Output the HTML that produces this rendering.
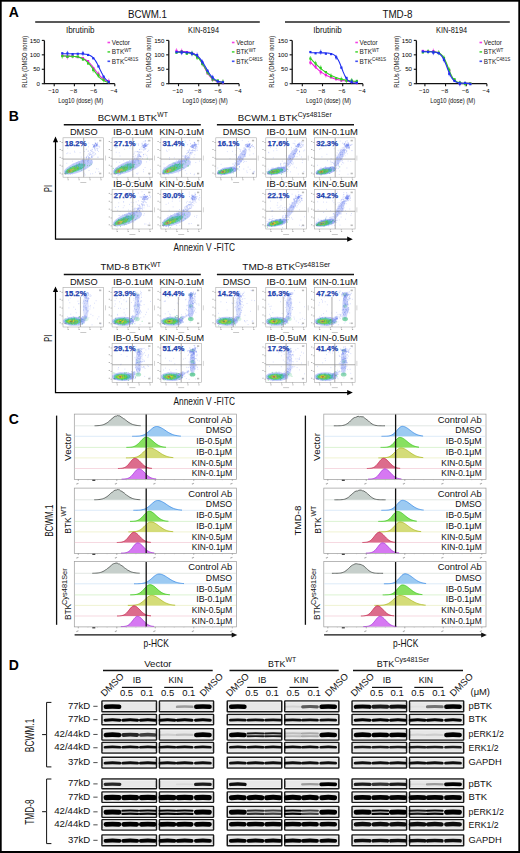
<!DOCTYPE html>
<html><head><meta charset="utf-8"><style>
html,body{margin:0;padding:0;background:#fff;}
svg{display:block;font-family:"Liberation Sans", sans-serif;}
</style></head><body>
<svg width="520" height="853" viewBox="0 0 520 853">
<defs>
<filter id="bb" filterUnits="userSpaceOnUse" x="90" y="690" width="390" height="165"><feGaussianBlur stdDeviation="0.5"/></filter>
<filter id="b1" x="-30%" y="-80%" width="160%" height="260%"><feGaussianBlur stdDeviation="0.7"/></filter>
<filter id="b2" x="-30%" y="-80%" width="160%" height="260%"><feGaussianBlur stdDeviation="1.4"/></filter>
<filter id="b3" x="-50%" y="-50%" width="200%" height="200%"><feGaussianBlur stdDeviation="2.2"/></filter>
</defs>
<rect x="0.85" y="0.85" width="518.3" height="851.3" fill="none" stroke="#000" stroke-width="1.7"/>
<rect x="0" y="851" width="520" height="2" fill="#000"/>
<text x="8.8" y="17" font-size="14" text-anchor="start" font-weight="bold" fill="#000" >A</text>
<text x="8.8" y="120.9" font-size="14" text-anchor="start" font-weight="bold" fill="#000" >B</text>
<text x="8.8" y="423.7" font-size="14" text-anchor="start" font-weight="bold" fill="#000" >C</text>
<text x="8.8" y="670.2" font-size="14" text-anchor="start" font-weight="bold" fill="#000" >D</text>
<text x="147.5" y="18.3" font-size="10" text-anchor="middle" font-weight="normal" fill="#111" textLength="39" lengthAdjust="spacingAndGlyphs" >BCWM.1</text>
<line x1="35.2" y1="22" x2="259.8" y2="22" stroke="#222" stroke-width="1.6" />
<text x="397.4" y="18.3" font-size="10" text-anchor="middle" font-weight="normal" fill="#111" textLength="30" lengthAdjust="spacingAndGlyphs" >TMD-8</text>
<line x1="285" y1="22" x2="509.8" y2="22" stroke="#222" stroke-width="1.6" />
<text x="80.2" y="33" font-size="8.6" text-anchor="middle" font-weight="normal" fill="#111" textLength="28.5" lengthAdjust="spacingAndGlyphs" >Ibrutinib</text>
<path d="M44.4 40.4 V83.7 H114.8" fill="none" stroke="#111" stroke-width="1.3"/>
<line x1="41.8" y1="83.7" x2="44.4" y2="83.7" stroke="#111" stroke-width="1.1" />
<text x="40" y="85.9" font-size="6.1" text-anchor="end" font-weight="normal" fill="#000" >0</text>
<line x1="41.8" y1="69.27" x2="44.4" y2="69.27" stroke="#111" stroke-width="1.1" />
<text x="40" y="71.47" font-size="6.1" text-anchor="end" font-weight="normal" fill="#000" >50</text>
<line x1="41.8" y1="54.83" x2="44.4" y2="54.83" stroke="#111" stroke-width="1.1" />
<text x="40" y="57.03" font-size="6.1" text-anchor="end" font-weight="normal" fill="#000" >100</text>
<line x1="41.8" y1="40.4" x2="44.4" y2="40.4" stroke="#111" stroke-width="1.1" />
<text x="40" y="42.6" font-size="6.1" text-anchor="end" font-weight="normal" fill="#000" >150</text>
<line x1="54.2" y1="83.7" x2="54.2" y2="86.2" stroke="#111" stroke-width="1.1" />
<text x="53.4" y="92.8" font-size="6.1" text-anchor="middle" font-weight="normal" fill="#000" >−10</text>
<line x1="74.4" y1="83.7" x2="74.4" y2="86.2" stroke="#111" stroke-width="1.1" />
<text x="73.6" y="92.8" font-size="6.1" text-anchor="middle" font-weight="normal" fill="#000" >−8</text>
<line x1="94.6" y1="83.7" x2="94.6" y2="86.2" stroke="#111" stroke-width="1.1" />
<text x="93.8" y="92.8" font-size="6.1" text-anchor="middle" font-weight="normal" fill="#000" >−6</text>
<line x1="114.8" y1="83.7" x2="114.8" y2="86.2" stroke="#111" stroke-width="1.1" />
<text x="114" y="92.8" font-size="6.1" text-anchor="middle" font-weight="normal" fill="#000" >−4</text>
<text x="58.2" y="102.6" font-size="7.4" text-anchor="start" font-weight="normal" fill="#111" textLength="45" lengthAdjust="spacingAndGlyphs" >Log10 (dose) (M)</text>
<text transform="translate(26.6,87.7) rotate(-90)" font-size="7.2" font-weight="normal" fill="#111" textLength="51.9" lengthAdjust="spacingAndGlyphs">RLUs (DMSO norm)</text>
<rect x="107.5" y="41.7" width="2.6" height="1.6" fill="#f020e0" opacity="0.85"/>
<text x="111.8" y="44.8" font-size="6.4" fill="#222">Vector</text>
<rect x="107.5" y="51.1" width="2.6" height="1.6" fill="#30d020" opacity="0.85"/>
<text x="111.8" y="54.2" font-size="6.4" fill="#222">BTK<tspan font-size="4.6" dy="-2.6">WT</tspan></text>
<rect x="107.5" y="60.5" width="2.6" height="1.6" fill="#2030f0" opacity="0.85"/>
<text x="111.8" y="63.6" font-size="6.4" fill="#222">BTK<tspan font-size="4.6" dy="-2.6">C481S</tspan></text>
<polyline points="62.28,56.04 63.05,56.04 63.83,56.05 64.6,56.06 65.38,56.07 66.15,56.09 66.93,56.11 67.7,56.12 68.47,56.15 69.25,56.17 70.02,56.2 70.8,56.24 71.57,56.27 72.35,56.32 73.12,56.37 73.9,56.44 74.67,56.51 75.44,56.59 76.22,56.68 76.99,56.79 77.77,56.92 78.54,57.06 79.32,57.23 80.09,57.42 80.86,57.64 81.64,57.89 82.41,58.17 83.19,58.49 83.96,58.85 84.74,59.26 85.51,59.72 86.28,60.24 87.06,60.8 87.83,61.43 88.61,62.12 89.38,62.86 90.16,63.67 90.93,64.53 91.7,65.44 92.48,66.39 93.25,67.38 94.03,68.4 94.8,69.44 95.58,70.48 96.35,71.51 97.12,72.52 97.9,73.51 98.67,74.45 99.45,75.35 100.22,76.2 101,76.99 101.77,77.73 102.55,78.4 103.32,79.01 104.09,79.57 104.87,80.07 105.64,80.52 106.42,80.92 107.19,81.27 107.97,81.58 108.74,81.86" fill="none" stroke="#f020e0" stroke-width="1.1"/>
<rect x="61.18" y="54.32" width="2.2" height="2.2" fill="#f020e0"/>
<rect x="66.34" y="55.83" width="2.2" height="2.2" fill="#f020e0"/>
<line x1="67.44" y1="54.43" x2="67.44" y2="59.43" stroke="#f020e0" stroke-width="0.6" />
<rect x="71.5" y="54.77" width="2.2" height="2.2" fill="#f020e0"/>
<line x1="72.6" y1="53.37" x2="72.6" y2="58.37" stroke="#f020e0" stroke-width="0.6" />
<rect x="76.67" y="56.05" width="2.2" height="2.2" fill="#f020e0"/>
<rect x="81.83" y="56.93" width="2.2" height="2.2" fill="#f020e0"/>
<rect x="86.99" y="60.01" width="2.2" height="2.2" fill="#f020e0"/>
<rect x="92.15" y="66.98" width="2.2" height="2.2" fill="#f020e0"/>
<rect x="97.32" y="72.78" width="2.2" height="2.2" fill="#f020e0"/>
<line x1="98.42" y1="71.38" x2="98.42" y2="76.38" stroke="#f020e0" stroke-width="0.6" />
<rect x="102.48" y="77.9" width="2.2" height="2.2" fill="#f020e0"/>
<rect x="107.64" y="80.09" width="2.2" height="2.2" fill="#f020e0"/>
<line x1="108.74" y1="78.69" x2="108.74" y2="83.69" stroke="#f020e0" stroke-width="0.6" />
<polyline points="62.28,56.03 63.05,56.04 63.83,56.05 64.6,56.06 65.38,56.07 66.15,56.09 66.93,56.1 67.7,56.12 68.47,56.15 69.25,56.17 70.02,56.21 70.8,56.24 71.57,56.29 72.35,56.34 73.12,56.4 73.9,56.47 74.67,56.55 75.44,56.64 76.22,56.75 76.99,56.88 77.77,57.03 78.54,57.2 79.32,57.39 80.09,57.62 80.86,57.88 81.64,58.18 82.41,58.53 83.19,58.92 83.96,59.36 84.74,59.86 85.51,60.42 86.28,61.05 87.06,61.74 87.83,62.5 88.61,63.32 89.38,64.21 90.16,65.15 90.93,66.15 91.7,67.2 92.48,68.27 93.25,69.37 94.03,70.47 94.8,71.56 95.58,72.63 96.35,73.67 97.12,74.66 97.9,75.6 98.67,76.48 99.45,77.29 100.22,78.04 101,78.73 101.77,79.34 102.55,79.89 103.32,80.39 104.09,80.82 104.87,81.21 105.64,81.54 106.42,81.84 107.19,82.1 107.97,82.32 108.74,82.52" fill="none" stroke="#30d020" stroke-width="1.1"/>
<rect x="61.18" y="55" width="2.2" height="2.2" fill="#30d020"/>
<line x1="62.28" y1="53.6" x2="62.28" y2="58.6" stroke="#30d020" stroke-width="0.6" />
<rect x="66.34" y="55.77" width="2.2" height="2.2" fill="#30d020"/>
<rect x="71.5" y="55.49" width="2.2" height="2.2" fill="#30d020"/>
<rect x="76.67" y="55.34" width="2.2" height="2.2" fill="#30d020"/>
<rect x="81.83" y="58.49" width="2.2" height="2.2" fill="#30d020"/>
<rect x="86.99" y="62.45" width="2.2" height="2.2" fill="#30d020"/>
<rect x="92.15" y="68.92" width="2.2" height="2.2" fill="#30d020"/>
<line x1="93.25" y1="67.52" x2="93.25" y2="72.52" stroke="#30d020" stroke-width="0.6" />
<rect x="97.32" y="74.24" width="2.2" height="2.2" fill="#30d020"/>
<line x1="98.42" y1="72.84" x2="98.42" y2="77.84" stroke="#30d020" stroke-width="0.6" />
<rect x="102.48" y="78.75" width="2.2" height="2.2" fill="#30d020"/>
<line x1="103.58" y1="77.35" x2="103.58" y2="82.35" stroke="#30d020" stroke-width="0.6" />
<rect x="107.64" y="80.96" width="2.2" height="2.2" fill="#30d020"/>
<polyline points="62.28,53.68 63.05,53.68 63.83,53.68 64.6,53.68 65.38,53.68 66.15,53.68 66.93,53.68 67.7,53.68 68.47,53.68 69.25,53.68 70.02,53.69 70.8,53.69 71.57,53.69 72.35,53.69 73.12,53.69 73.9,53.7 74.67,53.7 75.44,53.71 76.22,53.72 76.99,53.73 77.77,53.74 78.54,53.75 79.32,53.77 80.09,53.79 80.86,53.82 81.64,53.85 82.41,53.9 83.19,53.95 83.96,54.02 84.74,54.1 85.51,54.2 86.28,54.33 87.06,54.49 87.83,54.68 88.61,54.92 89.38,55.21 90.16,55.56 90.93,55.99 91.7,56.5 92.48,57.12 93.25,57.85 94.03,58.71 94.8,59.71 95.58,60.84 96.35,62.11 97.12,63.51 97.9,65.02 98.67,66.61 99.45,68.26 100.22,69.91 101,71.53 101.77,73.09 102.55,74.55 103.32,75.89 104.09,77.1 104.87,78.17 105.64,79.09 106.42,79.89 107.19,80.57 107.97,81.13 108.74,81.61" fill="none" stroke="#2030f0" stroke-width="1.1"/>
<rect x="61.18" y="52.16" width="2.2" height="2.2" fill="#2030f0"/>
<rect x="66.34" y="52.27" width="2.2" height="2.2" fill="#2030f0"/>
<line x1="67.44" y1="50.87" x2="67.44" y2="55.87" stroke="#2030f0" stroke-width="0.6" />
<rect x="71.5" y="53.03" width="2.2" height="2.2" fill="#2030f0"/>
<rect x="76.67" y="52.69" width="2.2" height="2.2" fill="#2030f0"/>
<rect x="81.83" y="52.28" width="2.2" height="2.2" fill="#2030f0"/>
<line x1="82.93" y1="50.88" x2="82.93" y2="55.88" stroke="#2030f0" stroke-width="0.6" />
<rect x="86.99" y="53.84" width="2.2" height="2.2" fill="#2030f0"/>
<rect x="92.15" y="57.21" width="2.2" height="2.2" fill="#2030f0"/>
<rect x="97.32" y="65.32" width="2.2" height="2.2" fill="#2030f0"/>
<rect x="102.48" y="75.59" width="2.2" height="2.2" fill="#2030f0"/>
<rect x="107.64" y="80.94" width="2.2" height="2.2" fill="#2030f0"/>
<text x="203.5" y="33" font-size="8.6" text-anchor="middle" font-weight="normal" fill="#111" textLength="31" lengthAdjust="spacingAndGlyphs" >KIN-8194</text>
<path d="M168.8 40.4 V83.7 H239.1" fill="none" stroke="#111" stroke-width="1.3"/>
<line x1="166.2" y1="83.7" x2="168.8" y2="83.7" stroke="#111" stroke-width="1.1" />
<text x="164.4" y="85.9" font-size="6.1" text-anchor="end" font-weight="normal" fill="#000" >0</text>
<line x1="166.2" y1="69.27" x2="168.8" y2="69.27" stroke="#111" stroke-width="1.1" />
<text x="164.4" y="71.47" font-size="6.1" text-anchor="end" font-weight="normal" fill="#000" >50</text>
<line x1="166.2" y1="54.83" x2="168.8" y2="54.83" stroke="#111" stroke-width="1.1" />
<text x="164.4" y="57.03" font-size="6.1" text-anchor="end" font-weight="normal" fill="#000" >100</text>
<line x1="166.2" y1="40.4" x2="168.8" y2="40.4" stroke="#111" stroke-width="1.1" />
<text x="164.4" y="42.6" font-size="6.1" text-anchor="end" font-weight="normal" fill="#000" >150</text>
<line x1="178.5" y1="83.7" x2="178.5" y2="86.2" stroke="#111" stroke-width="1.1" />
<text x="177.7" y="92.8" font-size="6.1" text-anchor="middle" font-weight="normal" fill="#000" >−10</text>
<line x1="198.7" y1="83.7" x2="198.7" y2="86.2" stroke="#111" stroke-width="1.1" />
<text x="197.9" y="92.8" font-size="6.1" text-anchor="middle" font-weight="normal" fill="#000" >−8</text>
<line x1="218.9" y1="83.7" x2="218.9" y2="86.2" stroke="#111" stroke-width="1.1" />
<text x="218.1" y="92.8" font-size="6.1" text-anchor="middle" font-weight="normal" fill="#000" >−6</text>
<line x1="239.1" y1="83.7" x2="239.1" y2="86.2" stroke="#111" stroke-width="1.1" />
<text x="238.3" y="92.8" font-size="6.1" text-anchor="middle" font-weight="normal" fill="#000" >−4</text>
<text x="182.6" y="102.6" font-size="7.4" text-anchor="start" font-weight="normal" fill="#111" textLength="45" lengthAdjust="spacingAndGlyphs" >Log10 (dose) (M)</text>
<text transform="translate(151,87.7) rotate(-90)" font-size="7.2" font-weight="normal" fill="#111" textLength="51.9" lengthAdjust="spacingAndGlyphs">RLUs (DMSO norm)</text>
<rect x="231.9" y="41.7" width="2.6" height="1.6" fill="#f020e0" opacity="0.85"/>
<text x="236.2" y="44.8" font-size="6.4" fill="#222">Vector</text>
<rect x="231.9" y="51.1" width="2.6" height="1.6" fill="#30d020" opacity="0.85"/>
<text x="236.2" y="54.2" font-size="6.4" fill="#222">BTK<tspan font-size="4.6" dy="-2.6">WT</tspan></text>
<rect x="231.9" y="60.5" width="2.6" height="1.6" fill="#2030f0" opacity="0.85"/>
<text x="236.2" y="63.6" font-size="6.4" fill="#222">BTK<tspan font-size="4.6" dy="-2.6">C481S</tspan></text>
<polyline points="176.48,51.41 177.25,51.42 178.03,51.43 178.8,51.44 179.58,51.45 180.35,51.47 181.13,51.49 181.9,51.52 182.67,51.55 183.45,51.58 184.22,51.63 185,51.68 185.77,51.74 186.55,51.82 187.32,51.91 188.09,52.01 188.87,52.14 189.64,52.29 190.42,52.48 191.19,52.69 191.97,52.95 192.74,53.25 193.52,53.6 194.29,54.02 195.06,54.51 195.84,55.07 196.61,55.72 197.39,56.46 198.16,57.31 198.94,58.25 199.71,59.3 200.48,60.45 201.26,61.69 202.03,63.01 202.81,64.4 203.58,65.84 204.36,67.29 205.13,68.74 205.9,70.17 206.68,71.54 207.45,72.85 208.23,74.07 209,75.19 209.78,76.21 210.55,77.13 211.32,77.94 212.1,78.66 212.87,79.29 213.65,79.83 214.42,80.3 215.2,80.7 215.97,81.04 216.75,81.33 217.52,81.57 218.29,81.78 219.07,81.95 219.84,82.1 220.62,82.22 221.39,82.32 222.17,82.41 222.94,82.48" fill="none" stroke="#f020e0" stroke-width="1.1"/>
<rect x="175.38" y="49.71" width="2.2" height="2.2" fill="#f020e0"/>
<line x1="176.48" y1="48.31" x2="176.48" y2="53.31" stroke="#f020e0" stroke-width="0.6" />
<rect x="180.54" y="50.02" width="2.2" height="2.2" fill="#f020e0"/>
<line x1="181.64" y1="48.62" x2="181.64" y2="53.62" stroke="#f020e0" stroke-width="0.6" />
<rect x="185.7" y="50.98" width="2.2" height="2.2" fill="#f020e0"/>
<rect x="190.87" y="52.17" width="2.2" height="2.2" fill="#f020e0"/>
<rect x="196.03" y="55.19" width="2.2" height="2.2" fill="#f020e0"/>
<line x1="197.13" y1="53.79" x2="197.13" y2="58.79" stroke="#f020e0" stroke-width="0.6" />
<rect x="201.19" y="61.91" width="2.2" height="2.2" fill="#f020e0"/>
<line x1="202.29" y1="60.51" x2="202.29" y2="65.51" stroke="#f020e0" stroke-width="0.6" />
<rect x="206.35" y="72.22" width="2.2" height="2.2" fill="#f020e0"/>
<rect x="211.52" y="78.81" width="2.2" height="2.2" fill="#f020e0"/>
<rect x="216.68" y="80.15" width="2.2" height="2.2" fill="#f020e0"/>
<rect x="221.84" y="81.29" width="2.2" height="2.2" fill="#f020e0"/>
<line x1="222.94" y1="79.89" x2="222.94" y2="84.89" stroke="#f020e0" stroke-width="0.6" />
<polyline points="176.48,52.28 177.25,52.29 178.03,52.3 178.8,52.32 179.58,52.33 180.35,52.35 181.13,52.37 181.9,52.4 182.67,52.43 183.45,52.47 184.22,52.52 185,52.57 185.77,52.63 186.55,52.71 187.32,52.8 188.09,52.91 188.87,53.03 189.64,53.18 190.42,53.36 191.19,53.56 191.97,53.81 192.74,54.09 193.52,54.42 194.29,54.81 195.06,55.26 195.84,55.78 196.61,56.37 197.39,57.04 198.16,57.8 198.94,58.65 199.71,59.59 200.48,60.62 201.26,61.73 202.03,62.93 202.81,64.18 203.58,65.49 204.36,66.83 205.13,68.18 205.9,69.52 206.68,70.83 207.45,72.09 208.23,73.29 209,74.41 209.78,75.44 210.55,76.38 211.32,77.24 212.1,78 212.87,78.68 213.65,79.27 214.42,79.79 215.2,80.24 215.97,80.63 216.75,80.96 217.52,81.25 218.29,81.5 219.07,81.7 219.84,81.88 220.62,82.03 221.39,82.16 222.17,82.27 222.94,82.36" fill="none" stroke="#30d020" stroke-width="1.1"/>
<rect x="175.38" y="51.71" width="2.2" height="2.2" fill="#30d020"/>
<rect x="180.54" y="50.57" width="2.2" height="2.2" fill="#30d020"/>
<rect x="185.7" y="52.68" width="2.2" height="2.2" fill="#30d020"/>
<rect x="190.87" y="52.1" width="2.2" height="2.2" fill="#30d020"/>
<line x1="191.97" y1="50.7" x2="191.97" y2="55.7" stroke="#30d020" stroke-width="0.6" />
<rect x="196.03" y="56.43" width="2.2" height="2.2" fill="#30d020"/>
<line x1="197.13" y1="55.03" x2="197.13" y2="60.03" stroke="#30d020" stroke-width="0.6" />
<rect x="201.19" y="62.8" width="2.2" height="2.2" fill="#30d020"/>
<line x1="202.29" y1="61.4" x2="202.29" y2="66.4" stroke="#30d020" stroke-width="0.6" />
<rect x="206.35" y="71.11" width="2.2" height="2.2" fill="#30d020"/>
<line x1="207.45" y1="69.71" x2="207.45" y2="74.71" stroke="#30d020" stroke-width="0.6" />
<rect x="211.52" y="78.25" width="2.2" height="2.2" fill="#30d020"/>
<line x1="212.62" y1="76.85" x2="212.62" y2="81.85" stroke="#30d020" stroke-width="0.6" />
<rect x="216.68" y="79.3" width="2.2" height="2.2" fill="#30d020"/>
<rect x="221.84" y="80.75" width="2.2" height="2.2" fill="#30d020"/>
<line x1="222.94" y1="79.35" x2="222.94" y2="84.35" stroke="#30d020" stroke-width="0.6" />
<polyline points="176.48,51.99 177.25,51.99 178.03,52 178.8,52.01 179.58,52.03 180.35,52.04 181.13,52.06 181.9,52.08 182.67,52.11 183.45,52.14 184.22,52.17 185,52.22 185.77,52.27 186.55,52.33 187.32,52.4 188.09,52.49 188.87,52.59 189.64,52.71 190.42,52.85 191.19,53.02 191.97,53.22 192.74,53.45 193.52,53.73 194.29,54.05 195.06,54.42 195.84,54.85 196.61,55.35 197.39,55.93 198.16,56.58 198.94,57.32 199.71,58.15 200.48,59.07 201.26,60.08 202.03,61.18 202.81,62.36 203.58,63.62 204.36,64.92 205.13,66.27 205.9,67.63 206.68,68.98 207.45,70.32 208.23,71.61 209,72.84 209.78,73.99 210.55,75.06 211.32,76.04 212.1,76.93 212.87,77.73 213.65,78.44 214.42,79.06 215.2,79.61 215.97,80.08 216.75,80.5 217.52,80.85 218.29,81.15 219.07,81.41 219.84,81.63 220.62,81.82 221.39,81.98 222.17,82.12 222.94,82.23" fill="none" stroke="#2030f0" stroke-width="1.1"/>
<rect x="175.38" y="50.96" width="2.2" height="2.2" fill="#2030f0"/>
<rect x="180.54" y="51.55" width="2.2" height="2.2" fill="#2030f0"/>
<line x1="181.64" y1="50.15" x2="181.64" y2="55.15" stroke="#2030f0" stroke-width="0.6" />
<rect x="185.7" y="51.48" width="2.2" height="2.2" fill="#2030f0"/>
<rect x="190.87" y="52.64" width="2.2" height="2.2" fill="#2030f0"/>
<line x1="191.97" y1="51.24" x2="191.97" y2="56.24" stroke="#2030f0" stroke-width="0.6" />
<rect x="196.03" y="54.04" width="2.2" height="2.2" fill="#2030f0"/>
<line x1="197.13" y1="52.64" x2="197.13" y2="57.64" stroke="#2030f0" stroke-width="0.6" />
<rect x="201.19" y="61" width="2.2" height="2.2" fill="#2030f0"/>
<line x1="202.29" y1="59.6" x2="202.29" y2="64.6" stroke="#2030f0" stroke-width="0.6" />
<rect x="206.35" y="69.6" width="2.2" height="2.2" fill="#2030f0"/>
<rect x="211.52" y="76.27" width="2.2" height="2.2" fill="#2030f0"/>
<line x1="212.62" y1="74.87" x2="212.62" y2="79.87" stroke="#2030f0" stroke-width="0.6" />
<rect x="216.68" y="80.5" width="2.2" height="2.2" fill="#2030f0"/>
<rect x="221.84" y="81.21" width="2.2" height="2.2" fill="#2030f0"/>
<text x="327.5" y="33" font-size="8.6" text-anchor="middle" font-weight="normal" fill="#111" textLength="28.5" lengthAdjust="spacingAndGlyphs" >Ibrutinib</text>
<path d="M292.2 40.4 V83.7 H362.9" fill="none" stroke="#111" stroke-width="1.3"/>
<line x1="289.6" y1="83.7" x2="292.2" y2="83.7" stroke="#111" stroke-width="1.1" />
<text x="287.8" y="85.9" font-size="6.1" text-anchor="end" font-weight="normal" fill="#000" >0</text>
<line x1="289.6" y1="69.27" x2="292.2" y2="69.27" stroke="#111" stroke-width="1.1" />
<text x="287.8" y="71.47" font-size="6.1" text-anchor="end" font-weight="normal" fill="#000" >50</text>
<line x1="289.6" y1="54.83" x2="292.2" y2="54.83" stroke="#111" stroke-width="1.1" />
<text x="287.8" y="57.03" font-size="6.1" text-anchor="end" font-weight="normal" fill="#000" >100</text>
<line x1="289.6" y1="40.4" x2="292.2" y2="40.4" stroke="#111" stroke-width="1.1" />
<text x="287.8" y="42.6" font-size="6.1" text-anchor="end" font-weight="normal" fill="#000" >150</text>
<line x1="302.3" y1="83.7" x2="302.3" y2="86.2" stroke="#111" stroke-width="1.1" />
<text x="301.5" y="92.8" font-size="6.1" text-anchor="middle" font-weight="normal" fill="#000" >−10</text>
<line x1="322.5" y1="83.7" x2="322.5" y2="86.2" stroke="#111" stroke-width="1.1" />
<text x="321.7" y="92.8" font-size="6.1" text-anchor="middle" font-weight="normal" fill="#000" >−8</text>
<line x1="342.7" y1="83.7" x2="342.7" y2="86.2" stroke="#111" stroke-width="1.1" />
<text x="341.9" y="92.8" font-size="6.1" text-anchor="middle" font-weight="normal" fill="#000" >−6</text>
<line x1="362.9" y1="83.7" x2="362.9" y2="86.2" stroke="#111" stroke-width="1.1" />
<text x="362.1" y="92.8" font-size="6.1" text-anchor="middle" font-weight="normal" fill="#000" >−4</text>
<text x="306" y="102.6" font-size="7.4" text-anchor="start" font-weight="normal" fill="#111" textLength="45" lengthAdjust="spacingAndGlyphs" >Log10 (dose) (M)</text>
<text transform="translate(274.4,87.7) rotate(-90)" font-size="7.2" font-weight="normal" fill="#111" textLength="51.9" lengthAdjust="spacingAndGlyphs">RLUs (DMSO norm)</text>
<rect x="355.3" y="41.7" width="2.6" height="1.6" fill="#f020e0" opacity="0.85"/>
<text x="359.6" y="44.8" font-size="6.4" fill="#222">Vector</text>
<rect x="355.3" y="51.1" width="2.6" height="1.6" fill="#30d020" opacity="0.85"/>
<text x="359.6" y="54.2" font-size="6.4" fill="#222">BTK<tspan font-size="4.6" dy="-2.6">WT</tspan></text>
<rect x="355.3" y="60.5" width="2.6" height="1.6" fill="#2030f0" opacity="0.85"/>
<text x="359.6" y="63.6" font-size="6.4" fill="#222">BTK<tspan font-size="4.6" dy="-2.6">C481S</tspan></text>
<polyline points="310.38,61.96 311.15,62.81 311.93,63.64 312.7,64.45 313.48,65.25 314.25,66.03 315.03,66.78 315.8,67.52 316.57,68.23 317.35,68.92 318.12,69.59 318.9,70.23 319.67,70.85 320.45,71.45 321.22,72.03 322,72.58 322.77,73.11 323.54,73.61 324.32,74.1 325.09,74.56 325.87,75 326.64,75.42 327.42,75.82 328.19,76.2 328.96,76.57 329.74,76.91 330.51,77.24 331.29,77.55 332.06,77.84 332.84,78.12 333.61,78.38 334.38,78.63 335.16,78.86 335.93,79.08 336.71,79.29 337.48,79.49 338.26,79.67 339.03,79.85 339.8,80.01 340.58,80.17 341.35,80.31 342.13,80.45 342.9,80.58 343.68,80.7 344.45,80.82 345.23,80.92 346,81.03 346.77,81.12 347.55,81.21 348.32,81.29 349.1,81.37 349.87,81.45 350.65,81.51 351.42,81.58 352.19,81.64 352.97,81.7 353.74,81.75 354.52,81.8 355.29,81.85 356.07,81.89 356.84,81.93" fill="none" stroke="#f020e0" stroke-width="1.1"/>
<rect x="309.28" y="61.5" width="2.2" height="2.2" fill="#f020e0"/>
<line x1="310.38" y1="60.1" x2="310.38" y2="65.1" stroke="#f020e0" stroke-width="0.6" />
<rect x="314.44" y="65.38" width="2.2" height="2.2" fill="#f020e0"/>
<line x1="315.54" y1="63.98" x2="315.54" y2="68.98" stroke="#f020e0" stroke-width="0.6" />
<rect x="319.6" y="71.16" width="2.2" height="2.2" fill="#f020e0"/>
<line x1="320.7" y1="69.76" x2="320.7" y2="74.76" stroke="#f020e0" stroke-width="0.6" />
<rect x="324.77" y="73.91" width="2.2" height="2.2" fill="#f020e0"/>
<line x1="325.87" y1="72.51" x2="325.87" y2="77.51" stroke="#f020e0" stroke-width="0.6" />
<rect x="329.93" y="76.17" width="2.2" height="2.2" fill="#f020e0"/>
<rect x="335.09" y="78.2" width="2.2" height="2.2" fill="#f020e0"/>
<rect x="340.25" y="79.61" width="2.2" height="2.2" fill="#f020e0"/>
<rect x="345.42" y="79.62" width="2.2" height="2.2" fill="#f020e0"/>
<rect x="350.58" y="80.95" width="2.2" height="2.2" fill="#f020e0"/>
<rect x="355.74" y="81.41" width="2.2" height="2.2" fill="#f020e0"/>
<line x1="356.84" y1="80.01" x2="356.84" y2="85.01" stroke="#f020e0" stroke-width="0.6" />
<polyline points="310.38,58.29 311.15,59.13 311.93,59.96 312.7,60.78 313.48,61.59 314.25,62.38 315.03,63.17 315.8,63.93 316.57,64.69 317.35,65.43 318.12,66.15 318.9,66.85 319.67,67.53 320.45,68.2 321.22,68.85 322,69.47 322.77,70.08 323.54,70.66 324.32,71.23 325.09,71.78 325.87,72.3 326.64,72.81 327.42,73.29 328.19,73.76 328.96,74.2 329.74,74.63 330.51,75.04 331.29,75.43 332.06,75.81 332.84,76.16 333.61,76.51 334.38,76.83 335.16,77.14 335.93,77.43 336.71,77.71 337.48,77.98 338.26,78.23 339.03,78.47 339.8,78.7 340.58,78.91 341.35,79.12 342.13,79.31 342.9,79.49 343.68,79.67 344.45,79.83 345.23,79.99 346,80.13 346.77,80.27 347.55,80.4 348.32,80.53 349.1,80.64 349.87,80.75 350.65,80.86 351.42,80.95 352.19,81.05 352.97,81.13 353.74,81.22 354.52,81.3 355.29,81.37 356.07,81.44 356.84,81.5" fill="none" stroke="#30d020" stroke-width="1.1"/>
<rect x="309.28" y="57.46" width="2.2" height="2.2" fill="#30d020"/>
<line x1="310.38" y1="56.06" x2="310.38" y2="61.06" stroke="#30d020" stroke-width="0.6" />
<rect x="314.44" y="62.25" width="2.2" height="2.2" fill="#30d020"/>
<line x1="315.54" y1="60.85" x2="315.54" y2="65.85" stroke="#30d020" stroke-width="0.6" />
<rect x="319.6" y="66.77" width="2.2" height="2.2" fill="#30d020"/>
<line x1="320.7" y1="65.37" x2="320.7" y2="70.37" stroke="#30d020" stroke-width="0.6" />
<rect x="324.77" y="70.99" width="2.2" height="2.2" fill="#30d020"/>
<rect x="329.93" y="74.86" width="2.2" height="2.2" fill="#30d020"/>
<line x1="331.03" y1="73.46" x2="331.03" y2="78.46" stroke="#30d020" stroke-width="0.6" />
<rect x="335.09" y="77.14" width="2.2" height="2.2" fill="#30d020"/>
<rect x="340.25" y="78.08" width="2.2" height="2.2" fill="#30d020"/>
<line x1="341.35" y1="76.68" x2="341.35" y2="81.68" stroke="#30d020" stroke-width="0.6" />
<rect x="345.42" y="79.62" width="2.2" height="2.2" fill="#30d020"/>
<line x1="346.52" y1="78.22" x2="346.52" y2="83.22" stroke="#30d020" stroke-width="0.6" />
<rect x="350.58" y="79.37" width="2.2" height="2.2" fill="#30d020"/>
<line x1="351.68" y1="77.97" x2="351.68" y2="82.97" stroke="#30d020" stroke-width="0.6" />
<rect x="355.74" y="79.81" width="2.2" height="2.2" fill="#30d020"/>
<polyline points="310.38,52.81 311.15,52.81 311.93,52.81 312.7,52.81 313.48,52.81 314.25,52.82 315.03,52.82 315.8,52.82 316.57,52.82 317.35,52.82 318.12,52.82 318.9,52.83 319.67,52.83 320.45,52.83 321.22,52.84 322,52.85 322.77,52.86 323.54,52.87 324.32,52.89 325.09,52.92 325.87,52.95 326.64,52.99 327.42,53.04 328.19,53.11 328.96,53.2 329.74,53.32 330.51,53.47 331.29,53.66 332.06,53.91 332.84,54.23 333.61,54.63 334.38,55.14 335.16,55.77 335.93,56.56 336.71,57.52 337.48,58.68 338.26,60.04 339.03,61.6 339.8,63.34 340.58,65.24 341.35,67.23 342.13,69.25 342.9,71.24 343.68,73.12 344.45,74.84 345.23,76.38 346,77.71 346.77,78.84 347.55,79.77 348.32,80.54 349.1,81.16 349.87,81.65 350.65,82.04 351.42,82.35 352.19,82.59 352.97,82.78 353.74,82.92 354.52,83.04 355.29,83.12 356.07,83.19 356.84,83.24" fill="none" stroke="#2030f0" stroke-width="1.1"/>
<rect x="309.28" y="50.95" width="2.2" height="2.2" fill="#2030f0"/>
<rect x="314.44" y="52.21" width="2.2" height="2.2" fill="#2030f0"/>
<rect x="319.6" y="51.04" width="2.2" height="2.2" fill="#2030f0"/>
<line x1="320.7" y1="49.64" x2="320.7" y2="54.64" stroke="#2030f0" stroke-width="0.6" />
<rect x="324.77" y="52.6" width="2.2" height="2.2" fill="#2030f0"/>
<rect x="329.93" y="53" width="2.2" height="2.2" fill="#2030f0"/>
<rect x="335.09" y="56.26" width="2.2" height="2.2" fill="#2030f0"/>
<line x1="336.19" y1="54.86" x2="336.19" y2="59.86" stroke="#2030f0" stroke-width="0.6" />
<rect x="340.25" y="66.53" width="2.2" height="2.2" fill="#2030f0"/>
<rect x="345.42" y="76.82" width="2.2" height="2.2" fill="#2030f0"/>
<rect x="350.58" y="80.58" width="2.2" height="2.2" fill="#2030f0"/>
<line x1="351.68" y1="79.18" x2="351.68" y2="84.18" stroke="#2030f0" stroke-width="0.6" />
<rect x="355.74" y="81.47" width="2.2" height="2.2" fill="#2030f0"/>
<text x="451.6" y="33" font-size="8.6" text-anchor="middle" font-weight="normal" fill="#111" textLength="31" lengthAdjust="spacingAndGlyphs" >KIN-8194</text>
<path d="M416.4 40.4 V83.7 H486.88" fill="none" stroke="#111" stroke-width="1.3"/>
<line x1="413.8" y1="83.7" x2="416.4" y2="83.7" stroke="#111" stroke-width="1.1" />
<text x="412" y="85.9" font-size="6.1" text-anchor="end" font-weight="normal" fill="#000" >0</text>
<line x1="413.8" y1="69.27" x2="416.4" y2="69.27" stroke="#111" stroke-width="1.1" />
<text x="412" y="71.47" font-size="6.1" text-anchor="end" font-weight="normal" fill="#000" >50</text>
<line x1="413.8" y1="54.83" x2="416.4" y2="54.83" stroke="#111" stroke-width="1.1" />
<text x="412" y="57.03" font-size="6.1" text-anchor="end" font-weight="normal" fill="#000" >100</text>
<line x1="413.8" y1="40.4" x2="416.4" y2="40.4" stroke="#111" stroke-width="1.1" />
<text x="412" y="42.6" font-size="6.1" text-anchor="end" font-weight="normal" fill="#000" >150</text>
<line x1="424.9" y1="83.7" x2="424.9" y2="86.2" stroke="#111" stroke-width="1.1" />
<text x="424.1" y="92.8" font-size="6.1" text-anchor="middle" font-weight="normal" fill="#000" >−10</text>
<line x1="445.56" y1="83.7" x2="445.56" y2="86.2" stroke="#111" stroke-width="1.1" />
<text x="444.76" y="92.8" font-size="6.1" text-anchor="middle" font-weight="normal" fill="#000" >−8</text>
<line x1="466.22" y1="83.7" x2="466.22" y2="86.2" stroke="#111" stroke-width="1.1" />
<text x="465.42" y="92.8" font-size="6.1" text-anchor="middle" font-weight="normal" fill="#000" >−6</text>
<line x1="486.88" y1="83.7" x2="486.88" y2="86.2" stroke="#111" stroke-width="1.1" />
<text x="486.08" y="92.8" font-size="6.1" text-anchor="middle" font-weight="normal" fill="#000" >−4</text>
<text x="430.2" y="102.6" font-size="7.4" text-anchor="start" font-weight="normal" fill="#111" textLength="45" lengthAdjust="spacingAndGlyphs" >Log10 (dose) (M)</text>
<text transform="translate(398.6,87.7) rotate(-90)" font-size="7.2" font-weight="normal" fill="#111" textLength="51.9" lengthAdjust="spacingAndGlyphs">RLUs (DMSO norm)</text>
<rect x="479.5" y="41.7" width="2.6" height="1.6" fill="#f020e0" opacity="0.85"/>
<text x="483.8" y="44.8" font-size="6.4" fill="#222">Vector</text>
<rect x="479.5" y="51.1" width="2.6" height="1.6" fill="#30d020" opacity="0.85"/>
<text x="483.8" y="54.2" font-size="6.4" fill="#222">BTK<tspan font-size="4.6" dy="-2.6">WT</tspan></text>
<rect x="479.5" y="60.5" width="2.6" height="1.6" fill="#2030f0" opacity="0.85"/>
<text x="483.8" y="63.6" font-size="6.4" fill="#222">BTK<tspan font-size="4.6" dy="-2.6">C481S</tspan></text>
<polyline points="422.83,51.38 423.63,51.38 424.42,51.38 425.21,51.39 426,51.39 426.79,51.4 427.59,51.41 428.38,51.42 429.17,51.44 429.96,51.46 430.75,51.48 431.55,51.52 432.34,51.56 433.13,51.62 433.92,51.69 434.71,51.79 435.51,51.92 436.3,52.08 437.09,52.29 437.88,52.56 438.67,52.9 439.47,53.33 440.26,53.88 441.05,54.57 441.84,55.42 442.63,56.45 443.43,57.68 444.22,59.14 445.01,60.8 445.8,62.65 446.59,64.65 447.38,66.75 448.18,68.86 448.97,70.93 449.76,72.88 450.55,74.66 451.34,76.24 452.14,77.61 452.93,78.76 453.72,79.72 454.51,80.5 455.3,81.13 456.1,81.63 456.89,82.03 457.68,82.34 458.47,82.58 459.26,82.77 460.06,82.92 460.85,83.03 461.64,83.12 462.43,83.19 463.22,83.24 464.02,83.28 464.81,83.31 465.6,83.33 466.39,83.35 467.18,83.37 467.98,83.38 468.77,83.38 469.56,83.39 470.35,83.4" fill="none" stroke="#f020e0" stroke-width="1.1"/>
<rect x="421.73" y="49.82" width="2.2" height="2.2" fill="#f020e0"/>
<rect x="427.01" y="50.19" width="2.2" height="2.2" fill="#f020e0"/>
<rect x="432.29" y="50.02" width="2.2" height="2.2" fill="#f020e0"/>
<line x1="433.39" y1="48.62" x2="433.39" y2="53.62" stroke="#f020e0" stroke-width="0.6" />
<rect x="437.57" y="51.79" width="2.2" height="2.2" fill="#f020e0"/>
<rect x="442.85" y="57.05" width="2.2" height="2.2" fill="#f020e0"/>
<rect x="448.13" y="69.91" width="2.2" height="2.2" fill="#f020e0"/>
<line x1="449.23" y1="68.51" x2="449.23" y2="73.51" stroke="#f020e0" stroke-width="0.6" />
<rect x="453.41" y="79.03" width="2.2" height="2.2" fill="#f020e0"/>
<rect x="458.69" y="82.01" width="2.2" height="2.2" fill="#f020e0"/>
<line x1="459.79" y1="80.61" x2="459.79" y2="85.61" stroke="#f020e0" stroke-width="0.6" />
<rect x="463.97" y="82.19" width="2.2" height="2.2" fill="#f020e0"/>
<rect x="469.25" y="82.38" width="2.2" height="2.2" fill="#f020e0"/>
<polyline points="422.83,51.66 423.63,51.67 424.42,51.67 425.21,51.67 426,51.68 426.79,51.68 427.59,51.69 428.38,51.7 429.17,51.71 429.96,51.73 430.75,51.75 431.55,51.78 432.34,51.82 433.13,51.87 433.92,51.93 434.71,52.01 435.51,52.12 436.3,52.25 437.09,52.43 437.88,52.65 438.67,52.94 439.47,53.31 440.26,53.78 441.05,54.37 441.84,55.1 442.63,56 443.43,57.09 444.22,58.39 445.01,59.9 445.8,61.62 446.59,63.51 447.38,65.53 448.18,67.63 448.97,69.71 449.76,71.73 450.55,73.61 451.34,75.31 452.14,76.8 452.93,78.08 453.72,79.15 454.51,80.04 455.3,80.76 456.1,81.33 456.89,81.79 457.68,82.15 458.47,82.44 459.26,82.66 460.06,82.83 460.85,82.96 461.64,83.07 462.43,83.15 463.22,83.21 464.02,83.25 464.81,83.29 465.6,83.32 466.39,83.34 467.18,83.36 467.98,83.37 468.77,83.38 469.56,83.39 470.35,83.39" fill="none" stroke="#30d020" stroke-width="1.1"/>
<rect x="421.73" y="51.39" width="2.2" height="2.2" fill="#30d020"/>
<rect x="427.01" y="50.53" width="2.2" height="2.2" fill="#30d020"/>
<line x1="428.11" y1="49.13" x2="428.11" y2="54.13" stroke="#30d020" stroke-width="0.6" />
<rect x="432.29" y="50.87" width="2.2" height="2.2" fill="#30d020"/>
<rect x="437.57" y="51.61" width="2.2" height="2.2" fill="#30d020"/>
<line x1="438.67" y1="50.21" x2="438.67" y2="55.21" stroke="#30d020" stroke-width="0.6" />
<rect x="442.85" y="56.83" width="2.2" height="2.2" fill="#30d020"/>
<line x1="443.95" y1="55.43" x2="443.95" y2="60.43" stroke="#30d020" stroke-width="0.6" />
<rect x="448.13" y="68.82" width="2.2" height="2.2" fill="#30d020"/>
<line x1="449.23" y1="67.42" x2="449.23" y2="72.42" stroke="#30d020" stroke-width="0.6" />
<rect x="453.41" y="78.09" width="2.2" height="2.2" fill="#30d020"/>
<rect x="458.69" y="81.32" width="2.2" height="2.2" fill="#30d020"/>
<rect x="463.97" y="82.74" width="2.2" height="2.2" fill="#30d020"/>
<line x1="465.07" y1="81.34" x2="465.07" y2="86.34" stroke="#30d020" stroke-width="0.6" />
<rect x="469.25" y="82.31" width="2.2" height="2.2" fill="#30d020"/>
<polyline points="422.83,51.67 423.63,51.67 424.42,51.67 425.21,51.68 426,51.69 426.79,51.69 427.59,51.7 428.38,51.72 429.17,51.74 429.96,51.76 430.75,51.79 431.55,51.83 432.34,51.88 433.13,51.95 433.92,52.04 434.71,52.15 435.51,52.3 436.3,52.49 437.09,52.73 437.88,53.05 438.67,53.44 439.47,53.95 440.26,54.58 441.05,55.36 441.84,56.31 442.63,57.47 443.43,58.83 444.22,60.4 445.01,62.18 445.8,64.12 446.59,66.17 447.38,68.27 448.18,70.34 448.97,72.32 449.76,74.14 450.55,75.78 451.34,77.21 452.14,78.43 452.93,79.44 453.72,80.27 454.51,80.95 455.3,81.49 456.1,81.91 456.89,82.25 457.68,82.51 458.47,82.72 459.26,82.88 460.06,83 460.85,83.09 461.64,83.17 462.43,83.22 463.22,83.27 464.02,83.3 464.81,83.33 465.6,83.35 466.39,83.36 467.18,83.37 467.98,83.38 468.77,83.39 469.56,83.39 470.35,83.4" fill="none" stroke="#2030f0" stroke-width="1.1"/>
<rect x="421.73" y="50.41" width="2.2" height="2.2" fill="#2030f0"/>
<rect x="427.01" y="50.86" width="2.2" height="2.2" fill="#2030f0"/>
<rect x="432.29" y="51.56" width="2.2" height="2.2" fill="#2030f0"/>
<line x1="433.39" y1="50.16" x2="433.39" y2="55.16" stroke="#2030f0" stroke-width="0.6" />
<rect x="437.57" y="52.01" width="2.2" height="2.2" fill="#2030f0"/>
<rect x="442.85" y="58.63" width="2.2" height="2.2" fill="#2030f0"/>
<line x1="443.95" y1="57.23" x2="443.95" y2="62.23" stroke="#2030f0" stroke-width="0.6" />
<rect x="448.13" y="72.68" width="2.2" height="2.2" fill="#2030f0"/>
<line x1="449.23" y1="71.28" x2="449.23" y2="76.28" stroke="#2030f0" stroke-width="0.6" />
<rect x="453.41" y="79.85" width="2.2" height="2.2" fill="#2030f0"/>
<rect x="458.69" y="82.65" width="2.2" height="2.2" fill="#2030f0"/>
<line x1="459.79" y1="81.25" x2="459.79" y2="86.25" stroke="#2030f0" stroke-width="0.6" />
<rect x="463.97" y="81.84" width="2.2" height="2.2" fill="#2030f0"/>
<rect x="469.25" y="83.08" width="2.2" height="2.2" fill="#2030f0"/>
<text x="132.75" y="120.6" font-size="9.6" text-anchor="middle" fill="#111" textLength="70.1" lengthAdjust="spacingAndGlyphs">BCWM.1 BTK<tspan font-size="6.8" dy="-3.4">WT</tspan></text>
<line x1="63.8" y1="124.7" x2="200.8" y2="124.7" stroke="#111" stroke-width="1.4" />
<text x="284.75" y="120.6" font-size="9.6" text-anchor="middle" fill="#111" textLength="93.9" lengthAdjust="spacingAndGlyphs">BCWM.1 BTK<tspan font-size="6.8" dy="-3.4">Cys481Ser</tspan></text>
<line x1="216.9" y1="124.7" x2="354" y2="124.7" stroke="#111" stroke-width="1.4" />
<text x="83.8" y="134.9" font-size="9.3" text-anchor="middle" font-weight="normal" fill="#111" textLength="27.7" lengthAdjust="spacingAndGlyphs" >DMSO</text>
<text x="132.9" y="134.9" font-size="9.3" text-anchor="middle" font-weight="normal" fill="#111" textLength="40" lengthAdjust="spacingAndGlyphs" >IB-0.1uM</text>
<text x="181.7" y="134.9" font-size="9.3" text-anchor="middle" font-weight="normal" fill="#111" textLength="45" lengthAdjust="spacingAndGlyphs" >KIN-0.1uM</text>
<text x="132.9" y="186.9" font-size="9.3" text-anchor="middle" font-weight="normal" fill="#111" textLength="40" lengthAdjust="spacingAndGlyphs" >IB-0.5uM</text>
<text x="181.7" y="186.9" font-size="9.3" text-anchor="middle" font-weight="normal" fill="#111" textLength="45" lengthAdjust="spacingAndGlyphs" >KIN-0.5uM</text>
<clipPath id="cp100"><rect x="63" y="137.8" width="40.6" height="39.4"/></clipPath>
<rect x="63" y="137.8" width="40.6" height="39.4" fill="#fff" stroke="#a8a8a8" stroke-width="0.6"/>
<line x1="61.4" y1="142.53" x2="63" y2="142.53" stroke="#888" stroke-width="0.5" />
<rect x="59.6" y="141.13" width="1.2" height="0.8" fill="#999"/>
<line x1="61.4" y1="150.41" x2="63" y2="150.41" stroke="#888" stroke-width="0.5" />
<rect x="59.6" y="149.01" width="1.2" height="0.8" fill="#999"/>
<line x1="61.4" y1="158.29" x2="63" y2="158.29" stroke="#888" stroke-width="0.5" />
<rect x="59.6" y="156.89" width="1.2" height="0.8" fill="#999"/>
<line x1="61.4" y1="166.17" x2="63" y2="166.17" stroke="#888" stroke-width="0.5" />
<rect x="59.6" y="164.77" width="1.2" height="0.8" fill="#999"/>
<line x1="61.4" y1="174.05" x2="63" y2="174.05" stroke="#888" stroke-width="0.5" />
<rect x="59.6" y="172.65" width="1.2" height="0.8" fill="#999"/>
<line x1="67.87" y1="177.2" x2="67.87" y2="178.8" stroke="#888" stroke-width="0.5" />
<rect x="67.57" y="179.4" width="1.2" height="0.8" fill="#999"/>
<line x1="78.83" y1="177.2" x2="78.83" y2="178.8" stroke="#888" stroke-width="0.5" />
<rect x="78.53" y="179.4" width="1.2" height="0.8" fill="#999"/>
<line x1="89.8" y1="177.2" x2="89.8" y2="178.8" stroke="#888" stroke-width="0.5" />
<rect x="89.5" y="179.4" width="1.2" height="0.8" fill="#999"/>
<line x1="100.76" y1="177.2" x2="100.76" y2="178.8" stroke="#888" stroke-width="0.5" />
<rect x="100.46" y="179.4" width="1.2" height="0.8" fill="#999"/>
<rect x="80.3" y="182.2" width="6" height="0.8" fill="#bbb"/>
<rect x="105" y="155.53" width="0.8" height="5" fill="#ccc"/>
<rect x="99.1" y="139.8" width="2.2" height="1.6" fill="#bbb"/>
<rect x="99.1" y="172.7" width="2.2" height="1.6" fill="#bbb"/>
<rect x="64.5" y="172.7" width="2.2" height="1.6" fill="#999"/>
<g clip-path="url(#cp100)"><g filter="url(#b1)">
<ellipse cx="78.43" cy="166.96" rx="15.43" ry="5.28" fill="#7890f2" fill-opacity="0.45" transform="rotate(-21 78.43 166.96)"/>
<ellipse cx="75.18" cy="168.53" rx="10.96" ry="3.25" fill="#3cc4a0" fill-opacity="0.7" transform="rotate(-21 75.18 168.53)"/>
<ellipse cx="72.74" cy="169.71" rx="6.9" ry="2.23" fill="#78d83a" fill-opacity="0.95" transform="rotate(-21 72.74 169.71)"/>
<ellipse cx="70.71" cy="170.7" rx="3.25" ry="1.3" fill="#e6d020" fill-opacity="0.95" transform="rotate(-21 70.71 170.7)"/>
<ellipse cx="69.5" cy="171.09" rx="1.22" ry="0.81" fill="#e05a10" fill-opacity="0.9" transform="rotate(-21 69.5 171.09)"/>
<ellipse cx="95.48" cy="145.68" rx="2.84" ry="1.62" fill="#7890f2" fill-opacity="0.35" transform="rotate(-30 95.48 145.68)"/>
</g></g>
<path d="M66.4 172.1h0.8M81.8 160.4h0.8M83.8 160.5h0.8M80.4 168.2h0.8M87.8 159.2h0.8M84.1 162.5h0.8M68.8 172.9h0.8M90.4 162.2h0.8M81.3 163.0h0.8M69.3 170.2h0.8M65.1 174.5h0.8M79.9 168.5h0.8M87.9 160.6h0.8M81.2 163.1h0.8M81.0 164.6h0.8M82.7 159.9h0.8M70.2 168.0h0.8M74.6 167.1h0.8M76.8 162.7h0.8M86.2 157.7h0.8M88.6 158.1h0.8M81.3 161.1h0.8M80.8 167.0h0.8M88.0 162.3h0.8M82.6 162.9h0.8M79.6 166.1h0.8M77.9 161.3h0.8M78.4 165.2h0.8M70.1 173.8h0.8M83.0 164.1h0.8M85.8 159.8h0.8M78.6 162.1h0.8M77.7 164.2h0.8M85.0 160.3h0.8M70.6 171.4h0.8M68.9 170.5h0.8M70.5 171.3h0.8M76.1 165.7h0.8M76.8 169.3h0.8M72.4 170.9h0.8M77.4 166.4h0.8M88.4 158.0h0.8M84.8 168.8h0.8M74.2 169.4h0.8M78.5 166.7h0.8M78.4 165.4h0.8M67.8 174.6h0.8M82.3 161.0h0.8M72.6 166.5h0.8M84.9 167.0h0.8M66.6 171.1h0.8M87.2 163.9h0.8M67.6 169.4h0.8M78.0 167.7h0.8M76.0 168.1h0.8M84.2 159.4h0.8M79.3 163.1h0.8M78.1 164.1h0.8M74.3 167.2h0.8M69.3 171.6h0.8M82.7 161.8h0.8M67.9 172.3h0.8M70.5 171.6h0.8M82.2 165.3h0.8M91.4 160.0h0.8M81.4 168.9h0.8M79.8 164.7h0.8M71.0 168.4h0.8M72.3 169.8h0.8M87.1 161.6h0.8M83.7 161.5h0.8M65.4 172.3h0.8M68.9 170.9h0.8M75.1 166.3h0.8M71.6 170.0h0.8M81.5 165.0h0.8M89.5 154.5h0.8M66.9 171.6h0.8M91.2 157.1h0.8M88.0 160.3h0.8M75.0 167.0h0.8M88.6 158.8h0.8M73.7 165.8h0.8M88.1 157.2h0.8M73.3 170.5h0.8M77.8 164.3h0.8M69.0 171.8h0.8M83.4 161.3h0.8M78.2 165.3h0.8M75.1 167.0h0.8M71.2 172.0h0.8M69.8 174.4h0.8M88.7 158.2h0.8M72.7 168.7h0.8M82.5 164.3h0.8M68.6 169.6h0.8M81.8 161.0h0.8M68.3 171.9h0.8M80.5 165.8h0.8M75.1 167.7h0.8M76.0 163.2h0.8M70.9 170.4h0.8M87.7 156.6h0.8M82.7 160.2h0.8M78.1 166.9h0.8M71.1 173.2h0.8M86.1 158.9h0.8M87.1 160.4h0.8M76.2 164.9h0.8M86.3 156.7h0.8M86.2 157.6h0.8M89.1 157.5h0.8M91.5 156.6h0.8M82.9 160.8h0.8M80.8 157.1h0.8M75.8 169.7h0.8M78.6 164.8h0.8M82.6 162.2h0.8M65.9 171.9h0.8M78.3 163.5h0.8M84.6 162.2h0.8M75.8 167.5h0.8M80.4 162.1h0.8M82.3 159.7h0.8M91.3 157.4h0.8M75.5 165.3h0.8M67.9 171.5h0.8M79.2 164.0h0.8M69.5 168.9h0.8M67.3 172.9h0.8M83.1 161.8h0.8M91.4 160.5h0.8M83.7 163.6h0.8M69.3 173.1h0.8M72.0 169.9h0.8M83.3 164.7h0.8M87.3 161.8h0.8M66.2 173.2h0.8M70.7 173.7h0.8M70.7 169.5h0.8M82.9 162.8h0.8M75.8 167.7h0.8M66.9 172.2h0.8M73.7 170.3h0.8M80.5 160.6h0.8M79.4 164.2h0.8M86.2 157.2h0.8M75.8 168.4h0.8M76.3 166.5h0.8M73.0 171.9h0.8M79.2 162.0h0.8M84.5 157.5h0.8M89.6 154.7h0.8M95.3 154.1h0.8M96.7 146.0h0.8M88.2 151.0h0.8M87.6 151.3h0.8M91.3 156.6h0.8M90.3 153.0h0.8M91.5 157.2h0.8M88.6 157.6h0.8M92.2 149.8h0.8M95.3 150.7h0.8M88.1 153.8h0.8M91.0 154.4h0.8M91.1 150.1h0.8M87.7 156.7h0.8M97.2 149.8h0.8M95.5 148.0h0.8M93.9 147.7h0.8M95.9 148.7h0.8M92.2 153.4h0.8M91.8 149.2h0.8M92.7 152.6h0.8M89.5 152.6h0.8M90.4 150.7h0.8M89.4 153.5h0.8M88.6 154.9h0.8M94.7 149.6h0.8M91.7 151.5h0.8M98.0 151.5h0.8M94.0 145.0h0.8M90.2 154.6h0.8M94.5 150.0h0.8M97.1 150.4h0.8M93.5 146.3h0.8M94.2 147.0h0.8M91.9 157.4h0.8M91.3 151.3h0.8M92.0 156.0h0.8M93.8 152.4h0.8M95.0 153.7h0.8M91.7 155.0h0.8M93.3 155.8h0.8M85.1 163.6h0.8M94.2 146.0h0.8M93.1 146.9h0.8M93.4 153.8h0.8M92.6 152.0h0.8M93.9 154.9h0.8M92.5 147.3h0.8M89.7 163.8h0.8M67.4 152.9h0.8M72.0 174.1h0.8M84.8 174.9h0.8M72.7 164.1h0.8M84.0 151.5h0.8M72.0 161.2h0.8M97.5 157.3h0.8M83.9 173.3h0.8M74.5 152.3h0.8M97.3 142.6h0.8M66.4 163.3h0.8M82.6 171.9h0.8M85.8 149.6h0.8M89.2 155.5h0.8M88.0 146.8h0.8M67.4 172.0h0.8M95.8 145.1h0.8M68.9 169.1h0.8M90.9 155.7h0.8M96.0 168.7h0.8M95.1 172.2h0.8M94.6 139.8h0.8M88.4 143.1h0.8M97.7 169.0h0.8M87.2 155.3h0.8M90.1 150.3h0.8M90.2 173.9h0.8M66.4 153.6h0.8M94.5 146.1h0.8M77.9 168.7h0.8M85.9 149.1h0.8M79.7 152.7h0.8M83.6 175.0h0.8M74.1 151.2h0.8M97.6 157.1h0.8M88.6 170.5h0.8M68.7 146.1h0.8M70.2 146.0h0.8M67.3 148.2h0.8M98.5 171.7h0.8M90.1 158.1h0.8M92.3 173.7h0.8M75.4 165.7h0.8M69.7 153.3h0.8" stroke="#6a80f0" stroke-width="0.8" stroke-opacity="0.38"/>
<path d="M66.5 171.4h0.9M77.6 169.7h0.9M78.7 168.9h0.9M76.2 166.7h0.9M72.0 172.2h0.9M81.2 170.2h0.9M73.4 170.8h0.9M73.0 171.4h0.9M69.5 171.4h0.9M71.9 170.5h0.9M87.0 165.7h0.9M79.3 164.0h0.9M76.7 168.4h0.9M81.7 164.9h0.9M67.8 170.7h0.9M72.3 166.6h0.9M74.0 166.5h0.9M76.3 165.1h0.9M79.3 163.8h0.9M80.3 168.2h0.9M69.6 167.8h0.9M67.8 172.3h0.9M78.1 166.4h0.9M75.2 170.3h0.9M80.9 168.6h0.9M70.6 170.0h0.9M82.3 167.5h0.9M77.5 168.5h0.9M64.5 173.5h0.9M74.4 170.4h0.9M90.8 164.2h0.9M76.7 165.5h0.9M89.2 165.5h0.9M66.9 169.7h0.9M70.5 168.0h0.9M67.0 173.6h0.9M79.6 167.7h0.9M68.6 170.2h0.9M67.2 171.5h0.9M78.4 168.1h0.9M84.3 165.1h0.9M74.3 168.5h0.9M77.7 169.3h0.9" stroke="#30c060" stroke-width="0.9" stroke-opacity="0.55"/>
<path d="M94.1 148.4h0.9M95.3 143.4h0.9M99.2 147.0h0.9M93.3 145.1h0.9M96.1 145.0h0.9M98.4 146.2h0.9M94.9 143.6h0.9M92.2 144.6h0.9M96.8 143.4h0.9M95.2 143.6h0.9M97.3 148.4h0.9M96.7 146.0h0.9M93.7 144.9h0.9M96.8 144.7h0.9M94.2 145.7h0.9M96.5 144.3h0.9M94.8 142.8h0.9M94.5 146.0h0.9M96.0 145.6h0.9M96.0 144.8h0.9M93.5 146.5h0.9M93.1 146.8h0.9" stroke="#5068ea" stroke-width="0.9" stroke-opacity="0.4"/>
<line x1="83.71" y1="137.8" x2="83.71" y2="177.2" stroke="#8a8a8a" stroke-width="0.7" />
<line x1="63" y1="159.08" x2="103.6" y2="159.08" stroke="#8a8a8a" stroke-width="0.7" />
<text x="64.7" y="145.7" font-size="7.5" text-anchor="start" font-weight="bold" fill="#1c3fae" textLength="21.8" lengthAdjust="spacingAndGlyphs" stroke="#1c3fae" stroke-width="0.25">18.2%</text>
<clipPath id="cp101"><rect x="112.1" y="137.8" width="40.6" height="39.4"/></clipPath>
<rect x="112.1" y="137.8" width="40.6" height="39.4" fill="#fff" stroke="#a8a8a8" stroke-width="0.6"/>
<line x1="110.5" y1="142.53" x2="112.1" y2="142.53" stroke="#888" stroke-width="0.5" />
<rect x="108.7" y="141.13" width="1.2" height="0.8" fill="#999"/>
<line x1="110.5" y1="150.41" x2="112.1" y2="150.41" stroke="#888" stroke-width="0.5" />
<rect x="108.7" y="149.01" width="1.2" height="0.8" fill="#999"/>
<line x1="110.5" y1="158.29" x2="112.1" y2="158.29" stroke="#888" stroke-width="0.5" />
<rect x="108.7" y="156.89" width="1.2" height="0.8" fill="#999"/>
<line x1="110.5" y1="166.17" x2="112.1" y2="166.17" stroke="#888" stroke-width="0.5" />
<rect x="108.7" y="164.77" width="1.2" height="0.8" fill="#999"/>
<line x1="110.5" y1="174.05" x2="112.1" y2="174.05" stroke="#888" stroke-width="0.5" />
<rect x="108.7" y="172.65" width="1.2" height="0.8" fill="#999"/>
<line x1="116.97" y1="177.2" x2="116.97" y2="178.8" stroke="#888" stroke-width="0.5" />
<rect x="116.67" y="179.4" width="1.2" height="0.8" fill="#999"/>
<line x1="127.93" y1="177.2" x2="127.93" y2="178.8" stroke="#888" stroke-width="0.5" />
<rect x="127.63" y="179.4" width="1.2" height="0.8" fill="#999"/>
<line x1="138.9" y1="177.2" x2="138.9" y2="178.8" stroke="#888" stroke-width="0.5" />
<rect x="138.6" y="179.4" width="1.2" height="0.8" fill="#999"/>
<line x1="149.86" y1="177.2" x2="149.86" y2="178.8" stroke="#888" stroke-width="0.5" />
<rect x="149.56" y="179.4" width="1.2" height="0.8" fill="#999"/>
<rect x="129.4" y="182.2" width="6" height="0.8" fill="#bbb"/>
<rect x="154.1" y="155.53" width="0.8" height="5" fill="#ccc"/>
<rect x="148.2" y="139.8" width="2.2" height="1.6" fill="#bbb"/>
<rect x="148.2" y="172.7" width="2.2" height="1.6" fill="#bbb"/>
<rect x="113.6" y="172.7" width="2.2" height="1.6" fill="#999"/>
<g clip-path="url(#cp101)"><g filter="url(#b1)">
<ellipse cx="127.53" cy="166.96" rx="15.43" ry="5.28" fill="#7890f2" fill-opacity="0.45" transform="rotate(-21 127.53 166.96)"/>
<ellipse cx="124.28" cy="168.53" rx="10.96" ry="3.25" fill="#3cc4a0" fill-opacity="0.7" transform="rotate(-21 124.28 168.53)"/>
<ellipse cx="121.84" cy="169.71" rx="6.9" ry="2.23" fill="#78d83a" fill-opacity="0.95" transform="rotate(-21 121.84 169.71)"/>
<ellipse cx="119.81" cy="170.7" rx="3.25" ry="1.3" fill="#e6d020" fill-opacity="0.95" transform="rotate(-21 119.81 170.7)"/>
<ellipse cx="118.6" cy="171.09" rx="1.22" ry="0.81" fill="#e05a10" fill-opacity="0.9" transform="rotate(-21 118.6 171.09)"/>
<ellipse cx="144.58" cy="145.68" rx="2.84" ry="1.62" fill="#7890f2" fill-opacity="0.35" transform="rotate(-30 144.58 145.68)"/>
</g></g>
<path d="M129.8 169.5h0.8M134.2 158.8h0.8M120.3 171.9h0.8M132.1 167.8h0.8M118.0 172.8h0.8M131.3 162.9h0.8M120.8 167.3h0.8M118.3 171.1h0.8M119.6 168.9h0.8M131.6 161.9h0.8M121.5 168.9h0.8M132.5 163.2h0.8M126.6 165.8h0.8M133.7 162.6h0.8M120.2 171.4h0.8M119.4 174.4h0.8M129.8 164.2h0.8M121.3 166.5h0.8M124.0 166.8h0.8M131.4 162.9h0.8M136.3 158.4h0.8M131.7 158.9h0.8M134.3 161.8h0.8M133.2 156.7h0.8M125.7 166.3h0.8M139.4 156.4h0.8M114.7 171.1h0.8M124.2 169.0h0.8M138.4 162.7h0.8M120.9 170.8h0.8M140.2 156.1h0.8M115.6 168.3h0.8M114.4 169.5h0.8M121.8 165.2h0.8M120.0 172.9h0.8M125.5 164.8h0.8M136.8 160.9h0.8M135.7 159.2h0.8M121.1 170.7h0.8M117.3 173.0h0.8M123.3 164.4h0.8M128.7 165.0h0.8M129.0 167.0h0.8M120.5 166.0h0.8M118.4 170.9h0.8M122.2 169.4h0.8M139.0 154.7h0.8M129.8 166.2h0.8M138.2 155.5h0.8M139.4 156.7h0.8M122.5 168.0h0.8M131.0 166.6h0.8M138.1 160.7h0.8M119.0 167.3h0.8M139.2 155.5h0.8M133.7 164.5h0.8M124.0 168.9h0.8M120.3 169.5h0.8M120.7 171.2h0.8M129.2 160.5h0.8M135.9 158.9h0.8M116.3 170.3h0.8M135.5 158.3h0.8M130.0 163.8h0.8M139.5 156.6h0.8M126.3 167.1h0.8M114.9 170.2h0.8M133.9 153.1h0.8M124.3 168.2h0.8M115.6 168.2h0.8M121.9 172.4h0.8M122.4 167.5h0.8M138.1 158.0h0.8M137.2 158.5h0.8M123.6 167.8h0.8M120.4 171.5h0.8M128.4 165.2h0.8M132.6 160.2h0.8M133.5 163.5h0.8M118.1 171.6h0.8M126.8 162.1h0.8M128.1 165.4h0.8M133.3 154.3h0.8M137.9 160.7h0.8M116.9 170.2h0.8M139.9 160.9h0.8M117.5 172.3h0.8M122.3 171.1h0.8M138.1 161.2h0.8M133.3 159.2h0.8M138.0 154.3h0.8M118.6 171.4h0.8M121.9 166.1h0.8M124.6 166.9h0.8M126.7 165.3h0.8M130.3 165.3h0.8M132.2 167.5h0.8M122.0 171.6h0.8M120.4 174.0h0.8M114.0 170.7h0.8M126.5 163.4h0.8M122.3 172.6h0.8M137.4 156.9h0.8M129.5 165.1h0.8M133.3 161.0h0.8M131.8 161.6h0.8M120.2 167.4h0.8M126.9 167.5h0.8M138.4 158.8h0.8M132.8 162.5h0.8M127.9 164.2h0.8M117.1 171.2h0.8M119.9 173.0h0.8M135.2 164.0h0.8M117.7 174.9h0.8M116.5 173.5h0.8M121.2 169.4h0.8M132.8 161.4h0.8M133.9 162.5h0.8M125.5 168.0h0.8M129.8 165.0h0.8M120.5 173.8h0.8M141.1 160.9h0.8M132.3 162.4h0.8M127.7 164.5h0.8M116.3 171.4h0.8M121.6 171.7h0.8M133.4 160.0h0.8M117.5 173.3h0.8M124.6 166.9h0.8M126.5 162.1h0.8M123.0 168.1h0.8M134.5 159.1h0.8M115.3 174.5h0.8M122.5 167.7h0.8M129.8 162.7h0.8M135.0 162.5h0.8M131.6 160.4h0.8M134.9 161.0h0.8M124.4 166.5h0.8M125.8 164.0h0.8M118.2 166.0h0.8M118.1 169.9h0.8M121.4 170.5h0.8M136.4 164.7h0.8M125.7 169.2h0.8M128.8 164.0h0.8M132.1 162.9h0.8M123.4 168.9h0.8M127.7 162.9h0.8M126.5 164.5h0.8M141.2 157.0h0.8M134.5 162.0h0.8M123.3 170.2h0.8M116.7 171.6h0.8M117.7 175.4h0.8M126.1 168.1h0.8M117.3 172.6h0.8M132.0 162.3h0.8M120.1 170.0h0.8M117.5 168.8h0.8M117.9 172.3h0.8M127.7 167.8h0.8M117.4 170.7h0.8M134.4 157.1h0.8M128.3 164.2h0.8M127.5 168.0h0.8M119.0 168.0h0.8M128.5 162.5h0.8M134.4 158.8h0.8M138.2 156.7h0.8M118.7 174.8h0.8M135.4 160.4h0.8M120.1 171.3h0.8M138.7 154.6h0.8M141.2 146.3h0.8M144.5 145.7h0.8M138.4 153.0h0.8M144.5 148.0h0.8M137.3 154.4h0.8M140.0 158.2h0.8M144.7 146.5h0.8M144.3 144.8h0.8M136.6 159.9h0.8M143.2 154.5h0.8M140.7 149.3h0.8M144.7 154.1h0.8M146.4 145.3h0.8M139.1 156.0h0.8M146.7 145.4h0.8M143.3 147.6h0.8M142.0 158.5h0.8M144.6 144.1h0.8M141.5 152.4h0.8M138.0 157.0h0.8M142.5 149.1h0.8M140.3 156.7h0.8M143.0 150.1h0.8M137.5 155.2h0.8M144.5 148.1h0.8M139.4 152.3h0.8M139.1 149.4h0.8M139.1 154.7h0.8M138.8 151.8h0.8M136.6 157.4h0.8M137.7 156.0h0.8M137.1 151.7h0.8M145.6 148.4h0.8M138.0 151.8h0.8M134.7 151.6h0.8M145.6 145.5h0.8M148.3 150.3h0.8M144.9 149.1h0.8M143.0 154.4h0.8M140.4 156.3h0.8M139.1 149.6h0.8M143.7 145.6h0.8M139.1 158.5h0.8M135.3 155.7h0.8M137.2 156.2h0.8M137.3 159.6h0.8M143.6 150.0h0.8M138.5 153.1h0.8M140.0 156.1h0.8M139.8 152.8h0.8M143.1 146.7h0.8M147.3 151.5h0.8M142.9 156.1h0.8M140.6 147.9h0.8M137.7 159.4h0.8M140.6 151.6h0.8M142.9 141.8h0.8M137.2 174.0h0.8M123.3 160.7h0.8M146.4 155.3h0.8M147.7 141.0h0.8M135.0 167.3h0.8M132.2 169.2h0.8M150.0 169.5h0.8M131.6 164.3h0.8M146.0 161.9h0.8M115.8 147.1h0.8M136.4 143.9h0.8M119.9 174.2h0.8M132.5 174.8h0.8M144.7 167.5h0.8M129.5 148.1h0.8M116.6 147.6h0.8M132.3 161.4h0.8M119.6 156.0h0.8M127.6 170.9h0.8M125.0 169.5h0.8M137.7 173.0h0.8M124.3 149.4h0.8M131.9 149.0h0.8M136.1 173.6h0.8M133.6 146.6h0.8M116.1 162.1h0.8M130.5 140.1h0.8M127.6 168.1h0.8M137.0 151.6h0.8M149.2 174.6h0.8M115.1 147.8h0.8M136.4 151.8h0.8M121.9 168.3h0.8M147.1 157.2h0.8M149.4 160.2h0.8M137.1 158.0h0.8M143.2 171.7h0.8M132.4 156.7h0.8M143.1 169.6h0.8M138.2 145.5h0.8M118.8 152.7h0.8M115.8 152.3h0.8M127.4 144.2h0.8M119.4 162.4h0.8" stroke="#6a80f0" stroke-width="0.8" stroke-opacity="0.38"/>
<path d="M127.3 166.4h0.9M122.5 167.1h0.9M138.6 163.3h0.9M130.2 167.8h0.9M129.3 166.8h0.9M121.2 171.3h0.9M118.7 169.2h0.9M127.0 165.5h0.9M121.5 167.5h0.9M123.9 167.7h0.9M129.7 169.3h0.9M123.3 166.9h0.9M132.7 166.0h0.9M129.5 167.8h0.9M127.0 164.0h0.9M125.2 167.3h0.9M123.9 168.2h0.9M134.2 164.3h0.9M124.7 164.3h0.9M127.7 164.0h0.9M126.2 167.5h0.9M133.2 166.7h0.9M133.3 167.6h0.9M116.0 173.5h0.9M130.9 167.6h0.9M121.2 166.4h0.9M126.7 169.0h0.9M129.6 163.5h0.9M123.1 169.0h0.9M121.1 166.3h0.9M112.9 168.4h0.9M115.8 169.0h0.9M124.9 170.0h0.9M146.8 158.9h0.9M131.6 167.6h0.9M120.1 167.5h0.9M120.3 171.3h0.9M127.1 166.9h0.9M133.5 166.8h0.9M130.4 166.4h0.9M115.3 170.8h0.9M124.9 171.3h0.9M116.9 168.1h0.9" stroke="#30c060" stroke-width="0.9" stroke-opacity="0.55"/>
<path d="M141.7 144.3h0.9M144.8 144.8h0.9M147.0 144.5h0.9M145.4 146.4h0.9M145.4 143.5h0.9M148.2 144.1h0.9M142.6 145.1h0.9M145.0 140.8h0.9M143.7 147.7h0.9M145.0 146.0h0.9M146.4 146.3h0.9M141.6 143.3h0.9M144.6 141.1h0.9M144.5 149.2h0.9M143.7 147.2h0.9M138.0 144.1h0.9M143.9 145.8h0.9M142.8 147.4h0.9M144.1 144.7h0.9M144.3 146.7h0.9M142.6 145.5h0.9M143.6 147.6h0.9M144.6 143.2h0.9M144.4 143.9h0.9M145.5 145.3h0.9M145.4 146.0h0.9M142.8 145.9h0.9M144.7 145.9h0.9" stroke="#5068ea" stroke-width="0.9" stroke-opacity="0.4"/>
<line x1="132.81" y1="137.8" x2="132.81" y2="177.2" stroke="#8a8a8a" stroke-width="0.7" />
<line x1="112.1" y1="159.08" x2="152.7" y2="159.08" stroke="#8a8a8a" stroke-width="0.7" />
<text x="113.8" y="145.7" font-size="7.5" text-anchor="start" font-weight="bold" fill="#1c3fae" textLength="21.8" lengthAdjust="spacingAndGlyphs" stroke="#1c3fae" stroke-width="0.25">27.1%</text>
<clipPath id="cp102"><rect x="160.9" y="137.8" width="40.6" height="39.4"/></clipPath>
<rect x="160.9" y="137.8" width="40.6" height="39.4" fill="#fff" stroke="#a8a8a8" stroke-width="0.6"/>
<line x1="159.3" y1="142.53" x2="160.9" y2="142.53" stroke="#888" stroke-width="0.5" />
<rect x="157.5" y="141.13" width="1.2" height="0.8" fill="#999"/>
<line x1="159.3" y1="150.41" x2="160.9" y2="150.41" stroke="#888" stroke-width="0.5" />
<rect x="157.5" y="149.01" width="1.2" height="0.8" fill="#999"/>
<line x1="159.3" y1="158.29" x2="160.9" y2="158.29" stroke="#888" stroke-width="0.5" />
<rect x="157.5" y="156.89" width="1.2" height="0.8" fill="#999"/>
<line x1="159.3" y1="166.17" x2="160.9" y2="166.17" stroke="#888" stroke-width="0.5" />
<rect x="157.5" y="164.77" width="1.2" height="0.8" fill="#999"/>
<line x1="159.3" y1="174.05" x2="160.9" y2="174.05" stroke="#888" stroke-width="0.5" />
<rect x="157.5" y="172.65" width="1.2" height="0.8" fill="#999"/>
<line x1="165.77" y1="177.2" x2="165.77" y2="178.8" stroke="#888" stroke-width="0.5" />
<rect x="165.47" y="179.4" width="1.2" height="0.8" fill="#999"/>
<line x1="176.73" y1="177.2" x2="176.73" y2="178.8" stroke="#888" stroke-width="0.5" />
<rect x="176.43" y="179.4" width="1.2" height="0.8" fill="#999"/>
<line x1="187.7" y1="177.2" x2="187.7" y2="178.8" stroke="#888" stroke-width="0.5" />
<rect x="187.4" y="179.4" width="1.2" height="0.8" fill="#999"/>
<line x1="198.66" y1="177.2" x2="198.66" y2="178.8" stroke="#888" stroke-width="0.5" />
<rect x="198.36" y="179.4" width="1.2" height="0.8" fill="#999"/>
<rect x="178.2" y="182.2" width="6" height="0.8" fill="#bbb"/>
<rect x="202.9" y="155.53" width="0.8" height="5" fill="#ccc"/>
<rect x="197" y="139.8" width="2.2" height="1.6" fill="#bbb"/>
<rect x="197" y="172.7" width="2.2" height="1.6" fill="#bbb"/>
<rect x="162.4" y="172.7" width="2.2" height="1.6" fill="#999"/>
<g clip-path="url(#cp102)"><g filter="url(#b1)">
<ellipse cx="176.33" cy="166.96" rx="15.43" ry="5.28" fill="#7890f2" fill-opacity="0.45" transform="rotate(-21 176.33 166.96)"/>
<ellipse cx="173.08" cy="168.53" rx="10.96" ry="3.25" fill="#3cc4a0" fill-opacity="0.7" transform="rotate(-21 173.08 168.53)"/>
<ellipse cx="170.64" cy="169.71" rx="6.9" ry="2.23" fill="#78d83a" fill-opacity="0.95" transform="rotate(-21 170.64 169.71)"/>
<ellipse cx="168.61" cy="170.7" rx="3.25" ry="1.3" fill="#e6d020" fill-opacity="0.95" transform="rotate(-21 168.61 170.7)"/>
<ellipse cx="167.4" cy="171.09" rx="1.22" ry="0.81" fill="#e05a10" fill-opacity="0.9" transform="rotate(-21 167.4 171.09)"/>
<ellipse cx="193.38" cy="145.68" rx="2.84" ry="1.62" fill="#7890f2" fill-opacity="0.35" transform="rotate(-30 193.38 145.68)"/>
</g></g>
<path d="M166.7 170.4h0.8M178.6 161.1h0.8M177.2 163.8h0.8M173.8 163.9h0.8M184.5 157.2h0.8M171.6 172.8h0.8M177.9 161.4h0.8M175.3 168.4h0.8M165.5 169.3h0.8M179.1 164.0h0.8M170.2 166.5h0.8M179.2 162.5h0.8M186.1 159.7h0.8M175.5 163.0h0.8M173.4 166.2h0.8M186.2 156.4h0.8M176.2 165.9h0.8M180.0 161.7h0.8M172.2 165.2h0.8M183.9 156.7h0.8M185.3 156.9h0.8M187.5 157.6h0.8M169.1 168.8h0.8M172.1 170.9h0.8M186.9 160.0h0.8M179.2 165.2h0.8M166.1 171.4h0.8M165.7 172.6h0.8M168.4 173.1h0.8M170.5 166.9h0.8M170.0 171.5h0.8M181.6 163.9h0.8M183.7 158.6h0.8M182.7 158.8h0.8M168.5 174.8h0.8M175.1 163.4h0.8M185.5 158.4h0.8M170.5 172.3h0.8M182.7 161.1h0.8M185.4 155.8h0.8M183.0 163.4h0.8M181.0 161.5h0.8M169.4 170.3h0.8M171.8 165.5h0.8M186.4 158.6h0.8M169.3 170.2h0.8M169.6 170.1h0.8M176.3 167.1h0.8M180.9 158.7h0.8M166.6 168.7h0.8M189.3 158.0h0.8M174.3 163.8h0.8M173.3 167.2h0.8M182.3 161.9h0.8M166.3 171.0h0.8M180.3 160.5h0.8M168.9 171.6h0.8M188.0 161.2h0.8M166.2 173.2h0.8M173.1 168.0h0.8M174.7 167.3h0.8M178.3 164.7h0.8M180.2 163.0h0.8M179.9 162.8h0.8M177.6 166.7h0.8M182.5 156.0h0.8M162.4 172.8h0.8M170.3 168.6h0.8M174.2 163.1h0.8M167.5 173.3h0.8M182.2 159.0h0.8M187.3 156.1h0.8M173.6 171.4h0.8M185.3 158.6h0.8M182.1 161.3h0.8M166.6 173.6h0.8M180.9 159.6h0.8M184.9 162.0h0.8M176.3 165.6h0.8M168.3 169.3h0.8M172.7 167.4h0.8M174.2 166.1h0.8M164.6 171.8h0.8M164.4 173.4h0.8M166.8 171.1h0.8M171.5 169.4h0.8M184.9 157.2h0.8M172.0 166.7h0.8M177.9 162.5h0.8M174.0 167.4h0.8M184.0 160.0h0.8M174.3 168.6h0.8M184.0 161.8h0.8M175.2 166.0h0.8M184.7 157.2h0.8M175.9 163.5h0.8M167.7 165.9h0.8M168.6 170.9h0.8M171.1 168.8h0.8M176.4 166.5h0.8M168.7 164.5h0.8M164.3 174.7h0.8M172.1 168.6h0.8M181.4 163.7h0.8M179.0 170.7h0.8M185.2 156.0h0.8M182.5 161.1h0.8M169.5 167.9h0.8M188.9 155.0h0.8M165.7 169.3h0.8M177.2 162.5h0.8M184.0 158.2h0.8M185.2 164.0h0.8M186.5 159.4h0.8M178.0 163.0h0.8M180.6 162.5h0.8M179.8 161.7h0.8M166.9 169.9h0.8M186.5 157.9h0.8M169.8 168.6h0.8M180.1 164.1h0.8M166.1 170.3h0.8M167.7 174.1h0.8M170.8 170.0h0.8M181.3 160.8h0.8M187.6 156.8h0.8M184.7 155.5h0.8M175.9 170.6h0.8M171.5 169.6h0.8M181.8 160.7h0.8M187.3 159.0h0.8M182.6 156.1h0.8M180.6 159.7h0.8M174.4 170.4h0.8M188.2 156.7h0.8M176.5 169.6h0.8M170.6 170.2h0.8M183.0 159.9h0.8M163.1 172.4h0.8M182.6 163.3h0.8M183.6 160.0h0.8M179.1 162.8h0.8M181.4 163.2h0.8M166.6 170.0h0.8M169.5 170.3h0.8M165.9 171.5h0.8M179.0 163.6h0.8M178.5 160.0h0.8M179.8 161.2h0.8M169.7 165.1h0.8M174.7 163.8h0.8M183.7 161.1h0.8M166.8 171.5h0.8M173.8 164.3h0.8M185.6 157.0h0.8M174.0 169.0h0.8M179.2 159.5h0.8M185.8 159.4h0.8M179.6 162.2h0.8M185.4 158.6h0.8M168.2 170.6h0.8M187.9 157.6h0.8M178.9 161.3h0.8M185.7 155.9h0.8M183.9 160.8h0.8M172.0 166.9h0.8M175.6 167.8h0.8M170.5 167.1h0.8M177.8 162.1h0.8M175.7 164.9h0.8M165.8 172.5h0.8M178.3 160.4h0.8M165.5 169.2h0.8M171.7 168.2h0.8M178.0 168.0h0.8M166.8 169.6h0.8M169.5 171.4h0.8M169.5 170.9h0.8M163.6 167.3h0.8M170.5 171.9h0.8M168.4 169.4h0.8M186.7 158.1h0.8M176.3 160.7h0.8M171.7 165.4h0.8M176.2 164.4h0.8M180.4 161.7h0.8M188.0 152.3h0.8M191.1 150.7h0.8M186.7 153.3h0.8M192.7 150.5h0.8M194.5 150.7h0.8M193.4 147.1h0.8M190.1 152.3h0.8M188.0 152.4h0.8M188.9 149.8h0.8M189.9 146.4h0.8M195.2 149.3h0.8M189.0 153.4h0.8M193.8 150.6h0.8M185.5 158.9h0.8M185.1 161.3h0.8M188.8 156.0h0.8M192.3 152.5h0.8M191.4 150.5h0.8M188.7 154.7h0.8M188.8 158.7h0.8M192.3 151.9h0.8M196.4 148.3h0.8M189.5 157.0h0.8M186.9 155.4h0.8M185.3 157.4h0.8M192.3 147.4h0.8M189.7 152.5h0.8M188.7 150.9h0.8M194.5 145.0h0.8M186.0 153.8h0.8M191.0 147.6h0.8M189.3 149.1h0.8M187.1 157.6h0.8M189.8 150.4h0.8M189.9 153.0h0.8M188.1 151.8h0.8M190.9 154.2h0.8M190.7 152.6h0.8M189.6 155.7h0.8M193.7 150.6h0.8M187.0 152.6h0.8M195.3 148.7h0.8M192.3 150.2h0.8M189.8 153.6h0.8M192.8 145.3h0.8M192.9 145.9h0.8M196.7 147.2h0.8M194.5 142.9h0.8M192.3 145.6h0.8M192.6 150.0h0.8M190.2 153.9h0.8M191.1 152.4h0.8M188.5 150.7h0.8M188.0 159.8h0.8M188.0 158.7h0.8M194.2 143.0h0.8M195.0 150.9h0.8M192.1 150.0h0.8M188.9 157.7h0.8M188.3 157.6h0.8M163.6 163.9h0.8M166.2 150.3h0.8M184.9 170.5h0.8M186.4 173.7h0.8M163.7 168.3h0.8M189.9 164.8h0.8M198.0 142.2h0.8M166.0 173.6h0.8M195.4 143.8h0.8M179.8 170.8h0.8M184.6 140.9h0.8M170.9 169.4h0.8M168.6 149.8h0.8M193.0 146.3h0.8M184.3 145.8h0.8M169.1 159.3h0.8M191.5 153.6h0.8M171.9 164.9h0.8M189.3 140.3h0.8M187.5 158.3h0.8M199.0 161.1h0.8M185.4 142.4h0.8M180.5 141.6h0.8M169.2 157.6h0.8M194.2 174.1h0.8M193.6 157.4h0.8M179.3 164.4h0.8M176.0 140.6h0.8M190.2 173.4h0.8M195.4 162.5h0.8M192.2 146.8h0.8M171.5 170.6h0.8M181.8 147.8h0.8M186.7 165.4h0.8M195.2 144.2h0.8M173.9 157.9h0.8M193.7 174.8h0.8M166.7 151.5h0.8M178.1 172.8h0.8M186.9 150.7h0.8M184.1 146.6h0.8M194.4 154.7h0.8M183.5 168.1h0.8M181.7 142.2h0.8M175.7 140.1h0.8" stroke="#6a80f0" stroke-width="0.8" stroke-opacity="0.38"/>
<path d="M172.7 163.0h0.9M179.6 168.5h0.9M173.7 166.1h0.9M174.0 167.3h0.9M184.8 161.0h0.9M174.0 168.9h0.9M177.9 164.6h0.9M180.7 165.3h0.9M174.2 169.7h0.9M169.7 168.2h0.9M183.5 164.1h0.9M174.3 166.1h0.9M167.5 169.3h0.9M176.1 167.7h0.9M173.1 169.0h0.9M177.4 165.0h0.9M173.4 169.3h0.9M169.6 167.9h0.9M177.9 164.5h0.9M187.4 166.2h0.9M176.9 165.7h0.9M174.6 165.1h0.9M177.0 167.9h0.9M170.5 171.9h0.9M165.1 171.5h0.9M178.9 166.7h0.9M177.7 168.3h0.9M175.9 167.4h0.9M179.4 166.3h0.9M171.4 169.8h0.9M179.1 163.3h0.9M176.2 164.6h0.9M165.1 171.4h0.9M173.8 168.7h0.9M185.4 162.7h0.9M172.6 171.2h0.9M182.4 167.5h0.9M186.0 160.2h0.9M188.0 165.9h0.9M182.0 167.2h0.9M176.8 166.8h0.9M163.2 170.2h0.9M175.0 164.1h0.9" stroke="#30c060" stroke-width="0.9" stroke-opacity="0.55"/>
<path d="M197.8 144.1h0.9M194.5 146.2h0.9M190.1 146.7h0.9M193.7 142.3h0.9M195.2 147.3h0.9M196.3 146.6h0.9M194.2 144.3h0.9M192.8 146.2h0.9M194.7 144.6h0.9M193.0 147.4h0.9M196.7 150.2h0.9M195.7 144.8h0.9M191.5 146.9h0.9M193.9 145.5h0.9M194.0 148.3h0.9M192.5 147.6h0.9M195.1 146.7h0.9M196.2 144.5h0.9M190.1 143.7h0.9M194.8 148.2h0.9M195.3 145.3h0.9M196.1 145.9h0.9M194.2 145.2h0.9M192.9 148.4h0.9M187.2 144.7h0.9M191.5 145.2h0.9M191.9 147.3h0.9M194.1 142.7h0.9M191.5 146.3h0.9M192.4 144.9h0.9M191.5 145.8h0.9" stroke="#5068ea" stroke-width="0.9" stroke-opacity="0.4"/>
<line x1="181.61" y1="137.8" x2="181.61" y2="177.2" stroke="#8a8a8a" stroke-width="0.7" />
<line x1="160.9" y1="159.08" x2="201.5" y2="159.08" stroke="#8a8a8a" stroke-width="0.7" />
<text x="162.6" y="145.7" font-size="7.5" text-anchor="start" font-weight="bold" fill="#1c3fae" textLength="21.8" lengthAdjust="spacingAndGlyphs" stroke="#1c3fae" stroke-width="0.25">31.4%</text>
<clipPath id="cp105"><rect x="112.1" y="189.6" width="40.6" height="39.4"/></clipPath>
<rect x="112.1" y="189.6" width="40.6" height="39.4" fill="#fff" stroke="#a8a8a8" stroke-width="0.6"/>
<line x1="110.5" y1="194.33" x2="112.1" y2="194.33" stroke="#888" stroke-width="0.5" />
<rect x="108.7" y="192.93" width="1.2" height="0.8" fill="#999"/>
<line x1="110.5" y1="202.21" x2="112.1" y2="202.21" stroke="#888" stroke-width="0.5" />
<rect x="108.7" y="200.81" width="1.2" height="0.8" fill="#999"/>
<line x1="110.5" y1="210.09" x2="112.1" y2="210.09" stroke="#888" stroke-width="0.5" />
<rect x="108.7" y="208.69" width="1.2" height="0.8" fill="#999"/>
<line x1="110.5" y1="217.97" x2="112.1" y2="217.97" stroke="#888" stroke-width="0.5" />
<rect x="108.7" y="216.57" width="1.2" height="0.8" fill="#999"/>
<line x1="110.5" y1="225.85" x2="112.1" y2="225.85" stroke="#888" stroke-width="0.5" />
<rect x="108.7" y="224.45" width="1.2" height="0.8" fill="#999"/>
<line x1="116.97" y1="229" x2="116.97" y2="230.6" stroke="#888" stroke-width="0.5" />
<rect x="116.67" y="231.2" width="1.2" height="0.8" fill="#999"/>
<line x1="127.93" y1="229" x2="127.93" y2="230.6" stroke="#888" stroke-width="0.5" />
<rect x="127.63" y="231.2" width="1.2" height="0.8" fill="#999"/>
<line x1="138.9" y1="229" x2="138.9" y2="230.6" stroke="#888" stroke-width="0.5" />
<rect x="138.6" y="231.2" width="1.2" height="0.8" fill="#999"/>
<line x1="149.86" y1="229" x2="149.86" y2="230.6" stroke="#888" stroke-width="0.5" />
<rect x="149.56" y="231.2" width="1.2" height="0.8" fill="#999"/>
<rect x="129.4" y="234" width="6" height="0.8" fill="#bbb"/>
<rect x="154.1" y="207.33" width="0.8" height="5" fill="#ccc"/>
<rect x="148.2" y="191.6" width="2.2" height="1.6" fill="#bbb"/>
<rect x="148.2" y="224.5" width="2.2" height="1.6" fill="#bbb"/>
<rect x="113.6" y="224.5" width="2.2" height="1.6" fill="#999"/>
<g clip-path="url(#cp105)"><g filter="url(#b1)">
<ellipse cx="127.53" cy="218.76" rx="15.43" ry="5.28" fill="#7890f2" fill-opacity="0.45" transform="rotate(-21 127.53 218.76)"/>
<ellipse cx="124.28" cy="220.33" rx="10.96" ry="3.25" fill="#3cc4a0" fill-opacity="0.7" transform="rotate(-21 124.28 220.33)"/>
<ellipse cx="121.84" cy="221.51" rx="6.9" ry="2.23" fill="#78d83a" fill-opacity="0.95" transform="rotate(-21 121.84 221.51)"/>
<ellipse cx="119.81" cy="222.5" rx="3.25" ry="1.3" fill="#e6d020" fill-opacity="0.95" transform="rotate(-21 119.81 222.5)"/>
<ellipse cx="118.6" cy="222.89" rx="1.22" ry="0.81" fill="#e05a10" fill-opacity="0.9" transform="rotate(-21 118.6 222.89)"/>
<ellipse cx="144.58" cy="197.48" rx="2.84" ry="1.62" fill="#7890f2" fill-opacity="0.35" transform="rotate(-30 144.58 197.48)"/>
</g></g>
<path d="M133.7 213.8h0.8M136.6 212.6h0.8M123.3 222.0h0.8M134.2 215.7h0.8M123.8 222.1h0.8M119.4 220.7h0.8M137.9 215.9h0.8M132.4 215.0h0.8M126.6 222.0h0.8M138.6 207.8h0.8M134.7 208.0h0.8M141.9 208.5h0.8M121.2 219.1h0.8M129.9 210.6h0.8M122.0 214.9h0.8M136.3 211.4h0.8M117.0 224.0h0.8M121.6 222.2h0.8M126.4 214.3h0.8M138.1 209.0h0.8M123.4 223.8h0.8M121.7 218.6h0.8M129.8 214.1h0.8M116.5 222.3h0.8M138.5 210.4h0.8M136.4 210.5h0.8M135.6 211.4h0.8M120.4 221.4h0.8M124.6 222.8h0.8M121.8 223.2h0.8M132.4 214.3h0.8M128.4 219.7h0.8M124.2 214.6h0.8M126.6 217.3h0.8M117.9 219.6h0.8M131.1 217.5h0.8M137.1 209.0h0.8M128.9 216.6h0.8M118.4 221.0h0.8M134.1 213.8h0.8M117.2 227.0h0.8M134.8 211.7h0.8M128.9 213.9h0.8M136.9 208.2h0.8M132.4 212.7h0.8M125.0 218.3h0.8M133.5 214.1h0.8M118.6 222.3h0.8M130.4 213.8h0.8M124.6 215.4h0.8M126.6 219.6h0.8M140.0 207.8h0.8M120.6 218.7h0.8M126.7 216.5h0.8M117.7 220.5h0.8M128.6 213.3h0.8M126.0 219.0h0.8M127.2 219.8h0.8M128.0 210.0h0.8M121.4 223.3h0.8M123.5 219.8h0.8M127.5 218.3h0.8M123.5 219.4h0.8M122.2 220.4h0.8M118.8 220.8h0.8M122.0 219.4h0.8M119.0 222.3h0.8M126.9 218.6h0.8M117.7 224.0h0.8M124.6 219.1h0.8M137.3 209.5h0.8M123.2 222.9h0.8M140.7 208.2h0.8M128.1 212.9h0.8M120.0 223.1h0.8M137.2 210.6h0.8M126.3 218.9h0.8M139.4 212.5h0.8M132.8 212.2h0.8M118.8 224.3h0.8M125.9 216.3h0.8M134.1 211.3h0.8M127.0 216.0h0.8M133.0 211.9h0.8M133.5 215.2h0.8M124.2 219.3h0.8M132.6 214.1h0.8M121.1 220.3h0.8M118.1 223.6h0.8M120.9 220.1h0.8M136.0 208.7h0.8M135.3 214.4h0.8M127.9 218.4h0.8M127.1 218.1h0.8M131.5 215.5h0.8M138.3 208.7h0.8M115.1 223.9h0.8M136.7 211.8h0.8M131.3 213.0h0.8M126.4 220.7h0.8M134.4 213.2h0.8M122.8 221.3h0.8M140.0 208.4h0.8M138.8 217.9h0.8M126.5 215.6h0.8M114.2 223.5h0.8M131.9 209.9h0.8M116.8 223.4h0.8M134.7 211.5h0.8M126.0 216.1h0.8M134.0 209.8h0.8M127.1 214.8h0.8M119.4 225.5h0.8M132.9 213.4h0.8M138.6 210.3h0.8M132.4 214.3h0.8M126.8 217.4h0.8M123.7 222.8h0.8M119.5 222.6h0.8M117.8 222.8h0.8M131.8 212.1h0.8M123.7 220.6h0.8M122.6 221.9h0.8M134.7 210.0h0.8M128.7 212.7h0.8M127.3 215.7h0.8M134.7 208.8h0.8M119.7 219.8h0.8M120.5 219.0h0.8M135.9 212.3h0.8M131.1 217.6h0.8M133.9 212.3h0.8M130.3 214.9h0.8M130.3 214.7h0.8M125.5 217.0h0.8M121.7 223.3h0.8M133.3 213.5h0.8M120.2 222.4h0.8M119.5 215.4h0.8M117.8 224.7h0.8M124.0 218.9h0.8M122.9 219.4h0.8M131.4 216.9h0.8M137.1 209.2h0.8M119.5 223.2h0.8M115.6 222.1h0.8M117.3 223.6h0.8M124.4 219.3h0.8M127.8 218.6h0.8M142.2 209.6h0.8M131.3 216.1h0.8M122.7 219.7h0.8M129.4 219.3h0.8M121.3 221.7h0.8M123.3 217.5h0.8M136.2 218.2h0.8M127.4 216.8h0.8M119.1 219.3h0.8M137.5 209.8h0.8M123.6 220.8h0.8M135.6 215.5h0.8M124.9 220.7h0.8M117.4 222.1h0.8M126.0 216.8h0.8M117.8 222.3h0.8M129.9 217.3h0.8M124.7 217.7h0.8M131.4 214.9h0.8M115.3 223.6h0.8M125.0 217.9h0.8M124.6 218.6h0.8M129.5 213.6h0.8M117.2 222.9h0.8M128.4 216.3h0.8M139.5 196.9h0.8M139.3 206.7h0.8M144.5 201.6h0.8M144.0 205.7h0.8M141.2 201.4h0.8M144.5 201.3h0.8M138.9 210.4h0.8M138.9 208.4h0.8M143.6 197.8h0.8M143.6 207.9h0.8M134.3 208.4h0.8M146.2 202.6h0.8M141.1 204.1h0.8M142.3 203.9h0.8M142.3 199.5h0.8M137.7 208.1h0.8M139.3 209.1h0.8M139.3 205.9h0.8M138.9 210.9h0.8M143.9 204.8h0.8M142.1 206.0h0.8M141.8 205.9h0.8M142.3 199.3h0.8M142.9 201.6h0.8M138.9 208.1h0.8M138.6 207.3h0.8M137.8 209.0h0.8M141.8 204.9h0.8M138.5 205.2h0.8M145.4 197.3h0.8M139.4 210.8h0.8M137.7 208.3h0.8M146.7 204.7h0.8M146.0 199.3h0.8M137.1 204.7h0.8M142.6 204.9h0.8M147.9 198.6h0.8M142.5 201.5h0.8M143.3 205.0h0.8M143.4 200.2h0.8M145.3 197.4h0.8M142.3 205.0h0.8M144.9 202.4h0.8M139.9 209.2h0.8M139.4 211.0h0.8M139.1 205.1h0.8M141.5 204.5h0.8M141.0 208.6h0.8M142.4 199.0h0.8M143.0 202.5h0.8M138.1 209.1h0.8M140.3 206.3h0.8M142.9 202.9h0.8M140.9 203.6h0.8M141.8 198.9h0.8M141.9 207.4h0.8M142.1 202.2h0.8M119.7 211.5h0.8M126.1 224.6h0.8M146.9 199.7h0.8M123.3 201.9h0.8M143.4 215.4h0.8M149.9 197.6h0.8M119.4 198.7h0.8M133.1 209.2h0.8M133.3 222.4h0.8M133.1 202.6h0.8M124.0 198.7h0.8M124.1 195.4h0.8M122.8 207.7h0.8M118.0 206.6h0.8M143.9 213.7h0.8M114.8 195.8h0.8M150.3 196.3h0.8M147.1 206.0h0.8M128.6 192.4h0.8M135.7 201.9h0.8M116.2 194.8h0.8M123.1 201.9h0.8M145.5 224.0h0.8M115.1 207.4h0.8M141.6 191.7h0.8M144.0 224.0h0.8M123.8 205.7h0.8M118.4 202.8h0.8M117.3 210.3h0.8M131.8 206.6h0.8M150.4 211.3h0.8M148.9 223.1h0.8M130.8 202.4h0.8M129.5 197.7h0.8M147.2 225.1h0.8M142.5 211.1h0.8M129.0 204.4h0.8M138.6 205.5h0.8M132.5 196.6h0.8M137.9 193.1h0.8M119.0 197.8h0.8M136.0 211.3h0.8M138.0 200.8h0.8M148.7 206.3h0.8M118.5 215.6h0.8" stroke="#6a80f0" stroke-width="0.8" stroke-opacity="0.38"/>
<path d="M129.8 218.0h0.9M123.1 218.4h0.9M118.2 219.4h0.9M118.5 222.9h0.9M127.0 219.5h0.9M125.8 215.9h0.9M117.2 223.0h0.9M121.0 220.5h0.9M122.2 222.4h0.9M124.0 224.8h0.9M115.6 226.3h0.9M117.1 223.0h0.9M128.3 222.9h0.9M134.9 219.5h0.9M125.3 224.1h0.9M128.3 218.3h0.9M125.9 221.0h0.9M137.1 216.0h0.9M124.8 220.4h0.9M112.7 224.5h0.9M123.5 221.6h0.9M116.4 221.1h0.9M131.7 219.2h0.9M115.4 223.7h0.9M121.9 219.6h0.9M127.7 216.1h0.9M128.3 216.1h0.9M120.1 226.6h0.9M128.9 221.7h0.9M125.3 217.2h0.9M123.3 219.3h0.9M131.5 218.1h0.9M121.9 222.7h0.9M114.9 222.7h0.9M118.0 220.1h0.9M131.0 215.3h0.9M127.7 218.7h0.9M122.8 221.3h0.9M134.1 215.1h0.9M125.4 222.1h0.9M131.9 214.8h0.9M124.4 218.0h0.9M122.8 219.6h0.9M123.9 219.3h0.9M122.7 223.8h0.9" stroke="#30c060" stroke-width="0.9" stroke-opacity="0.55"/>
<path d="M144.0 197.1h0.9M146.6 198.2h0.9M142.5 196.2h0.9M146.6 198.5h0.9M145.4 197.0h0.9M147.0 196.5h0.9M145.8 197.2h0.9M143.3 198.2h0.9M140.9 197.2h0.9M143.7 199.7h0.9M147.1 196.2h0.9M143.3 197.8h0.9M149.0 195.3h0.9M144.7 198.9h0.9M146.2 196.7h0.9M143.6 199.7h0.9M145.1 196.8h0.9M143.8 197.1h0.9M144.6 196.4h0.9M142.9 196.4h0.9M140.5 197.0h0.9M148.3 197.5h0.9M143.8 199.9h0.9M144.4 198.9h0.9M145.0 199.6h0.9M147.2 198.9h0.9M144.1 194.6h0.9M146.4 199.6h0.9M143.7 194.6h0.9" stroke="#5068ea" stroke-width="0.9" stroke-opacity="0.4"/>
<line x1="132.81" y1="189.6" x2="132.81" y2="229" stroke="#8a8a8a" stroke-width="0.7" />
<line x1="112.1" y1="211.27" x2="152.7" y2="211.27" stroke="#8a8a8a" stroke-width="0.7" />
<text x="113.8" y="197.5" font-size="7.5" text-anchor="start" font-weight="bold" fill="#1c3fae" textLength="21.8" lengthAdjust="spacingAndGlyphs" stroke="#1c3fae" stroke-width="0.25">27.6%</text>
<clipPath id="cp106"><rect x="160.9" y="189.6" width="40.6" height="39.4"/></clipPath>
<rect x="160.9" y="189.6" width="40.6" height="39.4" fill="#fff" stroke="#a8a8a8" stroke-width="0.6"/>
<line x1="159.3" y1="194.33" x2="160.9" y2="194.33" stroke="#888" stroke-width="0.5" />
<rect x="157.5" y="192.93" width="1.2" height="0.8" fill="#999"/>
<line x1="159.3" y1="202.21" x2="160.9" y2="202.21" stroke="#888" stroke-width="0.5" />
<rect x="157.5" y="200.81" width="1.2" height="0.8" fill="#999"/>
<line x1="159.3" y1="210.09" x2="160.9" y2="210.09" stroke="#888" stroke-width="0.5" />
<rect x="157.5" y="208.69" width="1.2" height="0.8" fill="#999"/>
<line x1="159.3" y1="217.97" x2="160.9" y2="217.97" stroke="#888" stroke-width="0.5" />
<rect x="157.5" y="216.57" width="1.2" height="0.8" fill="#999"/>
<line x1="159.3" y1="225.85" x2="160.9" y2="225.85" stroke="#888" stroke-width="0.5" />
<rect x="157.5" y="224.45" width="1.2" height="0.8" fill="#999"/>
<line x1="165.77" y1="229" x2="165.77" y2="230.6" stroke="#888" stroke-width="0.5" />
<rect x="165.47" y="231.2" width="1.2" height="0.8" fill="#999"/>
<line x1="176.73" y1="229" x2="176.73" y2="230.6" stroke="#888" stroke-width="0.5" />
<rect x="176.43" y="231.2" width="1.2" height="0.8" fill="#999"/>
<line x1="187.7" y1="229" x2="187.7" y2="230.6" stroke="#888" stroke-width="0.5" />
<rect x="187.4" y="231.2" width="1.2" height="0.8" fill="#999"/>
<line x1="198.66" y1="229" x2="198.66" y2="230.6" stroke="#888" stroke-width="0.5" />
<rect x="198.36" y="231.2" width="1.2" height="0.8" fill="#999"/>
<rect x="178.2" y="234" width="6" height="0.8" fill="#bbb"/>
<rect x="202.9" y="207.33" width="0.8" height="5" fill="#ccc"/>
<rect x="197" y="191.6" width="2.2" height="1.6" fill="#bbb"/>
<rect x="197" y="224.5" width="2.2" height="1.6" fill="#bbb"/>
<rect x="162.4" y="224.5" width="2.2" height="1.6" fill="#999"/>
<g clip-path="url(#cp106)"><g filter="url(#b1)">
<ellipse cx="176.33" cy="218.76" rx="15.43" ry="5.28" fill="#7890f2" fill-opacity="0.45" transform="rotate(-21 176.33 218.76)"/>
<ellipse cx="173.08" cy="220.33" rx="10.96" ry="3.25" fill="#3cc4a0" fill-opacity="0.7" transform="rotate(-21 173.08 220.33)"/>
<ellipse cx="170.64" cy="221.51" rx="6.9" ry="2.23" fill="#78d83a" fill-opacity="0.95" transform="rotate(-21 170.64 221.51)"/>
<ellipse cx="168.61" cy="222.5" rx="3.25" ry="1.3" fill="#e6d020" fill-opacity="0.95" transform="rotate(-21 168.61 222.5)"/>
<ellipse cx="167.4" cy="222.89" rx="1.22" ry="0.81" fill="#e05a10" fill-opacity="0.9" transform="rotate(-21 167.4 222.89)"/>
<ellipse cx="193.38" cy="197.48" rx="2.84" ry="1.62" fill="#7890f2" fill-opacity="0.35" transform="rotate(-30 193.38 197.48)"/>
</g></g>
<path d="M180.4 214.0h0.8M186.7 209.1h0.8M183.1 211.2h0.8M185.8 210.7h0.8M177.4 212.2h0.8M168.9 221.4h0.8M169.1 221.4h0.8M172.0 219.1h0.8M176.5 219.7h0.8M168.3 226.4h0.8M170.9 217.9h0.8M173.7 218.4h0.8M168.0 224.4h0.8M172.0 219.8h0.8M167.2 224.2h0.8M186.6 210.9h0.8M184.6 208.8h0.8M171.4 218.5h0.8M173.1 219.3h0.8M183.8 210.2h0.8M176.8 213.8h0.8M168.5 225.2h0.8M177.0 214.1h0.8M176.7 215.8h0.8M183.3 210.9h0.8M168.0 225.3h0.8M181.2 216.8h0.8M171.7 219.7h0.8M165.8 225.4h0.8M172.3 218.8h0.8M175.7 222.9h0.8M174.3 219.2h0.8M178.6 216.1h0.8M175.9 214.4h0.8M182.2 214.5h0.8M183.8 210.2h0.8M182.8 213.4h0.8M174.1 215.7h0.8M174.6 219.8h0.8M167.8 221.1h0.8M179.4 212.8h0.8M179.0 214.8h0.8M167.4 222.6h0.8M183.0 211.0h0.8M186.7 214.3h0.8M170.8 216.4h0.8M180.7 216.2h0.8M174.9 219.2h0.8M165.2 222.1h0.8M178.0 215.4h0.8M165.3 223.6h0.8M175.1 215.6h0.8M180.4 216.1h0.8M168.9 223.2h0.8M172.3 217.8h0.8M177.7 215.5h0.8M170.4 216.2h0.8M171.7 223.6h0.8M163.1 226.1h0.8M172.7 222.6h0.8M178.1 214.3h0.8M176.6 222.2h0.8M186.5 210.1h0.8M169.1 220.6h0.8M183.5 211.1h0.8M166.9 221.8h0.8M172.1 219.0h0.8M166.5 223.5h0.8M170.7 220.9h0.8M166.9 220.7h0.8M170.3 219.3h0.8M175.2 220.5h0.8M172.8 217.4h0.8M177.8 218.6h0.8M184.5 207.0h0.8M185.4 209.0h0.8M181.3 215.2h0.8M182.7 217.4h0.8M183.3 209.7h0.8M170.5 220.5h0.8M172.2 222.1h0.8M179.3 214.5h0.8M164.0 219.9h0.8M172.3 216.4h0.8M171.0 222.3h0.8M179.2 218.5h0.8M178.5 214.4h0.8M166.7 225.2h0.8M170.1 219.3h0.8M189.7 212.3h0.8M170.6 221.1h0.8M176.2 220.1h0.8M177.3 214.0h0.8M166.1 226.3h0.8M175.3 218.6h0.8M176.9 214.9h0.8M184.0 213.6h0.8M171.0 225.7h0.8M180.4 216.2h0.8M169.8 220.3h0.8M176.9 218.7h0.8M178.1 212.1h0.8M182.5 210.3h0.8M176.0 216.8h0.8M168.5 222.5h0.8M176.6 219.7h0.8M184.2 207.9h0.8M176.7 216.7h0.8M163.9 221.1h0.8M186.3 206.4h0.8M171.5 223.8h0.8M167.1 218.2h0.8M166.8 222.1h0.8M172.9 218.7h0.8M182.2 212.9h0.8M183.3 210.1h0.8M174.6 217.1h0.8M165.3 226.0h0.8M165.9 222.3h0.8M177.9 216.0h0.8M173.0 218.9h0.8M165.4 223.9h0.8M180.6 215.5h0.8M183.2 216.0h0.8M163.7 224.4h0.8M167.6 225.0h0.8M169.4 224.1h0.8M170.4 220.5h0.8M176.7 219.0h0.8M176.8 215.5h0.8M165.6 226.2h0.8M172.1 220.6h0.8M174.0 217.3h0.8M167.5 223.5h0.8M183.2 215.2h0.8M174.8 220.3h0.8M185.3 206.9h0.8M167.8 223.3h0.8M175.6 217.1h0.8M170.0 215.1h0.8M183.9 213.2h0.8M169.4 220.9h0.8M168.4 225.1h0.8M182.8 210.1h0.8M179.7 217.6h0.8M188.2 212.3h0.8M176.2 216.4h0.8M176.2 212.0h0.8M168.2 227.0h0.8M185.2 209.6h0.8M169.7 217.2h0.8M165.7 226.2h0.8M169.2 219.9h0.8M176.8 214.6h0.8M182.0 211.0h0.8M188.4 209.9h0.8M164.4 225.6h0.8M187.0 210.2h0.8M171.1 215.7h0.8M177.5 213.6h0.8M182.0 214.1h0.8M167.0 222.8h0.8M182.5 214.3h0.8M180.4 218.9h0.8M174.2 213.5h0.8M183.5 210.9h0.8M178.7 216.3h0.8M174.9 217.8h0.8M188.5 209.6h0.8M164.9 223.3h0.8M171.0 219.1h0.8M179.4 216.9h0.8M166.6 222.2h0.8M182.8 214.7h0.8M166.2 222.2h0.8M168.4 219.3h0.8M167.9 226.8h0.8M170.1 221.6h0.8M186.8 207.8h0.8M171.6 220.2h0.8M185.6 209.4h0.8M188.8 204.7h0.8M189.1 202.0h0.8M190.9 203.8h0.8M190.6 199.8h0.8M187.4 210.6h0.8M188.9 208.4h0.8M189.7 204.4h0.8M186.4 206.1h0.8M190.9 204.0h0.8M187.5 206.7h0.8M185.7 210.1h0.8M192.9 195.9h0.8M190.3 201.9h0.8M194.1 198.9h0.8M187.8 204.4h0.8M190.6 198.1h0.8M187.5 209.4h0.8M192.9 205.6h0.8M188.6 202.1h0.8M193.6 201.2h0.8M192.1 204.7h0.8M192.7 202.2h0.8M192.4 201.9h0.8M187.2 208.1h0.8M190.3 205.9h0.8M186.8 207.7h0.8M189.4 205.1h0.8M186.0 207.8h0.8M186.8 210.2h0.8M191.3 207.1h0.8M193.6 203.3h0.8M188.2 204.6h0.8M190.3 202.1h0.8M190.1 204.0h0.8M191.5 205.6h0.8M188.7 208.6h0.8M187.3 205.6h0.8M193.3 199.4h0.8M191.6 198.0h0.8M195.7 202.3h0.8M189.8 208.3h0.8M190.6 208.2h0.8M192.2 202.5h0.8M188.0 208.7h0.8M192.3 200.8h0.8M192.9 200.3h0.8M193.6 198.2h0.8M188.5 204.8h0.8M190.7 204.7h0.8M190.4 208.4h0.8M189.4 207.9h0.8M189.0 204.6h0.8M191.3 206.8h0.8M186.7 205.9h0.8M189.4 205.0h0.8M194.4 199.2h0.8M194.8 201.6h0.8M191.3 202.5h0.8M187.7 205.7h0.8M189.3 207.0h0.8M196.5 215.6h0.8M188.6 223.7h0.8M194.2 216.3h0.8M171.9 201.2h0.8M178.6 211.6h0.8M175.6 196.7h0.8M171.5 195.0h0.8M195.6 198.9h0.8M179.1 209.5h0.8M165.7 204.4h0.8M164.5 196.4h0.8M186.8 201.4h0.8M188.8 192.1h0.8M172.7 206.9h0.8M187.0 216.8h0.8M177.3 193.0h0.8M178.9 192.9h0.8M193.3 196.5h0.8M168.1 203.1h0.8M186.0 202.8h0.8M181.4 209.2h0.8M163.0 226.3h0.8M188.9 194.1h0.8M182.8 220.7h0.8M168.9 223.4h0.8M175.8 213.6h0.8M190.9 223.5h0.8M185.8 206.2h0.8M166.9 217.9h0.8M169.2 224.5h0.8M167.7 215.8h0.8M199.0 195.3h0.8M196.1 217.3h0.8M179.4 201.1h0.8M198.2 199.1h0.8M166.4 224.1h0.8M172.5 199.0h0.8M176.3 225.5h0.8M198.8 200.0h0.8M185.2 219.0h0.8M179.4 225.4h0.8M168.3 222.8h0.8M176.7 219.5h0.8M188.6 223.8h0.8M168.8 210.3h0.8" stroke="#6a80f0" stroke-width="0.8" stroke-opacity="0.38"/>
<path d="M170.7 220.6h0.9M169.1 221.9h0.9M179.2 221.2h0.9M162.0 225.3h0.9M172.0 219.6h0.9M162.4 222.6h0.9M169.2 221.7h0.9M170.8 218.0h0.9M176.9 217.0h0.9M169.0 218.1h0.9M172.6 217.1h0.9M179.7 217.1h0.9M179.7 218.7h0.9M169.3 220.5h0.9M168.4 224.8h0.9M177.2 219.0h0.9M177.9 214.0h0.9M177.8 218.1h0.9M171.6 222.5h0.9M179.1 216.6h0.9M169.8 227.7h0.9M166.6 222.6h0.9M177.7 220.2h0.9M168.4 220.0h0.9M169.3 225.4h0.9M175.0 222.0h0.9M176.7 218.8h0.9M176.7 219.5h0.9M180.7 218.0h0.9M184.1 214.3h0.9M178.7 217.4h0.9M176.2 219.2h0.9M176.0 218.5h0.9M177.1 218.3h0.9M164.1 224.6h0.9M172.0 217.5h0.9M184.5 215.5h0.9M173.2 219.8h0.9M184.6 218.4h0.9M166.8 220.8h0.9M171.4 219.8h0.9M178.0 218.1h0.9M172.8 223.3h0.9" stroke="#30c060" stroke-width="0.9" stroke-opacity="0.55"/>
<path d="M193.6 199.1h0.9M196.6 196.7h0.9M199.3 197.7h0.9M192.4 199.8h0.9M194.5 194.9h0.9M189.0 196.6h0.9M193.1 197.7h0.9M192.0 196.4h0.9M193.8 199.8h0.9M192.1 199.5h0.9M192.3 197.0h0.9M191.7 196.4h0.9M193.0 196.3h0.9M195.1 194.5h0.9M194.1 197.7h0.9M191.6 194.9h0.9M194.7 197.6h0.9M195.5 198.7h0.9M192.0 198.6h0.9M195.8 198.7h0.9M195.5 197.3h0.9M193.7 196.8h0.9M195.4 196.8h0.9M192.2 199.7h0.9M194.7 199.8h0.9M191.4 195.6h0.9M191.6 197.9h0.9M194.6 193.1h0.9M194.7 200.2h0.9M192.2 195.9h0.9M191.6 198.4h0.9" stroke="#5068ea" stroke-width="0.9" stroke-opacity="0.4"/>
<line x1="181.61" y1="189.6" x2="181.61" y2="229" stroke="#8a8a8a" stroke-width="0.7" />
<line x1="160.9" y1="211.27" x2="201.5" y2="211.27" stroke="#8a8a8a" stroke-width="0.7" />
<text x="162.6" y="197.5" font-size="7.5" text-anchor="start" font-weight="bold" fill="#1c3fae" textLength="21.8" lengthAdjust="spacingAndGlyphs" stroke="#1c3fae" stroke-width="0.25">30.0%</text>
<text x="236.6" y="134.9" font-size="9.3" text-anchor="middle" font-weight="normal" fill="#111" textLength="27.7" lengthAdjust="spacingAndGlyphs" >DMSO</text>
<text x="286.6" y="134.9" font-size="9.3" text-anchor="middle" font-weight="normal" fill="#111" textLength="40" lengthAdjust="spacingAndGlyphs" >IB-0.1uM</text>
<text x="335.3" y="134.9" font-size="9.3" text-anchor="middle" font-weight="normal" fill="#111" textLength="45" lengthAdjust="spacingAndGlyphs" >KIN-0.1uM</text>
<text x="286.6" y="186.9" font-size="9.3" text-anchor="middle" font-weight="normal" fill="#111" textLength="40" lengthAdjust="spacingAndGlyphs" >IB-0.5uM</text>
<text x="335.3" y="186.9" font-size="9.3" text-anchor="middle" font-weight="normal" fill="#111" textLength="45" lengthAdjust="spacingAndGlyphs" >KIN-0.5uM</text>
<clipPath id="cp110"><rect x="215.8" y="137.8" width="40.6" height="39.4"/></clipPath>
<rect x="215.8" y="137.8" width="40.6" height="39.4" fill="#fff" stroke="#a8a8a8" stroke-width="0.6"/>
<line x1="214.2" y1="142.53" x2="215.8" y2="142.53" stroke="#888" stroke-width="0.5" />
<rect x="212.4" y="141.13" width="1.2" height="0.8" fill="#999"/>
<line x1="214.2" y1="150.41" x2="215.8" y2="150.41" stroke="#888" stroke-width="0.5" />
<rect x="212.4" y="149.01" width="1.2" height="0.8" fill="#999"/>
<line x1="214.2" y1="158.29" x2="215.8" y2="158.29" stroke="#888" stroke-width="0.5" />
<rect x="212.4" y="156.89" width="1.2" height="0.8" fill="#999"/>
<line x1="214.2" y1="166.17" x2="215.8" y2="166.17" stroke="#888" stroke-width="0.5" />
<rect x="212.4" y="164.77" width="1.2" height="0.8" fill="#999"/>
<line x1="214.2" y1="174.05" x2="215.8" y2="174.05" stroke="#888" stroke-width="0.5" />
<rect x="212.4" y="172.65" width="1.2" height="0.8" fill="#999"/>
<line x1="220.67" y1="177.2" x2="220.67" y2="178.8" stroke="#888" stroke-width="0.5" />
<rect x="220.37" y="179.4" width="1.2" height="0.8" fill="#999"/>
<line x1="231.63" y1="177.2" x2="231.63" y2="178.8" stroke="#888" stroke-width="0.5" />
<rect x="231.33" y="179.4" width="1.2" height="0.8" fill="#999"/>
<line x1="242.6" y1="177.2" x2="242.6" y2="178.8" stroke="#888" stroke-width="0.5" />
<rect x="242.3" y="179.4" width="1.2" height="0.8" fill="#999"/>
<line x1="253.56" y1="177.2" x2="253.56" y2="178.8" stroke="#888" stroke-width="0.5" />
<rect x="253.26" y="179.4" width="1.2" height="0.8" fill="#999"/>
<rect x="233.1" y="182.2" width="6" height="0.8" fill="#bbb"/>
<rect x="257.8" y="155.53" width="0.8" height="5" fill="#ccc"/>
<rect x="251.9" y="139.8" width="2.2" height="1.6" fill="#bbb"/>
<rect x="251.9" y="172.7" width="2.2" height="1.6" fill="#bbb"/>
<rect x="217.3" y="172.7" width="2.2" height="1.6" fill="#999"/>
<g clip-path="url(#cp110)"><g filter="url(#b1)">
<ellipse cx="227.17" cy="170.9" rx="10.56" ry="3.45" fill="#6c84f2" fill-opacity="0.55" transform="rotate(-12 227.17 170.9)"/>
<ellipse cx="225.95" cy="171.29" rx="7.71" ry="2.44" fill="#3cc4a0" fill-opacity="0.85" transform="rotate(-12 225.95 171.29)"/>
<ellipse cx="224.73" cy="171.49" rx="5.28" ry="1.83" fill="#78d83a" fill-opacity="1" transform="rotate(-12 224.73 171.49)"/>
<ellipse cx="223.51" cy="171.68" rx="2.84" ry="1.22" fill="#e6d020" fill-opacity="1" transform="rotate(-12 223.51 171.68)"/>
<ellipse cx="222.7" cy="171.88" rx="1.22" ry="0.81" fill="#e05a10" fill-opacity="1" transform="rotate(-12 222.7 171.88)"/>
<ellipse cx="240.97" cy="157.5" rx="10.15" ry="2.84" fill="#6c84f2" fill-opacity="0.35" transform="rotate(-60 240.97 157.5)"/>
<ellipse cx="248.28" cy="145.68" rx="2.44" ry="1.42" fill="#6c84f2" fill-opacity="0.5" transform="rotate(-40 248.28 145.68)"/>
</g></g>
<path d="M231.9 170.9h0.8M221.8 171.1h0.8M229.4 170.8h0.8M227.1 171.5h0.8M235.2 170.8h0.8M225.7 171.1h0.8M229.5 171.3h0.8M231.0 169.9h0.8M228.2 170.2h0.8M235.7 167.8h0.8M226.0 172.3h0.8M231.5 169.0h0.8M223.6 173.7h0.8M234.6 168.6h0.8M224.5 172.4h0.8M220.5 171.2h0.8M227.4 169.5h0.8M221.4 170.9h0.8M232.9 169.6h0.8M234.2 168.6h0.8M235.4 168.3h0.8M235.1 169.4h0.8M223.0 169.5h0.8M227.6 168.5h0.8M221.1 172.1h0.8M229.0 170.1h0.8M222.9 171.1h0.8M222.3 172.3h0.8M232.8 168.8h0.8M219.3 173.1h0.8M223.9 169.6h0.8M229.4 171.1h0.8M231.6 168.0h0.8M235.0 166.4h0.8M230.8 170.5h0.8M225.8 171.5h0.8M221.0 171.6h0.8M221.2 170.7h0.8M230.3 168.4h0.8M223.7 167.6h0.8M229.3 170.2h0.8M223.8 173.6h0.8M235.0 170.9h0.8M234.1 170.9h0.8M220.4 172.3h0.8M220.0 171.0h0.8M236.6 168.0h0.8M223.5 173.6h0.8M233.8 166.7h0.8M235.3 169.5h0.8M231.1 171.8h0.8M227.5 168.9h0.8M234.6 168.6h0.8M221.0 170.2h0.8M230.3 169.3h0.8M229.6 167.3h0.8M233.3 168.9h0.8M229.6 170.9h0.8M221.7 172.5h0.8M233.2 168.6h0.8M233.6 171.0h0.8M224.6 170.8h0.8M229.7 169.4h0.8M235.1 171.0h0.8M224.6 172.1h0.8M224.1 174.5h0.8M226.6 170.4h0.8M220.6 171.7h0.8M225.1 170.2h0.8M224.6 169.9h0.8M229.5 168.3h0.8M225.0 171.8h0.8M226.5 170.4h0.8M227.7 169.6h0.8M222.0 170.9h0.8M235.9 168.7h0.8M220.3 175.1h0.8M221.9 168.6h0.8M220.4 171.4h0.8M234.1 168.6h0.8M223.4 172.4h0.8M229.7 170.5h0.8M222.2 171.6h0.8M228.7 172.1h0.8M224.7 170.5h0.8M226.6 170.6h0.8M221.0 175.4h0.8M226.2 170.8h0.8M230.8 169.4h0.8M234.4 168.4h0.8M224.8 167.9h0.8M231.7 168.3h0.8M226.3 168.1h0.8M230.3 170.9h0.8M223.1 171.8h0.8M226.2 172.3h0.8M217.4 168.1h0.8M233.8 167.3h0.8M246.8 146.4h0.8M238.0 164.4h0.8M237.5 168.6h0.8M238.9 160.5h0.8M244.8 154.5h0.8M239.2 166.5h0.8M242.8 154.5h0.8M243.9 154.7h0.8M238.9 164.0h0.8M244.1 154.5h0.8M244.2 161.4h0.8M245.7 146.8h0.8M243.5 156.4h0.8M243.6 151.3h0.8M235.6 162.7h0.8M239.7 160.2h0.8M248.6 144.7h0.8M243.4 151.6h0.8M235.0 166.6h0.8M249.5 150.9h0.8M239.1 158.1h0.8M237.3 161.2h0.8M240.2 157.4h0.8M252.1 144.5h0.8M238.2 157.2h0.8M243.9 150.6h0.8M232.5 166.7h0.8M238.9 164.4h0.8M242.4 154.5h0.8M244.5 156.8h0.8M238.4 156.6h0.8M243.6 148.3h0.8M243.7 148.1h0.8M237.1 164.3h0.8M240.8 158.4h0.8M239.3 159.5h0.8M245.9 150.1h0.8M245.5 153.0h0.8M239.2 167.4h0.8M240.9 160.5h0.8M245.4 151.8h0.8M245.1 148.4h0.8M239.7 158.4h0.8M250.2 143.9h0.8M250.0 147.3h0.8M249.3 148.9h0.8M242.0 159.6h0.8M245.0 149.5h0.8M234.7 162.7h0.8M234.1 165.2h0.8M245.0 155.3h0.8M234.6 164.8h0.8M244.2 155.7h0.8M232.0 164.0h0.8M236.2 164.3h0.8M244.9 153.5h0.8M242.4 154.7h0.8M230.7 169.6h0.8M242.1 158.7h0.8M233.1 164.0h0.8M248.0 141.6h0.8M240.4 157.6h0.8M239.9 156.4h0.8M230.5 167.3h0.8M238.8 160.0h0.8M237.3 158.6h0.8M240.8 161.7h0.8M244.9 156.5h0.8M248.6 148.1h0.8M235.2 160.2h0.8M236.7 166.0h0.8M237.8 163.9h0.8M239.8 151.4h0.8M240.4 149.6h0.8M243.6 152.2h0.8M240.0 161.1h0.8M243.8 147.8h0.8M233.9 165.5h0.8M245.4 146.6h0.8M233.0 168.8h0.8M240.7 161.3h0.8M235.6 169.6h0.8M237.9 161.6h0.8M236.6 161.8h0.8M240.0 150.9h0.8M246.7 144.2h0.8M245.8 144.7h0.8M248.2 146.5h0.8M244.3 154.6h0.8M233.2 170.0h0.8M237.3 163.4h0.8M234.9 163.5h0.8M235.9 161.3h0.8M243.2 160.0h0.8M244.4 153.0h0.8M226.2 172.1h0.8M243.0 162.3h0.8M225.3 144.2h0.8M253.2 173.4h0.8M235.9 157.3h0.8M235.9 150.5h0.8M246.8 172.6h0.8M235.2 154.8h0.8M220.6 143.2h0.8M232.0 151.3h0.8M235.9 163.6h0.8M254.0 148.0h0.8M243.4 169.0h0.8M233.5 166.5h0.8M222.5 144.1h0.8M249.7 169.4h0.8M229.6 158.6h0.8M230.1 172.2h0.8M240.8 153.9h0.8M241.7 153.2h0.8M238.8 170.1h0.8M219.7 140.9h0.8M253.9 171.3h0.8M246.4 171.0h0.8M251.8 146.8h0.8M252.9 171.8h0.8M224.5 174.3h0.8M236.2 155.9h0.8M239.0 166.6h0.8M220.7 145.6h0.8M238.3 157.4h0.8M242.4 150.8h0.8M253.8 172.0h0.8M226.9 151.6h0.8M252.7 173.0h0.8M252.9 153.8h0.8M241.9 140.3h0.8M247.7 167.1h0.8M236.5 165.1h0.8M221.6 140.9h0.8M245.8 161.5h0.8M237.6 148.3h0.8M249.4 155.1h0.8M239.0 149.2h0.8M220.7 164.3h0.8" stroke="#6a80f0" stroke-width="0.8" stroke-opacity="0.38"/>
<path d="M227.2 170.7h0.9M218.8 172.8h0.9M229.2 169.8h0.9M232.8 173.0h0.9M230.6 167.9h0.9M218.7 172.7h0.9M220.7 170.2h0.9M228.3 171.5h0.9M228.1 170.1h0.9M225.2 169.9h0.9M224.7 171.9h0.9M219.6 172.4h0.9M237.4 169.1h0.9M223.0 171.7h0.9M225.3 169.4h0.9M223.6 171.2h0.9M222.7 172.0h0.9M230.3 172.7h0.9M228.1 170.1h0.9M227.7 170.9h0.9M226.0 169.8h0.9M225.3 172.3h0.9M232.3 169.9h0.9M230.3 169.5h0.9M218.0 170.6h0.9M223.2 170.9h0.9M231.3 168.4h0.9M219.4 171.7h0.9M220.3 172.8h0.9M230.9 168.1h0.9M233.3 171.7h0.9M220.9 171.1h0.9M228.8 169.0h0.9M225.7 170.3h0.9M223.4 173.1h0.9M219.5 170.8h0.9M223.1 169.7h0.9M229.9 171.8h0.9M224.8 170.6h0.9M230.0 170.6h0.9M225.6 171.5h0.9M218.1 172.0h0.9M224.2 173.5h0.9M229.4 170.0h0.9" stroke="#30c060" stroke-width="0.9" stroke-opacity="0.55"/>
<path d="M248.5 149.7h0.9M248.8 147.4h0.9M247.0 146.2h0.9M249.9 147.0h0.9M244.8 145.4h0.9M246.8 146.3h0.9M245.4 144.7h0.9M248.8 144.9h0.9M248.9 144.6h0.9M247.0 145.5h0.9M246.5 144.8h0.9M248.5 145.7h0.9M249.9 147.2h0.9M251.7 145.8h0.9M245.5 144.7h0.9M252.9 146.5h0.9M251.1 145.6h0.9M249.3 143.9h0.9M248.5 146.6h0.9M246.8 144.0h0.9M248.7 143.5h0.9" stroke="#5068ea" stroke-width="0.9" stroke-opacity="0.4"/>
<line x1="236.51" y1="137.8" x2="236.51" y2="177.2" stroke="#8a8a8a" stroke-width="0.7" />
<line x1="215.8" y1="159.08" x2="256.4" y2="159.08" stroke="#8a8a8a" stroke-width="0.7" />
<text x="217.5" y="145.7" font-size="7.5" text-anchor="start" font-weight="bold" fill="#1c3fae" textLength="21.8" lengthAdjust="spacingAndGlyphs" stroke="#1c3fae" stroke-width="0.25">16.1%</text>
<clipPath id="cp111"><rect x="265.8" y="137.8" width="40.6" height="39.4"/></clipPath>
<rect x="265.8" y="137.8" width="40.6" height="39.4" fill="#fff" stroke="#a8a8a8" stroke-width="0.6"/>
<line x1="264.2" y1="142.53" x2="265.8" y2="142.53" stroke="#888" stroke-width="0.5" />
<rect x="262.4" y="141.13" width="1.2" height="0.8" fill="#999"/>
<line x1="264.2" y1="150.41" x2="265.8" y2="150.41" stroke="#888" stroke-width="0.5" />
<rect x="262.4" y="149.01" width="1.2" height="0.8" fill="#999"/>
<line x1="264.2" y1="158.29" x2="265.8" y2="158.29" stroke="#888" stroke-width="0.5" />
<rect x="262.4" y="156.89" width="1.2" height="0.8" fill="#999"/>
<line x1="264.2" y1="166.17" x2="265.8" y2="166.17" stroke="#888" stroke-width="0.5" />
<rect x="262.4" y="164.77" width="1.2" height="0.8" fill="#999"/>
<line x1="264.2" y1="174.05" x2="265.8" y2="174.05" stroke="#888" stroke-width="0.5" />
<rect x="262.4" y="172.65" width="1.2" height="0.8" fill="#999"/>
<line x1="270.67" y1="177.2" x2="270.67" y2="178.8" stroke="#888" stroke-width="0.5" />
<rect x="270.37" y="179.4" width="1.2" height="0.8" fill="#999"/>
<line x1="281.63" y1="177.2" x2="281.63" y2="178.8" stroke="#888" stroke-width="0.5" />
<rect x="281.33" y="179.4" width="1.2" height="0.8" fill="#999"/>
<line x1="292.6" y1="177.2" x2="292.6" y2="178.8" stroke="#888" stroke-width="0.5" />
<rect x="292.3" y="179.4" width="1.2" height="0.8" fill="#999"/>
<line x1="303.56" y1="177.2" x2="303.56" y2="178.8" stroke="#888" stroke-width="0.5" />
<rect x="303.26" y="179.4" width="1.2" height="0.8" fill="#999"/>
<rect x="283.1" y="182.2" width="6" height="0.8" fill="#bbb"/>
<rect x="307.8" y="155.53" width="0.8" height="5" fill="#ccc"/>
<rect x="301.9" y="139.8" width="2.2" height="1.6" fill="#bbb"/>
<rect x="301.9" y="172.7" width="2.2" height="1.6" fill="#bbb"/>
<rect x="267.3" y="172.7" width="2.2" height="1.6" fill="#999"/>
<g clip-path="url(#cp111)"><g filter="url(#b1)">
<ellipse cx="277.17" cy="170.9" rx="10.56" ry="3.45" fill="#6c84f2" fill-opacity="0.55" transform="rotate(-12 277.17 170.9)"/>
<ellipse cx="275.95" cy="171.29" rx="7.71" ry="2.44" fill="#3cc4a0" fill-opacity="0.85" transform="rotate(-12 275.95 171.29)"/>
<ellipse cx="274.73" cy="171.49" rx="5.28" ry="1.83" fill="#78d83a" fill-opacity="1" transform="rotate(-12 274.73 171.49)"/>
<ellipse cx="273.51" cy="171.68" rx="2.84" ry="1.22" fill="#e6d020" fill-opacity="1" transform="rotate(-12 273.51 171.68)"/>
<ellipse cx="272.7" cy="171.88" rx="1.22" ry="0.81" fill="#e05a10" fill-opacity="1" transform="rotate(-12 272.7 171.88)"/>
<ellipse cx="290.97" cy="157.5" rx="10.15" ry="2.84" fill="#6c84f2" fill-opacity="0.35" transform="rotate(-60 290.97 157.5)"/>
<ellipse cx="298.28" cy="145.68" rx="2.44" ry="1.42" fill="#6c84f2" fill-opacity="0.5" transform="rotate(-40 298.28 145.68)"/>
</g></g>
<path d="M283.4 173.2h0.8M275.3 171.6h0.8M272.4 172.9h0.8M272.0 169.3h0.8M275.1 171.7h0.8M281.9 168.5h0.8M281.0 171.9h0.8M271.4 170.2h0.8M283.2 168.1h0.8M269.6 171.7h0.8M276.6 169.7h0.8M271.6 172.0h0.8M286.3 166.9h0.8M279.2 169.6h0.8M284.9 170.7h0.8M282.3 171.9h0.8M274.5 170.6h0.8M272.7 167.8h0.8M275.7 173.1h0.8M285.3 171.3h0.8M274.7 168.6h0.8M280.7 166.6h0.8M287.3 171.7h0.8M282.7 171.1h0.8M274.0 171.0h0.8M275.4 170.1h0.8M279.6 168.6h0.8M278.4 167.8h0.8M278.5 170.0h0.8M273.4 172.0h0.8M271.8 171.0h0.8M282.9 167.1h0.8M271.0 175.5h0.8M275.9 169.5h0.8M268.9 172.8h0.8M271.0 169.2h0.8M277.5 171.6h0.8M271.9 170.3h0.8M281.0 169.3h0.8M281.2 171.7h0.8M276.0 168.7h0.8M271.1 171.1h0.8M268.5 171.5h0.8M281.6 168.5h0.8M277.0 169.2h0.8M270.2 172.0h0.8M270.6 174.8h0.8M279.0 167.4h0.8M278.0 169.1h0.8M273.1 171.5h0.8M269.0 174.1h0.8M270.9 171.3h0.8M281.4 171.3h0.8M280.5 165.6h0.8M268.3 171.9h0.8M283.5 172.1h0.8M277.8 166.9h0.8M284.3 167.8h0.8M282.5 168.0h0.8M277.6 167.6h0.8M274.6 171.0h0.8M284.8 173.1h0.8M271.2 174.2h0.8M280.1 170.9h0.8M278.3 168.2h0.8M273.9 171.6h0.8M282.9 167.9h0.8M274.0 171.6h0.8M272.6 169.3h0.8M279.5 169.6h0.8M273.4 170.9h0.8M282.1 167.9h0.8M274.2 171.4h0.8M272.2 172.6h0.8M268.4 171.6h0.8M275.5 171.6h0.8M285.0 171.3h0.8M272.5 170.6h0.8M270.5 174.2h0.8M272.7 169.4h0.8M285.0 167.2h0.8M274.0 171.8h0.8M276.0 171.2h0.8M284.6 165.9h0.8M273.4 169.5h0.8M275.4 169.0h0.8M280.2 164.6h0.8M281.4 167.6h0.8M271.9 171.8h0.8M279.0 170.1h0.8M278.3 169.2h0.8M274.9 169.2h0.8M281.8 169.8h0.8M277.8 168.6h0.8M267.8 169.1h0.8M276.0 170.0h0.8M275.3 171.2h0.8M284.6 169.5h0.8M279.5 172.9h0.8M271.7 172.3h0.8M270.5 169.3h0.8M293.8 153.7h0.8M294.1 153.5h0.8M294.6 147.8h0.8M291.4 160.4h0.8M290.7 153.6h0.8M283.3 163.9h0.8M293.3 156.9h0.8M294.5 151.4h0.8M285.8 155.9h0.8M296.6 150.5h0.8M295.1 153.4h0.8M296.7 150.1h0.8M291.0 163.2h0.8M291.9 150.7h0.8M296.3 152.7h0.8M292.0 157.1h0.8M296.4 148.7h0.8M298.1 146.5h0.8M290.5 156.9h0.8M288.3 160.3h0.8M290.1 165.6h0.8M289.9 158.3h0.8M287.1 166.2h0.8M283.8 168.1h0.8M291.3 149.0h0.8M288.0 167.0h0.8M292.4 154.9h0.8M294.4 156.6h0.8M283.9 163.2h0.8M290.9 163.8h0.8M283.9 167.7h0.8M295.6 150.4h0.8M290.8 151.3h0.8M289.0 166.6h0.8M286.4 169.3h0.8M296.4 151.4h0.8M284.6 167.0h0.8M290.0 158.7h0.8M297.6 146.8h0.8M294.8 153.9h0.8M286.5 163.7h0.8M294.9 145.7h0.8M294.7 152.6h0.8M289.3 157.3h0.8M288.5 157.3h0.8M285.5 166.5h0.8M293.3 154.9h0.8M293.9 155.8h0.8M294.5 144.0h0.8M287.6 164.0h0.8M286.5 163.6h0.8M290.0 158.7h0.8M299.3 154.9h0.8M289.4 159.2h0.8M296.8 149.2h0.8M292.8 154.5h0.8M288.0 169.9h0.8M290.5 156.0h0.8M289.0 158.8h0.8M285.5 166.5h0.8M294.9 149.2h0.8M281.9 171.8h0.8M297.1 144.4h0.8M294.2 156.8h0.8M296.1 149.0h0.8M294.3 153.4h0.8M293.2 154.0h0.8M298.9 142.5h0.8M296.0 148.7h0.8M290.2 162.2h0.8M296.0 151.4h0.8M297.1 153.7h0.8M284.3 166.3h0.8M292.6 157.5h0.8M288.7 156.8h0.8M288.6 155.2h0.8M292.8 153.9h0.8M285.2 165.8h0.8M293.5 154.2h0.8M285.3 163.2h0.8M289.7 162.4h0.8M288.6 155.6h0.8M295.4 151.4h0.8M289.7 164.2h0.8M294.3 150.6h0.8M298.1 144.0h0.8M288.6 164.8h0.8M290.2 158.6h0.8M292.8 152.6h0.8M297.6 145.5h0.8M293.2 148.8h0.8M287.8 165.1h0.8M280.8 167.6h0.8M295.9 151.8h0.8M283.1 166.3h0.8M291.6 163.3h0.8M292.0 158.8h0.8M283.8 162.9h0.8M279.8 142.8h0.8M294.6 141.0h0.8M290.2 171.8h0.8M304.3 150.0h0.8M277.4 141.2h0.8M283.6 169.0h0.8M276.2 145.5h0.8M302.1 145.2h0.8M280.9 174.0h0.8M273.3 150.8h0.8M292.7 143.3h0.8M296.2 167.9h0.8M276.5 150.3h0.8M297.9 174.0h0.8M303.3 150.9h0.8M272.9 157.9h0.8M280.5 163.8h0.8M293.0 163.0h0.8M280.3 163.7h0.8M268.0 152.3h0.8M301.9 162.6h0.8M283.1 142.0h0.8M281.9 161.1h0.8M270.2 147.6h0.8M291.2 147.4h0.8M302.6 142.7h0.8M293.8 143.5h0.8M303.5 171.5h0.8M275.4 171.8h0.8M293.8 167.1h0.8M279.3 144.0h0.8M290.4 160.9h0.8M272.2 171.5h0.8M286.3 144.4h0.8M292.4 164.6h0.8M299.2 151.4h0.8M268.5 152.8h0.8M301.1 157.0h0.8M297.7 144.2h0.8M271.5 168.0h0.8M296.6 156.6h0.8M275.8 148.3h0.8M299.2 152.1h0.8M292.1 161.7h0.8M302.4 160.2h0.8" stroke="#6a80f0" stroke-width="0.8" stroke-opacity="0.38"/>
<path d="M277.9 172.2h0.9M273.2 173.5h0.9M281.9 170.0h0.9M269.3 172.3h0.9M271.3 171.0h0.9M280.7 168.4h0.9M271.7 172.0h0.9M274.0 172.7h0.9M271.0 174.1h0.9M274.0 171.8h0.9M276.9 168.2h0.9M274.1 171.2h0.9M282.0 169.6h0.9M271.1 172.6h0.9M278.5 172.8h0.9M276.8 171.0h0.9M271.2 170.3h0.9M277.7 169.5h0.9M273.4 170.0h0.9M275.3 170.9h0.9M277.6 171.1h0.9M276.5 172.2h0.9M270.8 172.5h0.9M276.8 171.8h0.9M279.0 170.9h0.9M276.7 173.7h0.9M266.4 171.9h0.9M272.8 172.4h0.9M273.0 171.9h0.9M272.6 171.4h0.9M281.2 174.2h0.9M284.2 171.6h0.9M275.6 171.0h0.9M281.8 172.7h0.9M276.9 171.1h0.9M274.5 171.4h0.9M275.4 171.5h0.9M281.1 169.8h0.9M275.9 170.0h0.9M267.9 171.8h0.9M273.8 171.4h0.9M276.4 173.2h0.9M272.4 171.8h0.9M271.7 170.1h0.9M286.9 169.4h0.9" stroke="#30c060" stroke-width="0.9" stroke-opacity="0.55"/>
<path d="M295.8 146.3h0.9M296.7 149.9h0.9M299.7 147.1h0.9M300.4 147.5h0.9M298.3 145.0h0.9M301.2 141.8h0.9M298.4 147.0h0.9M300.2 145.7h0.9M297.3 144.9h0.9M301.2 146.9h0.9M299.1 151.2h0.9M298.0 144.0h0.9M299.0 143.9h0.9M297.4 144.4h0.9M295.4 146.4h0.9M298.6 143.7h0.9M299.2 144.3h0.9M301.2 144.3h0.9M302.7 144.7h0.9M300.4 143.1h0.9M295.6 148.9h0.9M302.5 146.0h0.9" stroke="#5068ea" stroke-width="0.9" stroke-opacity="0.4"/>
<line x1="286.51" y1="137.8" x2="286.51" y2="177.2" stroke="#8a8a8a" stroke-width="0.7" />
<line x1="265.8" y1="159.08" x2="306.4" y2="159.08" stroke="#8a8a8a" stroke-width="0.7" />
<text x="267.5" y="145.7" font-size="7.5" text-anchor="start" font-weight="bold" fill="#1c3fae" textLength="21.8" lengthAdjust="spacingAndGlyphs" stroke="#1c3fae" stroke-width="0.25">17.6%</text>
<clipPath id="cp112"><rect x="314.5" y="137.8" width="40.6" height="39.4"/></clipPath>
<rect x="314.5" y="137.8" width="40.6" height="39.4" fill="#fff" stroke="#a8a8a8" stroke-width="0.6"/>
<line x1="312.9" y1="142.53" x2="314.5" y2="142.53" stroke="#888" stroke-width="0.5" />
<rect x="311.1" y="141.13" width="1.2" height="0.8" fill="#999"/>
<line x1="312.9" y1="150.41" x2="314.5" y2="150.41" stroke="#888" stroke-width="0.5" />
<rect x="311.1" y="149.01" width="1.2" height="0.8" fill="#999"/>
<line x1="312.9" y1="158.29" x2="314.5" y2="158.29" stroke="#888" stroke-width="0.5" />
<rect x="311.1" y="156.89" width="1.2" height="0.8" fill="#999"/>
<line x1="312.9" y1="166.17" x2="314.5" y2="166.17" stroke="#888" stroke-width="0.5" />
<rect x="311.1" y="164.77" width="1.2" height="0.8" fill="#999"/>
<line x1="312.9" y1="174.05" x2="314.5" y2="174.05" stroke="#888" stroke-width="0.5" />
<rect x="311.1" y="172.65" width="1.2" height="0.8" fill="#999"/>
<line x1="319.37" y1="177.2" x2="319.37" y2="178.8" stroke="#888" stroke-width="0.5" />
<rect x="319.07" y="179.4" width="1.2" height="0.8" fill="#999"/>
<line x1="330.33" y1="177.2" x2="330.33" y2="178.8" stroke="#888" stroke-width="0.5" />
<rect x="330.03" y="179.4" width="1.2" height="0.8" fill="#999"/>
<line x1="341.3" y1="177.2" x2="341.3" y2="178.8" stroke="#888" stroke-width="0.5" />
<rect x="341" y="179.4" width="1.2" height="0.8" fill="#999"/>
<line x1="352.26" y1="177.2" x2="352.26" y2="178.8" stroke="#888" stroke-width="0.5" />
<rect x="351.96" y="179.4" width="1.2" height="0.8" fill="#999"/>
<rect x="331.8" y="182.2" width="6" height="0.8" fill="#bbb"/>
<rect x="356.5" y="155.53" width="0.8" height="5" fill="#ccc"/>
<rect x="350.6" y="139.8" width="2.2" height="1.6" fill="#bbb"/>
<rect x="350.6" y="172.7" width="2.2" height="1.6" fill="#bbb"/>
<rect x="316" y="172.7" width="2.2" height="1.6" fill="#999"/>
<g clip-path="url(#cp112)"><g filter="url(#b1)">
<ellipse cx="325.87" cy="170.9" rx="10.56" ry="3.45" fill="#6c84f2" fill-opacity="0.55" transform="rotate(-12 325.87 170.9)"/>
<ellipse cx="324.65" cy="171.29" rx="7.71" ry="2.44" fill="#3cc4a0" fill-opacity="0.85" transform="rotate(-12 324.65 171.29)"/>
<ellipse cx="323.43" cy="171.49" rx="5.28" ry="1.83" fill="#78d83a" fill-opacity="1" transform="rotate(-12 323.43 171.49)"/>
<ellipse cx="322.21" cy="171.68" rx="2.84" ry="1.22" fill="#e6d020" fill-opacity="1" transform="rotate(-12 322.21 171.68)"/>
<ellipse cx="321.4" cy="171.88" rx="1.22" ry="0.81" fill="#e05a10" fill-opacity="1" transform="rotate(-12 321.4 171.88)"/>
<ellipse cx="339.67" cy="157.5" rx="10.15" ry="2.84" fill="#6c84f2" fill-opacity="0.35" transform="rotate(-60 339.67 157.5)"/>
<ellipse cx="346.98" cy="145.68" rx="2.44" ry="1.42" fill="#6c84f2" fill-opacity="0.5" transform="rotate(-40 346.98 145.68)"/>
</g></g>
<path d="M324.4 168.0h0.8M331.3 167.8h0.8M320.7 173.1h0.8M326.6 169.8h0.8M324.7 171.2h0.8M328.4 169.3h0.8M323.8 172.3h0.8M324.1 171.9h0.8M320.6 167.6h0.8M329.7 168.2h0.8M318.8 174.1h0.8M328.5 170.3h0.8M326.5 170.5h0.8M319.7 170.8h0.8M329.6 169.1h0.8M319.1 169.2h0.8M318.8 172.7h0.8M322.9 172.4h0.8M326.1 168.6h0.8M317.6 171.6h0.8M326.4 170.6h0.8M325.3 167.6h0.8M331.8 170.0h0.8M320.7 170.6h0.8M333.6 170.2h0.8M330.2 167.4h0.8M317.9 173.6h0.8M330.7 170.8h0.8M327.8 172.1h0.8M319.5 172.3h0.8M329.8 173.4h0.8M329.5 168.3h0.8M333.7 167.8h0.8M324.6 168.8h0.8M333.9 166.3h0.8M330.2 169.7h0.8M329.1 169.7h0.8M329.5 168.6h0.8M325.6 173.3h0.8M322.5 173.3h0.8M325.4 170.8h0.8M323.2 171.4h0.8M328.1 170.3h0.8M330.6 168.9h0.8M320.7 169.3h0.8M324.9 169.7h0.8M333.9 170.9h0.8M326.0 168.6h0.8M323.0 173.3h0.8M333.8 169.0h0.8M334.6 168.9h0.8M324.8 172.6h0.8M325.5 169.4h0.8M322.4 174.0h0.8M333.1 169.4h0.8M334.1 168.2h0.8M321.6 171.3h0.8M334.7 166.7h0.8M319.4 170.0h0.8M334.2 170.3h0.8M320.0 168.9h0.8M329.1 167.9h0.8M324.3 170.8h0.8M321.5 172.0h0.8M332.4 169.2h0.8M321.7 172.6h0.8M325.2 172.9h0.8M327.7 170.5h0.8M325.5 168.8h0.8M329.3 169.6h0.8M320.5 173.2h0.8M327.5 169.2h0.8M333.3 167.4h0.8M320.8 169.3h0.8M323.2 172.2h0.8M333.5 167.7h0.8M316.8 170.4h0.8M330.5 169.5h0.8M320.9 172.4h0.8M329.1 168.6h0.8M324.0 170.4h0.8M328.1 168.9h0.8M326.3 171.9h0.8M324.5 170.6h0.8M327.8 172.3h0.8M330.8 171.5h0.8M328.0 169.3h0.8M333.3 169.2h0.8M333.0 168.4h0.8M326.4 173.8h0.8M324.9 167.1h0.8M325.9 170.3h0.8M329.1 170.8h0.8M327.2 172.3h0.8M319.4 174.6h0.8M334.4 167.8h0.8M321.7 173.4h0.8M330.0 168.1h0.8M326.8 173.4h0.8M328.6 168.8h0.8M327.3 169.5h0.8M326.8 168.2h0.8M334.2 167.9h0.8M323.4 170.5h0.8M334.1 169.6h0.8M318.6 172.2h0.8M322.8 171.3h0.8M325.4 166.5h0.8M331.3 172.2h0.8M318.3 172.7h0.8M327.3 171.7h0.8M325.0 169.3h0.8M330.7 164.2h0.8M319.8 171.6h0.8M322.1 170.1h0.8M326.4 168.0h0.8M346.3 146.4h0.8M339.4 157.4h0.8M335.4 166.7h0.8M348.2 146.4h0.8M343.9 154.1h0.8M335.4 155.1h0.8M344.7 150.3h0.8M336.2 157.6h0.8M343.3 150.0h0.8M337.4 158.6h0.8M344.6 145.9h0.8M345.3 145.1h0.8M337.6 162.1h0.8M334.1 165.0h0.8M340.1 150.3h0.8M341.9 150.2h0.8M329.5 168.9h0.8M333.4 163.4h0.8M341.4 161.0h0.8M350.8 145.1h0.8M336.7 152.9h0.8M335.7 168.1h0.8M343.4 149.6h0.8M337.7 154.1h0.8M331.6 166.5h0.8M340.3 154.6h0.8M338.3 165.9h0.8M342.1 153.7h0.8M343.6 148.5h0.8M338.5 158.2h0.8M342.1 156.0h0.8M340.1 155.9h0.8M339.8 149.3h0.8M343.5 144.3h0.8M339.9 152.8h0.8M342.0 152.1h0.8M349.0 146.2h0.8M344.5 152.6h0.8M330.1 167.1h0.8M335.3 162.0h0.8M339.0 152.8h0.8M340.6 154.6h0.8M332.7 168.5h0.8M333.7 164.4h0.8M346.5 151.0h0.8M349.2 148.9h0.8M341.6 158.6h0.8M347.1 145.5h0.8M340.5 154.0h0.8M337.9 164.9h0.8M346.8 145.8h0.8M345.7 150.2h0.8M335.5 165.3h0.8M335.8 165.1h0.8M333.6 162.2h0.8M339.9 158.0h0.8M332.2 167.8h0.8M336.9 159.9h0.8M334.3 165.7h0.8M332.5 166.8h0.8M335.4 165.3h0.8M337.4 157.1h0.8M346.6 145.4h0.8M333.6 167.6h0.8M340.4 152.4h0.8M336.3 156.1h0.8M336.5 157.9h0.8M345.6 143.9h0.8M345.0 153.1h0.8M346.3 150.9h0.8M338.2 160.1h0.8M341.6 152.5h0.8M343.6 144.2h0.8M346.1 148.0h0.8M331.7 162.3h0.8M338.9 160.3h0.8M336.8 160.4h0.8M342.1 154.7h0.8M341.9 154.4h0.8M347.6 145.1h0.8M340.3 159.2h0.8M344.7 155.8h0.8M344.0 150.5h0.8M337.9 163.4h0.8M346.4 148.6h0.8M336.5 168.4h0.8M333.8 166.3h0.8M335.8 158.9h0.8M342.7 156.5h0.8M334.8 162.1h0.8M339.2 156.9h0.8M345.9 148.1h0.8M342.2 152.3h0.8M342.3 150.5h0.8M345.7 147.0h0.8M346.1 151.2h0.8M343.6 152.0h0.8M341.5 149.5h0.8M333.4 166.8h0.8M346.8 145.9h0.8M341.0 149.7h0.8M343.6 151.4h0.8M342.2 162.5h0.8M341.3 156.6h0.8M344.6 145.0h0.8M340.0 151.8h0.8M333.0 171.3h0.8M336.2 167.1h0.8M330.1 169.8h0.8M337.3 157.5h0.8M346.9 153.8h0.8M333.7 163.3h0.8M334.9 163.1h0.8M340.2 154.3h0.8M331.5 166.8h0.8M341.0 151.7h0.8M333.6 163.8h0.8M338.8 166.8h0.8M337.8 163.7h0.8M337.0 163.2h0.8M347.1 147.9h0.8M340.9 159.1h0.8M345.4 146.5h0.8M343.3 150.3h0.8M344.4 147.0h0.8M334.7 161.2h0.8M339.7 155.2h0.8M346.2 147.3h0.8M337.6 161.2h0.8M345.9 152.2h0.8M341.4 154.8h0.8M347.6 174.2h0.8M338.8 174.5h0.8M350.4 161.4h0.8M349.5 144.6h0.8M338.1 164.9h0.8M341.3 164.3h0.8M340.1 159.0h0.8M337.3 165.8h0.8M322.6 140.7h0.8M339.4 171.0h0.8M343.3 163.0h0.8M323.5 167.6h0.8M319.5 173.9h0.8M319.1 149.2h0.8M330.7 158.7h0.8M345.0 141.8h0.8M330.5 162.2h0.8M327.1 160.7h0.8M339.8 141.0h0.8M331.6 168.8h0.8M331.9 162.6h0.8M317.1 165.3h0.8M344.0 143.9h0.8M326.5 154.3h0.8M321.5 156.9h0.8M347.7 161.0h0.8M344.0 144.7h0.8M338.7 151.1h0.8M330.3 161.0h0.8M342.1 160.7h0.8M338.0 168.4h0.8M346.5 168.0h0.8M333.6 160.7h0.8M336.3 171.0h0.8M345.0 142.1h0.8M331.9 166.9h0.8M333.7 148.7h0.8M334.9 143.9h0.8M320.6 148.7h0.8M327.3 145.8h0.8M340.2 150.7h0.8M337.7 150.3h0.8M333.7 143.1h0.8M334.5 142.5h0.8M316.7 144.8h0.8" stroke="#6a80f0" stroke-width="0.8" stroke-opacity="0.38"/>
<path d="M323.7 170.5h0.9M323.5 171.8h0.9M322.2 169.3h0.9M331.3 168.6h0.9M333.8 168.0h0.9M317.6 170.8h0.9M324.4 171.9h0.9M329.1 173.4h0.9M320.6 175.1h0.9M319.9 171.8h0.9M322.6 173.0h0.9M321.5 173.2h0.9M322.5 173.1h0.9M324.8 173.5h0.9M321.2 170.4h0.9M324.9 169.9h0.9M334.0 170.7h0.9M321.2 172.4h0.9M321.2 171.4h0.9M323.3 172.1h0.9M330.3 171.3h0.9M317.9 171.1h0.9M330.0 167.6h0.9M326.4 171.5h0.9M323.6 171.2h0.9M324.4 173.8h0.9M325.4 171.1h0.9M324.1 171.3h0.9M322.7 168.5h0.9M324.6 171.3h0.9M328.7 170.0h0.9M324.2 171.9h0.9M323.3 171.7h0.9M321.1 173.9h0.9M324.1 169.8h0.9M328.2 169.9h0.9M332.9 170.3h0.9M324.3 171.9h0.9M339.3 166.9h0.9M322.1 170.4h0.9M323.1 169.4h0.9M323.0 170.5h0.9M317.6 172.0h0.9" stroke="#30c060" stroke-width="0.9" stroke-opacity="0.55"/>
<path d="M348.0 145.8h0.9M344.2 143.7h0.9M346.7 144.4h0.9M351.5 144.4h0.9M341.8 148.0h0.9M344.8 149.4h0.9M347.6 146.0h0.9M347.5 142.7h0.9M346.0 145.4h0.9M346.6 145.0h0.9M346.8 146.0h0.9M348.8 147.5h0.9M346.4 143.9h0.9M348.1 145.9h0.9M351.5 150.6h0.9M347.8 145.4h0.9M344.6 145.7h0.9M347.9 147.6h0.9M348.3 144.1h0.9M347.9 143.3h0.9M342.3 143.2h0.9M347.1 147.8h0.9M348.6 147.9h0.9M346.4 144.5h0.9M344.3 143.9h0.9M348.0 144.4h0.9M348.7 147.7h0.9M349.0 146.0h0.9M343.4 147.4h0.9M346.6 140.9h0.9M350.1 145.4h0.9M348.3 148.2h0.9" stroke="#5068ea" stroke-width="0.9" stroke-opacity="0.4"/>
<line x1="335.21" y1="137.8" x2="335.21" y2="177.2" stroke="#8a8a8a" stroke-width="0.7" />
<line x1="314.5" y1="159.08" x2="355.1" y2="159.08" stroke="#8a8a8a" stroke-width="0.7" />
<text x="316.2" y="145.7" font-size="7.5" text-anchor="start" font-weight="bold" fill="#1c3fae" textLength="21.8" lengthAdjust="spacingAndGlyphs" stroke="#1c3fae" stroke-width="0.25">32.3%</text>
<clipPath id="cp115"><rect x="265.8" y="189.6" width="40.6" height="39.4"/></clipPath>
<rect x="265.8" y="189.6" width="40.6" height="39.4" fill="#fff" stroke="#a8a8a8" stroke-width="0.6"/>
<line x1="264.2" y1="194.33" x2="265.8" y2="194.33" stroke="#888" stroke-width="0.5" />
<rect x="262.4" y="192.93" width="1.2" height="0.8" fill="#999"/>
<line x1="264.2" y1="202.21" x2="265.8" y2="202.21" stroke="#888" stroke-width="0.5" />
<rect x="262.4" y="200.81" width="1.2" height="0.8" fill="#999"/>
<line x1="264.2" y1="210.09" x2="265.8" y2="210.09" stroke="#888" stroke-width="0.5" />
<rect x="262.4" y="208.69" width="1.2" height="0.8" fill="#999"/>
<line x1="264.2" y1="217.97" x2="265.8" y2="217.97" stroke="#888" stroke-width="0.5" />
<rect x="262.4" y="216.57" width="1.2" height="0.8" fill="#999"/>
<line x1="264.2" y1="225.85" x2="265.8" y2="225.85" stroke="#888" stroke-width="0.5" />
<rect x="262.4" y="224.45" width="1.2" height="0.8" fill="#999"/>
<line x1="270.67" y1="229" x2="270.67" y2="230.6" stroke="#888" stroke-width="0.5" />
<rect x="270.37" y="231.2" width="1.2" height="0.8" fill="#999"/>
<line x1="281.63" y1="229" x2="281.63" y2="230.6" stroke="#888" stroke-width="0.5" />
<rect x="281.33" y="231.2" width="1.2" height="0.8" fill="#999"/>
<line x1="292.6" y1="229" x2="292.6" y2="230.6" stroke="#888" stroke-width="0.5" />
<rect x="292.3" y="231.2" width="1.2" height="0.8" fill="#999"/>
<line x1="303.56" y1="229" x2="303.56" y2="230.6" stroke="#888" stroke-width="0.5" />
<rect x="303.26" y="231.2" width="1.2" height="0.8" fill="#999"/>
<rect x="283.1" y="234" width="6" height="0.8" fill="#bbb"/>
<rect x="307.8" y="207.33" width="0.8" height="5" fill="#ccc"/>
<rect x="301.9" y="191.6" width="2.2" height="1.6" fill="#bbb"/>
<rect x="301.9" y="224.5" width="2.2" height="1.6" fill="#bbb"/>
<rect x="267.3" y="224.5" width="2.2" height="1.6" fill="#999"/>
<g clip-path="url(#cp115)"><g filter="url(#b1)">
<ellipse cx="277.17" cy="222.7" rx="10.56" ry="3.45" fill="#6c84f2" fill-opacity="0.55" transform="rotate(-12 277.17 222.7)"/>
<ellipse cx="275.95" cy="223.09" rx="7.71" ry="2.44" fill="#3cc4a0" fill-opacity="0.85" transform="rotate(-12 275.95 223.09)"/>
<ellipse cx="274.73" cy="223.29" rx="5.28" ry="1.83" fill="#78d83a" fill-opacity="1" transform="rotate(-12 274.73 223.29)"/>
<ellipse cx="273.51" cy="223.48" rx="2.84" ry="1.22" fill="#e6d020" fill-opacity="1" transform="rotate(-12 273.51 223.48)"/>
<ellipse cx="272.7" cy="223.68" rx="1.22" ry="0.81" fill="#e05a10" fill-opacity="1" transform="rotate(-12 272.7 223.68)"/>
<ellipse cx="290.97" cy="209.3" rx="10.15" ry="2.84" fill="#6c84f2" fill-opacity="0.35" transform="rotate(-60 290.97 209.3)"/>
<ellipse cx="298.28" cy="197.48" rx="2.44" ry="1.42" fill="#6c84f2" fill-opacity="0.5" transform="rotate(-40 298.28 197.48)"/>
</g></g>
<path d="M283.9 221.5h0.8M271.0 219.6h0.8M284.1 218.1h0.8M278.2 221.6h0.8M274.5 224.0h0.8M284.7 220.3h0.8M280.2 224.7h0.8M279.5 219.5h0.8M279.8 218.7h0.8M275.6 220.0h0.8M282.3 221.0h0.8M279.7 220.5h0.8M281.4 221.7h0.8M280.6 221.2h0.8M272.1 218.5h0.8M280.2 219.6h0.8M279.4 221.7h0.8M282.0 217.3h0.8M274.4 224.6h0.8M279.3 221.9h0.8M279.7 221.7h0.8M287.8 219.5h0.8M275.3 222.3h0.8M281.1 225.1h0.8M272.8 223.4h0.8M281.1 222.7h0.8M283.4 217.7h0.8M278.1 221.2h0.8M271.3 222.0h0.8M279.4 220.0h0.8M275.2 221.5h0.8M279.3 223.5h0.8M271.9 226.3h0.8M281.1 220.1h0.8M277.9 222.1h0.8M279.5 219.6h0.8M284.6 220.3h0.8M268.6 219.5h0.8M278.7 219.2h0.8M282.3 223.1h0.8M285.0 217.2h0.8M282.5 222.8h0.8M269.0 219.1h0.8M275.0 225.0h0.8M283.9 223.9h0.8M282.9 222.4h0.8M284.7 220.6h0.8M271.1 221.1h0.8M275.7 220.5h0.8M271.9 223.3h0.8M278.6 223.2h0.8M271.3 221.6h0.8M273.4 222.1h0.8M281.4 221.6h0.8M270.2 219.4h0.8M272.0 222.7h0.8M279.8 219.3h0.8M268.5 221.7h0.8M285.2 217.8h0.8M285.9 219.4h0.8M282.9 219.2h0.8M275.5 220.3h0.8M274.8 220.5h0.8M278.1 221.6h0.8M267.4 225.8h0.8M280.3 220.9h0.8M280.3 221.0h0.8M281.9 222.2h0.8M274.7 222.7h0.8M283.0 219.9h0.8M275.8 220.4h0.8M281.4 219.9h0.8M273.5 218.5h0.8M282.2 227.6h0.8M278.7 221.1h0.8M279.6 223.4h0.8M271.5 221.1h0.8M282.0 222.9h0.8M272.3 224.2h0.8M281.6 223.0h0.8M277.2 220.6h0.8M283.8 219.4h0.8M276.9 223.8h0.8M269.2 225.9h0.8M274.7 224.9h0.8M276.0 223.9h0.8M281.1 222.0h0.8M283.4 220.6h0.8M271.8 222.5h0.8M272.0 221.1h0.8M271.7 223.0h0.8M269.0 223.1h0.8M266.7 221.5h0.8M272.1 219.9h0.8M270.8 221.4h0.8M282.9 221.4h0.8M283.9 221.9h0.8M269.2 225.5h0.8M270.8 222.7h0.8M278.1 223.2h0.8M282.0 220.9h0.8M285.8 220.2h0.8M281.9 217.1h0.8M283.7 222.2h0.8M279.0 221.0h0.8M289.6 207.6h0.8M286.0 208.1h0.8M299.7 199.9h0.8M291.3 207.1h0.8M286.3 217.5h0.8M283.8 221.7h0.8M290.0 206.6h0.8M292.3 206.7h0.8M291.8 202.7h0.8M292.1 207.8h0.8M288.9 212.2h0.8M293.1 206.9h0.8M294.6 203.3h0.8M290.0 207.9h0.8M297.5 198.0h0.8M293.4 198.5h0.8M291.8 209.3h0.8M286.8 219.3h0.8M287.2 209.2h0.8M284.9 215.6h0.8M284.4 219.3h0.8M296.0 199.6h0.8M293.6 199.3h0.8M293.2 207.8h0.8M290.9 206.6h0.8M294.3 198.3h0.8M293.1 206.6h0.8M295.4 197.8h0.8M296.8 201.1h0.8M295.3 198.4h0.8M293.1 206.2h0.8M293.0 199.6h0.8M302.0 198.3h0.8M294.3 204.0h0.8M282.7 215.7h0.8M287.5 210.0h0.8M296.6 200.8h0.8M285.0 215.6h0.8M296.3 200.6h0.8M288.8 217.8h0.8M284.3 209.6h0.8M292.1 205.8h0.8M292.5 212.1h0.8M296.8 205.6h0.8M285.1 217.6h0.8M296.5 207.1h0.8M293.9 206.0h0.8M287.0 209.0h0.8M286.2 212.6h0.8M285.6 216.5h0.8M297.1 200.9h0.8M299.4 202.7h0.8M289.0 210.0h0.8M286.4 220.1h0.8M296.5 202.7h0.8M296.8 197.8h0.8M294.2 200.9h0.8M289.0 204.2h0.8M291.0 205.5h0.8M293.7 202.3h0.8M295.7 201.4h0.8M285.0 219.2h0.8M291.2 207.3h0.8M298.1 204.2h0.8M286.2 217.1h0.8M295.1 198.2h0.8M291.6 202.3h0.8M295.2 198.5h0.8M288.0 219.8h0.8M295.6 196.5h0.8M294.3 199.5h0.8M294.6 201.2h0.8M297.9 201.2h0.8M286.2 215.5h0.8M291.0 205.5h0.8M295.1 206.2h0.8M297.6 202.9h0.8M291.2 210.9h0.8M296.6 199.0h0.8M297.7 198.1h0.8M291.0 217.8h0.8M299.6 201.9h0.8M287.1 219.4h0.8M286.3 211.3h0.8M288.6 217.4h0.8M286.9 215.5h0.8M286.4 210.7h0.8M283.5 219.3h0.8M290.6 207.1h0.8M296.6 203.5h0.8M285.5 215.1h0.8M293.7 199.8h0.8M294.3 199.7h0.8M282.6 216.1h0.8M296.2 202.7h0.8M296.1 200.3h0.8M291.4 212.1h0.8M288.5 211.0h0.8M286.4 215.7h0.8M288.9 209.0h0.8M294.3 200.4h0.8M296.1 201.4h0.8M292.4 203.7h0.8M288.7 210.9h0.8M295.2 205.3h0.8M296.8 200.9h0.8M284.5 213.6h0.8M293.5 200.2h0.8M301.1 199.0h0.8M271.8 216.3h0.8M271.9 210.9h0.8M280.7 199.8h0.8M275.1 192.4h0.8M301.2 226.2h0.8M299.1 209.8h0.8M280.5 200.0h0.8M268.9 219.9h0.8M279.4 222.2h0.8M282.8 211.6h0.8M292.3 219.2h0.8M284.5 207.5h0.8M304.1 216.8h0.8M272.4 210.9h0.8M299.2 225.2h0.8M268.0 223.0h0.8M277.6 207.8h0.8M270.1 208.1h0.8M297.8 191.9h0.8M276.8 205.3h0.8M291.7 194.2h0.8M269.8 223.0h0.8M279.5 207.1h0.8M268.5 198.6h0.8M270.2 201.1h0.8M279.6 209.6h0.8M269.1 192.0h0.8M285.0 195.2h0.8M300.1 201.6h0.8M280.6 205.7h0.8M268.2 197.4h0.8M282.2 208.1h0.8M296.6 202.1h0.8M286.3 220.5h0.8M303.5 225.8h0.8M282.0 220.4h0.8M277.3 202.8h0.8M300.5 220.0h0.8M271.0 211.1h0.8M268.8 224.7h0.8M301.6 200.6h0.8M293.0 207.1h0.8M286.0 219.8h0.8M286.3 213.3h0.8" stroke="#6a80f0" stroke-width="0.8" stroke-opacity="0.38"/>
<path d="M269.4 222.5h0.9M267.0 227.2h0.9M280.8 223.4h0.9M274.6 222.9h0.9M287.1 222.1h0.9M280.0 222.9h0.9M279.8 223.3h0.9M277.8 223.5h0.9M275.0 224.6h0.9M275.0 221.0h0.9M271.7 223.9h0.9M274.0 225.1h0.9M276.6 224.5h0.9M282.0 223.9h0.9M274.4 225.9h0.9M272.1 223.5h0.9M278.6 224.6h0.9M270.4 225.5h0.9M279.2 223.4h0.9M271.7 223.5h0.9M279.8 220.9h0.9M276.5 220.0h0.9M270.9 226.5h0.9M270.8 222.2h0.9M279.8 223.0h0.9M274.6 225.5h0.9M282.2 221.9h0.9M278.2 224.0h0.9M286.0 220.7h0.9M280.0 219.5h0.9M270.6 224.2h0.9M275.2 224.2h0.9M273.3 221.5h0.9M275.6 221.6h0.9M276.8 223.3h0.9M274.3 224.5h0.9M277.5 224.0h0.9M279.6 219.8h0.9M281.2 222.2h0.9M272.6 222.9h0.9M266.6 225.8h0.9M279.0 222.3h0.9M275.4 222.5h0.9M271.1 221.9h0.9M276.8 224.2h0.9" stroke="#30c060" stroke-width="0.9" stroke-opacity="0.55"/>
<path d="M297.7 196.4h0.9M300.5 197.4h0.9M298.0 198.4h0.9M298.3 197.4h0.9M301.4 195.7h0.9M298.5 196.6h0.9M297.1 197.5h0.9M297.9 196.3h0.9M298.5 197.3h0.9M296.9 199.4h0.9M298.8 200.0h0.9M301.1 198.4h0.9M298.8 196.7h0.9M300.7 198.5h0.9M299.5 196.6h0.9M298.1 197.0h0.9M295.6 196.4h0.9M295.3 195.3h0.9M298.6 200.7h0.9M298.4 198.8h0.9M298.5 194.5h0.9M298.3 195.0h0.9M300.5 195.3h0.9M300.1 195.4h0.9M301.4 200.1h0.9" stroke="#5068ea" stroke-width="0.9" stroke-opacity="0.4"/>
<line x1="286.51" y1="189.6" x2="286.51" y2="229" stroke="#8a8a8a" stroke-width="0.7" />
<line x1="265.8" y1="211.27" x2="306.4" y2="211.27" stroke="#8a8a8a" stroke-width="0.7" />
<text x="267.5" y="197.5" font-size="7.5" text-anchor="start" font-weight="bold" fill="#1c3fae" textLength="21.8" lengthAdjust="spacingAndGlyphs" stroke="#1c3fae" stroke-width="0.25">22.1%</text>
<clipPath id="cp116"><rect x="314.5" y="189.6" width="40.6" height="39.4"/></clipPath>
<rect x="314.5" y="189.6" width="40.6" height="39.4" fill="#fff" stroke="#a8a8a8" stroke-width="0.6"/>
<line x1="312.9" y1="194.33" x2="314.5" y2="194.33" stroke="#888" stroke-width="0.5" />
<rect x="311.1" y="192.93" width="1.2" height="0.8" fill="#999"/>
<line x1="312.9" y1="202.21" x2="314.5" y2="202.21" stroke="#888" stroke-width="0.5" />
<rect x="311.1" y="200.81" width="1.2" height="0.8" fill="#999"/>
<line x1="312.9" y1="210.09" x2="314.5" y2="210.09" stroke="#888" stroke-width="0.5" />
<rect x="311.1" y="208.69" width="1.2" height="0.8" fill="#999"/>
<line x1="312.9" y1="217.97" x2="314.5" y2="217.97" stroke="#888" stroke-width="0.5" />
<rect x="311.1" y="216.57" width="1.2" height="0.8" fill="#999"/>
<line x1="312.9" y1="225.85" x2="314.5" y2="225.85" stroke="#888" stroke-width="0.5" />
<rect x="311.1" y="224.45" width="1.2" height="0.8" fill="#999"/>
<line x1="319.37" y1="229" x2="319.37" y2="230.6" stroke="#888" stroke-width="0.5" />
<rect x="319.07" y="231.2" width="1.2" height="0.8" fill="#999"/>
<line x1="330.33" y1="229" x2="330.33" y2="230.6" stroke="#888" stroke-width="0.5" />
<rect x="330.03" y="231.2" width="1.2" height="0.8" fill="#999"/>
<line x1="341.3" y1="229" x2="341.3" y2="230.6" stroke="#888" stroke-width="0.5" />
<rect x="341" y="231.2" width="1.2" height="0.8" fill="#999"/>
<line x1="352.26" y1="229" x2="352.26" y2="230.6" stroke="#888" stroke-width="0.5" />
<rect x="351.96" y="231.2" width="1.2" height="0.8" fill="#999"/>
<rect x="331.8" y="234" width="6" height="0.8" fill="#bbb"/>
<rect x="356.5" y="207.33" width="0.8" height="5" fill="#ccc"/>
<rect x="350.6" y="191.6" width="2.2" height="1.6" fill="#bbb"/>
<rect x="350.6" y="224.5" width="2.2" height="1.6" fill="#bbb"/>
<rect x="316" y="224.5" width="2.2" height="1.6" fill="#999"/>
<g clip-path="url(#cp116)"><g filter="url(#b1)">
<ellipse cx="325.87" cy="222.7" rx="10.56" ry="3.45" fill="#6c84f2" fill-opacity="0.55" transform="rotate(-12 325.87 222.7)"/>
<ellipse cx="324.65" cy="223.09" rx="7.71" ry="2.44" fill="#3cc4a0" fill-opacity="0.85" transform="rotate(-12 324.65 223.09)"/>
<ellipse cx="323.43" cy="223.29" rx="5.28" ry="1.83" fill="#78d83a" fill-opacity="1" transform="rotate(-12 323.43 223.29)"/>
<ellipse cx="322.21" cy="223.48" rx="2.84" ry="1.22" fill="#e6d020" fill-opacity="1" transform="rotate(-12 322.21 223.48)"/>
<ellipse cx="321.4" cy="223.68" rx="1.22" ry="0.81" fill="#e05a10" fill-opacity="1" transform="rotate(-12 321.4 223.68)"/>
<ellipse cx="339.67" cy="209.3" rx="10.15" ry="2.84" fill="#6c84f2" fill-opacity="0.35" transform="rotate(-60 339.67 209.3)"/>
<ellipse cx="346.98" cy="197.48" rx="2.44" ry="1.42" fill="#6c84f2" fill-opacity="0.5" transform="rotate(-40 346.98 197.48)"/>
</g></g>
<path d="M329.0 219.2h0.8M316.3 221.2h0.8M324.3 222.1h0.8M321.6 220.4h0.8M325.7 222.1h0.8M329.8 221.6h0.8M323.7 221.4h0.8M324.3 220.6h0.8M327.3 222.9h0.8M320.1 223.6h0.8M328.1 222.5h0.8M323.5 220.8h0.8M329.6 219.6h0.8M326.8 221.4h0.8M324.1 223.8h0.8M327.0 221.5h0.8M325.2 223.2h0.8M325.3 222.6h0.8M321.6 222.9h0.8M328.9 222.8h0.8M328.1 222.2h0.8M329.6 221.1h0.8M331.1 221.7h0.8M331.1 218.9h0.8M321.2 220.4h0.8M330.0 222.6h0.8M328.5 223.8h0.8M321.8 224.0h0.8M322.1 221.3h0.8M320.0 220.2h0.8M319.0 223.7h0.8M325.2 220.8h0.8M331.5 222.3h0.8M322.8 223.2h0.8M327.0 222.2h0.8M322.7 223.7h0.8M319.1 222.7h0.8M317.7 223.9h0.8M320.3 221.4h0.8M327.5 222.0h0.8M323.0 223.5h0.8M327.7 219.2h0.8M320.7 225.0h0.8M319.7 224.9h0.8M333.8 221.4h0.8M327.2 224.4h0.8M333.8 217.2h0.8M322.4 223.3h0.8M324.6 222.5h0.8M327.4 223.2h0.8M333.7 221.9h0.8M330.0 219.4h0.8M325.7 223.2h0.8M324.0 223.4h0.8M315.7 222.4h0.8M331.8 218.8h0.8M325.0 220.1h0.8M323.0 223.1h0.8M321.6 221.7h0.8M320.7 222.8h0.8M324.0 222.1h0.8M325.3 223.3h0.8M319.0 223.3h0.8M322.5 223.0h0.8M321.9 222.1h0.8M327.0 221.0h0.8M328.4 220.1h0.8M332.0 223.4h0.8M318.7 220.2h0.8M318.0 222.5h0.8M329.0 217.5h0.8M320.8 224.3h0.8M316.5 223.9h0.8M323.9 223.7h0.8M330.0 222.1h0.8M323.1 220.3h0.8M319.6 223.6h0.8M319.5 223.0h0.8M324.1 221.7h0.8M322.3 223.7h0.8M321.0 220.3h0.8M321.5 223.7h0.8M319.3 224.4h0.8M318.8 223.9h0.8M330.7 219.6h0.8M332.2 221.8h0.8M320.3 223.3h0.8M330.0 220.9h0.8M330.4 221.6h0.8M324.0 221.0h0.8M328.8 222.9h0.8M319.5 222.8h0.8M320.6 223.1h0.8M319.1 224.0h0.8M332.5 219.3h0.8M320.9 221.5h0.8M323.5 222.4h0.8M325.1 222.8h0.8M322.0 221.5h0.8M332.1 221.7h0.8M328.4 223.4h0.8M328.7 220.4h0.8M332.5 220.6h0.8M335.5 220.1h0.8M332.5 220.4h0.8M324.8 224.7h0.8M320.8 222.9h0.8M322.8 222.0h0.8M318.2 225.1h0.8M330.2 217.6h0.8M321.2 222.4h0.8M329.7 219.8h0.8M328.5 221.0h0.8M332.6 220.6h0.8M332.3 221.6h0.8M321.7 221.9h0.8M325.6 217.8h0.8M324.9 219.3h0.8M318.4 222.9h0.8M331.6 225.0h0.8M335.1 216.4h0.8M336.2 212.8h0.8M344.5 201.4h0.8M342.7 205.1h0.8M341.9 201.9h0.8M336.7 216.0h0.8M336.9 211.3h0.8M339.3 210.5h0.8M346.5 200.0h0.8M337.1 211.8h0.8M335.4 218.2h0.8M332.6 216.7h0.8M342.3 210.7h0.8M343.6 203.1h0.8M333.0 219.1h0.8M341.1 213.0h0.8M347.6 194.2h0.8M345.2 201.7h0.8M345.2 197.8h0.8M342.6 206.1h0.8M335.5 215.5h0.8M338.7 213.6h0.8M333.7 217.4h0.8M335.7 217.1h0.8M337.6 206.4h0.8M332.9 220.2h0.8M347.6 200.8h0.8M340.4 203.4h0.8M341.8 209.1h0.8M343.6 200.7h0.8M332.9 216.8h0.8M347.0 198.6h0.8M343.0 202.1h0.8M341.3 210.4h0.8M346.4 196.1h0.8M340.0 209.0h0.8M349.8 200.4h0.8M341.0 199.5h0.8M338.5 211.1h0.8M338.9 208.4h0.8M342.6 202.8h0.8M335.1 211.7h0.8M334.9 218.4h0.8M337.7 208.7h0.8M332.7 222.6h0.8M336.7 214.4h0.8M346.5 200.4h0.8M338.3 208.3h0.8M342.5 210.8h0.8M343.8 200.8h0.8M342.7 197.5h0.8M335.8 214.6h0.8M347.6 196.2h0.8M342.8 196.1h0.8M344.5 201.5h0.8M338.7 212.0h0.8M340.5 205.4h0.8M342.8 210.0h0.8M339.5 206.5h0.8M341.4 204.4h0.8M341.0 207.2h0.8M341.6 202.6h0.8M346.0 198.4h0.8M345.1 200.6h0.8M340.9 211.3h0.8M341.5 199.4h0.8M343.0 201.4h0.8M330.6 216.9h0.8M336.3 210.2h0.8M335.5 212.0h0.8M345.9 203.7h0.8M345.0 200.3h0.8M340.6 214.2h0.8M345.7 197.4h0.8M337.1 210.7h0.8M342.5 208.8h0.8M343.5 201.1h0.8M329.8 218.9h0.8M334.3 218.6h0.8M340.7 206.0h0.8M343.8 207.8h0.8M347.0 198.2h0.8M347.2 199.5h0.8M343.5 199.5h0.8M338.6 212.6h0.8M340.7 200.5h0.8M335.5 220.3h0.8M342.8 199.5h0.8M340.8 208.0h0.8M332.7 214.0h0.8M342.7 208.8h0.8M344.1 203.2h0.8M341.5 205.6h0.8M335.3 219.1h0.8M331.9 219.8h0.8M342.6 203.7h0.8M344.5 203.7h0.8M342.7 208.8h0.8M341.8 208.7h0.8M336.0 212.2h0.8M346.8 199.5h0.8M341.2 207.9h0.8M336.9 213.9h0.8M341.4 204.8h0.8M333.8 215.0h0.8M333.2 213.6h0.8M331.8 217.1h0.8M338.3 204.9h0.8M340.7 217.0h0.8M339.9 206.0h0.8M339.4 202.7h0.8M335.7 217.1h0.8M336.6 219.0h0.8M338.3 212.9h0.8M337.1 215.0h0.8M337.0 211.6h0.8M343.9 196.8h0.8M342.0 202.9h0.8M334.6 215.1h0.8M341.3 204.4h0.8M338.3 211.5h0.8M331.4 217.9h0.8M341.0 206.7h0.8M331.0 221.1h0.8M335.2 222.7h0.8M335.0 218.4h0.8M338.9 219.9h0.8M337.1 214.7h0.8M346.4 198.9h0.8M335.3 218.4h0.8M337.9 210.6h0.8M344.5 198.5h0.8M338.1 211.6h0.8M333.4 221.4h0.8M334.5 217.0h0.8M346.2 213.7h0.8M335.8 222.5h0.8M345.2 210.6h0.8M336.8 220.5h0.8M332.4 200.9h0.8M323.3 212.5h0.8M337.0 192.1h0.8M335.1 197.4h0.8M339.6 225.1h0.8M325.0 223.3h0.8M317.3 201.8h0.8M326.2 209.3h0.8M333.7 218.5h0.8M320.0 225.3h0.8M331.5 193.3h0.8M348.9 197.0h0.8M337.6 202.8h0.8M326.3 216.8h0.8M340.7 201.3h0.8M350.5 215.3h0.8M320.4 223.8h0.8M342.3 201.5h0.8M333.6 213.7h0.8M349.4 209.0h0.8M330.0 210.6h0.8M339.0 206.9h0.8M328.2 225.8h0.8M351.2 213.5h0.8M334.1 225.4h0.8M340.2 213.7h0.8M325.3 218.4h0.8M332.7 223.6h0.8M343.4 192.6h0.8M317.7 209.7h0.8M342.2 211.3h0.8M317.8 219.1h0.8M323.8 194.6h0.8M327.6 197.2h0.8M341.8 202.9h0.8M333.5 202.6h0.8M323.0 202.1h0.8M345.1 219.2h0.8M335.7 220.9h0.8M335.3 204.3h0.8M326.3 202.2h0.8" stroke="#6a80f0" stroke-width="0.8" stroke-opacity="0.38"/>
<path d="M325.6 220.5h0.9M331.5 221.6h0.9M325.3 219.2h0.9M315.8 225.4h0.9M332.6 220.5h0.9M327.7 224.3h0.9M325.4 224.3h0.9M328.1 223.4h0.9M322.7 223.9h0.9M322.7 223.2h0.9M318.2 225.2h0.9M326.5 223.9h0.9M316.4 225.2h0.9M323.9 224.9h0.9M323.7 225.9h0.9M321.4 223.7h0.9M323.8 223.3h0.9M319.7 225.4h0.9M325.7 221.7h0.9M328.4 222.2h0.9M325.8 223.1h0.9M325.6 224.8h0.9M326.4 222.6h0.9M317.1 224.4h0.9M331.9 220.4h0.9M322.7 223.3h0.9M334.0 221.6h0.9M327.1 220.7h0.9M323.1 223.5h0.9M326.7 221.2h0.9M315.6 224.1h0.9M327.1 222.4h0.9M321.0 224.0h0.9M316.9 225.0h0.9M322.7 223.8h0.9M317.4 225.0h0.9M317.2 224.8h0.9M326.4 221.9h0.9M322.0 224.8h0.9M323.5 226.0h0.9M331.1 223.6h0.9M320.0 223.6h0.9M325.0 223.3h0.9M318.2 222.9h0.9" stroke="#30c060" stroke-width="0.9" stroke-opacity="0.55"/>
<path d="M347.7 200.4h0.9M345.7 197.3h0.9M349.5 196.8h0.9M347.0 197.6h0.9M348.4 198.8h0.9M346.9 195.7h0.9M347.5 197.9h0.9M349.5 195.0h0.9M348.3 195.8h0.9M350.1 198.1h0.9M346.6 196.6h0.9M348.2 198.4h0.9M346.8 198.9h0.9M347.8 196.8h0.9M343.3 194.5h0.9M348.6 199.1h0.9M345.8 198.5h0.9M346.5 194.7h0.9M347.4 197.8h0.9M346.7 198.7h0.9M346.7 198.6h0.9M342.5 199.0h0.9M347.8 198.5h0.9M346.4 197.1h0.9M348.6 196.1h0.9M348.8 195.6h0.9M346.2 201.2h0.9M346.2 192.8h0.9M346.7 195.7h0.9M346.1 195.8h0.9M345.1 197.0h0.9M347.2 199.1h0.9M345.8 198.0h0.9" stroke="#5068ea" stroke-width="0.9" stroke-opacity="0.4"/>
<line x1="335.21" y1="189.6" x2="335.21" y2="229" stroke="#8a8a8a" stroke-width="0.7" />
<line x1="314.5" y1="211.27" x2="355.1" y2="211.27" stroke="#8a8a8a" stroke-width="0.7" />
<text x="316.2" y="197.5" font-size="7.5" text-anchor="start" font-weight="bold" fill="#1c3fae" textLength="21.8" lengthAdjust="spacingAndGlyphs" stroke="#1c3fae" stroke-width="0.25">34.2%</text>
<path d="M55.5 140.5 V239.2 H349" fill="none" stroke="#000" stroke-width="1.25"/>
<path d="M55.5 136.6 l-2.6 5.6 h5.2 z" fill="#000"/>
<path d="M352.8 239.2 l-5.6 -2.6 v5.2 z" fill="#000"/>
<text transform="translate(51.8,191.9) rotate(-90)" font-size="11.5" font-weight="normal" fill="#111" textLength="7" lengthAdjust="spacingAndGlyphs">PI</text>
<text x="173.5" y="251.1" font-size="10.6" text-anchor="start" font-weight="normal" fill="#111" textLength="61.5" lengthAdjust="spacingAndGlyphs" >Annexin V -FITC</text>
<text x="130.75" y="270.4" font-size="9.6" text-anchor="middle" fill="#111" textLength="60.5" lengthAdjust="spacingAndGlyphs">TMD-8 BTK<tspan font-size="6.8" dy="-3.4">WT</tspan></text>
<line x1="63.8" y1="274.5" x2="200.8" y2="274.5" stroke="#111" stroke-width="1.4" />
<text x="286.25" y="270.4" font-size="9.6" text-anchor="middle" fill="#111" textLength="87.9" lengthAdjust="spacingAndGlyphs">TMD-8 BTK<tspan font-size="6.8" dy="-3.4">Cys481Ser</tspan></text>
<line x1="216.9" y1="274.5" x2="354" y2="274.5" stroke="#111" stroke-width="1.4" />
<text x="83.8" y="284.7" font-size="9.3" text-anchor="middle" font-weight="normal" fill="#111" textLength="27.7" lengthAdjust="spacingAndGlyphs" >DMSO</text>
<text x="132.9" y="284.7" font-size="9.3" text-anchor="middle" font-weight="normal" fill="#111" textLength="40" lengthAdjust="spacingAndGlyphs" >IB-0.1uM</text>
<text x="181.7" y="284.7" font-size="9.3" text-anchor="middle" font-weight="normal" fill="#111" textLength="45" lengthAdjust="spacingAndGlyphs" >KIN-0.1uM</text>
<text x="132.9" y="340.6" font-size="9.3" text-anchor="middle" font-weight="normal" fill="#111" textLength="40" lengthAdjust="spacingAndGlyphs" >IB-0.5uM</text>
<text x="181.7" y="340.6" font-size="9.3" text-anchor="middle" font-weight="normal" fill="#111" textLength="45" lengthAdjust="spacingAndGlyphs" >KIN-0.5uM</text>
<clipPath id="cp200"><rect x="63" y="287.6" width="40.6" height="39.4"/></clipPath>
<rect x="63" y="287.6" width="40.6" height="39.4" fill="#fff" stroke="#a8a8a8" stroke-width="0.6"/>
<line x1="61.4" y1="292.33" x2="63" y2="292.33" stroke="#888" stroke-width="0.5" />
<rect x="59.6" y="290.93" width="1.2" height="0.8" fill="#999"/>
<line x1="61.4" y1="300.21" x2="63" y2="300.21" stroke="#888" stroke-width="0.5" />
<rect x="59.6" y="298.81" width="1.2" height="0.8" fill="#999"/>
<line x1="61.4" y1="308.09" x2="63" y2="308.09" stroke="#888" stroke-width="0.5" />
<rect x="59.6" y="306.69" width="1.2" height="0.8" fill="#999"/>
<line x1="61.4" y1="315.97" x2="63" y2="315.97" stroke="#888" stroke-width="0.5" />
<rect x="59.6" y="314.57" width="1.2" height="0.8" fill="#999"/>
<line x1="61.4" y1="323.85" x2="63" y2="323.85" stroke="#888" stroke-width="0.5" />
<rect x="59.6" y="322.45" width="1.2" height="0.8" fill="#999"/>
<line x1="67.87" y1="327" x2="67.87" y2="328.6" stroke="#888" stroke-width="0.5" />
<rect x="67.57" y="329.2" width="1.2" height="0.8" fill="#999"/>
<line x1="78.83" y1="327" x2="78.83" y2="328.6" stroke="#888" stroke-width="0.5" />
<rect x="78.53" y="329.2" width="1.2" height="0.8" fill="#999"/>
<line x1="89.8" y1="327" x2="89.8" y2="328.6" stroke="#888" stroke-width="0.5" />
<rect x="89.5" y="329.2" width="1.2" height="0.8" fill="#999"/>
<line x1="100.76" y1="327" x2="100.76" y2="328.6" stroke="#888" stroke-width="0.5" />
<rect x="100.46" y="329.2" width="1.2" height="0.8" fill="#999"/>
<rect x="80.3" y="332" width="6" height="0.8" fill="#bbb"/>
<rect x="105" y="305.33" width="0.8" height="5" fill="#ccc"/>
<rect x="99.1" y="289.6" width="2.2" height="1.6" fill="#bbb"/>
<rect x="99.1" y="322.5" width="2.2" height="1.6" fill="#bbb"/>
<rect x="64.5" y="322.5" width="2.2" height="1.6" fill="#999"/>
<g clip-path="url(#cp200)"><g filter="url(#b1)">
<ellipse cx="73.96" cy="321.29" rx="11.37" ry="4.47" fill="#7088f2" fill-opacity="0.45" transform="rotate(0 73.96 321.29)"/>
<ellipse cx="73.15" cy="321.29" rx="8.53" ry="3.25" fill="#3cc4a0" fill-opacity="0.75" transform="rotate(0 73.15 321.29)"/>
<ellipse cx="72.34" cy="321.48" rx="6.09" ry="2.35" fill="#78d83a" fill-opacity="1" transform="rotate(0 72.34 321.48)"/>
<ellipse cx="71.53" cy="321.48" rx="3.25" ry="1.42" fill="#e6d020" fill-opacity="1" transform="rotate(0 71.53 321.48)"/>
<ellipse cx="71.12" cy="321.48" rx="1.22" ry="0.81" fill="#e05a10" fill-opacity="1" transform="rotate(0 71.12 321.48)"/>
<ellipse cx="83.3" cy="319.12" rx="4.06" ry="2.03" fill="#7088f2" fill-opacity="0.35" transform="rotate(-45 83.3 319.12)"/>
<ellipse cx="85.78" cy="307.3" rx="2.84" ry="12.18" fill="#7088f2" fill-opacity="0.25" transform="rotate(0 85.78 307.3)"/>
<ellipse cx="85.78" cy="319.12" rx="2.84" ry="2.03" fill="#40c080" fill-opacity="0.21" transform="rotate(0 85.78 319.12)"/>
<ellipse cx="85.78" cy="294.69" rx="2.44" ry="1.62" fill="#50b090" fill-opacity="0.08" transform="rotate(0 85.78 294.69)"/>
</g></g>
<path d="M82.0 319.4h0.8M86.4 316.6h0.8M86.5 296.3h0.8M86.3 308.2h0.8M85.5 316.0h0.8M86.2 307.7h0.8M85.5 315.2h0.8M85.0 300.8h0.8M87.7 310.7h0.8M87.6 301.2h0.8M85.4 306.9h0.8M82.5 316.7h0.8M79.0 317.0h0.8M86.2 309.8h0.8M87.6 297.4h0.8M87.2 301.6h0.8M86.7 298.4h0.8M85.0 305.3h0.8M85.5 314.0h0.8M83.6 301.2h0.8M88.7 298.5h0.8M86.5 292.5h0.8M86.5 312.5h0.8M85.7 300.4h0.8M84.8 295.3h0.8M85.8 297.3h0.8M86.1 297.6h0.8M84.3 306.1h0.8M78.4 320.6h0.8M86.0 301.5h0.8M79.5 320.1h0.8M86.2 310.9h0.8M86.8 292.9h0.8M83.0 310.4h0.8M84.8 317.9h0.8M87.2 292.8h0.8M87.7 299.8h0.8M90.5 314.3h0.8M78.9 319.4h0.8M81.5 318.7h0.8M86.1 294.6h0.8M82.9 319.6h0.8M85.4 320.3h0.8M84.6 303.0h0.8M81.9 319.3h0.8M81.2 320.4h0.8M86.0 298.1h0.8M85.9 313.2h0.8M83.6 307.7h0.8M82.8 316.9h0.8M88.2 298.0h0.8M87.6 300.0h0.8M88.5 317.7h0.8M87.1 301.0h0.8M83.9 315.3h0.8M85.7 297.2h0.8M82.1 319.6h0.8M87.2 302.9h0.8M86.7 296.0h0.8M89.5 309.0h0.8M85.4 307.7h0.8M85.0 300.6h0.8M87.5 310.9h0.8M88.5 306.2h0.8M84.2 319.6h0.8M84.8 308.0h0.8M86.5 298.2h0.8M80.9 319.0h0.8M83.4 306.8h0.8M85.2 316.1h0.8M78.9 316.8h0.8M84.6 320.2h0.8M85.1 293.6h0.8M81.2 317.9h0.8M85.4 308.2h0.8M86.2 309.3h0.8M89.7 294.5h0.8M85.1 309.7h0.8M89.7 296.2h0.8M87.2 300.7h0.8M82.0 316.5h0.8M88.0 298.2h0.8M86.4 303.9h0.8M89.8 306.9h0.8M85.3 298.5h0.8M87.3 311.2h0.8M84.1 316.1h0.8M83.0 309.6h0.8M84.2 303.6h0.8M78.4 316.9h0.8M85.9 318.0h0.8M83.2 300.2h0.8M90.2 305.4h0.8M81.1 318.1h0.8M86.9 301.0h0.8M84.9 297.7h0.8M78.6 325.4h0.8M74.6 321.6h0.8M70.5 319.4h0.8M79.0 318.8h0.8M71.1 322.7h0.8M78.2 324.0h0.8M68.9 322.1h0.8M69.3 323.0h0.8M66.8 322.6h0.8M76.7 319.2h0.8M71.5 322.8h0.8M69.9 323.7h0.8M76.3 319.0h0.8M67.5 322.6h0.8M69.8 321.2h0.8M80.0 323.6h0.8M71.8 320.1h0.8M82.4 321.4h0.8M72.3 320.8h0.8M80.9 321.1h0.8M82.4 323.8h0.8M67.8 320.2h0.8M67.1 316.7h0.8M77.8 322.4h0.8M72.1 321.1h0.8M77.5 319.9h0.8M73.6 321.3h0.8M76.6 321.7h0.8M82.3 322.9h0.8M78.3 318.4h0.8M78.3 317.6h0.8M79.5 322.0h0.8M75.8 321.4h0.8M68.3 324.3h0.8M72.2 322.9h0.8M74.8 317.6h0.8M71.4 322.1h0.8M75.9 321.5h0.8M70.4 323.0h0.8M81.0 318.0h0.8M81.7 324.5h0.8M84.4 318.4h0.8M69.5 323.7h0.8M68.4 318.0h0.8M76.2 321.9h0.8M83.8 323.2h0.8M75.5 324.2h0.8M74.9 320.9h0.8M68.7 324.0h0.8M66.7 320.6h0.8M68.4 322.5h0.8M82.6 321.5h0.8M71.7 320.1h0.8M74.9 322.4h0.8M71.6 320.1h0.8M82.8 322.4h0.8M79.3 319.7h0.8M75.8 319.7h0.8M83.3 317.9h0.8M73.7 318.9h0.8M69.4 323.8h0.8M73.9 322.4h0.8M73.2 322.8h0.8M73.4 322.5h0.8M71.6 322.5h0.8M74.4 322.8h0.8M70.2 322.1h0.8M74.1 322.9h0.8M70.5 320.5h0.8M81.7 322.1h0.8M75.7 317.6h0.8M75.1 309.3h0.8M94.0 303.2h0.8M74.8 291.6h0.8M87.3 298.7h0.8M75.8 312.8h0.8M95.7 300.7h0.8M83.2 306.1h0.8M99.4 289.9h0.8M80.0 306.9h0.8M72.9 316.5h0.8M93.3 307.9h0.8M78.4 303.8h0.8M71.3 317.5h0.8M74.5 323.4h0.8M70.4 314.2h0.8M73.4 307.1h0.8M91.6 324.8h0.8M68.3 300.1h0.8M69.4 302.7h0.8M86.2 316.9h0.8M97.2 318.9h0.8M81.5 319.4h0.8M100.4 324.0h0.8M81.5 293.7h0.8M90.8 295.8h0.8M69.8 298.2h0.8M82.7 318.9h0.8M68.5 307.9h0.8M92.5 315.7h0.8M78.5 303.6h0.8M69.8 295.0h0.8M82.4 303.1h0.8M98.5 316.8h0.8M80.1 302.7h0.8M78.2 318.0h0.8M89.6 296.1h0.8M77.6 301.2h0.8M81.9 317.2h0.8M83.1 301.7h0.8" stroke="#6a80f0" stroke-width="0.8" stroke-opacity="0.38"/>
<path d="M71.2 322.9h0.9M67.6 319.7h0.9M71.5 320.3h0.9M73.6 317.4h0.9M71.8 321.7h0.9M79.3 319.6h0.9M72.2 324.4h0.9M71.9 321.8h0.9M71.2 318.9h0.9M74.0 321.4h0.9M70.2 322.4h0.9M76.8 321.8h0.9M74.8 321.7h0.9M64.7 318.9h0.9M66.2 320.9h0.9M71.5 320.7h0.9M70.7 323.0h0.9M72.1 320.6h0.9M70.8 324.7h0.9M74.0 319.6h0.9M68.5 323.6h0.9M73.9 318.7h0.9M74.3 324.5h0.9M72.3 319.4h0.9M73.8 318.1h0.9M82.0 323.8h0.9M69.5 321.6h0.9M71.2 320.9h0.9M69.7 321.5h0.9M73.9 321.1h0.9M78.9 317.2h0.9M64.7 320.4h0.9M68.0 319.0h0.9M74.7 323.8h0.9M65.9 320.7h0.9M70.5 322.7h0.9M78.9 320.4h0.9M78.9 316.7h0.9M81.3 319.7h0.9M69.8 321.7h0.9M73.9 322.8h0.9M71.1 323.4h0.9M75.9 324.1h0.9M72.8 322.5h0.9" stroke="#30c060" stroke-width="0.9" stroke-opacity="0.55"/>
<path d="M87.8 294.3h0.9M83.4 296.7h0.9M86.8 292.8h0.9M88.1 295.3h0.9M85.3 296.5h0.9M85.3 293.0h0.9M80.6 291.5h0.9M87.9 292.9h0.9M84.6 294.4h0.9M84.0 295.4h0.9M79.8 296.3h0.9M82.4 294.1h0.9M84.1 294.2h0.9M87.8 293.5h0.9M84.5 297.1h0.9M83.8 291.9h0.9M86.5 295.8h0.9M84.7 294.2h0.9M88.2 298.9h0.9" stroke="#5068ea" stroke-width="0.9" stroke-opacity="0.4"/>
<line x1="80.46" y1="297.06" x2="80.46" y2="327" stroke="#8a8a8a" stroke-width="0.7" />
<text x="64.7" y="295.5" font-size="7.5" text-anchor="start" font-weight="bold" fill="#1c3fae" textLength="21.8" lengthAdjust="spacingAndGlyphs" stroke="#1c3fae" stroke-width="0.25">15.2%</text>
<clipPath id="cp201"><rect x="112.1" y="287.6" width="40.6" height="39.4"/></clipPath>
<rect x="112.1" y="287.6" width="40.6" height="39.4" fill="#fff" stroke="#a8a8a8" stroke-width="0.6"/>
<line x1="110.5" y1="292.33" x2="112.1" y2="292.33" stroke="#888" stroke-width="0.5" />
<rect x="108.7" y="290.93" width="1.2" height="0.8" fill="#999"/>
<line x1="110.5" y1="300.21" x2="112.1" y2="300.21" stroke="#888" stroke-width="0.5" />
<rect x="108.7" y="298.81" width="1.2" height="0.8" fill="#999"/>
<line x1="110.5" y1="308.09" x2="112.1" y2="308.09" stroke="#888" stroke-width="0.5" />
<rect x="108.7" y="306.69" width="1.2" height="0.8" fill="#999"/>
<line x1="110.5" y1="315.97" x2="112.1" y2="315.97" stroke="#888" stroke-width="0.5" />
<rect x="108.7" y="314.57" width="1.2" height="0.8" fill="#999"/>
<line x1="110.5" y1="323.85" x2="112.1" y2="323.85" stroke="#888" stroke-width="0.5" />
<rect x="108.7" y="322.45" width="1.2" height="0.8" fill="#999"/>
<line x1="116.97" y1="327" x2="116.97" y2="328.6" stroke="#888" stroke-width="0.5" />
<rect x="116.67" y="329.2" width="1.2" height="0.8" fill="#999"/>
<line x1="127.93" y1="327" x2="127.93" y2="328.6" stroke="#888" stroke-width="0.5" />
<rect x="127.63" y="329.2" width="1.2" height="0.8" fill="#999"/>
<line x1="138.9" y1="327" x2="138.9" y2="328.6" stroke="#888" stroke-width="0.5" />
<rect x="138.6" y="329.2" width="1.2" height="0.8" fill="#999"/>
<line x1="149.86" y1="327" x2="149.86" y2="328.6" stroke="#888" stroke-width="0.5" />
<rect x="149.56" y="329.2" width="1.2" height="0.8" fill="#999"/>
<rect x="129.4" y="332" width="6" height="0.8" fill="#bbb"/>
<rect x="154.1" y="305.33" width="0.8" height="5" fill="#ccc"/>
<rect x="148.2" y="289.6" width="2.2" height="1.6" fill="#bbb"/>
<rect x="148.2" y="322.5" width="2.2" height="1.6" fill="#bbb"/>
<rect x="113.6" y="322.5" width="2.2" height="1.6" fill="#999"/>
<g clip-path="url(#cp201)"><g filter="url(#b1)">
<ellipse cx="123.06" cy="321.29" rx="11.37" ry="4.47" fill="#7088f2" fill-opacity="0.45" transform="rotate(0 123.06 321.29)"/>
<ellipse cx="122.25" cy="321.29" rx="8.53" ry="3.25" fill="#3cc4a0" fill-opacity="0.75" transform="rotate(0 122.25 321.29)"/>
<ellipse cx="121.44" cy="321.48" rx="6.09" ry="2.35" fill="#78d83a" fill-opacity="1" transform="rotate(0 121.44 321.48)"/>
<ellipse cx="120.63" cy="321.48" rx="3.25" ry="1.42" fill="#e6d020" fill-opacity="1" transform="rotate(0 120.63 321.48)"/>
<ellipse cx="120.22" cy="321.48" rx="1.22" ry="0.81" fill="#e05a10" fill-opacity="1" transform="rotate(0 120.22 321.48)"/>
<ellipse cx="132.4" cy="319.12" rx="4.06" ry="2.03" fill="#7088f2" fill-opacity="0.35" transform="rotate(-45 132.4 319.12)"/>
<ellipse cx="137" cy="307.3" rx="2.84" ry="12.18" fill="#7088f2" fill-opacity="0.27" transform="rotate(0 137 307.3)"/>
<ellipse cx="137" cy="319.12" rx="2.84" ry="2.03" fill="#40c080" fill-opacity="0.33" transform="rotate(0 137 319.12)"/>
<ellipse cx="137" cy="306.12" rx="2.03" ry="1.83" fill="#40c080" fill-opacity="0.09" transform="rotate(0 137 306.12)"/>
<ellipse cx="137" cy="294.69" rx="2.44" ry="1.62" fill="#50b090" fill-opacity="0.19" transform="rotate(0 137 294.69)"/>
</g></g>
<path d="M131.2 318.8h0.8M137.2 312.7h0.8M136.8 299.3h0.8M135.5 299.3h0.8M139.1 307.9h0.8M131.4 316.7h0.8M134.9 304.6h0.8M136.3 314.6h0.8M138.2 301.0h0.8M138.3 313.9h0.8M138.5 313.1h0.8M140.6 301.8h0.8M129.4 319.8h0.8M137.1 302.4h0.8M133.9 309.1h0.8M136.8 298.6h0.8M137.3 301.3h0.8M138.3 304.1h0.8M140.6 305.5h0.8M132.4 315.4h0.8M136.7 309.0h0.8M135.8 293.3h0.8M126.2 320.3h0.8M139.9 293.8h0.8M137.3 306.3h0.8M139.8 311.7h0.8M136.8 300.9h0.8M138.5 304.0h0.8M134.9 298.8h0.8M137.6 304.5h0.8M139.3 305.8h0.8M137.8 295.9h0.8M138.4 306.2h0.8M125.4 319.6h0.8M137.4 300.0h0.8M136.0 314.5h0.8M133.3 306.7h0.8M138.1 310.6h0.8M133.5 298.4h0.8M140.5 293.0h0.8M134.6 316.1h0.8M136.2 311.2h0.8M137.4 295.6h0.8M129.5 320.6h0.8M141.2 292.7h0.8M133.1 311.0h0.8M136.8 312.0h0.8M136.8 303.7h0.8M135.3 316.3h0.8M139.8 313.9h0.8M136.6 292.6h0.8M135.1 302.5h0.8M137.2 313.9h0.8M137.7 294.9h0.8M135.3 305.6h0.8M135.6 309.7h0.8M132.6 316.0h0.8M139.4 311.9h0.8M137.5 298.1h0.8M131.6 318.1h0.8M136.7 296.7h0.8M137.1 305.7h0.8M136.8 305.1h0.8M135.6 294.3h0.8M132.0 320.3h0.8M135.1 310.0h0.8M134.3 317.8h0.8M140.0 301.8h0.8M138.2 305.7h0.8M137.8 306.9h0.8M132.4 317.6h0.8M136.7 314.3h0.8M137.5 305.0h0.8M136.7 312.2h0.8M137.5 311.3h0.8M131.2 320.7h0.8M134.7 315.3h0.8M141.0 312.2h0.8M137.8 301.1h0.8M134.1 308.4h0.8M135.2 311.8h0.8M136.8 312.0h0.8M139.7 310.1h0.8M138.2 309.4h0.8M130.7 319.0h0.8M137.9 306.5h0.8M138.5 305.1h0.8M137.2 304.5h0.8M137.8 298.2h0.8M139.6 304.2h0.8M128.5 317.5h0.8M139.2 294.9h0.8M140.8 294.9h0.8M137.8 299.8h0.8M137.3 311.8h0.8M140.2 310.8h0.8M136.1 294.8h0.8M141.3 300.9h0.8M136.2 309.8h0.8M133.3 300.2h0.8M139.1 312.7h0.8M139.4 299.1h0.8M137.7 303.3h0.8M140.5 300.6h0.8M136.1 309.6h0.8M135.0 293.4h0.8M132.8 320.2h0.8M132.4 316.8h0.8M132.4 316.0h0.8M139.4 304.2h0.8M138.8 308.9h0.8M135.5 303.8h0.8M138.2 300.8h0.8M130.7 318.4h0.8M139.4 307.3h0.8M133.6 305.4h0.8M131.3 316.5h0.8M132.5 321.7h0.8M119.9 321.8h0.8M126.1 321.0h0.8M114.4 321.1h0.8M123.0 323.2h0.8M118.5 320.9h0.8M128.2 322.8h0.8M124.8 320.5h0.8M126.9 317.9h0.8M132.4 321.7h0.8M126.1 321.0h0.8M126.5 321.4h0.8M127.8 322.2h0.8M134.6 323.8h0.8M121.7 318.6h0.8M119.5 322.0h0.8M117.9 322.4h0.8M128.2 323.2h0.8M132.7 321.3h0.8M123.6 321.7h0.8M117.3 323.1h0.8M125.4 324.4h0.8M130.0 323.2h0.8M115.5 318.9h0.8M128.9 322.4h0.8M123.4 324.4h0.8M125.0 324.6h0.8M122.6 322.7h0.8M134.9 321.6h0.8M117.0 322.8h0.8M117.9 323.4h0.8M124.4 320.3h0.8M134.3 323.6h0.8M116.4 323.4h0.8M123.9 318.0h0.8M132.2 320.0h0.8M124.5 319.7h0.8M120.4 324.7h0.8M126.9 324.9h0.8M121.9 320.2h0.8M130.2 322.2h0.8M118.2 321.5h0.8M129.0 321.3h0.8M116.9 321.5h0.8M119.4 321.1h0.8M123.9 322.8h0.8M117.1 319.6h0.8M123.5 320.6h0.8M131.6 321.5h0.8M128.8 322.4h0.8M132.2 320.2h0.8M115.7 320.8h0.8M130.4 320.6h0.8M136.1 319.7h0.8M119.1 319.9h0.8M129.7 322.6h0.8M126.3 321.9h0.8M127.8 323.3h0.8M116.7 323.2h0.8M121.3 321.4h0.8M128.4 318.6h0.8M127.3 320.9h0.8M129.5 323.2h0.8M125.7 324.5h0.8M132.0 323.3h0.8M129.9 319.0h0.8M132.9 321.7h0.8M115.6 317.8h0.8M121.0 322.4h0.8M115.9 298.3h0.8M117.0 314.4h0.8M139.5 305.1h0.8M145.3 314.6h0.8M114.9 304.0h0.8M120.4 298.2h0.8M123.5 299.9h0.8M139.6 324.7h0.8M123.6 309.3h0.8M134.2 306.4h0.8M131.2 302.5h0.8M134.2 319.2h0.8M118.8 290.2h0.8M123.7 312.8h0.8M118.1 308.4h0.8M129.5 295.0h0.8M140.4 317.8h0.8M147.8 309.1h0.8M137.5 308.1h0.8M150.2 301.4h0.8M126.4 308.6h0.8M135.0 291.5h0.8M124.9 315.0h0.8M143.7 304.6h0.8M121.1 303.9h0.8M146.0 312.3h0.8M126.3 301.1h0.8M134.5 305.3h0.8M115.3 321.3h0.8M117.3 315.2h0.8M125.8 301.8h0.8M127.4 290.6h0.8M119.0 301.8h0.8M119.3 292.6h0.8M114.6 300.6h0.8M140.2 291.3h0.8M143.5 316.9h0.8M120.0 308.3h0.8M122.4 323.8h0.8M114.3 306.3h0.8" stroke="#6a80f0" stroke-width="0.8" stroke-opacity="0.38"/>
<path d="M119.6 323.7h0.9M128.7 321.5h0.9M123.9 324.9h0.9M132.2 324.1h0.9M122.3 320.0h0.9M119.7 323.5h0.9M118.9 320.8h0.9M121.8 320.0h0.9M121.9 320.6h0.9M122.7 324.8h0.9M121.0 320.7h0.9M126.9 321.5h0.9M124.8 319.6h0.9M124.4 321.7h0.9M131.2 321.2h0.9M115.6 320.9h0.9M131.1 318.6h0.9M120.6 322.8h0.9M119.2 319.8h0.9M120.1 319.3h0.9M128.6 321.0h0.9M129.6 322.3h0.9M119.2 322.5h0.9M115.0 323.2h0.9M117.7 324.5h0.9M121.9 324.9h0.9M115.2 322.4h0.9M123.9 324.2h0.9M120.1 322.4h0.9M120.1 321.5h0.9M120.0 321.8h0.9M121.3 321.1h0.9M120.7 321.8h0.9M114.9 321.8h0.9M123.0 318.6h0.9M124.3 317.8h0.9M128.4 321.7h0.9M117.4 320.2h0.9M115.2 318.3h0.9M141.7 321.3h0.9M119.9 322.2h0.9M119.2 322.0h0.9M121.9 320.4h0.9M123.2 322.6h0.9" stroke="#30c060" stroke-width="0.9" stroke-opacity="0.55"/>
<path d="M134.0 295.5h0.9M135.7 297.6h0.9M137.7 295.6h0.9M138.8 295.4h0.9M133.5 291.5h0.9M135.1 295.2h0.9M135.9 294.1h0.9M138.0 297.5h0.9M136.8 295.0h0.9M140.9 297.3h0.9M136.5 295.0h0.9M138.7 298.2h0.9M137.8 301.8h0.9M138.0 296.3h0.9M135.2 292.3h0.9M135.0 297.7h0.9M139.1 296.9h0.9M135.1 296.5h0.9M135.9 296.9h0.9M137.0 297.3h0.9M137.0 295.1h0.9M137.7 294.3h0.9M138.0 295.0h0.9M137.0 295.8h0.9" stroke="#5068ea" stroke-width="0.9" stroke-opacity="0.4"/>
<line x1="129.56" y1="297.06" x2="129.56" y2="327" stroke="#8a8a8a" stroke-width="0.7" />
<text x="113.8" y="295.5" font-size="7.5" text-anchor="start" font-weight="bold" fill="#1c3fae" textLength="21.8" lengthAdjust="spacingAndGlyphs" stroke="#1c3fae" stroke-width="0.25">23.9%</text>
<clipPath id="cp202"><rect x="160.9" y="287.6" width="40.6" height="39.4"/></clipPath>
<rect x="160.9" y="287.6" width="40.6" height="39.4" fill="#fff" stroke="#a8a8a8" stroke-width="0.6"/>
<line x1="159.3" y1="292.33" x2="160.9" y2="292.33" stroke="#888" stroke-width="0.5" />
<rect x="157.5" y="290.93" width="1.2" height="0.8" fill="#999"/>
<line x1="159.3" y1="300.21" x2="160.9" y2="300.21" stroke="#888" stroke-width="0.5" />
<rect x="157.5" y="298.81" width="1.2" height="0.8" fill="#999"/>
<line x1="159.3" y1="308.09" x2="160.9" y2="308.09" stroke="#888" stroke-width="0.5" />
<rect x="157.5" y="306.69" width="1.2" height="0.8" fill="#999"/>
<line x1="159.3" y1="315.97" x2="160.9" y2="315.97" stroke="#888" stroke-width="0.5" />
<rect x="157.5" y="314.57" width="1.2" height="0.8" fill="#999"/>
<line x1="159.3" y1="323.85" x2="160.9" y2="323.85" stroke="#888" stroke-width="0.5" />
<rect x="157.5" y="322.45" width="1.2" height="0.8" fill="#999"/>
<line x1="165.77" y1="327" x2="165.77" y2="328.6" stroke="#888" stroke-width="0.5" />
<rect x="165.47" y="329.2" width="1.2" height="0.8" fill="#999"/>
<line x1="176.73" y1="327" x2="176.73" y2="328.6" stroke="#888" stroke-width="0.5" />
<rect x="176.43" y="329.2" width="1.2" height="0.8" fill="#999"/>
<line x1="187.7" y1="327" x2="187.7" y2="328.6" stroke="#888" stroke-width="0.5" />
<rect x="187.4" y="329.2" width="1.2" height="0.8" fill="#999"/>
<line x1="198.66" y1="327" x2="198.66" y2="328.6" stroke="#888" stroke-width="0.5" />
<rect x="198.36" y="329.2" width="1.2" height="0.8" fill="#999"/>
<rect x="178.2" y="332" width="6" height="0.8" fill="#bbb"/>
<rect x="202.9" y="305.33" width="0.8" height="5" fill="#ccc"/>
<rect x="197" y="289.6" width="2.2" height="1.6" fill="#bbb"/>
<rect x="197" y="322.5" width="2.2" height="1.6" fill="#bbb"/>
<rect x="162.4" y="322.5" width="2.2" height="1.6" fill="#999"/>
<g clip-path="url(#cp202)"><g filter="url(#b1)">
<ellipse cx="171.86" cy="321.29" rx="11.37" ry="4.47" fill="#7088f2" fill-opacity="0.45" transform="rotate(0 171.86 321.29)"/>
<ellipse cx="171.05" cy="321.29" rx="8.53" ry="3.25" fill="#3cc4a0" fill-opacity="0.75" transform="rotate(0 171.05 321.29)"/>
<ellipse cx="170.24" cy="321.48" rx="6.09" ry="2.35" fill="#78d83a" fill-opacity="1" transform="rotate(0 170.24 321.48)"/>
<ellipse cx="169.43" cy="321.48" rx="3.25" ry="1.42" fill="#e6d020" fill-opacity="1" transform="rotate(0 169.43 321.48)"/>
<ellipse cx="169.02" cy="321.48" rx="1.22" ry="0.81" fill="#e05a10" fill-opacity="1" transform="rotate(0 169.02 321.48)"/>
<ellipse cx="181.2" cy="319.12" rx="4.06" ry="2.03" fill="#7088f2" fill-opacity="0.35" transform="rotate(-45 181.2 319.12)"/>
<ellipse cx="190.8" cy="307.3" rx="2.84" ry="12.18" fill="#7088f2" fill-opacity="0.33" transform="rotate(0 190.8 307.3)"/>
<ellipse cx="190.8" cy="319.12" rx="2.84" ry="2.03" fill="#40c080" fill-opacity="0.62" transform="rotate(0 190.8 319.12)"/>
<ellipse cx="190.8" cy="306.12" rx="2.03" ry="1.83" fill="#40c080" fill-opacity="0.33" transform="rotate(0 190.8 306.12)"/>
<ellipse cx="190.8" cy="294.69" rx="2.44" ry="1.62" fill="#50b090" fill-opacity="0.43" transform="rotate(0 190.8 294.69)"/>
</g></g>
<path d="M190.1 299.0h0.8M186.5 315.1h0.8M193.4 301.5h0.8M191.1 296.6h0.8M178.5 319.7h0.8M190.9 306.7h0.8M192.8 303.4h0.8M189.6 296.0h0.8M192.5 311.4h0.8M193.0 300.4h0.8M192.8 300.6h0.8M191.2 313.5h0.8M192.1 307.3h0.8M179.1 319.4h0.8M194.0 295.2h0.8M177.4 319.6h0.8M192.8 313.3h0.8M188.4 317.2h0.8M185.2 317.1h0.8M191.7 315.1h0.8M190.6 292.8h0.8M190.6 315.3h0.8M195.5 312.4h0.8M185.1 313.8h0.8M192.2 310.8h0.8M191.4 309.8h0.8M189.4 305.9h0.8M185.2 316.2h0.8M190.1 304.9h0.8M193.2 293.1h0.8M196.3 304.0h0.8M192.2 293.2h0.8M191.9 309.6h0.8M191.5 294.6h0.8M188.6 315.9h0.8M189.4 293.5h0.8M188.1 312.1h0.8M180.6 317.0h0.8M186.4 315.4h0.8M180.4 319.1h0.8M177.1 320.3h0.8M193.5 307.5h0.8M192.2 303.6h0.8M191.3 304.7h0.8M186.7 316.2h0.8M191.3 302.2h0.8M191.4 293.5h0.8M188.0 315.2h0.8M191.7 301.4h0.8M189.7 307.4h0.8M176.5 319.7h0.8M190.2 306.5h0.8M191.7 298.4h0.8M194.1 307.3h0.8M193.2 303.6h0.8M192.2 303.1h0.8M189.6 314.1h0.8M190.9 308.8h0.8M190.2 294.0h0.8M189.6 296.0h0.8M189.4 301.0h0.8M191.4 295.9h0.8M189.2 304.7h0.8M186.0 316.4h0.8M185.7 315.3h0.8M189.9 298.7h0.8M189.1 308.0h0.8M192.5 313.6h0.8M190.5 293.4h0.8M189.8 306.7h0.8M194.5 296.8h0.8M190.6 295.8h0.8M190.1 297.8h0.8M192.6 307.5h0.8M178.5 319.2h0.8M190.1 298.4h0.8M194.2 311.1h0.8M190.7 304.3h0.8M192.5 314.2h0.8M190.0 302.7h0.8M188.3 315.2h0.8M192.9 294.6h0.8M190.1 308.1h0.8M188.5 297.7h0.8M192.4 312.5h0.8M190.2 316.7h0.8M191.4 292.3h0.8M191.1 312.2h0.8M190.5 299.0h0.8M182.6 318.5h0.8M178.7 319.3h0.8M190.5 301.5h0.8M183.9 317.1h0.8M193.4 311.5h0.8M191.1 301.0h0.8M194.7 301.9h0.8M190.5 309.0h0.8M189.8 294.6h0.8M190.5 299.7h0.8M195.1 302.9h0.8M190.4 296.2h0.8M186.8 305.3h0.8M190.5 310.9h0.8M186.5 305.8h0.8M189.9 300.4h0.8M187.1 315.0h0.8M192.4 303.0h0.8M193.4 298.7h0.8M186.1 309.9h0.8M193.4 303.9h0.8M192.3 305.4h0.8M194.1 310.2h0.8M195.0 300.4h0.8M188.2 314.4h0.8M191.0 294.4h0.8M179.1 319.5h0.8M188.7 313.7h0.8M177.0 320.6h0.8M195.2 293.8h0.8M192.7 306.6h0.8M192.6 298.0h0.8M188.0 310.0h0.8M191.6 306.0h0.8M180.6 320.1h0.8M193.6 310.3h0.8M179.3 318.9h0.8M188.6 311.0h0.8M192.1 306.2h0.8M192.5 296.9h0.8M194.0 302.3h0.8M179.4 320.2h0.8M192.1 303.2h0.8M194.4 296.3h0.8M188.5 305.1h0.8M190.4 303.1h0.8M189.6 307.0h0.8M183.9 316.9h0.8M193.3 293.6h0.8M188.0 314.8h0.8M181.1 319.0h0.8M189.0 306.0h0.8M190.4 292.7h0.8M188.2 307.2h0.8M181.6 317.1h0.8M194.3 298.9h0.8M194.5 299.1h0.8M191.8 298.5h0.8M181.8 318.3h0.8M195.1 308.8h0.8M188.8 315.7h0.8M189.7 314.1h0.8M190.6 296.3h0.8M187.2 310.7h0.8M180.8 318.6h0.8M188.5 313.5h0.8M193.0 312.4h0.8M191.7 308.7h0.8M193.6 308.8h0.8M193.9 302.3h0.8M191.7 293.9h0.8M190.6 313.9h0.8M189.0 316.5h0.8M190.1 306.2h0.8M191.6 311.3h0.8M190.4 298.0h0.8M190.1 303.9h0.8M176.0 320.5h0.8M178.6 321.1h0.8M168.1 320.9h0.8M176.7 315.5h0.8M177.8 321.2h0.8M171.4 321.2h0.8M166.8 319.1h0.8M177.2 320.8h0.8M171.5 321.2h0.8M180.3 322.5h0.8M178.7 324.6h0.8M174.1 320.5h0.8M168.2 319.8h0.8M177.0 322.8h0.8M165.8 325.2h0.8M169.6 316.3h0.8M164.7 324.4h0.8M171.1 318.1h0.8M183.0 322.5h0.8M179.8 322.6h0.8M178.8 324.3h0.8M179.1 318.4h0.8M167.9 320.3h0.8M169.5 317.4h0.8M179.2 321.2h0.8M180.6 320.8h0.8M172.0 323.0h0.8M180.3 320.5h0.8M181.7 322.1h0.8M173.5 320.7h0.8M172.2 322.0h0.8M177.8 316.6h0.8M176.9 318.7h0.8M167.7 322.6h0.8M174.1 319.1h0.8M166.3 322.9h0.8M174.5 320.6h0.8M167.6 320.1h0.8M172.0 320.6h0.8M178.6 325.3h0.8M178.2 317.1h0.8M181.8 320.3h0.8M179.6 322.3h0.8M178.1 323.8h0.8M168.6 321.9h0.8M182.3 317.8h0.8M173.5 319.6h0.8M166.9 324.0h0.8M175.0 322.3h0.8M171.2 321.6h0.8M172.7 321.2h0.8M167.3 318.4h0.8M175.1 322.7h0.8M177.7 318.3h0.8M181.9 320.0h0.8M164.8 323.6h0.8M168.4 321.7h0.8M176.1 323.7h0.8M163.5 318.9h0.8M177.6 324.7h0.8M176.9 322.9h0.8M168.1 324.2h0.8M171.0 324.4h0.8M170.9 322.7h0.8M169.6 320.8h0.8M180.5 320.8h0.8M172.6 321.2h0.8M170.1 324.1h0.8M180.3 321.1h0.8M164.8 313.8h0.8M167.0 296.6h0.8M185.9 309.3h0.8M167.9 297.8h0.8M165.9 322.4h0.8M198.6 305.2h0.8M189.7 322.4h0.8M197.2 290.1h0.8M169.7 316.9h0.8M193.8 300.3h0.8M165.2 301.1h0.8M183.1 321.8h0.8M164.5 301.0h0.8M169.4 294.8h0.8M175.2 317.3h0.8M175.2 293.6h0.8M197.5 290.3h0.8M173.1 323.8h0.8M178.7 297.8h0.8M187.9 302.0h0.8M185.1 299.8h0.8M176.1 315.7h0.8M189.4 312.1h0.8M189.0 300.3h0.8M171.4 293.7h0.8M174.0 309.6h0.8M167.4 291.2h0.8M176.9 303.1h0.8M177.9 316.9h0.8M170.1 314.8h0.8M178.8 299.4h0.8M198.4 303.9h0.8M181.0 314.8h0.8M167.8 311.7h0.8M163.8 301.5h0.8M178.1 304.0h0.8M165.8 321.2h0.8M169.2 314.1h0.8M166.2 318.7h0.8M185.7 299.2h0.8" stroke="#6a80f0" stroke-width="0.8" stroke-opacity="0.38"/>
<path d="M165.3 322.4h0.9M176.7 321.4h0.9M171.9 323.1h0.9M172.7 321.0h0.9M169.6 322.0h0.9M173.4 319.3h0.9M164.4 323.4h0.9M177.1 317.3h0.9M173.1 320.6h0.9M164.8 321.4h0.9M170.0 319.7h0.9M174.5 323.1h0.9M180.6 317.2h0.9M170.6 320.9h0.9M168.7 319.4h0.9M175.2 317.2h0.9M161.8 320.6h0.9M176.6 315.6h0.9M175.8 320.9h0.9M164.1 324.3h0.9M175.3 320.7h0.9M177.2 320.5h0.9M179.7 322.9h0.9M171.7 318.1h0.9M167.2 320.7h0.9M173.2 323.0h0.9M170.7 323.2h0.9M173.4 324.2h0.9M175.0 319.3h0.9M169.8 321.3h0.9M174.2 321.3h0.9M176.3 318.0h0.9M162.7 323.1h0.9M174.7 316.4h0.9M167.6 317.6h0.9M169.4 322.0h0.9M173.3 321.1h0.9M176.5 321.3h0.9M180.3 317.7h0.9M167.3 321.6h0.9M173.3 324.6h0.9M168.1 321.8h0.9M167.0 321.6h0.9M182.1 318.8h0.9M178.4 320.7h0.9" stroke="#30c060" stroke-width="0.9" stroke-opacity="0.55"/>
<path d="M192.0 295.4h0.9M190.7 294.4h0.9M190.7 296.5h0.9M188.2 294.1h0.9M190.2 292.9h0.9M189.7 294.7h0.9M190.7 296.5h0.9M191.7 295.4h0.9M192.0 293.9h0.9M192.2 293.8h0.9M193.9 294.3h0.9M190.9 294.9h0.9M190.6 295.1h0.9M189.2 294.2h0.9M192.2 297.3h0.9M190.0 297.6h0.9M190.1 294.8h0.9M188.7 295.9h0.9M194.9 293.0h0.9M190.5 297.3h0.9M189.1 295.9h0.9M194.6 294.2h0.9M192.5 298.8h0.9M193.0 292.1h0.9M190.5 295.7h0.9M190.4 294.3h0.9M190.6 294.5h0.9M190.0 295.1h0.9M189.5 294.7h0.9M194.5 296.9h0.9M190.8 292.6h0.9M189.6 297.1h0.9M189.5 294.9h0.9M190.4 294.6h0.9M191.7 296.9h0.9M188.1 295.4h0.9" stroke="#5068ea" stroke-width="0.9" stroke-opacity="0.4"/>
<line x1="178.36" y1="297.06" x2="178.36" y2="327" stroke="#8a8a8a" stroke-width="0.7" />
<text x="162.6" y="295.5" font-size="7.5" text-anchor="start" font-weight="bold" fill="#1c3fae" textLength="21.8" lengthAdjust="spacingAndGlyphs" stroke="#1c3fae" stroke-width="0.25">44.4%</text>
<clipPath id="cp205"><rect x="112.1" y="343.3" width="40.6" height="39"/></clipPath>
<rect x="112.1" y="343.3" width="40.6" height="39" fill="#fff" stroke="#a8a8a8" stroke-width="0.6"/>
<line x1="110.5" y1="347.98" x2="112.1" y2="347.98" stroke="#888" stroke-width="0.5" />
<rect x="108.7" y="346.58" width="1.2" height="0.8" fill="#999"/>
<line x1="110.5" y1="355.78" x2="112.1" y2="355.78" stroke="#888" stroke-width="0.5" />
<rect x="108.7" y="354.38" width="1.2" height="0.8" fill="#999"/>
<line x1="110.5" y1="363.58" x2="112.1" y2="363.58" stroke="#888" stroke-width="0.5" />
<rect x="108.7" y="362.18" width="1.2" height="0.8" fill="#999"/>
<line x1="110.5" y1="371.38" x2="112.1" y2="371.38" stroke="#888" stroke-width="0.5" />
<rect x="108.7" y="369.98" width="1.2" height="0.8" fill="#999"/>
<line x1="110.5" y1="379.18" x2="112.1" y2="379.18" stroke="#888" stroke-width="0.5" />
<rect x="108.7" y="377.78" width="1.2" height="0.8" fill="#999"/>
<line x1="116.97" y1="382.3" x2="116.97" y2="383.9" stroke="#888" stroke-width="0.5" />
<rect x="116.67" y="384.5" width="1.2" height="0.8" fill="#999"/>
<line x1="127.93" y1="382.3" x2="127.93" y2="383.9" stroke="#888" stroke-width="0.5" />
<rect x="127.63" y="384.5" width="1.2" height="0.8" fill="#999"/>
<line x1="138.9" y1="382.3" x2="138.9" y2="383.9" stroke="#888" stroke-width="0.5" />
<rect x="138.6" y="384.5" width="1.2" height="0.8" fill="#999"/>
<line x1="149.86" y1="382.3" x2="149.86" y2="383.9" stroke="#888" stroke-width="0.5" />
<rect x="149.56" y="384.5" width="1.2" height="0.8" fill="#999"/>
<rect x="129.4" y="387.3" width="6" height="0.8" fill="#bbb"/>
<rect x="154.1" y="360.85" width="0.8" height="5" fill="#ccc"/>
<rect x="148.2" y="345.3" width="2.2" height="1.6" fill="#bbb"/>
<rect x="148.2" y="377.8" width="2.2" height="1.6" fill="#bbb"/>
<rect x="113.6" y="377.8" width="2.2" height="1.6" fill="#999"/>
<g clip-path="url(#cp205)"><g filter="url(#b1)">
<ellipse cx="123.06" cy="376.64" rx="11.37" ry="4.47" fill="#7088f2" fill-opacity="0.45" transform="rotate(0 123.06 376.64)"/>
<ellipse cx="122.25" cy="376.64" rx="8.53" ry="3.25" fill="#3cc4a0" fill-opacity="0.75" transform="rotate(0 122.25 376.64)"/>
<ellipse cx="121.44" cy="376.84" rx="6.09" ry="2.35" fill="#78d83a" fill-opacity="1" transform="rotate(0 121.44 376.84)"/>
<ellipse cx="120.63" cy="376.84" rx="3.25" ry="1.42" fill="#e6d020" fill-opacity="1" transform="rotate(0 120.63 376.84)"/>
<ellipse cx="120.22" cy="376.84" rx="1.22" ry="0.81" fill="#e05a10" fill-opacity="1" transform="rotate(0 120.22 376.84)"/>
<ellipse cx="132.4" cy="374.5" rx="4.06" ry="2.03" fill="#7088f2" fill-opacity="0.35" transform="rotate(-45 132.4 374.5)"/>
<ellipse cx="138.27" cy="362.8" rx="2.84" ry="12.18" fill="#7088f2" fill-opacity="0.29" transform="rotate(0 138.27 362.8)"/>
<ellipse cx="138.27" cy="374.5" rx="2.84" ry="2.03" fill="#40c080" fill-opacity="0.41" transform="rotate(0 138.27 374.5)"/>
<ellipse cx="138.27" cy="361.63" rx="2.03" ry="1.83" fill="#40c080" fill-opacity="0.15" transform="rotate(0 138.27 361.63)"/>
<ellipse cx="138.27" cy="350.32" rx="2.44" ry="1.62" fill="#50b090" fill-opacity="0.25" transform="rotate(0 138.27 350.32)"/>
</g></g>
<path d="M138.1 363.9h0.8M136.1 362.1h0.8M139.8 352.8h0.8M144.1 361.5h0.8M132.6 373.3h0.8M137.7 348.7h0.8M140.3 356.9h0.8M143.3 367.0h0.8M140.8 349.3h0.8M138.8 358.5h0.8M137.8 368.3h0.8M139.5 359.1h0.8M138.0 352.3h0.8M141.5 361.1h0.8M141.3 356.4h0.8M138.3 365.8h0.8M136.9 362.6h0.8M132.1 348.4h0.8M142.4 367.5h0.8M139.4 370.3h0.8M140.2 356.9h0.8M140.8 355.7h0.8M137.8 349.3h0.8M140.6 353.4h0.8M140.0 361.5h0.8M139.0 369.3h0.8M138.4 354.8h0.8M137.9 362.0h0.8M140.6 354.4h0.8M135.9 359.7h0.8M140.7 362.4h0.8M137.6 368.9h0.8M136.9 367.6h0.8M139.8 368.4h0.8M139.2 365.5h0.8M133.0 372.4h0.8M140.2 369.7h0.8M144.1 352.7h0.8M142.0 352.9h0.8M138.9 355.6h0.8M136.2 370.5h0.8M140.9 364.8h0.8M134.9 364.7h0.8M138.3 354.5h0.8M139.5 351.5h0.8M137.5 358.6h0.8M136.2 369.2h0.8M138.5 350.2h0.8M136.9 363.0h0.8M138.8 361.7h0.8M142.5 359.4h0.8M142.0 361.7h0.8M138.0 369.5h0.8M138.3 356.2h0.8M139.2 365.4h0.8M138.8 350.8h0.8M138.2 358.4h0.8M136.3 366.8h0.8M137.7 359.3h0.8M142.8 361.3h0.8M138.8 354.6h0.8M137.2 362.6h0.8M132.5 373.9h0.8M139.6 348.5h0.8M136.0 363.0h0.8M139.1 369.9h0.8M134.2 373.0h0.8M138.8 367.9h0.8M136.1 369.4h0.8M139.6 351.1h0.8M140.4 361.4h0.8M136.7 360.4h0.8M143.7 348.3h0.8M140.9 351.4h0.8M133.1 374.4h0.8M138.8 368.2h0.8M137.1 357.7h0.8M141.4 361.8h0.8M138.5 366.0h0.8M138.9 370.8h0.8M139.4 362.2h0.8M141.6 357.1h0.8M139.1 362.9h0.8M127.9 374.5h0.8M136.0 359.7h0.8M138.5 362.8h0.8M138.8 352.0h0.8M128.9 373.7h0.8M139.4 364.9h0.8M143.8 360.4h0.8M131.9 373.9h0.8M138.1 364.4h0.8M137.1 371.4h0.8M141.7 349.3h0.8M138.5 368.8h0.8M145.5 349.9h0.8M139.2 352.8h0.8M129.8 374.5h0.8M134.3 371.7h0.8M138.6 356.5h0.8M133.8 375.0h0.8M138.5 355.7h0.8M138.9 364.2h0.8M134.5 357.7h0.8M135.7 363.4h0.8M129.3 374.2h0.8M140.5 358.1h0.8M132.2 375.1h0.8M136.5 352.6h0.8M139.8 358.2h0.8M135.9 363.3h0.8M141.2 367.0h0.8M137.1 362.5h0.8M139.3 348.9h0.8M140.4 352.8h0.8M138.1 355.8h0.8M135.7 351.2h0.8M134.9 367.9h0.8M137.4 353.3h0.8M138.9 370.7h0.8M128.3 374.1h0.8M137.4 368.9h0.8M142.2 355.1h0.8M143.0 366.6h0.8M139.1 359.3h0.8M134.4 374.2h0.8M138.6 351.7h0.8M141.5 358.9h0.8M141.2 351.3h0.8M119.4 378.8h0.8M127.4 376.6h0.8M133.0 377.1h0.8M115.7 378.8h0.8M127.8 375.2h0.8M125.2 376.0h0.8M129.4 377.8h0.8M135.4 376.7h0.8M126.7 377.3h0.8M114.8 379.3h0.8M115.9 378.8h0.8M131.6 378.3h0.8M120.0 376.5h0.8M130.6 377.7h0.8M128.2 372.6h0.8M133.1 377.2h0.8M125.8 378.2h0.8M132.3 376.9h0.8M131.0 376.0h0.8M117.4 375.7h0.8M124.4 373.2h0.8M132.9 373.0h0.8M132.3 377.9h0.8M133.7 374.4h0.8M130.8 378.1h0.8M129.1 376.5h0.8M130.4 375.9h0.8M119.7 372.9h0.8M117.1 378.9h0.8M132.9 379.8h0.8M119.5 377.3h0.8M113.2 378.6h0.8M131.4 378.6h0.8M122.5 376.5h0.8M119.9 375.1h0.8M122.5 376.3h0.8M132.2 379.1h0.8M117.9 374.9h0.8M116.5 374.4h0.8M127.5 375.7h0.8M130.0 378.5h0.8M130.5 377.3h0.8M117.4 375.3h0.8M127.8 377.3h0.8M119.3 376.5h0.8M132.6 377.0h0.8M124.5 380.1h0.8M121.2 373.3h0.8M133.3 378.6h0.8M126.0 375.8h0.8M128.9 377.6h0.8M124.1 376.5h0.8M116.8 379.3h0.8M118.9 377.2h0.8M133.2 376.8h0.8M128.4 374.7h0.8M130.4 378.5h0.8M123.4 375.2h0.8M117.3 374.2h0.8M127.0 378.6h0.8M123.7 378.5h0.8M128.2 380.4h0.8M118.9 377.3h0.8M113.7 378.9h0.8M125.9 378.5h0.8M123.5 376.3h0.8M115.8 378.4h0.8M128.2 377.4h0.8M135.0 365.7h0.8M148.2 366.4h0.8M145.1 355.4h0.8M147.8 355.9h0.8M147.3 365.7h0.8M117.7 369.1h0.8M144.6 368.5h0.8M148.3 348.2h0.8M123.5 351.8h0.8M131.5 371.8h0.8M135.2 367.4h0.8M127.3 345.7h0.8M119.2 349.2h0.8M126.4 374.0h0.8M148.0 354.8h0.8M144.1 367.1h0.8M140.1 348.8h0.8M134.5 378.5h0.8M118.3 349.8h0.8M120.8 354.6h0.8M136.5 360.3h0.8M135.2 378.0h0.8M127.1 351.2h0.8M131.2 371.6h0.8M135.4 349.5h0.8M124.4 379.8h0.8M118.2 367.5h0.8M142.9 353.9h0.8M116.7 378.9h0.8M120.0 364.6h0.8M142.5 348.5h0.8M147.5 357.3h0.8M149.6 377.2h0.8M141.5 354.5h0.8M144.3 376.4h0.8M120.1 347.2h0.8M124.5 369.1h0.8M126.6 356.4h0.8M148.5 349.1h0.8M120.8 364.3h0.8" stroke="#6a80f0" stroke-width="0.8" stroke-opacity="0.38"/>
<path d="M121.7 375.9h0.9M122.2 376.4h0.9M128.0 380.1h0.9M121.7 380.1h0.9M126.1 375.4h0.9M120.6 378.1h0.9M117.7 378.8h0.9M114.3 373.1h0.9M121.9 377.3h0.9M121.4 379.6h0.9M121.8 376.5h0.9M112.9 373.0h0.9M124.0 375.1h0.9M121.9 379.6h0.9M126.2 377.2h0.9M118.2 375.7h0.9M121.4 375.0h0.9M124.2 378.3h0.9M126.0 378.8h0.9M124.9 373.0h0.9M123.7 376.7h0.9M114.0 378.5h0.9M126.9 377.5h0.9M126.3 379.1h0.9M119.8 377.8h0.9M124.6 376.8h0.9M124.0 376.1h0.9M113.8 378.7h0.9M126.4 379.1h0.9M130.7 374.0h0.9M124.6 378.7h0.9M122.1 377.9h0.9M124.8 378.7h0.9M117.6 376.7h0.9M128.9 375.8h0.9M126.9 376.9h0.9M126.1 377.4h0.9M116.3 376.8h0.9M124.2 375.4h0.9M128.4 377.9h0.9M126.2 372.7h0.9M124.0 373.0h0.9M135.0 377.2h0.9M129.6 376.6h0.9M118.8 376.5h0.9" stroke="#30c060" stroke-width="0.9" stroke-opacity="0.55"/>
<path d="M134.7 351.1h0.9M137.2 352.3h0.9M139.5 351.1h0.9M139.0 352.3h0.9M138.7 349.7h0.9M139.3 354.3h0.9M135.4 350.3h0.9M136.6 353.2h0.9M138.0 352.7h0.9M137.8 349.4h0.9M141.1 348.9h0.9M139.6 355.0h0.9M138.0 350.0h0.9M140.9 351.2h0.9M136.9 349.9h0.9M135.4 346.8h0.9M140.2 354.2h0.9M140.4 353.4h0.9M138.8 351.2h0.9M140.1 350.8h0.9M139.2 353.5h0.9M137.7 350.9h0.9M137.9 351.6h0.9M137.1 354.4h0.9M140.5 352.4h0.9M139.0 352.1h0.9M135.2 351.9h0.9" stroke="#5068ea" stroke-width="0.9" stroke-opacity="0.4"/>
<line x1="132.4" y1="343.3" x2="132.4" y2="382.3" stroke="#8a8a8a" stroke-width="0.7" />
<line x1="112.1" y1="364.75" x2="152.7" y2="364.75" stroke="#8a8a8a" stroke-width="0.7" />
<text x="113.8" y="351.2" font-size="7.5" text-anchor="start" font-weight="bold" fill="#1c3fae" textLength="21.8" lengthAdjust="spacingAndGlyphs" stroke="#1c3fae" stroke-width="0.25">29.1%</text>
<clipPath id="cp206"><rect x="160.9" y="343.3" width="40.6" height="39"/></clipPath>
<rect x="160.9" y="343.3" width="40.6" height="39" fill="#fff" stroke="#a8a8a8" stroke-width="0.6"/>
<line x1="159.3" y1="347.98" x2="160.9" y2="347.98" stroke="#888" stroke-width="0.5" />
<rect x="157.5" y="346.58" width="1.2" height="0.8" fill="#999"/>
<line x1="159.3" y1="355.78" x2="160.9" y2="355.78" stroke="#888" stroke-width="0.5" />
<rect x="157.5" y="354.38" width="1.2" height="0.8" fill="#999"/>
<line x1="159.3" y1="363.58" x2="160.9" y2="363.58" stroke="#888" stroke-width="0.5" />
<rect x="157.5" y="362.18" width="1.2" height="0.8" fill="#999"/>
<line x1="159.3" y1="371.38" x2="160.9" y2="371.38" stroke="#888" stroke-width="0.5" />
<rect x="157.5" y="369.98" width="1.2" height="0.8" fill="#999"/>
<line x1="159.3" y1="379.18" x2="160.9" y2="379.18" stroke="#888" stroke-width="0.5" />
<rect x="157.5" y="377.78" width="1.2" height="0.8" fill="#999"/>
<line x1="165.77" y1="382.3" x2="165.77" y2="383.9" stroke="#888" stroke-width="0.5" />
<rect x="165.47" y="384.5" width="1.2" height="0.8" fill="#999"/>
<line x1="176.73" y1="382.3" x2="176.73" y2="383.9" stroke="#888" stroke-width="0.5" />
<rect x="176.43" y="384.5" width="1.2" height="0.8" fill="#999"/>
<line x1="187.7" y1="382.3" x2="187.7" y2="383.9" stroke="#888" stroke-width="0.5" />
<rect x="187.4" y="384.5" width="1.2" height="0.8" fill="#999"/>
<line x1="198.66" y1="382.3" x2="198.66" y2="383.9" stroke="#888" stroke-width="0.5" />
<rect x="198.36" y="384.5" width="1.2" height="0.8" fill="#999"/>
<rect x="178.2" y="387.3" width="6" height="0.8" fill="#bbb"/>
<rect x="202.9" y="360.85" width="0.8" height="5" fill="#ccc"/>
<rect x="197" y="345.3" width="2.2" height="1.6" fill="#bbb"/>
<rect x="197" y="377.8" width="2.2" height="1.6" fill="#bbb"/>
<rect x="162.4" y="377.8" width="2.2" height="1.6" fill="#999"/>
<g clip-path="url(#cp206)"><g filter="url(#b1)">
<ellipse cx="171.86" cy="376.64" rx="11.37" ry="4.47" fill="#7088f2" fill-opacity="0.45" transform="rotate(0 171.86 376.64)"/>
<ellipse cx="171.05" cy="376.64" rx="8.53" ry="3.25" fill="#3cc4a0" fill-opacity="0.75" transform="rotate(0 171.05 376.64)"/>
<ellipse cx="170.24" cy="376.84" rx="6.09" ry="2.35" fill="#78d83a" fill-opacity="1" transform="rotate(0 170.24 376.84)"/>
<ellipse cx="169.43" cy="376.84" rx="3.25" ry="1.42" fill="#e6d020" fill-opacity="1" transform="rotate(0 169.43 376.84)"/>
<ellipse cx="169.02" cy="376.84" rx="1.22" ry="0.81" fill="#e05a10" fill-opacity="1" transform="rotate(0 169.02 376.84)"/>
<ellipse cx="181.2" cy="374.5" rx="4.06" ry="2.03" fill="#7088f2" fill-opacity="0.35" transform="rotate(-45 181.2 374.5)"/>
<ellipse cx="192.5" cy="362.8" rx="2.84" ry="12.18" fill="#7088f2" fill-opacity="0.35" transform="rotate(0 192.5 362.8)"/>
<ellipse cx="192.5" cy="374.5" rx="2.84" ry="2.03" fill="#40c080" fill-opacity="0.72" transform="rotate(0 192.5 374.5)"/>
<ellipse cx="192.5" cy="361.63" rx="2.03" ry="1.83" fill="#40c080" fill-opacity="0.42" transform="rotate(0 192.5 361.63)"/>
<ellipse cx="192.5" cy="350.32" rx="2.44" ry="1.62" fill="#50b090" fill-opacity="0.52" transform="rotate(0 192.5 350.32)"/>
</g></g>
<path d="M177.3 375.8h0.8M196.3 352.4h0.8M194.6 350.9h0.8M192.3 368.8h0.8M192.1 361.3h0.8M192.0 355.2h0.8M191.3 368.4h0.8M189.9 367.5h0.8M191.7 364.1h0.8M190.2 367.6h0.8M192.3 349.7h0.8M185.3 373.2h0.8M192.4 349.4h0.8M190.0 361.8h0.8M191.6 370.7h0.8M193.4 353.1h0.8M194.0 348.3h0.8M182.4 374.1h0.8M187.0 371.7h0.8M190.1 353.2h0.8M194.6 365.2h0.8M197.0 348.1h0.8M185.7 372.7h0.8M192.9 367.1h0.8M192.5 357.6h0.8M186.6 371.2h0.8M198.8 361.0h0.8M180.4 374.5h0.8M187.0 372.9h0.8M193.3 363.4h0.8M191.2 355.3h0.8M196.6 354.4h0.8M195.1 368.0h0.8M177.1 376.0h0.8M191.3 355.0h0.8M190.2 359.8h0.8M192.3 364.9h0.8M177.4 374.9h0.8M191.1 364.1h0.8M193.4 357.4h0.8M194.9 369.1h0.8M188.2 370.5h0.8M193.6 366.2h0.8M194.9 364.7h0.8M191.7 369.3h0.8M195.2 348.5h0.8M188.0 371.9h0.8M192.3 365.7h0.8M179.0 373.5h0.8M191.8 357.9h0.8M177.3 375.9h0.8M184.0 373.1h0.8M187.2 371.2h0.8M192.0 353.0h0.8M193.0 362.7h0.8M193.7 353.0h0.8M193.6 361.8h0.8M191.8 357.3h0.8M183.9 351.8h0.8M191.9 357.7h0.8M194.7 366.2h0.8M191.2 356.6h0.8M195.4 350.4h0.8M191.8 360.3h0.8M194.1 349.4h0.8M192.1 349.0h0.8M191.9 354.4h0.8M193.3 353.0h0.8M191.1 357.3h0.8M191.7 351.7h0.8M192.5 360.6h0.8M178.7 374.8h0.8M191.6 371.1h0.8M188.5 371.2h0.8M184.2 374.1h0.8M178.2 375.0h0.8M179.7 375.0h0.8M188.0 354.4h0.8M191.9 355.6h0.8M192.8 348.5h0.8M192.9 348.9h0.8M192.8 350.9h0.8M193.6 359.9h0.8M177.7 375.4h0.8M194.9 350.2h0.8M197.0 360.2h0.8M192.5 357.2h0.8M174.2 376.0h0.8M180.9 374.1h0.8M192.3 358.9h0.8M192.4 351.9h0.8M192.1 353.9h0.8M191.8 350.8h0.8M193.5 360.0h0.8M190.5 367.9h0.8M184.3 373.2h0.8M190.9 355.7h0.8M194.6 363.0h0.8M193.2 364.2h0.8M191.5 362.3h0.8M182.4 373.5h0.8M191.7 358.0h0.8M189.8 365.0h0.8M181.2 374.9h0.8M196.7 355.3h0.8M192.7 355.9h0.8M190.1 351.4h0.8M185.6 372.5h0.8M192.1 363.3h0.8M188.6 362.0h0.8M193.6 369.3h0.8M190.3 355.6h0.8M182.6 375.8h0.8M180.8 374.4h0.8M195.9 352.3h0.8M193.0 368.1h0.8M187.2 351.2h0.8M195.2 358.5h0.8M193.1 357.6h0.8M179.9 375.4h0.8M195.0 351.4h0.8M180.1 374.3h0.8M190.9 366.5h0.8M194.5 362.9h0.8M194.5 355.5h0.8M190.9 358.7h0.8M193.7 349.2h0.8M188.3 371.5h0.8M196.2 365.0h0.8M193.6 350.0h0.8M187.4 372.5h0.8M194.6 358.5h0.8M181.4 374.4h0.8M186.8 372.0h0.8M192.6 366.3h0.8M194.2 358.1h0.8M193.4 358.3h0.8M190.0 369.3h0.8M193.4 363.4h0.8M184.3 374.0h0.8M193.5 363.4h0.8M182.1 372.3h0.8M194.4 368.6h0.8M192.5 349.6h0.8M191.0 363.6h0.8M193.4 367.2h0.8M192.0 352.0h0.8M191.9 360.1h0.8M191.7 364.6h0.8M192.9 360.5h0.8M196.3 356.0h0.8M181.3 374.1h0.8M196.7 367.1h0.8M190.9 358.6h0.8M193.5 350.0h0.8M194.4 368.9h0.8M193.3 363.9h0.8M192.8 349.5h0.8M193.8 359.7h0.8M191.0 351.3h0.8M192.8 367.6h0.8M192.6 352.3h0.8M182.0 375.3h0.8M191.4 354.5h0.8M195.2 349.0h0.8M191.2 361.6h0.8M193.8 367.4h0.8M190.2 357.7h0.8M193.0 357.8h0.8M194.7 362.0h0.8M190.5 370.4h0.8M193.0 361.0h0.8M193.9 350.3h0.8M193.9 356.5h0.8M193.1 365.3h0.8M192.2 367.8h0.8M194.0 363.6h0.8M194.6 363.7h0.8M193.3 363.4h0.8M192.9 354.7h0.8M191.7 354.4h0.8M195.6 366.0h0.8M193.8 354.0h0.8M172.7 377.0h0.8M184.4 376.3h0.8M175.9 378.4h0.8M170.9 373.5h0.8M165.4 376.2h0.8M170.2 377.9h0.8M174.2 375.2h0.8M168.0 374.5h0.8M167.4 376.2h0.8M166.1 375.4h0.8M178.7 377.7h0.8M174.9 379.8h0.8M182.0 375.4h0.8M181.2 377.9h0.8M173.5 376.2h0.8M180.0 379.7h0.8M173.4 377.3h0.8M166.1 375.5h0.8M165.8 375.9h0.8M178.3 378.9h0.8M177.1 378.1h0.8M170.0 376.7h0.8M182.2 375.9h0.8M175.2 376.1h0.8M167.6 376.1h0.8M164.8 378.2h0.8M175.1 374.5h0.8M180.8 373.4h0.8M172.0 380.0h0.8M179.3 374.0h0.8M174.6 378.9h0.8M175.6 377.9h0.8M176.1 374.0h0.8M175.7 377.6h0.8M178.6 377.2h0.8M182.8 374.7h0.8M164.7 378.2h0.8M170.8 378.2h0.8M166.9 379.3h0.8M169.4 376.9h0.8M177.6 376.9h0.8M174.4 375.0h0.8M181.3 375.5h0.8M164.6 378.3h0.8M173.8 379.7h0.8M176.5 375.4h0.8M173.6 376.3h0.8M167.9 376.1h0.8M177.3 376.9h0.8M170.2 377.7h0.8M169.7 378.6h0.8M169.3 378.1h0.8M163.4 377.6h0.8M162.7 377.3h0.8M174.4 379.6h0.8M175.8 376.8h0.8M178.9 374.2h0.8M182.0 374.8h0.8M172.6 378.7h0.8M177.4 375.2h0.8M168.6 374.4h0.8M165.2 375.4h0.8M173.1 376.9h0.8M182.5 375.2h0.8M169.5 375.6h0.8M169.1 379.0h0.8M174.1 377.8h0.8M166.0 376.9h0.8M181.2 377.5h0.8M182.0 377.5h0.8M188.5 374.1h0.8M170.0 345.8h0.8M165.1 368.1h0.8M175.8 369.5h0.8M170.5 371.7h0.8M190.6 376.1h0.8M180.7 365.9h0.8M169.1 369.8h0.8M180.8 372.9h0.8M169.0 360.8h0.8M165.2 358.2h0.8M185.9 378.5h0.8M170.7 361.2h0.8M173.3 358.3h0.8M188.7 379.4h0.8M195.1 349.3h0.8M190.1 349.3h0.8M183.2 359.1h0.8M168.5 376.0h0.8M192.7 366.8h0.8M180.4 353.3h0.8M190.5 364.7h0.8M194.8 349.0h0.8M195.5 365.6h0.8M163.0 370.0h0.8M197.2 367.4h0.8M187.6 355.5h0.8M186.3 367.3h0.8M172.5 350.9h0.8M187.9 367.4h0.8M174.4 363.8h0.8M190.9 365.6h0.8M184.9 358.3h0.8M169.2 374.4h0.8M167.8 372.5h0.8M166.9 377.9h0.8M197.4 369.3h0.8M163.1 379.5h0.8M196.2 358.7h0.8M195.1 379.0h0.8" stroke="#6a80f0" stroke-width="0.8" stroke-opacity="0.38"/>
<path d="M173.4 374.3h0.9M180.1 375.5h0.9M173.7 376.3h0.9M179.6 376.0h0.9M175.8 373.3h0.9M168.9 376.1h0.9M174.5 376.0h0.9M179.2 379.3h0.9M163.7 380.0h0.9M170.1 378.8h0.9M179.0 376.9h0.9M175.0 376.5h0.9M169.2 377.4h0.9M176.6 377.4h0.9M170.6 377.3h0.9M169.9 378.1h0.9M174.6 375.3h0.9M170.5 377.8h0.9M167.1 376.4h0.9M163.0 375.0h0.9M171.5 375.7h0.9M166.8 377.5h0.9M169.9 377.4h0.9M177.3 373.3h0.9M174.4 376.7h0.9M165.0 379.6h0.9M172.2 378.0h0.9M178.1 377.0h0.9M168.9 377.1h0.9M181.5 377.5h0.9M175.9 379.2h0.9M178.8 376.8h0.9M164.7 376.9h0.9M170.9 379.5h0.9M173.0 375.5h0.9M176.2 375.0h0.9M166.3 374.4h0.9M170.9 375.5h0.9M178.0 373.5h0.9M166.9 378.7h0.9M169.3 374.0h0.9M171.3 375.1h0.9M179.6 376.3h0.9" stroke="#30c060" stroke-width="0.9" stroke-opacity="0.55"/>
<path d="M193.6 351.1h0.9M191.9 349.8h0.9M191.2 352.4h0.9M196.1 351.4h0.9M189.0 350.8h0.9M194.0 353.8h0.9M193.6 352.9h0.9M193.3 353.4h0.9M194.3 346.1h0.9M193.6 348.8h0.9M189.6 352.4h0.9M192.0 351.0h0.9M193.2 353.2h0.9M190.5 351.3h0.9M187.7 350.6h0.9M188.8 351.0h0.9M190.0 351.2h0.9M193.4 354.3h0.9M192.0 349.2h0.9M194.8 352.0h0.9M191.1 351.6h0.9M195.3 347.7h0.9M192.3 352.0h0.9M193.1 352.9h0.9M189.5 351.6h0.9M193.6 354.4h0.9M193.2 352.0h0.9M193.8 350.9h0.9M189.7 350.2h0.9M195.2 348.0h0.9M189.2 352.8h0.9M193.7 345.5h0.9M195.7 351.4h0.9M189.6 351.1h0.9M190.3 352.2h0.9M194.2 347.8h0.9M189.3 348.0h0.9M189.7 351.9h0.9M193.4 351.7h0.9M194.0 352.4h0.9" stroke="#5068ea" stroke-width="0.9" stroke-opacity="0.4"/>
<line x1="181.2" y1="343.3" x2="181.2" y2="382.3" stroke="#8a8a8a" stroke-width="0.7" />
<line x1="160.9" y1="364.75" x2="201.5" y2="364.75" stroke="#8a8a8a" stroke-width="0.7" />
<text x="162.6" y="351.2" font-size="7.5" text-anchor="start" font-weight="bold" fill="#1c3fae" textLength="21.8" lengthAdjust="spacingAndGlyphs" stroke="#1c3fae" stroke-width="0.25">51.4%</text>
<text x="236.6" y="284.7" font-size="9.3" text-anchor="middle" font-weight="normal" fill="#111" textLength="27.7" lengthAdjust="spacingAndGlyphs" >DMSO</text>
<text x="286.6" y="284.7" font-size="9.3" text-anchor="middle" font-weight="normal" fill="#111" textLength="40" lengthAdjust="spacingAndGlyphs" >IB-0.1uM</text>
<text x="335.3" y="284.7" font-size="9.3" text-anchor="middle" font-weight="normal" fill="#111" textLength="45" lengthAdjust="spacingAndGlyphs" >KIN-0.1uM</text>
<text x="286.6" y="340.6" font-size="9.3" text-anchor="middle" font-weight="normal" fill="#111" textLength="40" lengthAdjust="spacingAndGlyphs" >IB-0.5uM</text>
<text x="335.3" y="340.6" font-size="9.3" text-anchor="middle" font-weight="normal" fill="#111" textLength="45" lengthAdjust="spacingAndGlyphs" >KIN-0.5uM</text>
<clipPath id="cp210"><rect x="215.8" y="287.6" width="40.6" height="39.4"/></clipPath>
<rect x="215.8" y="287.6" width="40.6" height="39.4" fill="#fff" stroke="#a8a8a8" stroke-width="0.6"/>
<line x1="214.2" y1="292.33" x2="215.8" y2="292.33" stroke="#888" stroke-width="0.5" />
<rect x="212.4" y="290.93" width="1.2" height="0.8" fill="#999"/>
<line x1="214.2" y1="300.21" x2="215.8" y2="300.21" stroke="#888" stroke-width="0.5" />
<rect x="212.4" y="298.81" width="1.2" height="0.8" fill="#999"/>
<line x1="214.2" y1="308.09" x2="215.8" y2="308.09" stroke="#888" stroke-width="0.5" />
<rect x="212.4" y="306.69" width="1.2" height="0.8" fill="#999"/>
<line x1="214.2" y1="315.97" x2="215.8" y2="315.97" stroke="#888" stroke-width="0.5" />
<rect x="212.4" y="314.57" width="1.2" height="0.8" fill="#999"/>
<line x1="214.2" y1="323.85" x2="215.8" y2="323.85" stroke="#888" stroke-width="0.5" />
<rect x="212.4" y="322.45" width="1.2" height="0.8" fill="#999"/>
<line x1="220.67" y1="327" x2="220.67" y2="328.6" stroke="#888" stroke-width="0.5" />
<rect x="220.37" y="329.2" width="1.2" height="0.8" fill="#999"/>
<line x1="231.63" y1="327" x2="231.63" y2="328.6" stroke="#888" stroke-width="0.5" />
<rect x="231.33" y="329.2" width="1.2" height="0.8" fill="#999"/>
<line x1="242.6" y1="327" x2="242.6" y2="328.6" stroke="#888" stroke-width="0.5" />
<rect x="242.3" y="329.2" width="1.2" height="0.8" fill="#999"/>
<line x1="253.56" y1="327" x2="253.56" y2="328.6" stroke="#888" stroke-width="0.5" />
<rect x="253.26" y="329.2" width="1.2" height="0.8" fill="#999"/>
<rect x="233.1" y="332" width="6" height="0.8" fill="#bbb"/>
<rect x="257.8" y="305.33" width="0.8" height="5" fill="#ccc"/>
<rect x="251.9" y="289.6" width="2.2" height="1.6" fill="#bbb"/>
<rect x="251.9" y="322.5" width="2.2" height="1.6" fill="#bbb"/>
<rect x="217.3" y="322.5" width="2.2" height="1.6" fill="#999"/>
<g clip-path="url(#cp210)"><g filter="url(#b1)">
<ellipse cx="226.76" cy="321.29" rx="11.37" ry="4.47" fill="#7088f2" fill-opacity="0.45" transform="rotate(0 226.76 321.29)"/>
<ellipse cx="225.95" cy="321.29" rx="8.53" ry="3.25" fill="#3cc4a0" fill-opacity="0.75" transform="rotate(0 225.95 321.29)"/>
<ellipse cx="225.14" cy="321.48" rx="6.09" ry="2.35" fill="#78d83a" fill-opacity="1" transform="rotate(0 225.14 321.48)"/>
<ellipse cx="224.33" cy="321.48" rx="3.25" ry="1.42" fill="#e6d020" fill-opacity="1" transform="rotate(0 224.33 321.48)"/>
<ellipse cx="223.92" cy="321.48" rx="1.22" ry="0.81" fill="#e05a10" fill-opacity="1" transform="rotate(0 223.92 321.48)"/>
<ellipse cx="236.1" cy="319.12" rx="4.06" ry="2.03" fill="#7088f2" fill-opacity="0.35" transform="rotate(-45 236.1 319.12)"/>
<ellipse cx="238.54" cy="307.3" rx="2.84" ry="12.18" fill="#7088f2" fill-opacity="0.24" transform="rotate(0 238.54 307.3)"/>
<ellipse cx="238.54" cy="319.12" rx="2.84" ry="2.03" fill="#40c080" fill-opacity="0.2" transform="rotate(0 238.54 319.12)"/>
<ellipse cx="238.54" cy="294.69" rx="2.44" ry="1.62" fill="#50b090" fill-opacity="0.07" transform="rotate(0 238.54 294.69)"/>
</g></g>
<path d="M237.3 309.8h0.8M235.8 309.2h0.8M238.3 315.9h0.8M234.0 319.6h0.8M233.7 316.8h0.8M238.7 296.6h0.8M236.6 317.2h0.8M239.2 309.0h0.8M236.4 316.8h0.8M236.8 292.4h0.8M240.3 312.7h0.8M238.7 298.6h0.8M238.8 296.8h0.8M234.7 320.5h0.8M236.1 302.4h0.8M233.1 320.3h0.8M233.2 320.1h0.8M237.8 292.7h0.8M240.7 301.6h0.8M242.4 298.7h0.8M243.1 305.3h0.8M238.0 298.5h0.8M238.5 297.2h0.8M236.2 310.7h0.8M237.5 305.7h0.8M240.2 300.6h0.8M239.8 297.0h0.8M239.7 303.6h0.8M241.6 304.5h0.8M238.8 316.3h0.8M237.9 292.7h0.8M232.1 303.5h0.8M234.5 303.1h0.8M239.7 298.7h0.8M230.6 320.2h0.8M240.5 296.0h0.8M238.0 305.5h0.8M239.6 316.4h0.8M234.0 319.9h0.8M235.4 316.2h0.8M236.6 314.5h0.8M237.2 303.2h0.8M239.4 296.9h0.8M239.1 300.3h0.8M239.4 300.0h0.8M239.0 299.6h0.8M241.0 296.0h0.8M232.8 320.1h0.8M239.2 304.1h0.8M238.2 296.1h0.8M239.0 317.2h0.8M238.6 295.3h0.8M241.9 307.7h0.8M240.9 312.3h0.8M239.4 303.2h0.8M238.6 293.3h0.8M234.5 307.6h0.8M241.2 310.4h0.8M237.1 304.2h0.8M239.9 308.9h0.8M235.8 318.6h0.8M239.2 301.9h0.8M241.7 299.4h0.8M237.3 307.7h0.8M240.0 300.9h0.8M239.8 314.4h0.8M241.5 301.4h0.8M237.3 306.6h0.8M242.1 294.0h0.8M240.2 295.4h0.8M238.9 302.6h0.8M241.3 310.3h0.8M240.4 293.2h0.8M238.7 310.6h0.8M232.5 317.0h0.8M239.0 314.9h0.8M241.2 297.4h0.8M239.0 302.3h0.8M237.2 298.9h0.8M239.6 304.4h0.8M237.7 293.0h0.8M238.5 308.5h0.8M239.4 313.8h0.8M238.1 308.8h0.8M237.4 301.8h0.8M237.4 294.7h0.8M237.4 311.9h0.8M231.3 317.8h0.8M238.3 309.7h0.8M237.0 314.2h0.8M241.7 306.9h0.8M230.3 320.3h0.8M234.0 318.1h0.8M235.4 317.2h0.8M233.1 321.7h0.8M220.6 319.5h0.8M220.6 322.2h0.8M224.1 321.6h0.8M229.4 320.8h0.8M231.7 324.1h0.8M228.2 324.3h0.8M218.7 323.9h0.8M230.1 320.2h0.8M221.6 321.6h0.8M226.4 322.3h0.8M231.4 321.9h0.8M234.7 325.0h0.8M224.2 320.3h0.8M232.3 323.4h0.8M235.1 320.4h0.8M226.9 322.6h0.8M227.5 320.6h0.8M225.8 319.8h0.8M219.4 324.5h0.8M225.0 322.4h0.8M230.4 319.5h0.8M226.5 323.6h0.8M227.9 319.5h0.8M233.4 321.3h0.8M220.4 320.5h0.8M225.2 320.8h0.8M231.6 325.8h0.8M225.6 319.1h0.8M231.0 324.4h0.8M226.3 321.7h0.8M231.7 325.3h0.8M220.1 319.9h0.8M227.3 320.9h0.8M223.6 321.2h0.8M223.5 318.6h0.8M229.5 320.0h0.8M235.4 317.5h0.8M229.3 320.8h0.8M225.4 322.7h0.8M230.5 320.0h0.8M228.3 319.8h0.8M236.1 318.8h0.8M232.5 321.7h0.8M227.3 320.7h0.8M232.9 320.1h0.8M227.8 320.8h0.8M232.6 319.4h0.8M231.3 322.0h0.8M216.9 319.7h0.8M234.1 320.3h0.8M232.5 325.3h0.8M227.9 321.1h0.8M230.9 322.8h0.8M228.3 319.2h0.8M222.6 322.1h0.8M236.6 319.1h0.8M227.9 320.3h0.8M220.6 320.2h0.8M229.7 320.2h0.8M225.4 324.2h0.8M222.6 319.7h0.8M222.9 320.2h0.8M223.9 318.3h0.8M235.8 320.2h0.8M232.8 322.3h0.8M233.3 321.6h0.8M229.4 318.0h0.8M227.0 324.2h0.8M235.1 323.0h0.8M252.5 321.0h0.8M218.8 291.4h0.8M231.6 303.0h0.8M234.4 300.9h0.8M244.2 320.7h0.8M234.9 306.6h0.8M254.2 300.6h0.8M251.4 300.3h0.8M238.7 308.7h0.8M246.6 303.5h0.8M226.7 310.0h0.8M239.8 303.2h0.8M221.9 291.7h0.8M247.7 324.5h0.8M220.5 301.8h0.8M219.6 290.2h0.8M234.9 298.0h0.8M251.5 290.7h0.8M239.3 293.2h0.8M220.9 290.0h0.8M246.7 320.5h0.8M234.5 295.6h0.8M241.9 302.1h0.8M243.8 292.2h0.8M244.3 321.0h0.8M218.0 313.3h0.8M251.8 321.2h0.8M250.7 290.3h0.8M231.1 295.5h0.8M226.2 302.4h0.8M234.1 320.0h0.8M227.6 322.7h0.8M243.4 295.8h0.8M245.4 321.9h0.8M226.4 322.1h0.8M244.5 298.6h0.8M238.9 293.9h0.8M250.0 311.3h0.8M240.2 304.3h0.8M244.6 315.3h0.8" stroke="#6a80f0" stroke-width="0.8" stroke-opacity="0.38"/>
<path d="M224.8 324.6h0.9M226.6 325.0h0.9M221.7 320.8h0.9M223.9 322.8h0.9M228.4 321.4h0.9M222.8 320.3h0.9M223.2 321.7h0.9M218.3 325.8h0.9M223.4 322.6h0.9M232.2 318.5h0.9M228.3 321.4h0.9M229.3 324.1h0.9M225.7 319.4h0.9M220.8 321.2h0.9M228.9 317.8h0.9M234.0 323.7h0.9M237.7 317.7h0.9M233.7 322.0h0.9M233.9 323.0h0.9M230.5 319.0h0.9M223.0 321.4h0.9M229.9 323.2h0.9M222.3 320.6h0.9M219.2 320.6h0.9M219.4 322.6h0.9M226.6 322.5h0.9M223.3 318.9h0.9M225.8 321.7h0.9M224.8 318.4h0.9M218.7 317.4h0.9M232.9 321.8h0.9M223.0 320.4h0.9M223.0 319.6h0.9M225.4 323.0h0.9M224.1 321.5h0.9M223.9 320.0h0.9M222.1 321.1h0.9M220.0 318.4h0.9M234.8 324.9h0.9M227.2 321.7h0.9M230.7 321.7h0.9" stroke="#30c060" stroke-width="0.9" stroke-opacity="0.55"/>
<path d="M237.3 293.5h0.9M238.7 294.9h0.9M242.9 293.4h0.9M236.1 295.4h0.9M240.2 296.7h0.9M238.3 293.9h0.9M240.3 296.2h0.9M238.9 296.8h0.9M238.1 295.9h0.9M237.6 291.8h0.9M238.8 291.5h0.9M242.1 295.0h0.9M236.3 296.4h0.9M240.4 295.7h0.9M238.2 295.8h0.9M240.8 296.3h0.9M237.7 292.1h0.9M239.5 294.6h0.9" stroke="#5068ea" stroke-width="0.9" stroke-opacity="0.4"/>
<line x1="233.26" y1="297.06" x2="233.26" y2="327" stroke="#8a8a8a" stroke-width="0.7" />
<text x="217.5" y="295.5" font-size="7.5" text-anchor="start" font-weight="bold" fill="#1c3fae" textLength="21.8" lengthAdjust="spacingAndGlyphs" stroke="#1c3fae" stroke-width="0.25">14.2%</text>
<clipPath id="cp211"><rect x="265.8" y="287.6" width="40.6" height="39.4"/></clipPath>
<rect x="265.8" y="287.6" width="40.6" height="39.4" fill="#fff" stroke="#a8a8a8" stroke-width="0.6"/>
<line x1="264.2" y1="292.33" x2="265.8" y2="292.33" stroke="#888" stroke-width="0.5" />
<rect x="262.4" y="290.93" width="1.2" height="0.8" fill="#999"/>
<line x1="264.2" y1="300.21" x2="265.8" y2="300.21" stroke="#888" stroke-width="0.5" />
<rect x="262.4" y="298.81" width="1.2" height="0.8" fill="#999"/>
<line x1="264.2" y1="308.09" x2="265.8" y2="308.09" stroke="#888" stroke-width="0.5" />
<rect x="262.4" y="306.69" width="1.2" height="0.8" fill="#999"/>
<line x1="264.2" y1="315.97" x2="265.8" y2="315.97" stroke="#888" stroke-width="0.5" />
<rect x="262.4" y="314.57" width="1.2" height="0.8" fill="#999"/>
<line x1="264.2" y1="323.85" x2="265.8" y2="323.85" stroke="#888" stroke-width="0.5" />
<rect x="262.4" y="322.45" width="1.2" height="0.8" fill="#999"/>
<line x1="270.67" y1="327" x2="270.67" y2="328.6" stroke="#888" stroke-width="0.5" />
<rect x="270.37" y="329.2" width="1.2" height="0.8" fill="#999"/>
<line x1="281.63" y1="327" x2="281.63" y2="328.6" stroke="#888" stroke-width="0.5" />
<rect x="281.33" y="329.2" width="1.2" height="0.8" fill="#999"/>
<line x1="292.6" y1="327" x2="292.6" y2="328.6" stroke="#888" stroke-width="0.5" />
<rect x="292.3" y="329.2" width="1.2" height="0.8" fill="#999"/>
<line x1="303.56" y1="327" x2="303.56" y2="328.6" stroke="#888" stroke-width="0.5" />
<rect x="303.26" y="329.2" width="1.2" height="0.8" fill="#999"/>
<rect x="283.1" y="332" width="6" height="0.8" fill="#bbb"/>
<rect x="307.8" y="305.33" width="0.8" height="5" fill="#ccc"/>
<rect x="301.9" y="289.6" width="2.2" height="1.6" fill="#bbb"/>
<rect x="301.9" y="322.5" width="2.2" height="1.6" fill="#bbb"/>
<rect x="267.3" y="322.5" width="2.2" height="1.6" fill="#999"/>
<g clip-path="url(#cp211)"><g filter="url(#b1)">
<ellipse cx="276.76" cy="321.29" rx="11.37" ry="4.47" fill="#7088f2" fill-opacity="0.45" transform="rotate(0 276.76 321.29)"/>
<ellipse cx="275.95" cy="321.29" rx="8.53" ry="3.25" fill="#3cc4a0" fill-opacity="0.75" transform="rotate(0 275.95 321.29)"/>
<ellipse cx="275.14" cy="321.48" rx="6.09" ry="2.35" fill="#78d83a" fill-opacity="1" transform="rotate(0 275.14 321.48)"/>
<ellipse cx="274.33" cy="321.48" rx="3.25" ry="1.42" fill="#e6d020" fill-opacity="1" transform="rotate(0 274.33 321.48)"/>
<ellipse cx="273.92" cy="321.48" rx="1.22" ry="0.81" fill="#e05a10" fill-opacity="1" transform="rotate(0 273.92 321.48)"/>
<ellipse cx="286.1" cy="319.12" rx="4.06" ry="2.03" fill="#7088f2" fill-opacity="0.35" transform="rotate(-45 286.1 319.12)"/>
<ellipse cx="288.85" cy="307.3" rx="2.84" ry="12.18" fill="#7088f2" fill-opacity="0.25" transform="rotate(0 288.85 307.3)"/>
<ellipse cx="288.85" cy="319.12" rx="2.84" ry="2.03" fill="#40c080" fill-opacity="0.23" transform="rotate(0 288.85 319.12)"/>
<ellipse cx="288.85" cy="294.69" rx="2.44" ry="1.62" fill="#50b090" fill-opacity="0.1" transform="rotate(0 288.85 294.69)"/>
</g></g>
<path d="M289.2 304.7h0.8M289.2 295.6h0.8M287.1 302.8h0.8M285.8 311.0h0.8M289.0 298.0h0.8M288.4 300.6h0.8M290.9 303.8h0.8M285.9 302.0h0.8M290.4 303.4h0.8M286.3 316.0h0.8M286.9 302.1h0.8M284.8 300.4h0.8M290.1 305.4h0.8M288.0 313.8h0.8M289.1 292.9h0.8M286.4 305.9h0.8M283.3 318.9h0.8M289.8 313.6h0.8M292.1 307.3h0.8M288.5 316.7h0.8M281.3 320.6h0.8M288.0 314.5h0.8M286.9 300.1h0.8M286.7 293.2h0.8M287.1 312.9h0.8M288.4 313.7h0.8M287.5 313.0h0.8M291.2 301.2h0.8M290.3 293.0h0.8M288.2 313.8h0.8M291.9 294.5h0.8M287.1 314.4h0.8M289.3 318.8h0.8M290.5 298.8h0.8M288.0 304.5h0.8M287.8 306.2h0.8M287.5 314.6h0.8M286.5 304.0h0.8M286.0 317.2h0.8M289.5 299.0h0.8M287.7 294.5h0.8M286.3 309.4h0.8M290.0 307.0h0.8M287.5 319.9h0.8M290.5 298.3h0.8M288.4 302.7h0.8M289.8 308.2h0.8M288.1 305.1h0.8M288.2 306.0h0.8M290.5 313.2h0.8M287.2 305.0h0.8M282.3 318.8h0.8M288.6 294.4h0.8M288.0 295.0h0.8M291.5 293.6h0.8M288.0 316.3h0.8M288.4 299.2h0.8M288.5 303.7h0.8M287.9 296.1h0.8M286.1 315.7h0.8M281.2 319.8h0.8M292.1 309.6h0.8M290.2 317.6h0.8M292.5 292.7h0.8M284.4 318.9h0.8M289.0 296.0h0.8M285.3 307.5h0.8M290.2 302.9h0.8M285.7 304.1h0.8M289.9 298.5h0.8M291.5 303.1h0.8M290.5 294.0h0.8M292.0 309.3h0.8M290.4 299.3h0.8M288.6 306.6h0.8M289.4 294.9h0.8M289.2 307.9h0.8M289.7 294.4h0.8M290.0 314.9h0.8M288.6 300.4h0.8M284.9 319.0h0.8M286.7 303.0h0.8M289.0 310.5h0.8M292.6 307.5h0.8M289.0 299.5h0.8M282.0 319.4h0.8M288.9 312.2h0.8M291.0 296.3h0.8M288.9 309.2h0.8M289.1 308.1h0.8M288.0 311.2h0.8M286.2 302.3h0.8M291.4 299.6h0.8M285.7 316.8h0.8M288.2 313.3h0.8M290.9 315.9h0.8M291.2 302.6h0.8M287.6 301.8h0.8M288.4 319.0h0.8M272.8 320.7h0.8M278.2 321.0h0.8M276.3 323.9h0.8M283.5 319.7h0.8M273.8 319.8h0.8M283.5 320.7h0.8M285.2 320.7h0.8M274.4 322.7h0.8M280.5 320.4h0.8M276.2 322.2h0.8M275.0 320.4h0.8M280.7 321.5h0.8M281.6 322.2h0.8M272.7 321.5h0.8M274.7 320.6h0.8M273.6 323.5h0.8M268.9 321.2h0.8M285.6 321.4h0.8M283.5 318.6h0.8M272.1 318.7h0.8M276.1 324.1h0.8M279.5 319.6h0.8M284.9 319.2h0.8M273.8 325.0h0.8M279.4 322.4h0.8M281.8 321.0h0.8M282.9 318.1h0.8M275.0 321.6h0.8M280.5 319.1h0.8M281.0 321.7h0.8M282.0 323.1h0.8M286.5 321.8h0.8M284.1 323.2h0.8M272.4 324.9h0.8M274.8 320.1h0.8M270.9 321.7h0.8M283.0 322.3h0.8M279.2 319.5h0.8M277.1 320.8h0.8M283.2 318.6h0.8M281.3 320.6h0.8M279.2 324.0h0.8M277.6 323.2h0.8M277.2 317.3h0.8M279.7 319.8h0.8M273.6 320.9h0.8M274.8 319.7h0.8M270.8 318.5h0.8M272.1 321.4h0.8M274.1 322.8h0.8M277.8 319.6h0.8M277.2 321.0h0.8M281.6 325.7h0.8M275.5 324.5h0.8M281.4 325.5h0.8M269.7 325.3h0.8M286.3 322.5h0.8M274.3 323.2h0.8M279.2 320.1h0.8M274.3 320.8h0.8M286.6 321.1h0.8M275.2 320.0h0.8M286.6 321.2h0.8M279.3 323.2h0.8M286.5 322.2h0.8M284.7 320.9h0.8M281.5 323.9h0.8M275.1 318.8h0.8M283.4 321.2h0.8M290.8 304.9h0.8M273.5 321.4h0.8M292.5 293.7h0.8M298.2 322.7h0.8M280.3 295.4h0.8M268.4 304.2h0.8M282.1 290.2h0.8M269.5 306.6h0.8M285.0 321.2h0.8M287.1 303.5h0.8M304.1 306.8h0.8M295.8 321.0h0.8M274.5 318.5h0.8M304.3 319.5h0.8M269.0 293.0h0.8M282.0 317.6h0.8M271.9 291.8h0.8M289.6 300.7h0.8M270.1 309.1h0.8M272.4 312.7h0.8M299.6 312.8h0.8M299.8 319.3h0.8M293.6 317.1h0.8M299.3 302.3h0.8M277.6 318.6h0.8M274.3 319.2h0.8M270.1 315.9h0.8M289.9 302.2h0.8M281.8 313.5h0.8M280.1 301.7h0.8M269.2 314.3h0.8M294.2 290.6h0.8M273.2 292.0h0.8M302.1 318.3h0.8M278.2 324.3h0.8M270.8 306.2h0.8M301.6 324.5h0.8M285.0 296.5h0.8M280.1 318.0h0.8M294.2 319.0h0.8" stroke="#6a80f0" stroke-width="0.8" stroke-opacity="0.38"/>
<path d="M271.0 319.6h0.9M275.6 323.8h0.9M281.9 320.3h0.9M269.1 322.2h0.9M281.4 324.4h0.9M273.9 321.1h0.9M278.9 320.0h0.9M270.8 317.6h0.9M273.9 321.7h0.9M269.4 323.0h0.9M281.4 321.0h0.9M276.2 323.6h0.9M267.3 319.6h0.9M274.3 324.0h0.9M276.3 323.1h0.9M273.5 320.5h0.9M282.0 320.3h0.9M275.3 321.8h0.9M284.9 324.2h0.9M277.9 321.5h0.9M273.6 319.6h0.9M281.6 324.8h0.9M284.2 321.5h0.9M275.4 320.3h0.9M278.4 319.8h0.9M287.5 323.1h0.9M271.0 325.1h0.9M273.5 320.1h0.9M277.0 322.9h0.9M271.5 319.7h0.9M272.0 323.1h0.9M272.9 319.4h0.9M276.9 322.5h0.9M273.9 322.7h0.9M281.4 321.5h0.9M270.9 319.2h0.9M272.9 318.5h0.9M281.1 320.2h0.9M281.6 319.0h0.9M275.5 321.4h0.9" stroke="#30c060" stroke-width="0.9" stroke-opacity="0.55"/>
<path d="M282.4 296.7h0.9M289.6 294.2h0.9M287.7 296.2h0.9M290.0 294.5h0.9M286.5 295.1h0.9M287.6 293.8h0.9M287.2 291.7h0.9M289.9 294.2h0.9M290.0 296.9h0.9M290.4 294.5h0.9M286.9 295.4h0.9M288.7 293.2h0.9M285.8 292.9h0.9M289.9 293.6h0.9M290.7 292.7h0.9M283.9 298.0h0.9M291.6 293.0h0.9M289.0 294.1h0.9M290.8 294.5h0.9" stroke="#5068ea" stroke-width="0.9" stroke-opacity="0.4"/>
<line x1="283.26" y1="297.06" x2="283.26" y2="327" stroke="#8a8a8a" stroke-width="0.7" />
<text x="267.5" y="295.5" font-size="7.5" text-anchor="start" font-weight="bold" fill="#1c3fae" textLength="21.8" lengthAdjust="spacingAndGlyphs" stroke="#1c3fae" stroke-width="0.25">16.3%</text>
<clipPath id="cp212"><rect x="314.5" y="287.6" width="40.6" height="39.4"/></clipPath>
<rect x="314.5" y="287.6" width="40.6" height="39.4" fill="#fff" stroke="#a8a8a8" stroke-width="0.6"/>
<line x1="312.9" y1="292.33" x2="314.5" y2="292.33" stroke="#888" stroke-width="0.5" />
<rect x="311.1" y="290.93" width="1.2" height="0.8" fill="#999"/>
<line x1="312.9" y1="300.21" x2="314.5" y2="300.21" stroke="#888" stroke-width="0.5" />
<rect x="311.1" y="298.81" width="1.2" height="0.8" fill="#999"/>
<line x1="312.9" y1="308.09" x2="314.5" y2="308.09" stroke="#888" stroke-width="0.5" />
<rect x="311.1" y="306.69" width="1.2" height="0.8" fill="#999"/>
<line x1="312.9" y1="315.97" x2="314.5" y2="315.97" stroke="#888" stroke-width="0.5" />
<rect x="311.1" y="314.57" width="1.2" height="0.8" fill="#999"/>
<line x1="312.9" y1="323.85" x2="314.5" y2="323.85" stroke="#888" stroke-width="0.5" />
<rect x="311.1" y="322.45" width="1.2" height="0.8" fill="#999"/>
<line x1="319.37" y1="327" x2="319.37" y2="328.6" stroke="#888" stroke-width="0.5" />
<rect x="319.07" y="329.2" width="1.2" height="0.8" fill="#999"/>
<line x1="330.33" y1="327" x2="330.33" y2="328.6" stroke="#888" stroke-width="0.5" />
<rect x="330.03" y="329.2" width="1.2" height="0.8" fill="#999"/>
<line x1="341.3" y1="327" x2="341.3" y2="328.6" stroke="#888" stroke-width="0.5" />
<rect x="341" y="329.2" width="1.2" height="0.8" fill="#999"/>
<line x1="352.26" y1="327" x2="352.26" y2="328.6" stroke="#888" stroke-width="0.5" />
<rect x="351.96" y="329.2" width="1.2" height="0.8" fill="#999"/>
<rect x="331.8" y="332" width="6" height="0.8" fill="#bbb"/>
<rect x="356.5" y="305.33" width="0.8" height="5" fill="#ccc"/>
<rect x="350.6" y="289.6" width="2.2" height="1.6" fill="#bbb"/>
<rect x="350.6" y="322.5" width="2.2" height="1.6" fill="#bbb"/>
<rect x="316" y="322.5" width="2.2" height="1.6" fill="#999"/>
<g clip-path="url(#cp212)"><g filter="url(#b1)">
<ellipse cx="325.46" cy="321.29" rx="11.37" ry="4.47" fill="#7088f2" fill-opacity="0.45" transform="rotate(0 325.46 321.29)"/>
<ellipse cx="324.65" cy="321.29" rx="8.53" ry="3.25" fill="#3cc4a0" fill-opacity="0.75" transform="rotate(0 324.65 321.29)"/>
<ellipse cx="323.84" cy="321.48" rx="6.09" ry="2.35" fill="#78d83a" fill-opacity="1" transform="rotate(0 323.84 321.48)"/>
<ellipse cx="323.03" cy="321.48" rx="3.25" ry="1.42" fill="#e6d020" fill-opacity="1" transform="rotate(0 323.03 321.48)"/>
<ellipse cx="322.62" cy="321.48" rx="1.22" ry="0.81" fill="#e05a10" fill-opacity="1" transform="rotate(0 322.62 321.48)"/>
<ellipse cx="334.8" cy="319.12" rx="4.06" ry="2.03" fill="#7088f2" fill-opacity="0.35" transform="rotate(-45 334.8 319.12)"/>
<ellipse cx="345.08" cy="307.3" rx="2.84" ry="12.18" fill="#7088f2" fill-opacity="0.34" transform="rotate(0 345.08 307.3)"/>
<ellipse cx="345.08" cy="319.12" rx="2.84" ry="2.03" fill="#40c080" fill-opacity="0.66" transform="rotate(0 345.08 319.12)"/>
<ellipse cx="345.08" cy="306.12" rx="2.03" ry="1.83" fill="#40c080" fill-opacity="0.37" transform="rotate(0 345.08 306.12)"/>
<ellipse cx="345.08" cy="294.69" rx="2.44" ry="1.62" fill="#50b090" fill-opacity="0.47" transform="rotate(0 345.08 294.69)"/>
</g></g>
<path d="M348.4 309.5h0.8M334.4 319.0h0.8M345.8 304.9h0.8M346.3 297.3h0.8M343.1 292.7h0.8M338.5 316.9h0.8M336.2 318.1h0.8M346.5 298.7h0.8M339.6 316.1h0.8M342.3 315.2h0.8M343.5 311.0h0.8M345.3 305.1h0.8M346.9 303.6h0.8M339.1 317.9h0.8M347.4 302.1h0.8M341.4 295.8h0.8M348.4 304.0h0.8M344.5 301.9h0.8M336.1 319.1h0.8M346.3 295.3h0.8M346.9 295.2h0.8M340.0 315.2h0.8M346.6 310.1h0.8M345.3 295.8h0.8M344.0 303.3h0.8M344.7 313.0h0.8M345.3 313.6h0.8M344.7 310.1h0.8M345.4 302.2h0.8M347.2 292.3h0.8M347.8 312.0h0.8M345.4 300.4h0.8M343.2 309.7h0.8M345.2 297.5h0.8M335.2 317.5h0.8M347.6 295.3h0.8M336.6 318.5h0.8M344.9 311.8h0.8M346.6 309.7h0.8M340.1 318.3h0.8M341.8 310.3h0.8M334.7 319.4h0.8M345.6 304.0h0.8M345.1 309.4h0.8M347.3 293.7h0.8M346.5 304.4h0.8M344.4 299.9h0.8M345.4 296.9h0.8M347.0 299.8h0.8M335.2 319.6h0.8M346.9 293.8h0.8M342.7 306.7h0.8M333.7 319.3h0.8M346.9 304.0h0.8M343.9 299.5h0.8M343.1 305.7h0.8M343.2 309.2h0.8M344.3 298.2h0.8M347.1 296.0h0.8M343.6 301.3h0.8M343.4 305.6h0.8M344.2 312.6h0.8M346.9 311.0h0.8M343.3 300.1h0.8M347.8 305.1h0.8M341.6 293.6h0.8M343.9 302.4h0.8M335.3 318.2h0.8M335.7 318.7h0.8M332.1 318.0h0.8M341.5 316.0h0.8M349.3 312.9h0.8M351.9 299.3h0.8M348.4 308.4h0.8M345.2 300.8h0.8M343.6 307.8h0.8M344.3 296.5h0.8M337.2 319.1h0.8M332.5 318.0h0.8M343.2 314.6h0.8M340.4 316.1h0.8M344.2 300.7h0.8M346.3 309.6h0.8M347.4 311.6h0.8M347.6 299.2h0.8M344.6 305.0h0.8M341.8 309.7h0.8M350.1 303.8h0.8M345.1 305.2h0.8M341.9 313.1h0.8M348.2 308.0h0.8M342.8 300.9h0.8M333.5 320.7h0.8M344.1 294.4h0.8M336.3 316.8h0.8M340.8 314.3h0.8M348.3 309.2h0.8M333.1 320.4h0.8M344.1 306.9h0.8M346.0 294.8h0.8M345.9 293.7h0.8M341.8 316.8h0.8M335.4 318.5h0.8M346.3 310.2h0.8M347.7 308.9h0.8M347.1 301.5h0.8M344.6 304.2h0.8M344.0 306.2h0.8M348.0 310.1h0.8M344.8 309.4h0.8M347.1 312.9h0.8M332.3 319.5h0.8M343.1 309.5h0.8M342.6 310.0h0.8M347.5 304.2h0.8M335.2 319.3h0.8M344.4 312.1h0.8M345.1 297.2h0.8M345.3 303.6h0.8M342.0 317.8h0.8M345.0 303.6h0.8M344.9 314.5h0.8M345.0 299.8h0.8M344.3 312.5h0.8M344.9 296.4h0.8M347.6 300.5h0.8M343.7 307.6h0.8M332.9 320.6h0.8M348.0 307.4h0.8M345.5 295.0h0.8M344.4 297.9h0.8M344.4 315.2h0.8M336.1 318.7h0.8M349.0 298.4h0.8M346.7 296.4h0.8M346.5 310.8h0.8M343.1 314.6h0.8M349.3 299.8h0.8M348.0 294.5h0.8M336.9 318.1h0.8M346.3 297.5h0.8M336.5 318.7h0.8M347.1 302.0h0.8M343.3 303.1h0.8M342.9 313.4h0.8M347.4 299.3h0.8M346.0 302.0h0.8M347.1 312.2h0.8M345.6 309.0h0.8M343.3 305.9h0.8M344.1 303.9h0.8M345.4 295.8h0.8M344.4 312.2h0.8M346.5 296.9h0.8M347.1 302.0h0.8M348.2 299.8h0.8M348.0 310.9h0.8M349.3 295.3h0.8M347.3 304.6h0.8M329.9 320.6h0.8M343.5 299.1h0.8M343.0 300.1h0.8M340.1 314.6h0.8M345.8 296.1h0.8M347.5 293.9h0.8M345.2 311.2h0.8M346.6 296.6h0.8M337.3 318.8h0.8M345.2 293.1h0.8M342.4 294.4h0.8M341.8 312.3h0.8M342.2 293.0h0.8M346.2 293.0h0.8M322.1 320.2h0.8M323.8 319.5h0.8M319.1 322.3h0.8M328.2 320.2h0.8M323.3 321.7h0.8M330.3 320.2h0.8M332.0 321.9h0.8M320.2 321.4h0.8M333.6 322.3h0.8M328.0 322.1h0.8M335.9 318.9h0.8M326.2 325.1h0.8M321.3 321.1h0.8M327.0 321.9h0.8M320.1 322.9h0.8M325.6 322.0h0.8M322.6 321.6h0.8M327.9 325.1h0.8M319.3 319.9h0.8M332.4 322.8h0.8M333.6 320.6h0.8M319.4 321.5h0.8M331.9 321.5h0.8M321.8 321.6h0.8M319.6 320.5h0.8M332.4 321.1h0.8M320.9 315.2h0.8M321.9 317.7h0.8M321.4 321.3h0.8M323.4 322.3h0.8M335.4 321.1h0.8M322.1 322.3h0.8M331.1 324.3h0.8M331.3 322.2h0.8M329.7 322.3h0.8M325.3 324.0h0.8M321.4 320.4h0.8M333.7 322.5h0.8M333.6 322.0h0.8M319.4 318.5h0.8M315.7 322.5h0.8M322.6 321.9h0.8M333.8 322.1h0.8M319.2 322.9h0.8M330.6 317.9h0.8M319.0 321.9h0.8M325.6 318.0h0.8M323.9 320.8h0.8M325.6 320.1h0.8M336.9 318.4h0.8M327.0 321.6h0.8M317.9 321.3h0.8M329.8 317.7h0.8M334.1 319.7h0.8M329.2 320.4h0.8M320.3 322.4h0.8M321.2 323.5h0.8M335.5 323.5h0.8M321.0 323.4h0.8M333.7 322.9h0.8M326.6 325.4h0.8M320.3 319.7h0.8M330.4 319.5h0.8M327.4 320.9h0.8M328.8 322.6h0.8M322.8 323.8h0.8M327.0 320.5h0.8M332.8 324.2h0.8M330.2 319.5h0.8M328.1 321.0h0.8M349.6 298.6h0.8M339.1 300.3h0.8M332.4 321.5h0.8M346.9 308.3h0.8M322.1 317.6h0.8M348.3 307.6h0.8M331.5 320.3h0.8M320.6 318.6h0.8M335.7 317.5h0.8M335.0 321.4h0.8M321.1 299.5h0.8M345.2 304.4h0.8M336.5 318.9h0.8M347.8 293.0h0.8M348.3 310.0h0.8M343.8 299.5h0.8M343.8 323.2h0.8M322.0 300.9h0.8M341.9 296.1h0.8M326.9 304.8h0.8M345.4 322.0h0.8M324.1 296.9h0.8M326.1 311.1h0.8M331.1 313.0h0.8M327.3 324.6h0.8M337.4 291.9h0.8M336.3 312.4h0.8M322.0 302.2h0.8M349.1 323.2h0.8M337.5 314.8h0.8M318.5 305.1h0.8M319.3 316.7h0.8M343.0 297.0h0.8M337.9 324.7h0.8M319.0 302.7h0.8M324.8 301.8h0.8M332.0 294.6h0.8M337.5 321.9h0.8M338.9 314.3h0.8M323.2 313.6h0.8" stroke="#6a80f0" stroke-width="0.8" stroke-opacity="0.38"/>
<path d="M324.7 317.7h0.9M327.6 322.0h0.9M323.9 320.6h0.9M329.7 319.7h0.9M328.8 320.6h0.9M323.7 320.9h0.9M321.7 321.1h0.9M320.2 318.7h0.9M333.4 322.8h0.9M328.1 321.9h0.9M318.2 319.8h0.9M317.8 322.1h0.9M319.4 322.2h0.9M330.7 322.4h0.9M325.6 321.3h0.9M335.9 321.9h0.9M326.4 320.9h0.9M325.9 323.0h0.9M324.5 320.8h0.9M324.1 324.8h0.9M324.0 321.8h0.9M324.3 320.7h0.9M329.2 323.6h0.9M329.4 324.4h0.9M321.2 322.0h0.9M334.3 322.3h0.9M324.1 321.3h0.9M327.8 322.1h0.9M329.6 320.6h0.9M330.5 323.7h0.9M323.7 321.8h0.9M330.3 319.8h0.9M328.7 321.1h0.9M330.8 319.9h0.9M323.7 323.3h0.9M322.6 322.3h0.9M325.3 317.9h0.9M320.0 318.6h0.9M324.8 321.6h0.9M320.4 321.6h0.9M329.8 320.2h0.9M328.4 323.7h0.9M331.7 323.5h0.9M323.0 321.1h0.9" stroke="#30c060" stroke-width="0.9" stroke-opacity="0.55"/>
<path d="M348.8 291.9h0.9M345.3 292.4h0.9M349.0 296.7h0.9M343.9 295.5h0.9M344.9 294.2h0.9M345.4 298.7h0.9M346.3 292.8h0.9M345.1 296.1h0.9M343.8 296.8h0.9M350.1 294.8h0.9M349.0 294.4h0.9M346.4 293.2h0.9M347.1 295.2h0.9M345.6 293.8h0.9M344.6 295.4h0.9M349.5 298.2h0.9M344.5 295.8h0.9M342.6 293.2h0.9M343.1 298.5h0.9M341.0 294.6h0.9M338.8 292.6h0.9M350.7 293.3h0.9M344.1 297.0h0.9M339.6 291.1h0.9M343.7 297.2h0.9M342.3 294.8h0.9M347.1 294.7h0.9M343.5 293.6h0.9M344.2 295.6h0.9M345.9 294.5h0.9M344.1 292.5h0.9M347.6 295.4h0.9M348.3 297.8h0.9M342.7 293.6h0.9M343.2 294.2h0.9M342.0 292.7h0.9M345.6 294.3h0.9M348.1 294.5h0.9" stroke="#5068ea" stroke-width="0.9" stroke-opacity="0.4"/>
<line x1="331.96" y1="297.06" x2="331.96" y2="327" stroke="#8a8a8a" stroke-width="0.7" />
<text x="316.2" y="295.5" font-size="7.5" text-anchor="start" font-weight="bold" fill="#1c3fae" textLength="21.8" lengthAdjust="spacingAndGlyphs" stroke="#1c3fae" stroke-width="0.25">47.2%</text>
<clipPath id="cp215"><rect x="265.8" y="343.3" width="40.6" height="39"/></clipPath>
<rect x="265.8" y="343.3" width="40.6" height="39" fill="#fff" stroke="#a8a8a8" stroke-width="0.6"/>
<line x1="264.2" y1="347.98" x2="265.8" y2="347.98" stroke="#888" stroke-width="0.5" />
<rect x="262.4" y="346.58" width="1.2" height="0.8" fill="#999"/>
<line x1="264.2" y1="355.78" x2="265.8" y2="355.78" stroke="#888" stroke-width="0.5" />
<rect x="262.4" y="354.38" width="1.2" height="0.8" fill="#999"/>
<line x1="264.2" y1="363.58" x2="265.8" y2="363.58" stroke="#888" stroke-width="0.5" />
<rect x="262.4" y="362.18" width="1.2" height="0.8" fill="#999"/>
<line x1="264.2" y1="371.38" x2="265.8" y2="371.38" stroke="#888" stroke-width="0.5" />
<rect x="262.4" y="369.98" width="1.2" height="0.8" fill="#999"/>
<line x1="264.2" y1="379.18" x2="265.8" y2="379.18" stroke="#888" stroke-width="0.5" />
<rect x="262.4" y="377.78" width="1.2" height="0.8" fill="#999"/>
<line x1="270.67" y1="382.3" x2="270.67" y2="383.9" stroke="#888" stroke-width="0.5" />
<rect x="270.37" y="384.5" width="1.2" height="0.8" fill="#999"/>
<line x1="281.63" y1="382.3" x2="281.63" y2="383.9" stroke="#888" stroke-width="0.5" />
<rect x="281.33" y="384.5" width="1.2" height="0.8" fill="#999"/>
<line x1="292.6" y1="382.3" x2="292.6" y2="383.9" stroke="#888" stroke-width="0.5" />
<rect x="292.3" y="384.5" width="1.2" height="0.8" fill="#999"/>
<line x1="303.56" y1="382.3" x2="303.56" y2="383.9" stroke="#888" stroke-width="0.5" />
<rect x="303.26" y="384.5" width="1.2" height="0.8" fill="#999"/>
<rect x="283.1" y="387.3" width="6" height="0.8" fill="#bbb"/>
<rect x="307.8" y="360.85" width="0.8" height="5" fill="#ccc"/>
<rect x="301.9" y="345.3" width="2.2" height="1.6" fill="#bbb"/>
<rect x="301.9" y="377.8" width="2.2" height="1.6" fill="#bbb"/>
<rect x="267.3" y="377.8" width="2.2" height="1.6" fill="#999"/>
<g clip-path="url(#cp215)"><g filter="url(#b1)">
<ellipse cx="276.76" cy="376.64" rx="11.37" ry="4.47" fill="#7088f2" fill-opacity="0.45" transform="rotate(0 276.76 376.64)"/>
<ellipse cx="275.95" cy="376.64" rx="8.53" ry="3.25" fill="#3cc4a0" fill-opacity="0.75" transform="rotate(0 275.95 376.64)"/>
<ellipse cx="275.14" cy="376.84" rx="6.09" ry="2.35" fill="#78d83a" fill-opacity="1" transform="rotate(0 275.14 376.84)"/>
<ellipse cx="274.33" cy="376.84" rx="3.25" ry="1.42" fill="#e6d020" fill-opacity="1" transform="rotate(0 274.33 376.84)"/>
<ellipse cx="273.92" cy="376.84" rx="1.22" ry="0.81" fill="#e05a10" fill-opacity="1" transform="rotate(0 273.92 376.84)"/>
<ellipse cx="286.1" cy="374.5" rx="4.06" ry="2.03" fill="#7088f2" fill-opacity="0.35" transform="rotate(-45 286.1 374.5)"/>
<ellipse cx="289.07" cy="362.8" rx="2.84" ry="12.18" fill="#7088f2" fill-opacity="0.25" transform="rotate(0 289.07 362.8)"/>
<ellipse cx="289.07" cy="374.5" rx="2.84" ry="2.03" fill="#40c080" fill-opacity="0.24" transform="rotate(0 289.07 374.5)"/>
<ellipse cx="289.07" cy="350.32" rx="2.44" ry="1.62" fill="#50b090" fill-opacity="0.11" transform="rotate(0 289.07 350.32)"/>
</g></g>
<path d="M284.8 374.8h0.8M288.7 368.0h0.8M286.9 373.7h0.8M290.1 357.1h0.8M286.6 353.3h0.8M287.0 368.8h0.8M286.9 372.7h0.8M285.7 363.9h0.8M284.1 371.8h0.8M290.3 364.5h0.8M286.9 364.5h0.8M286.5 362.6h0.8M291.7 366.9h0.8M287.7 371.7h0.8M290.6 367.2h0.8M290.1 354.8h0.8M290.2 368.9h0.8M288.9 360.1h0.8M280.6 375.7h0.8M282.9 360.1h0.8M287.1 359.8h0.8M289.3 361.2h0.8M289.6 361.0h0.8M289.2 354.4h0.8M283.8 354.3h0.8M290.1 348.4h0.8M287.3 371.5h0.8M290.0 365.8h0.8M291.0 360.9h0.8M280.5 374.8h0.8M288.3 353.5h0.8M291.8 361.6h0.8M288.3 369.3h0.8M286.7 374.4h0.8M289.1 372.4h0.8M291.4 355.1h0.8M292.7 366.9h0.8M288.0 371.2h0.8M285.7 372.6h0.8M287.0 363.0h0.8M290.3 352.0h0.8M291.5 368.4h0.8M289.9 349.3h0.8M289.4 365.8h0.8M284.2 373.3h0.8M288.9 370.1h0.8M291.2 358.2h0.8M289.4 364.3h0.8M281.9 374.2h0.8M292.4 354.5h0.8M295.4 349.9h0.8M289.6 370.8h0.8M286.4 370.3h0.8M287.1 358.7h0.8M290.4 359.5h0.8M286.0 371.6h0.8M288.7 354.8h0.8M289.3 368.5h0.8M287.9 354.2h0.8M291.0 356.0h0.8M286.0 371.0h0.8M288.6 356.0h0.8M287.2 371.3h0.8M288.0 369.4h0.8M287.9 351.6h0.8M288.8 359.4h0.8M288.4 357.1h0.8M284.9 374.0h0.8M289.9 369.9h0.8M292.4 366.8h0.8M289.5 352.6h0.8M282.9 374.7h0.8M289.9 367.1h0.8M286.4 353.0h0.8M289.1 351.3h0.8M293.0 355.8h0.8M288.1 358.1h0.8M291.6 355.4h0.8M288.4 359.1h0.8M288.6 356.3h0.8M286.0 357.1h0.8M286.7 354.0h0.8M287.6 358.0h0.8M288.6 350.1h0.8M285.3 375.1h0.8M289.8 360.3h0.8M290.1 369.5h0.8M293.3 351.8h0.8M286.8 357.3h0.8M288.4 352.9h0.8M288.5 363.5h0.8M286.5 372.2h0.8M287.8 348.0h0.8M294.3 366.7h0.8M291.4 358.8h0.8M286.0 369.1h0.8M289.5 356.9h0.8M285.0 370.2h0.8M281.7 375.9h0.8M288.5 352.5h0.8M288.7 365.3h0.8M270.5 377.3h0.8M279.7 378.6h0.8M275.7 376.0h0.8M272.8 376.8h0.8M285.0 375.8h0.8M275.2 378.2h0.8M277.5 376.4h0.8M279.1 374.2h0.8M277.7 376.0h0.8M285.2 376.1h0.8M273.9 377.1h0.8M277.5 375.7h0.8M272.0 376.1h0.8M280.2 378.2h0.8M273.9 377.4h0.8M272.8 380.3h0.8M280.2 376.3h0.8M272.9 377.6h0.8M275.7 379.3h0.8M283.2 376.7h0.8M275.5 375.6h0.8M278.8 378.6h0.8M270.5 376.4h0.8M276.0 375.5h0.8M280.4 380.1h0.8M277.3 373.3h0.8M286.7 371.5h0.8M285.4 375.4h0.8M278.1 378.2h0.8M284.5 377.3h0.8M269.7 380.3h0.8M269.2 375.4h0.8M280.1 378.9h0.8M282.8 375.2h0.8M275.9 376.8h0.8M284.5 379.4h0.8M285.5 378.3h0.8M279.2 375.4h0.8M284.6 373.4h0.8M275.1 375.8h0.8M275.9 377.0h0.8M281.3 374.5h0.8M286.8 377.9h0.8M271.4 376.6h0.8M277.0 377.2h0.8M286.5 379.1h0.8M270.1 375.2h0.8M273.2 378.3h0.8M284.7 374.7h0.8M277.1 376.5h0.8M283.2 373.9h0.8M268.5 374.3h0.8M275.5 377.4h0.8M282.6 378.1h0.8M287.0 375.8h0.8M277.8 376.9h0.8M278.7 372.8h0.8M272.2 373.8h0.8M271.4 377.3h0.8M283.4 372.9h0.8M284.9 378.8h0.8M270.2 375.1h0.8M284.2 375.7h0.8M273.1 374.8h0.8M274.8 377.1h0.8M272.1 380.7h0.8M273.2 376.5h0.8M271.0 379.6h0.8M275.0 378.9h0.8M287.6 377.9h0.8M273.0 375.2h0.8M296.6 361.4h0.8M269.2 366.5h0.8M299.1 369.9h0.8M297.5 348.5h0.8M272.9 347.3h0.8M281.2 355.8h0.8M272.8 378.9h0.8M295.5 358.9h0.8M301.0 363.0h0.8M278.6 371.7h0.8M285.3 346.0h0.8M287.5 351.7h0.8M268.6 349.2h0.8M304.1 373.8h0.8M273.2 375.2h0.8M269.8 350.3h0.8M301.0 352.1h0.8M297.5 358.8h0.8M292.9 361.8h0.8M284.6 361.7h0.8M302.5 379.1h0.8M298.7 359.4h0.8M284.7 377.9h0.8M299.0 357.9h0.8M278.3 352.7h0.8M287.8 357.8h0.8M304.0 345.9h0.8M281.4 352.4h0.8M272.8 362.0h0.8M303.2 353.1h0.8M292.8 364.4h0.8M299.9 355.6h0.8M280.9 366.7h0.8M299.1 359.1h0.8M289.3 349.6h0.8M286.0 354.8h0.8M296.7 367.5h0.8M287.2 368.7h0.8M286.6 357.2h0.8" stroke="#6a80f0" stroke-width="0.8" stroke-opacity="0.38"/>
<path d="M273.6 379.7h0.9M276.9 377.1h0.9M275.7 372.1h0.9M276.9 376.7h0.9M270.7 378.5h0.9M281.1 378.4h0.9M280.2 379.6h0.9M271.8 372.4h0.9M276.3 376.5h0.9M279.6 376.7h0.9M279.1 376.5h0.9M281.2 375.6h0.9M281.6 374.0h0.9M274.1 374.8h0.9M277.9 376.8h0.9M280.1 377.0h0.9M271.3 376.1h0.9M280.6 377.6h0.9M274.3 377.7h0.9M270.9 377.1h0.9M284.2 375.3h0.9M270.2 377.6h0.9M281.0 375.6h0.9M278.2 376.2h0.9M279.8 375.1h0.9M280.0 377.3h0.9M277.2 375.4h0.9M276.6 374.8h0.9M279.5 377.6h0.9M269.3 377.3h0.9M272.3 377.0h0.9M276.2 374.8h0.9M267.8 380.3h0.9M291.5 376.3h0.9M282.2 374.8h0.9M272.3 374.9h0.9M271.8 378.4h0.9M288.1 374.7h0.9M279.7 375.3h0.9M276.5 377.3h0.9M274.2 377.3h0.9M278.9 376.8h0.9M267.7 376.3h0.9M279.5 376.0h0.9M280.9 374.7h0.9" stroke="#30c060" stroke-width="0.9" stroke-opacity="0.55"/>
<path d="M290.5 351.6h0.9M283.5 351.0h0.9M287.0 346.8h0.9M289.8 352.0h0.9M287.9 349.6h0.9M288.4 349.8h0.9M285.4 349.2h0.9M286.4 351.4h0.9M292.4 354.4h0.9M290.7 350.6h0.9M287.0 349.3h0.9M287.4 349.0h0.9M283.2 351.5h0.9M291.2 352.2h0.9M290.6 351.4h0.9M290.5 348.6h0.9M287.9 352.3h0.9M290.3 350.7h0.9M290.4 354.3h0.9M286.6 351.1h0.9" stroke="#5068ea" stroke-width="0.9" stroke-opacity="0.4"/>
<line x1="286.1" y1="343.3" x2="286.1" y2="382.3" stroke="#8a8a8a" stroke-width="0.7" />
<line x1="265.8" y1="364.75" x2="306.4" y2="364.75" stroke="#8a8a8a" stroke-width="0.7" />
<text x="267.5" y="351.2" font-size="7.5" text-anchor="start" font-weight="bold" fill="#1c3fae" textLength="21.8" lengthAdjust="spacingAndGlyphs" stroke="#1c3fae" stroke-width="0.25">17.2%</text>
<clipPath id="cp216"><rect x="314.5" y="343.3" width="40.6" height="39"/></clipPath>
<rect x="314.5" y="343.3" width="40.6" height="39" fill="#fff" stroke="#a8a8a8" stroke-width="0.6"/>
<line x1="312.9" y1="347.98" x2="314.5" y2="347.98" stroke="#888" stroke-width="0.5" />
<rect x="311.1" y="346.58" width="1.2" height="0.8" fill="#999"/>
<line x1="312.9" y1="355.78" x2="314.5" y2="355.78" stroke="#888" stroke-width="0.5" />
<rect x="311.1" y="354.38" width="1.2" height="0.8" fill="#999"/>
<line x1="312.9" y1="363.58" x2="314.5" y2="363.58" stroke="#888" stroke-width="0.5" />
<rect x="311.1" y="362.18" width="1.2" height="0.8" fill="#999"/>
<line x1="312.9" y1="371.38" x2="314.5" y2="371.38" stroke="#888" stroke-width="0.5" />
<rect x="311.1" y="369.98" width="1.2" height="0.8" fill="#999"/>
<line x1="312.9" y1="379.18" x2="314.5" y2="379.18" stroke="#888" stroke-width="0.5" />
<rect x="311.1" y="377.78" width="1.2" height="0.8" fill="#999"/>
<line x1="319.37" y1="382.3" x2="319.37" y2="383.9" stroke="#888" stroke-width="0.5" />
<rect x="319.07" y="384.5" width="1.2" height="0.8" fill="#999"/>
<line x1="330.33" y1="382.3" x2="330.33" y2="383.9" stroke="#888" stroke-width="0.5" />
<rect x="330.03" y="384.5" width="1.2" height="0.8" fill="#999"/>
<line x1="341.3" y1="382.3" x2="341.3" y2="383.9" stroke="#888" stroke-width="0.5" />
<rect x="341" y="384.5" width="1.2" height="0.8" fill="#999"/>
<line x1="352.26" y1="382.3" x2="352.26" y2="383.9" stroke="#888" stroke-width="0.5" />
<rect x="351.96" y="384.5" width="1.2" height="0.8" fill="#999"/>
<rect x="331.8" y="387.3" width="6" height="0.8" fill="#bbb"/>
<rect x="356.5" y="360.85" width="0.8" height="5" fill="#ccc"/>
<rect x="350.6" y="345.3" width="2.2" height="1.6" fill="#bbb"/>
<rect x="350.6" y="377.8" width="2.2" height="1.6" fill="#bbb"/>
<rect x="316" y="377.8" width="2.2" height="1.6" fill="#999"/>
<g clip-path="url(#cp216)"><g filter="url(#b1)">
<ellipse cx="325.46" cy="376.64" rx="11.37" ry="4.47" fill="#7088f2" fill-opacity="0.45" transform="rotate(0 325.46 376.64)"/>
<ellipse cx="324.65" cy="376.64" rx="8.53" ry="3.25" fill="#3cc4a0" fill-opacity="0.75" transform="rotate(0 324.65 376.64)"/>
<ellipse cx="323.84" cy="376.84" rx="6.09" ry="2.35" fill="#78d83a" fill-opacity="1" transform="rotate(0 323.84 376.84)"/>
<ellipse cx="323.03" cy="376.84" rx="3.25" ry="1.42" fill="#e6d020" fill-opacity="1" transform="rotate(0 323.03 376.84)"/>
<ellipse cx="322.62" cy="376.84" rx="1.22" ry="0.81" fill="#e05a10" fill-opacity="1" transform="rotate(0 322.62 376.84)"/>
<ellipse cx="334.8" cy="374.5" rx="4.06" ry="2.03" fill="#7088f2" fill-opacity="0.35" transform="rotate(-45 334.8 374.5)"/>
<ellipse cx="343.67" cy="362.8" rx="2.84" ry="12.18" fill="#7088f2" fill-opacity="0.32" transform="rotate(0 343.67 362.8)"/>
<ellipse cx="343.67" cy="374.5" rx="2.84" ry="2.03" fill="#40c080" fill-opacity="0.58" transform="rotate(0 343.67 374.5)"/>
<ellipse cx="343.67" cy="361.63" rx="2.03" ry="1.83" fill="#40c080" fill-opacity="0.3" transform="rotate(0 343.67 361.63)"/>
<ellipse cx="343.67" cy="350.32" rx="2.44" ry="1.62" fill="#50b090" fill-opacity="0.4" transform="rotate(0 343.67 350.32)"/>
</g></g>
<path d="M342.4 351.9h0.8M341.5 362.7h0.8M342.4 365.5h0.8M343.7 350.5h0.8M345.0 360.9h0.8M342.4 352.4h0.8M347.0 363.0h0.8M345.3 349.3h0.8M343.5 359.0h0.8M341.8 368.5h0.8M340.2 368.0h0.8M333.9 372.6h0.8M344.6 367.1h0.8M348.9 349.5h0.8M341.8 357.5h0.8M346.0 351.1h0.8M343.5 370.0h0.8M340.6 365.7h0.8M343.4 365.3h0.8M345.3 358.8h0.8M346.1 360.7h0.8M345.0 368.5h0.8M343.8 368.2h0.8M338.7 371.7h0.8M343.1 368.7h0.8M344.2 358.3h0.8M333.7 373.9h0.8M345.5 349.6h0.8M343.7 359.8h0.8M345.6 362.7h0.8M341.5 360.2h0.8M345.9 358.0h0.8M346.2 362.6h0.8M343.6 366.9h0.8M346.4 357.0h0.8M346.8 362.4h0.8M343.3 371.3h0.8M340.8 368.4h0.8M341.5 369.8h0.8M348.7 351.0h0.8M345.5 356.0h0.8M342.3 363.2h0.8M345.0 353.3h0.8M343.4 356.5h0.8M344.1 357.9h0.8M343.0 354.2h0.8M347.0 369.4h0.8M344.2 362.8h0.8M341.0 371.1h0.8M343.4 361.6h0.8M341.2 357.7h0.8M343.5 350.6h0.8M343.8 361.4h0.8M341.9 361.2h0.8M343.7 362.4h0.8M342.5 354.5h0.8M344.5 362.4h0.8M345.2 348.9h0.8M342.7 359.7h0.8M342.2 354.4h0.8M341.9 367.6h0.8M342.6 366.9h0.8M343.4 359.4h0.8M335.4 374.8h0.8M344.8 360.6h0.8M346.1 360.2h0.8M343.0 359.8h0.8M331.8 375.5h0.8M344.3 362.0h0.8M342.6 365.2h0.8M342.8 358.1h0.8M341.8 369.7h0.8M342.9 352.8h0.8M347.3 349.1h0.8M344.3 369.9h0.8M345.4 366.9h0.8M344.3 366.7h0.8M341.2 365.1h0.8M343.3 356.0h0.8M342.0 364.5h0.8M334.7 376.0h0.8M345.1 350.3h0.8M337.0 370.3h0.8M338.5 372.9h0.8M342.2 359.3h0.8M342.3 364.8h0.8M334.4 375.1h0.8M338.8 355.4h0.8M332.4 374.4h0.8M333.7 373.9h0.8M344.5 349.1h0.8M341.8 350.4h0.8M346.0 351.9h0.8M346.7 366.0h0.8M333.1 373.9h0.8M337.0 374.5h0.8M345.4 358.6h0.8M346.0 361.8h0.8M340.9 367.0h0.8M347.9 352.4h0.8M334.0 374.0h0.8M346.7 355.1h0.8M334.8 373.4h0.8M345.4 352.2h0.8M346.4 354.9h0.8M344.2 349.9h0.8M331.0 375.3h0.8M344.3 358.7h0.8M343.5 349.4h0.8M345.3 365.0h0.8M345.4 366.6h0.8M344.0 367.5h0.8M344.9 364.8h0.8M341.2 355.9h0.8M341.6 359.2h0.8M341.0 368.3h0.8M344.9 356.8h0.8M344.9 358.4h0.8M336.1 372.6h0.8M342.8 349.8h0.8M334.2 375.9h0.8M345.2 353.6h0.8M343.2 359.0h0.8M339.0 371.0h0.8M342.7 368.2h0.8M333.9 372.6h0.8M339.2 363.1h0.8M344.9 361.8h0.8M345.8 361.9h0.8M343.0 361.8h0.8M342.5 366.9h0.8M338.3 371.8h0.8M334.5 374.9h0.8M345.9 349.1h0.8M343.0 357.3h0.8M344.7 348.8h0.8M340.8 372.0h0.8M343.4 363.6h0.8M345.5 349.0h0.8M342.6 364.1h0.8M344.9 358.5h0.8M343.9 354.0h0.8M344.3 359.8h0.8M339.6 371.4h0.8M339.6 366.1h0.8M342.0 359.5h0.8M338.2 374.3h0.8M342.8 362.9h0.8M342.9 350.2h0.8M346.7 354.6h0.8M348.0 351.0h0.8M343.9 352.1h0.8M339.6 356.5h0.8M347.8 350.1h0.8M342.6 367.9h0.8M343.5 357.8h0.8M333.9 373.9h0.8M345.2 364.5h0.8M345.1 360.5h0.8M326.4 374.8h0.8M331.4 377.0h0.8M324.3 377.1h0.8M325.5 376.3h0.8M318.6 378.0h0.8M333.3 377.7h0.8M326.9 379.2h0.8M331.4 376.5h0.8M326.3 379.4h0.8M331.9 374.5h0.8M330.5 378.7h0.8M326.6 378.2h0.8M332.5 377.3h0.8M336.5 374.0h0.8M317.8 378.4h0.8M334.8 378.1h0.8M321.9 376.8h0.8M325.0 380.6h0.8M332.1 374.4h0.8M333.3 378.3h0.8M334.2 377.4h0.8M317.9 378.3h0.8M332.6 377.8h0.8M332.8 375.9h0.8M321.1 378.7h0.8M331.4 378.0h0.8M321.4 378.5h0.8M337.7 378.9h0.8M321.9 376.1h0.8M332.9 375.0h0.8M324.3 378.5h0.8M321.9 378.9h0.8M329.2 378.9h0.8M329.1 375.9h0.8M327.0 376.5h0.8M327.7 377.3h0.8M326.8 377.6h0.8M319.8 375.8h0.8M327.3 376.8h0.8M321.0 373.9h0.8M319.6 376.6h0.8M334.8 378.5h0.8M317.5 379.3h0.8M336.2 375.1h0.8M336.9 377.9h0.8M334.7 376.2h0.8M319.4 377.9h0.8M327.1 376.3h0.8M331.5 375.4h0.8M333.1 375.5h0.8M320.7 380.0h0.8M325.1 375.6h0.8M336.1 375.7h0.8M324.7 374.5h0.8M317.7 378.1h0.8M323.8 378.3h0.8M328.6 375.2h0.8M329.6 380.7h0.8M325.4 376.5h0.8M321.0 373.6h0.8M334.9 378.1h0.8M318.9 375.5h0.8M320.1 377.2h0.8M322.6 378.2h0.8M321.2 379.3h0.8M320.2 375.9h0.8M323.2 378.0h0.8M350.4 353.6h0.8M329.8 352.9h0.8M330.5 347.0h0.8M330.6 373.7h0.8M347.1 358.1h0.8M338.1 352.1h0.8M330.5 367.6h0.8M343.5 378.1h0.8M343.1 353.8h0.8M343.9 362.2h0.8M322.3 362.8h0.8M335.0 366.2h0.8M326.0 354.6h0.8M325.1 360.6h0.8M336.3 345.8h0.8M331.5 376.1h0.8M340.2 363.4h0.8M328.9 347.0h0.8M348.2 356.1h0.8M350.4 373.4h0.8M339.1 356.2h0.8M323.7 374.8h0.8M327.8 345.4h0.8M328.4 352.3h0.8M341.1 367.9h0.8M323.3 350.2h0.8M351.9 347.0h0.8M340.5 363.9h0.8M333.4 345.8h0.8M344.7 368.3h0.8M332.3 353.1h0.8M322.2 379.4h0.8M338.7 363.6h0.8M317.0 366.6h0.8M340.0 361.5h0.8M323.8 376.3h0.8M324.7 358.4h0.8M349.7 369.3h0.8M328.1 374.8h0.8M328.5 346.6h0.8" stroke="#6a80f0" stroke-width="0.8" stroke-opacity="0.38"/>
<path d="M332.4 378.8h0.9M318.1 379.2h0.9M330.9 377.9h0.9M323.9 375.7h0.9M328.5 377.7h0.9M328.0 374.0h0.9M329.1 375.4h0.9M329.5 377.1h0.9M324.6 373.8h0.9M321.9 376.8h0.9M328.6 375.0h0.9M327.1 376.0h0.9M335.5 375.0h0.9M319.3 375.7h0.9M325.7 377.4h0.9M324.3 374.7h0.9M332.3 374.0h0.9M319.9 374.2h0.9M318.3 376.7h0.9M330.2 377.8h0.9M332.7 378.2h0.9M320.5 378.7h0.9M329.0 377.6h0.9M325.0 377.9h0.9M319.2 374.6h0.9M325.9 378.8h0.9M336.8 376.2h0.9M322.4 380.3h0.9M325.4 376.3h0.9M326.6 377.1h0.9M335.4 375.5h0.9M323.8 377.5h0.9M322.2 378.2h0.9M325.5 375.5h0.9M329.2 378.2h0.9M330.0 375.6h0.9M334.7 371.6h0.9M324.5 374.6h0.9M325.2 378.0h0.9M328.6 376.1h0.9M323.0 376.6h0.9M332.0 375.6h0.9" stroke="#30c060" stroke-width="0.9" stroke-opacity="0.55"/>
<path d="M344.7 346.8h0.9M341.1 354.4h0.9M345.1 351.2h0.9M345.9 351.7h0.9M341.5 350.0h0.9M342.5 350.3h0.9M344.6 349.9h0.9M349.6 348.5h0.9M346.3 350.7h0.9M344.5 350.6h0.9M342.1 350.7h0.9M344.4 351.5h0.9M345.3 348.3h0.9M343.0 349.9h0.9M343.2 347.1h0.9M342.3 353.1h0.9M345.8 352.2h0.9M341.6 350.8h0.9M344.2 349.6h0.9M342.6 350.8h0.9M344.2 350.8h0.9M344.8 352.1h0.9M341.9 350.6h0.9M340.5 349.9h0.9M345.0 350.4h0.9M345.0 351.4h0.9M342.3 350.3h0.9M348.4 352.5h0.9M341.7 353.6h0.9M343.0 353.6h0.9M342.3 352.6h0.9M346.7 351.6h0.9M340.2 349.0h0.9M347.6 351.5h0.9" stroke="#5068ea" stroke-width="0.9" stroke-opacity="0.4"/>
<line x1="334.8" y1="343.3" x2="334.8" y2="382.3" stroke="#8a8a8a" stroke-width="0.7" />
<line x1="314.5" y1="364.75" x2="355.1" y2="364.75" stroke="#8a8a8a" stroke-width="0.7" />
<text x="316.2" y="351.2" font-size="7.5" text-anchor="start" font-weight="bold" fill="#1c3fae" textLength="21.8" lengthAdjust="spacingAndGlyphs" stroke="#1c3fae" stroke-width="0.25">41.4%</text>
<path d="M55.5 290.3 V392.6 H349" fill="none" stroke="#000" stroke-width="1.25"/>
<path d="M55.5 286.4 l-2.6 5.6 h5.2 z" fill="#000"/>
<path d="M352.8 392.6 l-5.6 -2.6 v5.2 z" fill="#000"/>
<text transform="translate(51.8,341.7) rotate(-90)" font-size="11.5" font-weight="normal" fill="#111" textLength="7" lengthAdjust="spacingAndGlyphs">PI</text>
<text x="173.5" y="404.5" font-size="10.6" text-anchor="start" font-weight="normal" fill="#111" textLength="61.5" lengthAdjust="spacingAndGlyphs" >Annexin V -FITC</text>
<rect x="74.3" y="414.1" width="162.2" height="65.3" fill="#fff" stroke="#9a9a9a" stroke-width="0.7"/>
<line x1="74.8" y1="425.8" x2="236" y2="425.8" stroke="#d6dcd9" stroke-width="0.7" />
<path d="M94.56 425.8 L94.56 425.77 L95.71 425.74 L96.86 425.7 L98.02 425.64 L99.17 425.54 L100.32 425.38 L101.47 425.18 L102.62 424.88 L103.78 424.54 L104.93 424.01 L106.08 423.4 L107.23 422.72 L108.38 421.85 L109.54 420.97 L110.69 419.62 L111.84 418.78 L112.99 417.82 L114.14 416.81 L115.3 416.21 L116.45 416.1 L117.6 415.49 L118.75 415.87 L119.9 415.9 L121.06 416.95 L122.21 417.59 L123.36 418.58 L124.51 419.06 L125.66 420.08 L126.82 420.93 L127.97 421.93 L129.12 422.56 L130.27 423.3 L131.42 423.87 L132.58 424.45 L133.73 424.75 L134.88 425.04 L136.03 425.28 L137.18 425.45 L138.34 425.57 L139.49 425.65 L140.64 425.7 L140.64 425.8 Z" fill="#c6cfcb" stroke="none"/>
<path d="M94.56 425.77 L95.71 425.74 L96.86 425.7 L98.02 425.64 L99.17 425.54 L100.32 425.38 L101.47 425.18 L102.62 424.88 L103.78 424.54 L104.93 424.01 L106.08 423.4 L107.23 422.72 L108.38 421.85 L109.54 420.97 L110.69 419.62 L111.84 418.78 L112.99 417.82 L114.14 416.81 L115.3 416.21 L116.45 416.1 L117.6 415.49 L118.75 415.87 L119.9 415.9 L121.06 416.95 L122.21 417.59 L123.36 418.58 L124.51 419.06 L125.66 420.08 L126.82 420.93 L127.97 421.93 L129.12 422.56 L130.27 423.3 L131.42 423.87 L132.58 424.45 L133.73 424.75 L134.88 425.04 L136.03 425.28 L137.18 425.45 L138.34 425.57 L139.49 425.65 L140.64 425.7" fill="none" stroke="#4a4f4c" stroke-width="0.8"/>
<line x1="74.8" y1="436.3" x2="236" y2="436.3" stroke="#cfe3f7" stroke-width="0.7" />
<path d="M132.18 436.3 L132.18 436.29 L133.4 436.28 L134.61 436.27 L135.83 436.24 L137.04 436.19 L138.26 436.12 L139.48 436 L140.69 435.81 L141.91 435.54 L143.12 435.15 L144.34 434.63 L145.56 433.97 L146.77 433.15 L147.99 432.19 L149.2 431.12 L150.42 430.01 L151.64 428.92 L152.85 427.94 L154.07 427.17 L155.28 426.67 L156.5 426.5 L157.72 426.59 L158.93 426.87 L160.15 427.32 L161.36 427.91 L162.58 428.61 L163.8 429.38 L165.01 430.2 L166.23 431.03 L167.44 431.83 L168.66 432.58 L169.88 433.26 L171.09 433.87 L172.31 434.39 L173.52 434.83 L174.74 435.19 L175.96 435.48 L177.17 435.7 L178.39 435.87 L179.6 436 L180.82 436.1 L180.82 436.3 Z" fill="#9ccaf2" stroke="none"/>
<path d="M132.18 436.29 L133.4 436.28 L134.61 436.27 L135.83 436.24 L137.04 436.19 L138.26 436.12 L139.48 436 L140.69 435.81 L141.91 435.54 L143.12 435.15 L144.34 434.63 L145.56 433.97 L146.77 433.15 L147.99 432.19 L149.2 431.12 L150.42 430.01 L151.64 428.92 L152.85 427.94 L154.07 427.17 L155.28 426.67 L156.5 426.5 L157.72 426.59 L158.93 426.87 L160.15 427.32 L161.36 427.91 L162.58 428.61 L163.8 429.38 L165.01 430.2 L166.23 431.03 L167.44 431.83 L168.66 432.58 L169.88 433.26 L171.09 433.87 L172.31 434.39 L173.52 434.83 L174.74 435.19 L175.96 435.48 L177.17 435.7 L178.39 435.87 L179.6 436 L180.82 436.1" fill="none" stroke="#3f8ee6" stroke-width="0.8"/>
<line x1="74.8" y1="447.4" x2="236" y2="447.4" stroke="#cdeec0" stroke-width="0.7" />
<path d="M126.36 447.4 L126.36 447.38 L127.35 447.37 L128.34 447.34 L129.34 447.29 L130.33 447.22 L131.32 447.11 L132.31 446.94 L133.3 446.69 L134.3 446.35 L135.29 445.89 L136.28 445.3 L137.27 444.56 L138.26 443.69 L139.26 442.7 L140.25 441.63 L141.24 440.53 L142.23 439.48 L143.22 438.55 L144.22 437.82 L145.21 437.36 L146.2 437.2 L147.19 437.31 L148.18 437.62 L149.18 438.13 L150.17 438.79 L151.16 439.57 L152.15 440.43 L153.14 441.33 L154.14 442.22 L155.13 443.07 L156.12 443.86 L157.11 444.56 L158.1 445.18 L159.1 445.69 L160.09 446.12 L161.08 446.46 L162.07 446.72 L163.06 446.92 L164.06 447.07 L165.05 447.18 L166.04 447.25 L166.04 447.4 Z" fill="#88e060" stroke="none"/>
<path d="M126.36 447.38 L127.35 447.37 L128.34 447.34 L129.34 447.29 L130.33 447.22 L131.32 447.11 L132.31 446.94 L133.3 446.69 L134.3 446.35 L135.29 445.89 L136.28 445.3 L137.27 444.56 L138.26 443.69 L139.26 442.7 L140.25 441.63 L141.24 440.53 L142.23 439.48 L143.22 438.55 L144.22 437.82 L145.21 437.36 L146.2 437.2 L147.19 437.31 L148.18 437.62 L149.18 438.13 L150.17 438.79 L151.16 439.57 L152.15 440.43 L153.14 441.33 L154.14 442.22 L155.13 443.07 L156.12 443.86 L157.11 444.56 L158.1 445.18 L159.1 445.69 L160.09 446.12 L161.08 446.46 L162.07 446.72 L163.06 446.92 L164.06 447.07 L165.05 447.18 L166.04 447.25" fill="none" stroke="#3cc820" stroke-width="0.8"/>
<line x1="74.8" y1="457.9" x2="236" y2="457.9" stroke="#e9eec0" stroke-width="0.7" />
<path d="M125.92 457.9 L125.92 457.9 L127.1 457.89 L128.29 457.88 L129.47 457.87 L130.66 457.84 L131.84 457.79 L133.02 457.7 L134.21 457.56 L135.39 457.34 L136.58 457.01 L137.76 456.55 L138.94 455.92 L140.13 455.12 L141.31 454.15 L142.5 453.03 L143.68 451.83 L144.86 450.64 L146.05 449.55 L147.23 448.67 L148.42 448.1 L149.6 447.9 L150.78 447.99 L151.97 448.25 L153.15 448.67 L154.34 449.23 L155.52 449.89 L156.7 450.64 L157.89 451.43 L159.07 452.24 L160.26 453.03 L161.44 453.79 L162.62 454.49 L163.81 455.12 L164.99 455.67 L166.18 456.15 L167.36 456.55 L168.54 456.87 L169.73 457.13 L170.91 457.34 L172.1 457.5 L173.28 457.61 L173.28 457.9 Z" fill="#d4dc78" stroke="none"/>
<path d="M125.92 457.9 L127.1 457.89 L128.29 457.88 L129.47 457.87 L130.66 457.84 L131.84 457.79 L133.02 457.7 L134.21 457.56 L135.39 457.34 L136.58 457.01 L137.76 456.55 L138.94 455.92 L140.13 455.12 L141.31 454.15 L142.5 453.03 L143.68 451.83 L144.86 450.64 L146.05 449.55 L147.23 448.67 L148.42 448.1 L149.6 447.9 L150.78 447.99 L151.97 448.25 L153.15 448.67 L154.34 449.23 L155.52 449.89 L156.7 450.64 L157.89 451.43 L159.07 452.24 L160.26 453.03 L161.44 453.79 L162.62 454.49 L163.81 455.12 L164.99 455.67 L166.18 456.15 L167.36 456.55 L168.54 456.87 L169.73 457.13 L170.91 457.34 L172.1 457.5 L173.28 457.61" fill="none" stroke="#b0bc2a" stroke-width="0.8"/>
<line x1="74.8" y1="468.5" x2="236" y2="468.5" stroke="#f2c8d4" stroke-width="0.7" />
<path d="M117.94 468.5 L117.94 468.48 L118.79 468.47 L119.64 468.44 L120.48 468.39 L121.33 468.32 L122.18 468.21 L123.03 468.04 L123.88 467.79 L124.72 467.45 L125.57 466.99 L126.42 466.4 L127.27 465.66 L128.12 464.79 L128.96 463.8 L129.81 462.73 L130.66 461.63 L131.51 460.58 L132.36 459.65 L133.2 458.92 L134.05 458.46 L134.9 458.3 L135.75 458.41 L136.6 458.72 L137.44 459.23 L138.29 459.89 L139.14 460.67 L139.99 461.53 L140.84 462.43 L141.68 463.32 L142.53 464.17 L143.38 464.96 L144.23 465.66 L145.08 466.28 L145.92 466.79 L146.77 467.22 L147.62 467.56 L148.47 467.82 L149.32 468.02 L150.16 468.17 L151.01 468.28 L151.86 468.35 L151.86 468.5 Z" fill="#dc6c8c" stroke="none"/>
<path d="M117.94 468.48 L118.79 468.47 L119.64 468.44 L120.48 468.39 L121.33 468.32 L122.18 468.21 L123.03 468.04 L123.88 467.79 L124.72 467.45 L125.57 466.99 L126.42 466.4 L127.27 465.66 L128.12 464.79 L128.96 463.8 L129.81 462.73 L130.66 461.63 L131.51 460.58 L132.36 459.65 L133.2 458.92 L134.05 458.46 L134.9 458.3 L135.75 458.41 L136.6 458.72 L137.44 459.23 L138.29 459.89 L139.14 460.67 L139.99 461.53 L140.84 462.43 L141.68 463.32 L142.53 464.17 L143.38 464.96 L144.23 465.66 L145.08 466.28 L145.92 466.79 L146.77 467.22 L147.62 467.56 L148.47 467.82 L149.32 468.02 L150.16 468.17 L151.01 468.28 L151.86 468.35" fill="none" stroke="#c4284c" stroke-width="0.8"/>
<path d="M121.62 479.1 L121.62 479.08 L122.48 479.07 L123.35 479.04 L124.21 478.99 L125.08 478.92 L125.94 478.81 L126.8 478.63 L127.67 478.39 L128.53 478.04 L129.4 477.58 L130.26 476.98 L131.12 476.24 L131.99 475.35 L132.85 474.35 L133.72 473.27 L134.58 472.16 L135.44 471.1 L136.31 470.17 L137.17 469.43 L138.04 468.96 L138.9 468.8 L139.76 468.91 L140.63 469.23 L141.49 469.74 L142.36 470.4 L143.22 471.19 L144.08 472.06 L144.95 472.97 L145.81 473.87 L146.68 474.73 L147.54 475.52 L148.4 476.24 L149.27 476.85 L150.13 477.38 L151 477.8 L151.86 478.15 L152.72 478.41 L153.59 478.62 L154.45 478.77 L155.32 478.87 L156.18 478.95 L156.18 479.1 Z" fill="#d678f2" stroke="none"/>
<path d="M121.62 479.08 L122.48 479.07 L123.35 479.04 L124.21 478.99 L125.08 478.92 L125.94 478.81 L126.8 478.63 L127.67 478.39 L128.53 478.04 L129.4 477.58 L130.26 476.98 L131.12 476.24 L131.99 475.35 L132.85 474.35 L133.72 473.27 L134.58 472.16 L135.44 471.1 L136.31 470.17 L137.17 469.43 L138.04 468.96 L138.9 468.8 L139.76 468.91 L140.63 469.23 L141.49 469.74 L142.36 470.4 L143.22 471.19 L144.08 472.06 L144.95 472.97 L145.81 473.87 L146.68 474.73 L147.54 475.52 L148.4 476.24 L149.27 476.85 L150.13 477.38 L151 477.8 L151.86 478.15 L152.72 478.41 L153.59 478.62 L154.45 478.77 L155.32 478.87 L156.18 478.95" fill="none" stroke="#a838d8" stroke-width="0.8"/>
<line x1="146.2" y1="414.5" x2="146.2" y2="479" stroke="#111" stroke-width="1.3" />
<text x="232.2" y="422.5" font-size="8.2" text-anchor="end" font-weight="normal" fill="#111" textLength="44" lengthAdjust="spacingAndGlyphs" >Control Ab</text>
<text x="232.2" y="433.25" font-size="8.2" text-anchor="end" font-weight="normal" fill="#111" textLength="26.4" lengthAdjust="spacingAndGlyphs" >DMSO</text>
<text x="232.2" y="444" font-size="8.2" text-anchor="end" font-weight="normal" fill="#111" textLength="36" lengthAdjust="spacingAndGlyphs" >IB-0.5μM</text>
<text x="232.2" y="454.75" font-size="8.2" text-anchor="end" font-weight="normal" fill="#111" textLength="36" lengthAdjust="spacingAndGlyphs" >IB-0.1μM</text>
<text x="232.2" y="465.5" font-size="8.2" text-anchor="end" font-weight="normal" fill="#111" textLength="40.4" lengthAdjust="spacingAndGlyphs" >KIN-0.5μM</text>
<text x="232.2" y="476.25" font-size="8.2" text-anchor="end" font-weight="normal" fill="#111" textLength="40.4" lengthAdjust="spacingAndGlyphs" >KIN-0.1μM</text>
<line x1="78.3" y1="479.4" x2="78.3" y2="480.9" stroke="#777" stroke-width="0.5" />
<rect x="75.8" y="482.6" width="2.4" height="1.0" fill="#aaa" transform="rotate(-30 78.3 482.6)"/>
<line x1="116.8" y1="479.4" x2="116.8" y2="480.9" stroke="#777" stroke-width="0.5" />
<rect x="114.3" y="482.6" width="2.4" height="1.0" fill="#aaa" transform="rotate(-30 116.8 482.6)"/>
<line x1="155.3" y1="479.4" x2="155.3" y2="480.9" stroke="#777" stroke-width="0.5" />
<rect x="152.8" y="482.6" width="2.4" height="1.0" fill="#aaa" transform="rotate(-30 155.3 482.6)"/>
<line x1="193.8" y1="479.4" x2="193.8" y2="480.9" stroke="#777" stroke-width="0.5" />
<rect x="191.3" y="482.6" width="2.4" height="1.0" fill="#aaa" transform="rotate(-30 193.8 482.6)"/>
<line x1="232.3" y1="479.4" x2="232.3" y2="480.9" stroke="#777" stroke-width="0.5" />
<rect x="229.8" y="482.6" width="2.4" height="1.0" fill="#aaa" transform="rotate(-30 232.3 482.6)"/>
<line x1="78.3" y1="479.4" x2="78.3" y2="480.3" stroke="#aaa" stroke-width="0.4" />
<line x1="87.9" y1="479.4" x2="87.9" y2="480.3" stroke="#aaa" stroke-width="0.4" />
<line x1="97.5" y1="479.4" x2="97.5" y2="480.3" stroke="#aaa" stroke-width="0.4" />
<line x1="107.1" y1="479.4" x2="107.1" y2="480.3" stroke="#aaa" stroke-width="0.4" />
<line x1="116.7" y1="479.4" x2="116.7" y2="480.3" stroke="#aaa" stroke-width="0.4" />
<line x1="126.3" y1="479.4" x2="126.3" y2="480.3" stroke="#aaa" stroke-width="0.4" />
<line x1="135.9" y1="479.4" x2="135.9" y2="480.3" stroke="#aaa" stroke-width="0.4" />
<line x1="145.5" y1="479.4" x2="145.5" y2="480.3" stroke="#aaa" stroke-width="0.4" />
<line x1="155.1" y1="479.4" x2="155.1" y2="480.3" stroke="#aaa" stroke-width="0.4" />
<line x1="164.7" y1="479.4" x2="164.7" y2="480.3" stroke="#aaa" stroke-width="0.4" />
<line x1="174.3" y1="479.4" x2="174.3" y2="480.3" stroke="#aaa" stroke-width="0.4" />
<line x1="183.9" y1="479.4" x2="183.9" y2="480.3" stroke="#aaa" stroke-width="0.4" />
<line x1="193.5" y1="479.4" x2="193.5" y2="480.3" stroke="#aaa" stroke-width="0.4" />
<line x1="203.1" y1="479.4" x2="203.1" y2="480.3" stroke="#aaa" stroke-width="0.4" />
<line x1="212.7" y1="479.4" x2="212.7" y2="480.3" stroke="#aaa" stroke-width="0.4" />
<line x1="222.3" y1="479.4" x2="222.3" y2="480.3" stroke="#aaa" stroke-width="0.4" />
<rect x="92.3" y="479.7" width="3" height="1.2" fill="#333"/>
<rect x="74.3" y="488.1" width="162.2" height="65.3" fill="#fff" stroke="#9a9a9a" stroke-width="0.7"/>
<line x1="74.8" y1="499.8" x2="236" y2="499.8" stroke="#d6dcd9" stroke-width="0.7" />
<path d="M94.26 499.8 L94.26 499.77 L95.41 499.74 L96.56 499.7 L97.72 499.63 L98.87 499.54 L100.02 499.4 L101.17 499.17 L102.32 498.91 L103.48 498.45 L104.63 498.04 L105.78 497.29 L106.93 496.73 L108.08 495.78 L109.24 494.79 L110.39 493.58 L111.54 492.59 L112.69 491.95 L113.84 490.9 L115 490.08 L116.15 490.2 L117.3 489.55 L118.45 489.67 L119.6 489.9 L120.76 490.99 L121.91 491.34 L123.06 492.34 L124.21 492.98 L125.36 494.02 L126.52 495.23 L127.67 495.76 L128.82 496.59 L129.97 497.39 L131.12 497.85 L132.28 498.43 L133.43 498.74 L134.58 499.06 L135.73 499.31 L136.88 499.44 L138.04 499.57 L139.19 499.65 L140.34 499.7 L140.34 499.8 Z" fill="#c6cfcb" stroke="none"/>
<path d="M94.26 499.77 L95.41 499.74 L96.56 499.7 L97.72 499.63 L98.87 499.54 L100.02 499.4 L101.17 499.17 L102.32 498.91 L103.48 498.45 L104.63 498.04 L105.78 497.29 L106.93 496.73 L108.08 495.78 L109.24 494.79 L110.39 493.58 L111.54 492.59 L112.69 491.95 L113.84 490.9 L115 490.08 L116.15 490.2 L117.3 489.55 L118.45 489.67 L119.6 489.9 L120.76 490.99 L121.91 491.34 L123.06 492.34 L124.21 492.98 L125.36 494.02 L126.52 495.23 L127.67 495.76 L128.82 496.59 L129.97 497.39 L131.12 497.85 L132.28 498.43 L133.43 498.74 L134.58 499.06 L135.73 499.31 L136.88 499.44 L138.04 499.57 L139.19 499.65 L140.34 499.7" fill="none" stroke="#4a4f4c" stroke-width="0.8"/>
<line x1="74.8" y1="510.3" x2="236" y2="510.3" stroke="#cfe3f7" stroke-width="0.7" />
<path d="M133.38 510.3 L133.38 510.29 L134.6 510.28 L135.81 510.27 L137.03 510.24 L138.24 510.19 L139.46 510.12 L140.68 510 L141.89 509.81 L143.11 509.54 L144.32 509.15 L145.54 508.63 L146.76 507.97 L147.97 507.15 L149.19 506.19 L150.4 505.12 L151.62 504.01 L152.84 502.92 L154.05 501.94 L155.27 501.17 L156.48 500.67 L157.7 500.5 L158.92 500.59 L160.13 500.87 L161.35 501.32 L162.56 501.91 L163.78 502.61 L165 503.38 L166.21 504.2 L167.43 505.03 L168.64 505.83 L169.86 506.58 L171.08 507.26 L172.29 507.87 L173.51 508.39 L174.72 508.83 L175.94 509.19 L177.16 509.48 L178.37 509.7 L179.59 509.87 L180.8 510 L182.02 510.1 L182.02 510.3 Z" fill="#9ccaf2" stroke="none"/>
<path d="M133.38 510.29 L134.6 510.28 L135.81 510.27 L137.03 510.24 L138.24 510.19 L139.46 510.12 L140.68 510 L141.89 509.81 L143.11 509.54 L144.32 509.15 L145.54 508.63 L146.76 507.97 L147.97 507.15 L149.19 506.19 L150.4 505.12 L151.62 504.01 L152.84 502.92 L154.05 501.94 L155.27 501.17 L156.48 500.67 L157.7 500.5 L158.92 500.59 L160.13 500.87 L161.35 501.32 L162.56 501.91 L163.78 502.61 L165 503.38 L166.21 504.2 L167.43 505.03 L168.64 505.83 L169.86 506.58 L171.08 507.26 L172.29 507.87 L173.51 508.39 L174.72 508.83 L175.94 509.19 L177.16 509.48 L178.37 509.7 L179.59 509.87 L180.8 510 L182.02 510.1" fill="none" stroke="#3f8ee6" stroke-width="0.8"/>
<line x1="74.8" y1="521.4" x2="236" y2="521.4" stroke="#cdeec0" stroke-width="0.7" />
<path d="M130 521.4 L130 521.38 L130.96 521.37 L131.92 521.34 L132.88 521.29 L133.84 521.22 L134.8 521.11 L135.76 520.94 L136.72 520.69 L137.68 520.35 L138.64 519.89 L139.6 519.3 L140.56 518.56 L141.52 517.69 L142.48 516.7 L143.44 515.63 L144.4 514.53 L145.36 513.48 L146.32 512.55 L147.28 511.82 L148.24 511.36 L149.2 511.2 L150.16 511.31 L151.12 511.62 L152.08 512.13 L153.04 512.79 L154 513.57 L154.96 514.43 L155.92 515.33 L156.88 516.22 L157.84 517.07 L158.8 517.86 L159.76 518.56 L160.72 519.18 L161.68 519.69 L162.64 520.12 L163.6 520.46 L164.56 520.72 L165.52 520.92 L166.48 521.07 L167.44 521.18 L168.4 521.25 L168.4 521.4 Z" fill="#88e060" stroke="none"/>
<path d="M130 521.38 L130.96 521.37 L131.92 521.34 L132.88 521.29 L133.84 521.22 L134.8 521.11 L135.76 520.94 L136.72 520.69 L137.68 520.35 L138.64 519.89 L139.6 519.3 L140.56 518.56 L141.52 517.69 L142.48 516.7 L143.44 515.63 L144.4 514.53 L145.36 513.48 L146.32 512.55 L147.28 511.82 L148.24 511.36 L149.2 511.2 L150.16 511.31 L151.12 511.62 L152.08 512.13 L153.04 512.79 L154 513.57 L154.96 514.43 L155.92 515.33 L156.88 516.22 L157.84 517.07 L158.8 517.86 L159.76 518.56 L160.72 519.18 L161.68 519.69 L162.64 520.12 L163.6 520.46 L164.56 520.72 L165.52 520.92 L166.48 521.07 L167.44 521.18 L168.4 521.25" fill="none" stroke="#3cc820" stroke-width="0.8"/>
<line x1="74.8" y1="531.9" x2="236" y2="531.9" stroke="#e9eec0" stroke-width="0.7" />
<path d="M128.4 531.9 L128.4 531.89 L129.52 531.88 L130.64 531.87 L131.76 531.84 L132.88 531.79 L134 531.71 L135.12 531.59 L136.24 531.4 L137.36 531.12 L138.48 530.73 L139.6 530.2 L140.72 529.52 L141.84 528.68 L142.96 527.7 L144.08 526.62 L145.2 525.48 L146.32 524.37 L147.44 523.37 L148.56 522.58 L149.68 522.08 L150.8 521.9 L151.92 522 L153.04 522.28 L154.16 522.73 L155.28 523.33 L156.4 524.05 L157.52 524.84 L158.64 525.68 L159.76 526.52 L160.88 527.33 L162 528.1 L163.12 528.8 L164.24 529.42 L165.36 529.95 L166.48 530.4 L167.6 530.77 L168.72 531.06 L169.84 531.29 L170.96 531.47 L172.08 531.6 L173.2 531.69 L173.2 531.9 Z" fill="#d4dc78" stroke="none"/>
<path d="M128.4 531.89 L129.52 531.88 L130.64 531.87 L131.76 531.84 L132.88 531.79 L134 531.71 L135.12 531.59 L136.24 531.4 L137.36 531.12 L138.48 530.73 L139.6 530.2 L140.72 529.52 L141.84 528.68 L142.96 527.7 L144.08 526.62 L145.2 525.48 L146.32 524.37 L147.44 523.37 L148.56 522.58 L149.68 522.08 L150.8 521.9 L151.92 522 L153.04 522.28 L154.16 522.73 L155.28 523.33 L156.4 524.05 L157.52 524.84 L158.64 525.68 L159.76 526.52 L160.88 527.33 L162 528.1 L163.12 528.8 L164.24 529.42 L165.36 529.95 L166.48 530.4 L167.6 530.77 L168.72 531.06 L169.84 531.29 L170.96 531.47 L172.08 531.6 L173.2 531.69" fill="none" stroke="#b0bc2a" stroke-width="0.8"/>
<line x1="74.8" y1="542.5" x2="236" y2="542.5" stroke="#f2c8d4" stroke-width="0.7" />
<path d="M116.84 542.5 L116.84 542.48 L117.69 542.47 L118.54 542.44 L119.38 542.39 L120.23 542.32 L121.08 542.21 L121.93 542.04 L122.78 541.79 L123.62 541.45 L124.47 540.99 L125.32 540.4 L126.17 539.66 L127.02 538.79 L127.86 537.8 L128.71 536.73 L129.56 535.63 L130.41 534.58 L131.26 533.65 L132.1 532.92 L132.95 532.46 L133.8 532.3 L134.65 532.41 L135.5 532.72 L136.34 533.23 L137.19 533.89 L138.04 534.67 L138.89 535.53 L139.74 536.43 L140.58 537.32 L141.43 538.17 L142.28 538.96 L143.13 539.66 L143.98 540.28 L144.82 540.79 L145.67 541.22 L146.52 541.56 L147.37 541.82 L148.22 542.02 L149.06 542.17 L149.91 542.28 L150.76 542.35 L150.76 542.5 Z" fill="#dc6c8c" stroke="none"/>
<path d="M116.84 542.48 L117.69 542.47 L118.54 542.44 L119.38 542.39 L120.23 542.32 L121.08 542.21 L121.93 542.04 L122.78 541.79 L123.62 541.45 L124.47 540.99 L125.32 540.4 L126.17 539.66 L127.02 538.79 L127.86 537.8 L128.71 536.73 L129.56 535.63 L130.41 534.58 L131.26 533.65 L132.1 532.92 L132.95 532.46 L133.8 532.3 L134.65 532.41 L135.5 532.72 L136.34 533.23 L137.19 533.89 L138.04 534.67 L138.89 535.53 L139.74 536.43 L140.58 537.32 L141.43 538.17 L142.28 538.96 L143.13 539.66 L143.98 540.28 L144.82 540.79 L145.67 541.22 L146.52 541.56 L147.37 541.82 L148.22 542.02 L149.06 542.17 L149.91 542.28 L150.76 542.35" fill="none" stroke="#c4284c" stroke-width="0.8"/>
<path d="M121.06 553.1 L121.06 553.08 L121.89 553.07 L122.72 553.04 L123.56 552.99 L124.39 552.92 L125.22 552.81 L126.05 552.63 L126.88 552.39 L127.72 552.04 L128.55 551.58 L129.38 550.98 L130.21 550.24 L131.04 549.35 L131.88 548.35 L132.71 547.27 L133.54 546.16 L134.37 545.1 L135.2 544.17 L136.04 543.43 L136.87 542.96 L137.7 542.8 L138.53 542.91 L139.36 543.23 L140.2 543.74 L141.03 544.4 L141.86 545.19 L142.69 546.06 L143.52 546.97 L144.36 547.87 L145.19 548.73 L146.02 549.52 L146.85 550.24 L147.68 550.85 L148.52 551.38 L149.35 551.8 L150.18 552.15 L151.01 552.41 L151.84 552.62 L152.68 552.77 L153.51 552.87 L154.34 552.95 L154.34 553.1 Z" fill="#d678f2" stroke="none"/>
<path d="M121.06 553.08 L121.89 553.07 L122.72 553.04 L123.56 552.99 L124.39 552.92 L125.22 552.81 L126.05 552.63 L126.88 552.39 L127.72 552.04 L128.55 551.58 L129.38 550.98 L130.21 550.24 L131.04 549.35 L131.88 548.35 L132.71 547.27 L133.54 546.16 L134.37 545.1 L135.2 544.17 L136.04 543.43 L136.87 542.96 L137.7 542.8 L138.53 542.91 L139.36 543.23 L140.2 543.74 L141.03 544.4 L141.86 545.19 L142.69 546.06 L143.52 546.97 L144.36 547.87 L145.19 548.73 L146.02 549.52 L146.85 550.24 L147.68 550.85 L148.52 551.38 L149.35 551.8 L150.18 552.15 L151.01 552.41 L151.84 552.62 L152.68 552.77 L153.51 552.87 L154.34 552.95" fill="none" stroke="#a838d8" stroke-width="0.8"/>
<line x1="146.2" y1="488.5" x2="146.2" y2="553" stroke="#111" stroke-width="1.3" />
<text x="232.2" y="496.5" font-size="8.2" text-anchor="end" font-weight="normal" fill="#111" textLength="44" lengthAdjust="spacingAndGlyphs" >Control Ab</text>
<text x="232.2" y="507.25" font-size="8.2" text-anchor="end" font-weight="normal" fill="#111" textLength="26.4" lengthAdjust="spacingAndGlyphs" >DMSO</text>
<text x="232.2" y="518" font-size="8.2" text-anchor="end" font-weight="normal" fill="#111" textLength="36" lengthAdjust="spacingAndGlyphs" >IB-0.5μM</text>
<text x="232.2" y="528.75" font-size="8.2" text-anchor="end" font-weight="normal" fill="#111" textLength="36" lengthAdjust="spacingAndGlyphs" >IB-0.1μM</text>
<text x="232.2" y="539.5" font-size="8.2" text-anchor="end" font-weight="normal" fill="#111" textLength="40.4" lengthAdjust="spacingAndGlyphs" >KIN-0.5μM</text>
<text x="232.2" y="550.25" font-size="8.2" text-anchor="end" font-weight="normal" fill="#111" textLength="40.4" lengthAdjust="spacingAndGlyphs" >KIN-0.1μM</text>
<line x1="78.3" y1="553.4" x2="78.3" y2="554.9" stroke="#777" stroke-width="0.5" />
<rect x="75.8" y="556.6" width="2.4" height="1.0" fill="#aaa" transform="rotate(-30 78.3 556.6)"/>
<line x1="116.8" y1="553.4" x2="116.8" y2="554.9" stroke="#777" stroke-width="0.5" />
<rect x="114.3" y="556.6" width="2.4" height="1.0" fill="#aaa" transform="rotate(-30 116.8 556.6)"/>
<line x1="155.3" y1="553.4" x2="155.3" y2="554.9" stroke="#777" stroke-width="0.5" />
<rect x="152.8" y="556.6" width="2.4" height="1.0" fill="#aaa" transform="rotate(-30 155.3 556.6)"/>
<line x1="193.8" y1="553.4" x2="193.8" y2="554.9" stroke="#777" stroke-width="0.5" />
<rect x="191.3" y="556.6" width="2.4" height="1.0" fill="#aaa" transform="rotate(-30 193.8 556.6)"/>
<line x1="232.3" y1="553.4" x2="232.3" y2="554.9" stroke="#777" stroke-width="0.5" />
<rect x="229.8" y="556.6" width="2.4" height="1.0" fill="#aaa" transform="rotate(-30 232.3 556.6)"/>
<line x1="78.3" y1="553.4" x2="78.3" y2="554.3" stroke="#aaa" stroke-width="0.4" />
<line x1="87.9" y1="553.4" x2="87.9" y2="554.3" stroke="#aaa" stroke-width="0.4" />
<line x1="97.5" y1="553.4" x2="97.5" y2="554.3" stroke="#aaa" stroke-width="0.4" />
<line x1="107.1" y1="553.4" x2="107.1" y2="554.3" stroke="#aaa" stroke-width="0.4" />
<line x1="116.7" y1="553.4" x2="116.7" y2="554.3" stroke="#aaa" stroke-width="0.4" />
<line x1="126.3" y1="553.4" x2="126.3" y2="554.3" stroke="#aaa" stroke-width="0.4" />
<line x1="135.9" y1="553.4" x2="135.9" y2="554.3" stroke="#aaa" stroke-width="0.4" />
<line x1="145.5" y1="553.4" x2="145.5" y2="554.3" stroke="#aaa" stroke-width="0.4" />
<line x1="155.1" y1="553.4" x2="155.1" y2="554.3" stroke="#aaa" stroke-width="0.4" />
<line x1="164.7" y1="553.4" x2="164.7" y2="554.3" stroke="#aaa" stroke-width="0.4" />
<line x1="174.3" y1="553.4" x2="174.3" y2="554.3" stroke="#aaa" stroke-width="0.4" />
<line x1="183.9" y1="553.4" x2="183.9" y2="554.3" stroke="#aaa" stroke-width="0.4" />
<line x1="193.5" y1="553.4" x2="193.5" y2="554.3" stroke="#aaa" stroke-width="0.4" />
<line x1="203.1" y1="553.4" x2="203.1" y2="554.3" stroke="#aaa" stroke-width="0.4" />
<line x1="212.7" y1="553.4" x2="212.7" y2="554.3" stroke="#aaa" stroke-width="0.4" />
<line x1="222.3" y1="553.4" x2="222.3" y2="554.3" stroke="#aaa" stroke-width="0.4" />
<rect x="92.3" y="553.7" width="3" height="1.2" fill="#333"/>
<rect x="74.3" y="561.6" width="162.2" height="65.3" fill="#fff" stroke="#9a9a9a" stroke-width="0.7"/>
<line x1="74.8" y1="573.3" x2="236" y2="573.3" stroke="#d6dcd9" stroke-width="0.7" />
<path d="M92.32 573.3 L92.32 573.27 L93.5 573.24 L94.69 573.2 L95.87 573.13 L97.06 573.04 L98.24 572.9 L99.42 572.7 L100.61 572.4 L101.79 572 L102.98 571.46 L104.16 570.91 L105.34 570.01 L106.53 569.39 L107.71 568.25 L108.9 567.52 L110.08 566.44 L111.26 565.57 L112.45 564.16 L113.63 563.72 L114.82 563.4 L116 563.01 L117.18 563.06 L118.37 563.85 L119.55 564.03 L120.74 565.13 L121.92 565.7 L123.1 566.54 L124.29 567.69 L125.47 568.48 L126.66 569.32 L127.84 570.27 L129.02 570.79 L130.21 571.47 L131.39 571.92 L132.58 572.29 L133.76 572.58 L134.94 572.77 L136.13 572.95 L137.31 573.06 L138.5 573.15 L139.68 573.2 L139.68 573.3 Z" fill="#c6cfcb" stroke="none"/>
<path d="M92.32 573.27 L93.5 573.24 L94.69 573.2 L95.87 573.13 L97.06 573.04 L98.24 572.9 L99.42 572.7 L100.61 572.4 L101.79 572 L102.98 571.46 L104.16 570.91 L105.34 570.01 L106.53 569.39 L107.71 568.25 L108.9 567.52 L110.08 566.44 L111.26 565.57 L112.45 564.16 L113.63 563.72 L114.82 563.4 L116 563.01 L117.18 563.06 L118.37 563.85 L119.55 564.03 L120.74 565.13 L121.92 565.7 L123.1 566.54 L124.29 567.69 L125.47 568.48 L126.66 569.32 L127.84 570.27 L129.02 570.79 L130.21 571.47 L131.39 571.92 L132.58 572.29 L133.76 572.58 L134.94 572.77 L136.13 572.95 L137.31 573.06 L138.5 573.15 L139.68 573.2" fill="none" stroke="#4a4f4c" stroke-width="0.8"/>
<line x1="74.8" y1="583.8" x2="236" y2="583.8" stroke="#cfe3f7" stroke-width="0.7" />
<path d="M134.04 583.8 L134.04 583.79 L135.29 583.78 L136.54 583.77 L137.78 583.74 L139.03 583.69 L140.28 583.62 L141.53 583.5 L142.78 583.31 L144.02 583.04 L145.27 582.65 L146.52 582.13 L147.77 581.47 L149.02 580.65 L150.26 579.69 L151.51 578.62 L152.76 577.51 L154.01 576.42 L155.26 575.44 L156.5 574.67 L157.75 574.17 L159 574 L160.25 574.09 L161.5 574.37 L162.74 574.82 L163.99 575.41 L165.24 576.11 L166.49 576.88 L167.74 577.7 L168.98 578.53 L170.23 579.33 L171.48 580.08 L172.73 580.76 L173.98 581.37 L175.22 581.89 L176.47 582.33 L177.72 582.69 L178.97 582.98 L180.22 583.2 L181.46 583.37 L182.71 583.5 L183.96 583.6 L183.96 583.8 Z" fill="#9ccaf2" stroke="none"/>
<path d="M134.04 583.79 L135.29 583.78 L136.54 583.77 L137.78 583.74 L139.03 583.69 L140.28 583.62 L141.53 583.5 L142.78 583.31 L144.02 583.04 L145.27 582.65 L146.52 582.13 L147.77 581.47 L149.02 580.65 L150.26 579.69 L151.51 578.62 L152.76 577.51 L154.01 576.42 L155.26 575.44 L156.5 574.67 L157.75 574.17 L159 574 L160.25 574.09 L161.5 574.37 L162.74 574.82 L163.99 575.41 L165.24 576.11 L166.49 576.88 L167.74 577.7 L168.98 578.53 L170.23 579.33 L171.48 580.08 L172.73 580.76 L173.98 581.37 L175.22 581.89 L176.47 582.33 L177.72 582.69 L178.97 582.98 L180.22 583.2 L181.46 583.37 L182.71 583.5 L183.96 583.6" fill="none" stroke="#3f8ee6" stroke-width="0.8"/>
<line x1="74.8" y1="594.9" x2="236" y2="594.9" stroke="#cdeec0" stroke-width="0.7" />
<path d="M130.16 594.9 L130.16 594.88 L131.15 594.87 L132.14 594.84 L133.14 594.79 L134.13 594.72 L135.12 594.61 L136.11 594.44 L137.1 594.19 L138.1 593.85 L139.09 593.39 L140.08 592.8 L141.07 592.06 L142.06 591.19 L143.06 590.2 L144.05 589.13 L145.04 588.03 L146.03 586.98 L147.02 586.05 L148.02 585.32 L149.01 584.86 L150 584.7 L150.99 584.81 L151.98 585.12 L152.98 585.63 L153.97 586.29 L154.96 587.07 L155.95 587.93 L156.94 588.83 L157.94 589.72 L158.93 590.57 L159.92 591.36 L160.91 592.06 L161.9 592.68 L162.9 593.19 L163.89 593.62 L164.88 593.96 L165.87 594.22 L166.86 594.42 L167.86 594.57 L168.85 594.68 L169.84 594.75 L169.84 594.9 Z" fill="#88e060" stroke="none"/>
<path d="M130.16 594.88 L131.15 594.87 L132.14 594.84 L133.14 594.79 L134.13 594.72 L135.12 594.61 L136.11 594.44 L137.1 594.19 L138.1 593.85 L139.09 593.39 L140.08 592.8 L141.07 592.06 L142.06 591.19 L143.06 590.2 L144.05 589.13 L145.04 588.03 L146.03 586.98 L147.02 586.05 L148.02 585.32 L149.01 584.86 L150 584.7 L150.99 584.81 L151.98 585.12 L152.98 585.63 L153.97 586.29 L154.96 587.07 L155.95 587.93 L156.94 588.83 L157.94 589.72 L158.93 590.57 L159.92 591.36 L160.91 592.06 L161.9 592.68 L162.9 593.19 L163.89 593.62 L164.88 593.96 L165.87 594.22 L166.86 594.42 L167.86 594.57 L168.85 594.68 L169.84 594.75" fill="none" stroke="#3cc820" stroke-width="0.8"/>
<line x1="74.8" y1="605.4" x2="236" y2="605.4" stroke="#e9eec0" stroke-width="0.7" />
<path d="M127.82 605.4 L127.82 605.39 L129 605.38 L130.19 605.37 L131.37 605.34 L132.56 605.29 L133.74 605.21 L134.92 605.09 L136.11 604.9 L137.29 604.62 L138.48 604.23 L139.66 603.7 L140.84 603.02 L142.03 602.18 L143.21 601.2 L144.4 600.12 L145.58 598.98 L146.76 597.87 L147.95 596.87 L149.13 596.08 L150.32 595.58 L151.5 595.4 L152.68 595.5 L153.87 595.78 L155.05 596.23 L156.24 596.83 L157.42 597.55 L158.6 598.34 L159.79 599.18 L160.97 600.02 L162.16 600.83 L163.34 601.6 L164.52 602.3 L165.71 602.92 L166.89 603.45 L168.08 603.9 L169.26 604.27 L170.44 604.56 L171.63 604.79 L172.81 604.97 L174 605.1 L175.18 605.19 L175.18 605.4 Z" fill="#d4dc78" stroke="none"/>
<path d="M127.82 605.39 L129 605.38 L130.19 605.37 L131.37 605.34 L132.56 605.29 L133.74 605.21 L134.92 605.09 L136.11 604.9 L137.29 604.62 L138.48 604.23 L139.66 603.7 L140.84 603.02 L142.03 602.18 L143.21 601.2 L144.4 600.12 L145.58 598.98 L146.76 597.87 L147.95 596.87 L149.13 596.08 L150.32 595.58 L151.5 595.4 L152.68 595.5 L153.87 595.78 L155.05 596.23 L156.24 596.83 L157.42 597.55 L158.6 598.34 L159.79 599.18 L160.97 600.02 L162.16 600.83 L163.34 601.6 L164.52 602.3 L165.71 602.92 L166.89 603.45 L168.08 603.9 L169.26 604.27 L170.44 604.56 L171.63 604.79 L172.81 604.97 L174 605.1 L175.18 605.19" fill="none" stroke="#b0bc2a" stroke-width="0.8"/>
<line x1="74.8" y1="616" x2="236" y2="616" stroke="#f2c8d4" stroke-width="0.7" />
<path d="M117.04 616 L117.04 615.98 L117.89 615.97 L118.74 615.94 L119.58 615.89 L120.43 615.82 L121.28 615.71 L122.13 615.54 L122.98 615.29 L123.82 614.95 L124.67 614.49 L125.52 613.9 L126.37 613.16 L127.22 612.29 L128.06 611.3 L128.91 610.23 L129.76 609.13 L130.61 608.08 L131.46 607.15 L132.3 606.42 L133.15 605.96 L134 605.8 L134.85 605.91 L135.7 606.22 L136.54 606.73 L137.39 607.39 L138.24 608.17 L139.09 609.03 L139.94 609.93 L140.78 610.82 L141.63 611.67 L142.48 612.46 L143.33 613.16 L144.18 613.78 L145.02 614.29 L145.87 614.72 L146.72 615.06 L147.57 615.32 L148.42 615.52 L149.26 615.67 L150.11 615.78 L150.96 615.85 L150.96 616 Z" fill="#dc6c8c" stroke="none"/>
<path d="M117.04 615.98 L117.89 615.97 L118.74 615.94 L119.58 615.89 L120.43 615.82 L121.28 615.71 L122.13 615.54 L122.98 615.29 L123.82 614.95 L124.67 614.49 L125.52 613.9 L126.37 613.16 L127.22 612.29 L128.06 611.3 L128.91 610.23 L129.76 609.13 L130.61 608.08 L131.46 607.15 L132.3 606.42 L133.15 605.96 L134 605.8 L134.85 605.91 L135.7 606.22 L136.54 606.73 L137.39 607.39 L138.24 608.17 L139.09 609.03 L139.94 609.93 L140.78 610.82 L141.63 611.67 L142.48 612.46 L143.33 613.16 L144.18 613.78 L145.02 614.29 L145.87 614.72 L146.72 615.06 L147.57 615.32 L148.42 615.52 L149.26 615.67 L150.11 615.78 L150.96 615.85" fill="none" stroke="#c4284c" stroke-width="0.8"/>
<path d="M120.86 626.6 L120.86 626.58 L121.69 626.57 L122.52 626.54 L123.36 626.49 L124.19 626.42 L125.02 626.31 L125.85 626.13 L126.68 625.89 L127.52 625.54 L128.35 625.08 L129.18 624.48 L130.01 623.74 L130.84 622.85 L131.68 621.85 L132.51 620.77 L133.34 619.66 L134.17 618.6 L135 617.67 L135.84 616.93 L136.67 616.46 L137.5 616.3 L138.33 616.41 L139.16 616.73 L140 617.24 L140.83 617.9 L141.66 618.69 L142.49 619.56 L143.32 620.47 L144.16 621.37 L144.99 622.23 L145.82 623.02 L146.65 623.74 L147.48 624.35 L148.32 624.88 L149.15 625.3 L149.98 625.65 L150.81 625.91 L151.64 626.12 L152.48 626.27 L153.31 626.37 L154.14 626.45 L154.14 626.6 Z" fill="#d678f2" stroke="none"/>
<path d="M120.86 626.58 L121.69 626.57 L122.52 626.54 L123.36 626.49 L124.19 626.42 L125.02 626.31 L125.85 626.13 L126.68 625.89 L127.52 625.54 L128.35 625.08 L129.18 624.48 L130.01 623.74 L130.84 622.85 L131.68 621.85 L132.51 620.77 L133.34 619.66 L134.17 618.6 L135 617.67 L135.84 616.93 L136.67 616.46 L137.5 616.3 L138.33 616.41 L139.16 616.73 L140 617.24 L140.83 617.9 L141.66 618.69 L142.49 619.56 L143.32 620.47 L144.16 621.37 L144.99 622.23 L145.82 623.02 L146.65 623.74 L147.48 624.35 L148.32 624.88 L149.15 625.3 L149.98 625.65 L150.81 625.91 L151.64 626.12 L152.48 626.27 L153.31 626.37 L154.14 626.45" fill="none" stroke="#a838d8" stroke-width="0.8"/>
<line x1="146.2" y1="562" x2="146.2" y2="626.5" stroke="#111" stroke-width="1.3" />
<text x="232.2" y="570" font-size="8.2" text-anchor="end" font-weight="normal" fill="#111" textLength="44" lengthAdjust="spacingAndGlyphs" >Control Ab</text>
<text x="232.2" y="580.75" font-size="8.2" text-anchor="end" font-weight="normal" fill="#111" textLength="26.4" lengthAdjust="spacingAndGlyphs" >DMSO</text>
<text x="232.2" y="591.5" font-size="8.2" text-anchor="end" font-weight="normal" fill="#111" textLength="36" lengthAdjust="spacingAndGlyphs" >IB-0.5μM</text>
<text x="232.2" y="602.25" font-size="8.2" text-anchor="end" font-weight="normal" fill="#111" textLength="36" lengthAdjust="spacingAndGlyphs" >IB-0.1μM</text>
<text x="232.2" y="613" font-size="8.2" text-anchor="end" font-weight="normal" fill="#111" textLength="40.4" lengthAdjust="spacingAndGlyphs" >KIN-0.5μM</text>
<text x="232.2" y="623.75" font-size="8.2" text-anchor="end" font-weight="normal" fill="#111" textLength="40.4" lengthAdjust="spacingAndGlyphs" >KIN-0.1μM</text>
<line x1="78.3" y1="626.9" x2="78.3" y2="628.4" stroke="#777" stroke-width="0.5" />
<rect x="75.8" y="630.1" width="2.4" height="1.0" fill="#aaa" transform="rotate(-30 78.3 630.1)"/>
<line x1="116.8" y1="626.9" x2="116.8" y2="628.4" stroke="#777" stroke-width="0.5" />
<rect x="114.3" y="630.1" width="2.4" height="1.0" fill="#aaa" transform="rotate(-30 116.8 630.1)"/>
<line x1="155.3" y1="626.9" x2="155.3" y2="628.4" stroke="#777" stroke-width="0.5" />
<rect x="152.8" y="630.1" width="2.4" height="1.0" fill="#aaa" transform="rotate(-30 155.3 630.1)"/>
<line x1="193.8" y1="626.9" x2="193.8" y2="628.4" stroke="#777" stroke-width="0.5" />
<rect x="191.3" y="630.1" width="2.4" height="1.0" fill="#aaa" transform="rotate(-30 193.8 630.1)"/>
<line x1="232.3" y1="626.9" x2="232.3" y2="628.4" stroke="#777" stroke-width="0.5" />
<rect x="229.8" y="630.1" width="2.4" height="1.0" fill="#aaa" transform="rotate(-30 232.3 630.1)"/>
<line x1="78.3" y1="626.9" x2="78.3" y2="627.8" stroke="#aaa" stroke-width="0.4" />
<line x1="87.9" y1="626.9" x2="87.9" y2="627.8" stroke="#aaa" stroke-width="0.4" />
<line x1="97.5" y1="626.9" x2="97.5" y2="627.8" stroke="#aaa" stroke-width="0.4" />
<line x1="107.1" y1="626.9" x2="107.1" y2="627.8" stroke="#aaa" stroke-width="0.4" />
<line x1="116.7" y1="626.9" x2="116.7" y2="627.8" stroke="#aaa" stroke-width="0.4" />
<line x1="126.3" y1="626.9" x2="126.3" y2="627.8" stroke="#aaa" stroke-width="0.4" />
<line x1="135.9" y1="626.9" x2="135.9" y2="627.8" stroke="#aaa" stroke-width="0.4" />
<line x1="145.5" y1="626.9" x2="145.5" y2="627.8" stroke="#aaa" stroke-width="0.4" />
<line x1="155.1" y1="626.9" x2="155.1" y2="627.8" stroke="#aaa" stroke-width="0.4" />
<line x1="164.7" y1="626.9" x2="164.7" y2="627.8" stroke="#aaa" stroke-width="0.4" />
<line x1="174.3" y1="626.9" x2="174.3" y2="627.8" stroke="#aaa" stroke-width="0.4" />
<line x1="183.9" y1="626.9" x2="183.9" y2="627.8" stroke="#aaa" stroke-width="0.4" />
<line x1="193.5" y1="626.9" x2="193.5" y2="627.8" stroke="#aaa" stroke-width="0.4" />
<line x1="203.1" y1="626.9" x2="203.1" y2="627.8" stroke="#aaa" stroke-width="0.4" />
<line x1="212.7" y1="626.9" x2="212.7" y2="627.8" stroke="#aaa" stroke-width="0.4" />
<line x1="222.3" y1="626.9" x2="222.3" y2="627.8" stroke="#aaa" stroke-width="0.4" />
<rect x="92.3" y="627.2" width="3" height="1.2" fill="#333"/>
<line x1="56.6" y1="415.6" x2="56.6" y2="624.8" stroke="#111" stroke-width="1.3" />
<text transform="translate(52.7,536.8) rotate(-90)" font-size="11.5" font-weight="normal" fill="#111" textLength="32.3" lengthAdjust="spacingAndGlyphs">BCWM.1</text>
<text transform="translate(70.8,460.9) rotate(-90)" font-size="9.8" font-weight="normal" fill="#111" textLength="28" lengthAdjust="spacingAndGlyphs">Vector</text>
<text transform="translate(71,533.8) rotate(-90)" font-size="9.5" font-weight="normal" fill="#111" textLength="16.6" lengthAdjust="spacingAndGlyphs">BTK</text>
<text transform="translate(66.4,516.5) rotate(-90)" font-size="7.4" font-weight="normal" fill="#111" textLength="10.8" lengthAdjust="spacingAndGlyphs">WT</text>
<text transform="translate(70.8,620.1) rotate(-90)" font-size="9.5" font-weight="normal" fill="#111" textLength="16.2" lengthAdjust="spacingAndGlyphs">BTK</text>
<text transform="translate(66.8,605) rotate(-90)" font-size="7.7" font-weight="normal" fill="#111" textLength="36.7" lengthAdjust="spacingAndGlyphs">Cys481Ser</text>
<line x1="74.6" y1="634.9" x2="234.3" y2="634.9" stroke="#111" stroke-width="1.3" />
<path d="M237.3 634.9 l-5.6 -2.5 v5 z" fill="#111"/>
<text x="143.6" y="647.3" font-size="11" text-anchor="start" font-weight="normal" fill="#111" textLength="25.2" lengthAdjust="spacingAndGlyphs" >p-HCK</text>
<rect x="323.8" y="414.1" width="162.2" height="65.3" fill="#fff" stroke="#9a9a9a" stroke-width="0.7"/>
<line x1="324.3" y1="425.8" x2="485.5" y2="425.8" stroke="#d6dcd9" stroke-width="0.7" />
<path d="M333.8 425.8 L333.8 425.8 L335.08 425.8 L336.36 425.8 L337.64 425.79 L338.92 425.77 L340.2 425.73 L341.48 425.64 L342.76 425.46 L344.04 425.17 L345.32 424.73 L346.6 424.02 L347.88 423.26 L349.16 422.25 L350.44 420.84 L351.72 419.59 L353 418.53 L354.28 417.62 L355.56 417.39 L356.84 416.82 L358.12 416.24 L359.4 416.77 L360.68 416.58 L361.96 416.84 L363.24 416.77 L364.52 417.94 L365.8 418.92 L367.08 419.89 L368.36 420.83 L369.64 422.14 L370.92 423.14 L372.2 424.04 L373.48 424.7 L374.76 425.16 L376.04 425.47 L377.32 425.65 L378.6 425.73 L379.88 425.77 L381.16 425.79 L382.44 425.8 L383.72 425.8 L385 425.8 L385 425.8 Z" fill="#c6cfcb" stroke="none"/>
<path d="M333.8 425.8 L335.08 425.8 L336.36 425.8 L337.64 425.79 L338.92 425.77 L340.2 425.73 L341.48 425.64 L342.76 425.46 L344.04 425.17 L345.32 424.73 L346.6 424.02 L347.88 423.26 L349.16 422.25 L350.44 420.84 L351.72 419.59 L353 418.53 L354.28 417.62 L355.56 417.39 L356.84 416.82 L358.12 416.24 L359.4 416.77 L360.68 416.58 L361.96 416.84 L363.24 416.77 L364.52 417.94 L365.8 418.92 L367.08 419.89 L368.36 420.83 L369.64 422.14 L370.92 423.14 L372.2 424.04 L373.48 424.7 L374.76 425.16 L376.04 425.47 L377.32 425.65 L378.6 425.73 L379.88 425.77 L381.16 425.79 L382.44 425.8 L383.72 425.8 L385 425.8" fill="none" stroke="#4a4f4c" stroke-width="0.8"/>
<line x1="324.3" y1="436.3" x2="485.5" y2="436.3" stroke="#cfe3f7" stroke-width="0.7" />
<path d="M381.5 436.3 L381.5 436.3 L382.54 436.29 L383.58 436.28 L384.62 436.27 L385.66 436.24 L386.7 436.19 L387.74 436.1 L388.78 435.96 L389.82 435.74 L390.86 435.41 L391.9 434.95 L392.94 434.32 L393.98 433.52 L395.02 432.55 L396.06 431.43 L397.1 430.23 L398.14 429.04 L399.18 427.95 L400.22 427.07 L401.26 426.5 L402.3 426.3 L403.34 426.39 L404.38 426.65 L405.42 427.07 L406.46 427.63 L407.5 428.29 L408.54 429.04 L409.58 429.83 L410.62 430.64 L411.66 431.43 L412.7 432.19 L413.74 432.89 L414.78 433.52 L415.82 434.07 L416.86 434.55 L417.9 434.95 L418.94 435.27 L419.98 435.53 L421.02 435.74 L422.06 435.9 L423.1 436.01 L423.1 436.3 Z" fill="#9ccaf2" stroke="none"/>
<path d="M381.5 436.3 L382.54 436.29 L383.58 436.28 L384.62 436.27 L385.66 436.24 L386.7 436.19 L387.74 436.1 L388.78 435.96 L389.82 435.74 L390.86 435.41 L391.9 434.95 L392.94 434.32 L393.98 433.52 L395.02 432.55 L396.06 431.43 L397.1 430.23 L398.14 429.04 L399.18 427.95 L400.22 427.07 L401.26 426.5 L402.3 426.3 L403.34 426.39 L404.38 426.65 L405.42 427.07 L406.46 427.63 L407.5 428.29 L408.54 429.04 L409.58 429.83 L410.62 430.64 L411.66 431.43 L412.7 432.19 L413.74 432.89 L414.78 433.52 L415.82 434.07 L416.86 434.55 L417.9 434.95 L418.94 435.27 L419.98 435.53 L421.02 435.74 L422.06 435.9 L423.1 436.01" fill="none" stroke="#3f8ee6" stroke-width="0.8"/>
<line x1="324.3" y1="447.4" x2="485.5" y2="447.4" stroke="#cdeec0" stroke-width="0.7" />
<path d="M380.6 447.4 L380.6 447.4 L381.56 447.39 L382.52 447.38 L383.48 447.37 L384.44 447.34 L385.4 447.29 L386.36 447.2 L387.32 447.06 L388.28 446.84 L389.24 446.51 L390.2 446.05 L391.16 445.42 L392.12 444.62 L393.08 443.65 L394.04 442.53 L395 441.33 L395.96 440.14 L396.92 439.05 L397.88 438.17 L398.84 437.6 L399.8 437.4 L400.76 437.49 L401.72 437.75 L402.68 438.17 L403.64 438.73 L404.6 439.39 L405.56 440.14 L406.52 440.93 L407.48 441.74 L408.44 442.53 L409.4 443.29 L410.36 443.99 L411.32 444.62 L412.28 445.17 L413.24 445.65 L414.2 446.05 L415.16 446.37 L416.12 446.63 L417.08 446.84 L418.04 447 L419 447.11 L419 447.4 Z" fill="#88e060" stroke="none"/>
<path d="M380.6 447.4 L381.56 447.39 L382.52 447.38 L383.48 447.37 L384.44 447.34 L385.4 447.29 L386.36 447.2 L387.32 447.06 L388.28 446.84 L389.24 446.51 L390.2 446.05 L391.16 445.42 L392.12 444.62 L393.08 443.65 L394.04 442.53 L395 441.33 L395.96 440.14 L396.92 439.05 L397.88 438.17 L398.84 437.6 L399.8 437.4 L400.76 437.49 L401.72 437.75 L402.68 438.17 L403.64 438.73 L404.6 439.39 L405.56 440.14 L406.52 440.93 L407.48 441.74 L408.44 442.53 L409.4 443.29 L410.36 443.99 L411.32 444.62 L412.28 445.17 L413.24 445.65 L414.2 446.05 L415.16 446.37 L416.12 446.63 L417.08 446.84 L418.04 447 L419 447.11" fill="none" stroke="#3cc820" stroke-width="0.8"/>
<line x1="324.3" y1="457.9" x2="485.5" y2="457.9" stroke="#e9eec0" stroke-width="0.7" />
<path d="M378.4 457.9 L378.4 457.9 L379.52 457.89 L380.64 457.88 L381.76 457.87 L382.88 457.84 L384 457.79 L385.12 457.7 L386.24 457.56 L387.36 457.34 L388.48 457.01 L389.6 456.55 L390.72 455.92 L391.84 455.12 L392.96 454.15 L394.08 453.03 L395.2 451.83 L396.32 450.64 L397.44 449.55 L398.56 448.67 L399.68 448.1 L400.8 447.9 L401.92 447.99 L403.04 448.25 L404.16 448.67 L405.28 449.23 L406.4 449.89 L407.52 450.64 L408.64 451.43 L409.76 452.24 L410.88 453.03 L412 453.79 L413.12 454.49 L414.24 455.12 L415.36 455.67 L416.48 456.15 L417.6 456.55 L418.72 456.87 L419.84 457.13 L420.96 457.34 L422.08 457.5 L423.2 457.61 L423.2 457.9 Z" fill="#d4dc78" stroke="none"/>
<path d="M378.4 457.9 L379.52 457.89 L380.64 457.88 L381.76 457.87 L382.88 457.84 L384 457.79 L385.12 457.7 L386.24 457.56 L387.36 457.34 L388.48 457.01 L389.6 456.55 L390.72 455.92 L391.84 455.12 L392.96 454.15 L394.08 453.03 L395.2 451.83 L396.32 450.64 L397.44 449.55 L398.56 448.67 L399.68 448.1 L400.8 447.9 L401.92 447.99 L403.04 448.25 L404.16 448.67 L405.28 449.23 L406.4 449.89 L407.52 450.64 L408.64 451.43 L409.76 452.24 L410.88 453.03 L412 453.79 L413.12 454.49 L414.24 455.12 L415.36 455.67 L416.48 456.15 L417.6 456.55 L418.72 456.87 L419.84 457.13 L420.96 457.34 L422.08 457.5 L423.2 457.61" fill="none" stroke="#b0bc2a" stroke-width="0.8"/>
<line x1="324.3" y1="468.5" x2="485.5" y2="468.5" stroke="#f2c8d4" stroke-width="0.7" />
<path d="M366.86 468.5 L366.86 468.48 L367.69 468.47 L368.52 468.44 L369.36 468.39 L370.19 468.32 L371.02 468.21 L371.85 468.04 L372.68 467.79 L373.52 467.45 L374.35 466.99 L375.18 466.4 L376.01 465.66 L376.84 464.79 L377.68 463.8 L378.51 462.73 L379.34 461.63 L380.17 460.58 L381 459.65 L381.84 458.92 L382.67 458.46 L383.5 458.3 L384.33 458.41 L385.16 458.72 L386 459.23 L386.83 459.89 L387.66 460.67 L388.49 461.53 L389.32 462.43 L390.16 463.32 L390.99 464.17 L391.82 464.96 L392.65 465.66 L393.48 466.28 L394.32 466.79 L395.15 467.22 L395.98 467.56 L396.81 467.82 L397.64 468.02 L398.48 468.17 L399.31 468.28 L400.14 468.35 L400.14 468.5 Z" fill="#dc6c8c" stroke="none"/>
<path d="M366.86 468.48 L367.69 468.47 L368.52 468.44 L369.36 468.39 L370.19 468.32 L371.02 468.21 L371.85 468.04 L372.68 467.79 L373.52 467.45 L374.35 466.99 L375.18 466.4 L376.01 465.66 L376.84 464.79 L377.68 463.8 L378.51 462.73 L379.34 461.63 L380.17 460.58 L381 459.65 L381.84 458.92 L382.67 458.46 L383.5 458.3 L384.33 458.41 L385.16 458.72 L386 459.23 L386.83 459.89 L387.66 460.67 L388.49 461.53 L389.32 462.43 L390.16 463.32 L390.99 464.17 L391.82 464.96 L392.65 465.66 L393.48 466.28 L394.32 466.79 L395.15 467.22 L395.98 467.56 L396.81 467.82 L397.64 468.02 L398.48 468.17 L399.31 468.28 L400.14 468.35" fill="none" stroke="#c4284c" stroke-width="0.8"/>
<path d="M368.16 479.1 L368.16 479.08 L368.99 479.07 L369.82 479.04 L370.66 478.99 L371.49 478.92 L372.32 478.81 L373.15 478.63 L373.98 478.39 L374.82 478.04 L375.65 477.58 L376.48 476.98 L377.31 476.24 L378.14 475.35 L378.98 474.35 L379.81 473.27 L380.64 472.16 L381.47 471.1 L382.3 470.17 L383.14 469.43 L383.97 468.96 L384.8 468.8 L385.63 468.91 L386.46 469.23 L387.3 469.74 L388.13 470.4 L388.96 471.19 L389.79 472.06 L390.62 472.97 L391.46 473.87 L392.29 474.73 L393.12 475.52 L393.95 476.24 L394.78 476.85 L395.62 477.38 L396.45 477.8 L397.28 478.15 L398.11 478.41 L398.94 478.62 L399.78 478.77 L400.61 478.87 L401.44 478.95 L401.44 479.1 Z" fill="#d678f2" stroke="none"/>
<path d="M368.16 479.08 L368.99 479.07 L369.82 479.04 L370.66 478.99 L371.49 478.92 L372.32 478.81 L373.15 478.63 L373.98 478.39 L374.82 478.04 L375.65 477.58 L376.48 476.98 L377.31 476.24 L378.14 475.35 L378.98 474.35 L379.81 473.27 L380.64 472.16 L381.47 471.1 L382.3 470.17 L383.14 469.43 L383.97 468.96 L384.8 468.8 L385.63 468.91 L386.46 469.23 L387.3 469.74 L388.13 470.4 L388.96 471.19 L389.79 472.06 L390.62 472.97 L391.46 473.87 L392.29 474.73 L393.12 475.52 L393.95 476.24 L394.78 476.85 L395.62 477.38 L396.45 477.8 L397.28 478.15 L398.11 478.41 L398.94 478.62 L399.78 478.77 L400.61 478.87 L401.44 478.95" fill="none" stroke="#a838d8" stroke-width="0.8"/>
<line x1="395.6" y1="414.5" x2="395.6" y2="479" stroke="#111" stroke-width="1.3" />
<text x="481.7" y="422.5" font-size="8.2" text-anchor="end" font-weight="normal" fill="#111" textLength="44" lengthAdjust="spacingAndGlyphs" >Control Ab</text>
<text x="481.7" y="433.25" font-size="8.2" text-anchor="end" font-weight="normal" fill="#111" textLength="26.4" lengthAdjust="spacingAndGlyphs" >DMSO</text>
<text x="481.7" y="444" font-size="8.2" text-anchor="end" font-weight="normal" fill="#111" textLength="36" lengthAdjust="spacingAndGlyphs" >IB-0.5μM</text>
<text x="481.7" y="454.75" font-size="8.2" text-anchor="end" font-weight="normal" fill="#111" textLength="36" lengthAdjust="spacingAndGlyphs" >IB-0.1μM</text>
<text x="481.7" y="465.5" font-size="8.2" text-anchor="end" font-weight="normal" fill="#111" textLength="40.4" lengthAdjust="spacingAndGlyphs" >KIN-0.5μM</text>
<text x="481.7" y="476.25" font-size="8.2" text-anchor="end" font-weight="normal" fill="#111" textLength="40.4" lengthAdjust="spacingAndGlyphs" >KIN-0.1μM</text>
<line x1="327.8" y1="479.4" x2="327.8" y2="480.9" stroke="#777" stroke-width="0.5" />
<rect x="325.3" y="482.6" width="2.4" height="1.0" fill="#aaa" transform="rotate(-30 327.8 482.6)"/>
<line x1="366.3" y1="479.4" x2="366.3" y2="480.9" stroke="#777" stroke-width="0.5" />
<rect x="363.8" y="482.6" width="2.4" height="1.0" fill="#aaa" transform="rotate(-30 366.3 482.6)"/>
<line x1="404.8" y1="479.4" x2="404.8" y2="480.9" stroke="#777" stroke-width="0.5" />
<rect x="402.3" y="482.6" width="2.4" height="1.0" fill="#aaa" transform="rotate(-30 404.8 482.6)"/>
<line x1="443.3" y1="479.4" x2="443.3" y2="480.9" stroke="#777" stroke-width="0.5" />
<rect x="440.8" y="482.6" width="2.4" height="1.0" fill="#aaa" transform="rotate(-30 443.3 482.6)"/>
<line x1="481.8" y1="479.4" x2="481.8" y2="480.9" stroke="#777" stroke-width="0.5" />
<rect x="479.3" y="482.6" width="2.4" height="1.0" fill="#aaa" transform="rotate(-30 481.8 482.6)"/>
<line x1="327.8" y1="479.4" x2="327.8" y2="480.3" stroke="#aaa" stroke-width="0.4" />
<line x1="337.4" y1="479.4" x2="337.4" y2="480.3" stroke="#aaa" stroke-width="0.4" />
<line x1="347" y1="479.4" x2="347" y2="480.3" stroke="#aaa" stroke-width="0.4" />
<line x1="356.6" y1="479.4" x2="356.6" y2="480.3" stroke="#aaa" stroke-width="0.4" />
<line x1="366.2" y1="479.4" x2="366.2" y2="480.3" stroke="#aaa" stroke-width="0.4" />
<line x1="375.8" y1="479.4" x2="375.8" y2="480.3" stroke="#aaa" stroke-width="0.4" />
<line x1="385.4" y1="479.4" x2="385.4" y2="480.3" stroke="#aaa" stroke-width="0.4" />
<line x1="395" y1="479.4" x2="395" y2="480.3" stroke="#aaa" stroke-width="0.4" />
<line x1="404.6" y1="479.4" x2="404.6" y2="480.3" stroke="#aaa" stroke-width="0.4" />
<line x1="414.2" y1="479.4" x2="414.2" y2="480.3" stroke="#aaa" stroke-width="0.4" />
<line x1="423.8" y1="479.4" x2="423.8" y2="480.3" stroke="#aaa" stroke-width="0.4" />
<line x1="433.4" y1="479.4" x2="433.4" y2="480.3" stroke="#aaa" stroke-width="0.4" />
<line x1="443" y1="479.4" x2="443" y2="480.3" stroke="#aaa" stroke-width="0.4" />
<line x1="452.6" y1="479.4" x2="452.6" y2="480.3" stroke="#aaa" stroke-width="0.4" />
<line x1="462.2" y1="479.4" x2="462.2" y2="480.3" stroke="#aaa" stroke-width="0.4" />
<line x1="471.8" y1="479.4" x2="471.8" y2="480.3" stroke="#aaa" stroke-width="0.4" />
<rect x="341.8" y="479.7" width="3" height="1.2" fill="#333"/>
<rect x="323.8" y="488.1" width="162.2" height="65.3" fill="#fff" stroke="#9a9a9a" stroke-width="0.7"/>
<line x1="324.3" y1="499.8" x2="485.5" y2="499.8" stroke="#d6dcd9" stroke-width="0.7" />
<path d="M334.4 499.8 L334.4 499.8 L335.68 499.8 L336.96 499.8 L338.24 499.79 L339.52 499.77 L340.8 499.73 L342.08 499.64 L343.36 499.46 L344.64 499.2 L345.92 498.71 L347.2 498.05 L348.48 497.28 L349.76 496.04 L351.04 494.93 L352.32 494.01 L353.6 492.55 L354.88 491.65 L356.16 491.05 L357.44 491 L358.72 490.32 L360 490.05 L361.28 490.13 L362.56 490.79 L363.84 490.96 L365.12 491.98 L366.4 492.68 L367.68 493.93 L368.96 494.99 L370.24 496.26 L371.52 497.22 L372.8 498.09 L374.08 498.75 L375.36 499.17 L376.64 499.46 L377.92 499.64 L379.2 499.73 L380.48 499.77 L381.76 499.79 L383.04 499.8 L384.32 499.8 L385.6 499.8 L385.6 499.8 Z" fill="#c6cfcb" stroke="none"/>
<path d="M334.4 499.8 L335.68 499.8 L336.96 499.8 L338.24 499.79 L339.52 499.77 L340.8 499.73 L342.08 499.64 L343.36 499.46 L344.64 499.2 L345.92 498.71 L347.2 498.05 L348.48 497.28 L349.76 496.04 L351.04 494.93 L352.32 494.01 L353.6 492.55 L354.88 491.65 L356.16 491.05 L357.44 491 L358.72 490.32 L360 490.05 L361.28 490.13 L362.56 490.79 L363.84 490.96 L365.12 491.98 L366.4 492.68 L367.68 493.93 L368.96 494.99 L370.24 496.26 L371.52 497.22 L372.8 498.09 L374.08 498.75 L375.36 499.17 L376.64 499.46 L377.92 499.64 L379.2 499.73 L380.48 499.77 L381.76 499.79 L383.04 499.8 L384.32 499.8 L385.6 499.8" fill="none" stroke="#4a4f4c" stroke-width="0.8"/>
<line x1="324.3" y1="510.3" x2="485.5" y2="510.3" stroke="#cfe3f7" stroke-width="0.7" />
<path d="M381.38 510.3 L381.38 510.3 L382.44 510.29 L383.49 510.28 L384.55 510.27 L385.6 510.24 L386.66 510.19 L387.72 510.1 L388.77 509.96 L389.83 509.74 L390.88 509.41 L391.94 508.95 L393 508.32 L394.05 507.52 L395.11 506.55 L396.16 505.43 L397.22 504.23 L398.28 503.04 L399.33 501.95 L400.39 501.07 L401.44 500.5 L402.5 500.3 L403.56 500.39 L404.61 500.65 L405.67 501.07 L406.72 501.63 L407.78 502.29 L408.84 503.04 L409.89 503.83 L410.95 504.64 L412 505.43 L413.06 506.19 L414.12 506.89 L415.17 507.52 L416.23 508.07 L417.28 508.55 L418.34 508.95 L419.4 509.27 L420.45 509.53 L421.51 509.74 L422.56 509.9 L423.62 510.01 L423.62 510.3 Z" fill="#9ccaf2" stroke="none"/>
<path d="M381.38 510.3 L382.44 510.29 L383.49 510.28 L384.55 510.27 L385.6 510.24 L386.66 510.19 L387.72 510.1 L388.77 509.96 L389.83 509.74 L390.88 509.41 L391.94 508.95 L393 508.32 L394.05 507.52 L395.11 506.55 L396.16 505.43 L397.22 504.23 L398.28 503.04 L399.33 501.95 L400.39 501.07 L401.44 500.5 L402.5 500.3 L403.56 500.39 L404.61 500.65 L405.67 501.07 L406.72 501.63 L407.78 502.29 L408.84 503.04 L409.89 503.83 L410.95 504.64 L412 505.43 L413.06 506.19 L414.12 506.89 L415.17 507.52 L416.23 508.07 L417.28 508.55 L418.34 508.95 L419.4 509.27 L420.45 509.53 L421.51 509.74 L422.56 509.9 L423.62 510.01" fill="none" stroke="#3f8ee6" stroke-width="0.8"/>
<line x1="324.3" y1="521.4" x2="485.5" y2="521.4" stroke="#cdeec0" stroke-width="0.7" />
<path d="M378.3 521.4 L378.3 521.4 L379.26 521.39 L380.22 521.38 L381.18 521.37 L382.14 521.34 L383.1 521.29 L384.06 521.2 L385.02 521.06 L385.98 520.84 L386.94 520.51 L387.9 520.05 L388.86 519.42 L389.82 518.62 L390.78 517.65 L391.74 516.53 L392.7 515.33 L393.66 514.14 L394.62 513.05 L395.58 512.17 L396.54 511.6 L397.5 511.4 L398.46 511.49 L399.42 511.75 L400.38 512.17 L401.34 512.73 L402.3 513.39 L403.26 514.14 L404.22 514.93 L405.18 515.74 L406.14 516.53 L407.1 517.29 L408.06 517.99 L409.02 518.62 L409.98 519.17 L410.94 519.65 L411.9 520.05 L412.86 520.37 L413.82 520.63 L414.78 520.84 L415.74 521 L416.7 521.11 L416.7 521.4 Z" fill="#88e060" stroke="none"/>
<path d="M378.3 521.4 L379.26 521.39 L380.22 521.38 L381.18 521.37 L382.14 521.34 L383.1 521.29 L384.06 521.2 L385.02 521.06 L385.98 520.84 L386.94 520.51 L387.9 520.05 L388.86 519.42 L389.82 518.62 L390.78 517.65 L391.74 516.53 L392.7 515.33 L393.66 514.14 L394.62 513.05 L395.58 512.17 L396.54 511.6 L397.5 511.4 L398.46 511.49 L399.42 511.75 L400.38 512.17 L401.34 512.73 L402.3 513.39 L403.26 514.14 L404.22 514.93 L405.18 515.74 L406.14 516.53 L407.1 517.29 L408.06 517.99 L409.02 518.62 L409.98 519.17 L410.94 519.65 L411.9 520.05 L412.86 520.37 L413.82 520.63 L414.78 520.84 L415.74 521 L416.7 521.11" fill="none" stroke="#3cc820" stroke-width="0.8"/>
<line x1="324.3" y1="531.9" x2="485.5" y2="531.9" stroke="#e9eec0" stroke-width="0.7" />
<path d="M378.88 531.9 L378.88 531.9 L379.94 531.89 L380.99 531.88 L382.05 531.87 L383.1 531.84 L384.16 531.79 L385.22 531.7 L386.27 531.56 L387.33 531.34 L388.38 531.01 L389.44 530.55 L390.5 529.92 L391.55 529.12 L392.61 528.15 L393.66 527.03 L394.72 525.83 L395.78 524.64 L396.83 523.55 L397.89 522.67 L398.94 522.1 L400 521.9 L401.06 521.99 L402.11 522.25 L403.17 522.67 L404.22 523.23 L405.28 523.89 L406.34 524.64 L407.39 525.43 L408.45 526.24 L409.5 527.03 L410.56 527.79 L411.62 528.49 L412.67 529.12 L413.73 529.67 L414.78 530.15 L415.84 530.55 L416.9 530.87 L417.95 531.13 L419.01 531.34 L420.06 531.5 L421.12 531.61 L421.12 531.9 Z" fill="#d4dc78" stroke="none"/>
<path d="M378.88 531.9 L379.94 531.89 L380.99 531.88 L382.05 531.87 L383.1 531.84 L384.16 531.79 L385.22 531.7 L386.27 531.56 L387.33 531.34 L388.38 531.01 L389.44 530.55 L390.5 529.92 L391.55 529.12 L392.61 528.15 L393.66 527.03 L394.72 525.83 L395.78 524.64 L396.83 523.55 L397.89 522.67 L398.94 522.1 L400 521.9 L401.06 521.99 L402.11 522.25 L403.17 522.67 L404.22 523.23 L405.28 523.89 L406.34 524.64 L407.39 525.43 L408.45 526.24 L409.5 527.03 L410.56 527.79 L411.62 528.49 L412.67 529.12 L413.73 529.67 L414.78 530.15 L415.84 530.55 L416.9 530.87 L417.95 531.13 L419.01 531.34 L420.06 531.5 L421.12 531.61" fill="none" stroke="#b0bc2a" stroke-width="0.8"/>
<line x1="324.3" y1="542.5" x2="485.5" y2="542.5" stroke="#f2c8d4" stroke-width="0.7" />
<path d="M362.36 542.5 L362.36 542.48 L363.19 542.47 L364.02 542.44 L364.86 542.39 L365.69 542.32 L366.52 542.21 L367.35 542.04 L368.18 541.79 L369.02 541.45 L369.85 540.99 L370.68 540.4 L371.51 539.66 L372.34 538.79 L373.18 537.8 L374.01 536.73 L374.84 535.63 L375.67 534.58 L376.5 533.65 L377.34 532.92 L378.17 532.46 L379 532.3 L379.83 532.41 L380.66 532.72 L381.5 533.23 L382.33 533.89 L383.16 534.67 L383.99 535.53 L384.82 536.43 L385.66 537.32 L386.49 538.17 L387.32 538.96 L388.15 539.66 L388.98 540.28 L389.82 540.79 L390.65 541.22 L391.48 541.56 L392.31 541.82 L393.14 542.02 L393.98 542.17 L394.81 542.28 L395.64 542.35 L395.64 542.5 Z" fill="#dc6c8c" stroke="none"/>
<path d="M362.36 542.48 L363.19 542.47 L364.02 542.44 L364.86 542.39 L365.69 542.32 L366.52 542.21 L367.35 542.04 L368.18 541.79 L369.02 541.45 L369.85 540.99 L370.68 540.4 L371.51 539.66 L372.34 538.79 L373.18 537.8 L374.01 536.73 L374.84 535.63 L375.67 534.58 L376.5 533.65 L377.34 532.92 L378.17 532.46 L379 532.3 L379.83 532.41 L380.66 532.72 L381.5 533.23 L382.33 533.89 L383.16 534.67 L383.99 535.53 L384.82 536.43 L385.66 537.32 L386.49 538.17 L387.32 538.96 L388.15 539.66 L388.98 540.28 L389.82 540.79 L390.65 541.22 L391.48 541.56 L392.31 541.82 L393.14 542.02 L393.98 542.17 L394.81 542.28 L395.64 542.35" fill="none" stroke="#c4284c" stroke-width="0.8"/>
<path d="M365.86 553.1 L365.86 553.08 L366.69 553.07 L367.52 553.04 L368.36 552.99 L369.19 552.92 L370.02 552.81 L370.85 552.63 L371.68 552.39 L372.52 552.04 L373.35 551.58 L374.18 550.98 L375.01 550.24 L375.84 549.35 L376.68 548.35 L377.51 547.27 L378.34 546.16 L379.17 545.1 L380 544.17 L380.84 543.43 L381.67 542.96 L382.5 542.8 L383.33 542.91 L384.16 543.23 L385 543.74 L385.83 544.4 L386.66 545.19 L387.49 546.06 L388.32 546.97 L389.16 547.87 L389.99 548.73 L390.82 549.52 L391.65 550.24 L392.48 550.85 L393.32 551.38 L394.15 551.8 L394.98 552.15 L395.81 552.41 L396.64 552.62 L397.48 552.77 L398.31 552.87 L399.14 552.95 L399.14 553.1 Z" fill="#d678f2" stroke="none"/>
<path d="M365.86 553.08 L366.69 553.07 L367.52 553.04 L368.36 552.99 L369.19 552.92 L370.02 552.81 L370.85 552.63 L371.68 552.39 L372.52 552.04 L373.35 551.58 L374.18 550.98 L375.01 550.24 L375.84 549.35 L376.68 548.35 L377.51 547.27 L378.34 546.16 L379.17 545.1 L380 544.17 L380.84 543.43 L381.67 542.96 L382.5 542.8 L383.33 542.91 L384.16 543.23 L385 543.74 L385.83 544.4 L386.66 545.19 L387.49 546.06 L388.32 546.97 L389.16 547.87 L389.99 548.73 L390.82 549.52 L391.65 550.24 L392.48 550.85 L393.32 551.38 L394.15 551.8 L394.98 552.15 L395.81 552.41 L396.64 552.62 L397.48 552.77 L398.31 552.87 L399.14 552.95" fill="none" stroke="#a838d8" stroke-width="0.8"/>
<line x1="395.6" y1="488.5" x2="395.6" y2="553" stroke="#111" stroke-width="1.3" />
<text x="481.7" y="496.5" font-size="8.2" text-anchor="end" font-weight="normal" fill="#111" textLength="44" lengthAdjust="spacingAndGlyphs" >Control Ab</text>
<text x="481.7" y="507.25" font-size="8.2" text-anchor="end" font-weight="normal" fill="#111" textLength="26.4" lengthAdjust="spacingAndGlyphs" >DMSO</text>
<text x="481.7" y="518" font-size="8.2" text-anchor="end" font-weight="normal" fill="#111" textLength="36" lengthAdjust="spacingAndGlyphs" >IB-0.5μM</text>
<text x="481.7" y="528.75" font-size="8.2" text-anchor="end" font-weight="normal" fill="#111" textLength="36" lengthAdjust="spacingAndGlyphs" >IB-0.1μM</text>
<text x="481.7" y="539.5" font-size="8.2" text-anchor="end" font-weight="normal" fill="#111" textLength="40.4" lengthAdjust="spacingAndGlyphs" >KIN-0.5μM</text>
<text x="481.7" y="550.25" font-size="8.2" text-anchor="end" font-weight="normal" fill="#111" textLength="40.4" lengthAdjust="spacingAndGlyphs" >KIN-0.1μM</text>
<line x1="327.8" y1="553.4" x2="327.8" y2="554.9" stroke="#777" stroke-width="0.5" />
<rect x="325.3" y="556.6" width="2.4" height="1.0" fill="#aaa" transform="rotate(-30 327.8 556.6)"/>
<line x1="366.3" y1="553.4" x2="366.3" y2="554.9" stroke="#777" stroke-width="0.5" />
<rect x="363.8" y="556.6" width="2.4" height="1.0" fill="#aaa" transform="rotate(-30 366.3 556.6)"/>
<line x1="404.8" y1="553.4" x2="404.8" y2="554.9" stroke="#777" stroke-width="0.5" />
<rect x="402.3" y="556.6" width="2.4" height="1.0" fill="#aaa" transform="rotate(-30 404.8 556.6)"/>
<line x1="443.3" y1="553.4" x2="443.3" y2="554.9" stroke="#777" stroke-width="0.5" />
<rect x="440.8" y="556.6" width="2.4" height="1.0" fill="#aaa" transform="rotate(-30 443.3 556.6)"/>
<line x1="481.8" y1="553.4" x2="481.8" y2="554.9" stroke="#777" stroke-width="0.5" />
<rect x="479.3" y="556.6" width="2.4" height="1.0" fill="#aaa" transform="rotate(-30 481.8 556.6)"/>
<line x1="327.8" y1="553.4" x2="327.8" y2="554.3" stroke="#aaa" stroke-width="0.4" />
<line x1="337.4" y1="553.4" x2="337.4" y2="554.3" stroke="#aaa" stroke-width="0.4" />
<line x1="347" y1="553.4" x2="347" y2="554.3" stroke="#aaa" stroke-width="0.4" />
<line x1="356.6" y1="553.4" x2="356.6" y2="554.3" stroke="#aaa" stroke-width="0.4" />
<line x1="366.2" y1="553.4" x2="366.2" y2="554.3" stroke="#aaa" stroke-width="0.4" />
<line x1="375.8" y1="553.4" x2="375.8" y2="554.3" stroke="#aaa" stroke-width="0.4" />
<line x1="385.4" y1="553.4" x2="385.4" y2="554.3" stroke="#aaa" stroke-width="0.4" />
<line x1="395" y1="553.4" x2="395" y2="554.3" stroke="#aaa" stroke-width="0.4" />
<line x1="404.6" y1="553.4" x2="404.6" y2="554.3" stroke="#aaa" stroke-width="0.4" />
<line x1="414.2" y1="553.4" x2="414.2" y2="554.3" stroke="#aaa" stroke-width="0.4" />
<line x1="423.8" y1="553.4" x2="423.8" y2="554.3" stroke="#aaa" stroke-width="0.4" />
<line x1="433.4" y1="553.4" x2="433.4" y2="554.3" stroke="#aaa" stroke-width="0.4" />
<line x1="443" y1="553.4" x2="443" y2="554.3" stroke="#aaa" stroke-width="0.4" />
<line x1="452.6" y1="553.4" x2="452.6" y2="554.3" stroke="#aaa" stroke-width="0.4" />
<line x1="462.2" y1="553.4" x2="462.2" y2="554.3" stroke="#aaa" stroke-width="0.4" />
<line x1="471.8" y1="553.4" x2="471.8" y2="554.3" stroke="#aaa" stroke-width="0.4" />
<rect x="341.8" y="553.7" width="3" height="1.2" fill="#333"/>
<rect x="323.8" y="561.6" width="162.2" height="65.3" fill="#fff" stroke="#9a9a9a" stroke-width="0.7"/>
<line x1="324.3" y1="573.3" x2="485.5" y2="573.3" stroke="#d6dcd9" stroke-width="0.7" />
<path d="M331.9 573.3 L331.9 573.3 L333.18 573.3 L334.46 573.3 L335.74 573.29 L337.02 573.27 L338.3 573.23 L339.58 573.14 L340.86 572.97 L342.14 572.68 L343.42 572.2 L344.7 571.62 L345.98 570.66 L347.26 569.63 L348.54 568.5 L349.82 567.21 L351.1 566.05 L352.38 565.14 L353.66 564.58 L354.94 563.9 L356.22 563.74 L357.5 563.92 L358.78 564.2 L360.06 564.29 L361.34 564.74 L362.62 565.34 L363.9 565.96 L365.18 567.49 L366.46 568.4 L367.74 569.65 L369.02 570.76 L370.3 571.55 L371.58 572.24 L372.86 572.7 L374.14 572.97 L375.42 573.14 L376.7 573.23 L377.98 573.27 L379.26 573.29 L380.54 573.3 L381.82 573.3 L383.1 573.3 L383.1 573.3 Z" fill="#c6cfcb" stroke="none"/>
<path d="M331.9 573.3 L333.18 573.3 L334.46 573.3 L335.74 573.29 L337.02 573.27 L338.3 573.23 L339.58 573.14 L340.86 572.97 L342.14 572.68 L343.42 572.2 L344.7 571.62 L345.98 570.66 L347.26 569.63 L348.54 568.5 L349.82 567.21 L351.1 566.05 L352.38 565.14 L353.66 564.58 L354.94 563.9 L356.22 563.74 L357.5 563.92 L358.78 564.2 L360.06 564.29 L361.34 564.74 L362.62 565.34 L363.9 565.96 L365.18 567.49 L366.46 568.4 L367.74 569.65 L369.02 570.76 L370.3 571.55 L371.58 572.24 L372.86 572.7 L374.14 572.97 L375.42 573.14 L376.7 573.23 L377.98 573.27 L379.26 573.29 L380.54 573.3 L381.82 573.3 L383.1 573.3" fill="none" stroke="#4a4f4c" stroke-width="0.8"/>
<line x1="324.3" y1="583.8" x2="485.5" y2="583.8" stroke="#cfe3f7" stroke-width="0.7" />
<path d="M383.88 583.8 L383.88 583.8 L384.94 583.79 L385.99 583.78 L387.05 583.77 L388.1 583.74 L389.16 583.69 L390.22 583.6 L391.27 583.46 L392.33 583.24 L393.38 582.91 L394.44 582.45 L395.5 581.82 L396.55 581.02 L397.61 580.05 L398.66 578.93 L399.72 577.73 L400.78 576.54 L401.83 575.45 L402.89 574.57 L403.94 574 L405 573.8 L406.06 573.89 L407.11 574.15 L408.17 574.57 L409.22 575.13 L410.28 575.79 L411.34 576.54 L412.39 577.33 L413.45 578.14 L414.5 578.93 L415.56 579.69 L416.62 580.39 L417.67 581.02 L418.73 581.57 L419.78 582.05 L420.84 582.45 L421.9 582.77 L422.95 583.03 L424.01 583.24 L425.06 583.4 L426.12 583.51 L426.12 583.8 Z" fill="#9ccaf2" stroke="none"/>
<path d="M383.88 583.8 L384.94 583.79 L385.99 583.78 L387.05 583.77 L388.1 583.74 L389.16 583.69 L390.22 583.6 L391.27 583.46 L392.33 583.24 L393.38 582.91 L394.44 582.45 L395.5 581.82 L396.55 581.02 L397.61 580.05 L398.66 578.93 L399.72 577.73 L400.78 576.54 L401.83 575.45 L402.89 574.57 L403.94 574 L405 573.8 L406.06 573.89 L407.11 574.15 L408.17 574.57 L409.22 575.13 L410.28 575.79 L411.34 576.54 L412.39 577.33 L413.45 578.14 L414.5 578.93 L415.56 579.69 L416.62 580.39 L417.67 581.02 L418.73 581.57 L419.78 582.05 L420.84 582.45 L421.9 582.77 L422.95 583.03 L424.01 583.24 L425.06 583.4 L426.12 583.51" fill="none" stroke="#3f8ee6" stroke-width="0.8"/>
<line x1="324.3" y1="594.9" x2="485.5" y2="594.9" stroke="#cdeec0" stroke-width="0.7" />
<path d="M382.66 594.9 L382.66 594.9 L383.65 594.89 L384.64 594.88 L385.64 594.87 L386.63 594.84 L387.62 594.79 L388.61 594.7 L389.6 594.56 L390.6 594.34 L391.59 594.01 L392.58 593.55 L393.57 592.92 L394.56 592.12 L395.56 591.15 L396.55 590.03 L397.54 588.83 L398.53 587.64 L399.52 586.55 L400.52 585.67 L401.51 585.1 L402.5 584.9 L403.49 584.99 L404.48 585.25 L405.48 585.67 L406.47 586.23 L407.46 586.89 L408.45 587.64 L409.44 588.43 L410.44 589.24 L411.43 590.03 L412.42 590.79 L413.41 591.49 L414.4 592.12 L415.4 592.67 L416.39 593.15 L417.38 593.55 L418.37 593.87 L419.36 594.13 L420.36 594.34 L421.35 594.5 L422.34 594.61 L422.34 594.9 Z" fill="#88e060" stroke="none"/>
<path d="M382.66 594.9 L383.65 594.89 L384.64 594.88 L385.64 594.87 L386.63 594.84 L387.62 594.79 L388.61 594.7 L389.6 594.56 L390.6 594.34 L391.59 594.01 L392.58 593.55 L393.57 592.92 L394.56 592.12 L395.56 591.15 L396.55 590.03 L397.54 588.83 L398.53 587.64 L399.52 586.55 L400.52 585.67 L401.51 585.1 L402.5 584.9 L403.49 584.99 L404.48 585.25 L405.48 585.67 L406.47 586.23 L407.46 586.89 L408.45 587.64 L409.44 588.43 L410.44 589.24 L411.43 590.03 L412.42 590.79 L413.41 591.49 L414.4 592.12 L415.4 592.67 L416.39 593.15 L417.38 593.55 L418.37 593.87 L419.36 594.13 L420.36 594.34 L421.35 594.5 L422.34 594.61" fill="none" stroke="#3cc820" stroke-width="0.8"/>
<line x1="324.3" y1="605.4" x2="485.5" y2="605.4" stroke="#e9eec0" stroke-width="0.7" />
<path d="M374.4 605.4 L374.4 605.4 L375.68 605.39 L376.96 605.38 L378.24 605.37 L379.52 605.34 L380.8 605.29 L382.08 605.2 L383.36 605.06 L384.64 604.84 L385.92 604.51 L387.2 604.05 L388.48 603.42 L389.76 602.62 L391.04 601.65 L392.32 600.53 L393.6 599.33 L394.88 598.14 L396.16 597.05 L397.44 596.17 L398.72 595.6 L400 595.4 L401.28 595.49 L402.56 595.75 L403.84 596.17 L405.12 596.73 L406.4 597.39 L407.68 598.14 L408.96 598.93 L410.24 599.74 L411.52 600.53 L412.8 601.29 L414.08 601.99 L415.36 602.62 L416.64 603.17 L417.92 603.65 L419.2 604.05 L420.48 604.37 L421.76 604.63 L423.04 604.84 L424.32 605 L425.6 605.11 L425.6 605.4 Z" fill="#d4dc78" stroke="none"/>
<path d="M374.4 605.4 L375.68 605.39 L376.96 605.38 L378.24 605.37 L379.52 605.34 L380.8 605.29 L382.08 605.2 L383.36 605.06 L384.64 604.84 L385.92 604.51 L387.2 604.05 L388.48 603.42 L389.76 602.62 L391.04 601.65 L392.32 600.53 L393.6 599.33 L394.88 598.14 L396.16 597.05 L397.44 596.17 L398.72 595.6 L400 595.4 L401.28 595.49 L402.56 595.75 L403.84 596.17 L405.12 596.73 L406.4 597.39 L407.68 598.14 L408.96 598.93 L410.24 599.74 L411.52 600.53 L412.8 601.29 L414.08 601.99 L415.36 602.62 L416.64 603.17 L417.92 603.65 L419.2 604.05 L420.48 604.37 L421.76 604.63 L423.04 604.84 L424.32 605 L425.6 605.11" fill="none" stroke="#b0bc2a" stroke-width="0.8"/>
<line x1="324.3" y1="616" x2="485.5" y2="616" stroke="#f2c8d4" stroke-width="0.7" />
<path d="M360.86 616 L360.86 615.98 L361.69 615.97 L362.52 615.94 L363.36 615.89 L364.19 615.82 L365.02 615.71 L365.85 615.54 L366.68 615.29 L367.52 614.95 L368.35 614.49 L369.18 613.9 L370.01 613.16 L370.84 612.29 L371.68 611.3 L372.51 610.23 L373.34 609.13 L374.17 608.08 L375 607.15 L375.84 606.42 L376.67 605.96 L377.5 605.8 L378.33 605.91 L379.16 606.22 L380 606.73 L380.83 607.39 L381.66 608.17 L382.49 609.03 L383.32 609.93 L384.16 610.82 L384.99 611.67 L385.82 612.46 L386.65 613.16 L387.48 613.78 L388.32 614.29 L389.15 614.72 L389.98 615.06 L390.81 615.32 L391.64 615.52 L392.48 615.67 L393.31 615.78 L394.14 615.85 L394.14 616 Z" fill="#dc6c8c" stroke="none"/>
<path d="M360.86 615.98 L361.69 615.97 L362.52 615.94 L363.36 615.89 L364.19 615.82 L365.02 615.71 L365.85 615.54 L366.68 615.29 L367.52 614.95 L368.35 614.49 L369.18 613.9 L370.01 613.16 L370.84 612.29 L371.68 611.3 L372.51 610.23 L373.34 609.13 L374.17 608.08 L375 607.15 L375.84 606.42 L376.67 605.96 L377.5 605.8 L378.33 605.91 L379.16 606.22 L380 606.73 L380.83 607.39 L381.66 608.17 L382.49 609.03 L383.32 609.93 L384.16 610.82 L384.99 611.67 L385.82 612.46 L386.65 613.16 L387.48 613.78 L388.32 614.29 L389.15 614.72 L389.98 615.06 L390.81 615.32 L391.64 615.52 L392.48 615.67 L393.31 615.78 L394.14 615.85" fill="none" stroke="#c4284c" stroke-width="0.8"/>
<path d="M363.36 626.6 L363.36 626.58 L364.19 626.57 L365.02 626.54 L365.86 626.49 L366.69 626.42 L367.52 626.31 L368.35 626.13 L369.18 625.89 L370.02 625.54 L370.85 625.08 L371.68 624.48 L372.51 623.74 L373.34 622.85 L374.18 621.85 L375.01 620.77 L375.84 619.66 L376.67 618.6 L377.5 617.67 L378.34 616.93 L379.17 616.46 L380 616.3 L380.83 616.41 L381.66 616.73 L382.5 617.24 L383.33 617.9 L384.16 618.69 L384.99 619.56 L385.82 620.47 L386.66 621.37 L387.49 622.23 L388.32 623.02 L389.15 623.74 L389.98 624.35 L390.82 624.88 L391.65 625.3 L392.48 625.65 L393.31 625.91 L394.14 626.12 L394.98 626.27 L395.81 626.37 L396.64 626.45 L396.64 626.6 Z" fill="#d678f2" stroke="none"/>
<path d="M363.36 626.58 L364.19 626.57 L365.02 626.54 L365.86 626.49 L366.69 626.42 L367.52 626.31 L368.35 626.13 L369.18 625.89 L370.02 625.54 L370.85 625.08 L371.68 624.48 L372.51 623.74 L373.34 622.85 L374.18 621.85 L375.01 620.77 L375.84 619.66 L376.67 618.6 L377.5 617.67 L378.34 616.93 L379.17 616.46 L380 616.3 L380.83 616.41 L381.66 616.73 L382.5 617.24 L383.33 617.9 L384.16 618.69 L384.99 619.56 L385.82 620.47 L386.66 621.37 L387.49 622.23 L388.32 623.02 L389.15 623.74 L389.98 624.35 L390.82 624.88 L391.65 625.3 L392.48 625.65 L393.31 625.91 L394.14 626.12 L394.98 626.27 L395.81 626.37 L396.64 626.45" fill="none" stroke="#a838d8" stroke-width="0.8"/>
<line x1="395.6" y1="562" x2="395.6" y2="626.5" stroke="#111" stroke-width="1.3" />
<text x="481.7" y="570" font-size="8.2" text-anchor="end" font-weight="normal" fill="#111" textLength="44" lengthAdjust="spacingAndGlyphs" >Control Ab</text>
<text x="481.7" y="580.75" font-size="8.2" text-anchor="end" font-weight="normal" fill="#111" textLength="26.4" lengthAdjust="spacingAndGlyphs" >DMSO</text>
<text x="481.7" y="591.5" font-size="8.2" text-anchor="end" font-weight="normal" fill="#111" textLength="36" lengthAdjust="spacingAndGlyphs" >IB-0.5μM</text>
<text x="481.7" y="602.25" font-size="8.2" text-anchor="end" font-weight="normal" fill="#111" textLength="36" lengthAdjust="spacingAndGlyphs" >IB-0.1μM</text>
<text x="481.7" y="613" font-size="8.2" text-anchor="end" font-weight="normal" fill="#111" textLength="40.4" lengthAdjust="spacingAndGlyphs" >KIN-0.5μM</text>
<text x="481.7" y="623.75" font-size="8.2" text-anchor="end" font-weight="normal" fill="#111" textLength="40.4" lengthAdjust="spacingAndGlyphs" >KIN-0.1μM</text>
<line x1="327.8" y1="626.9" x2="327.8" y2="628.4" stroke="#777" stroke-width="0.5" />
<rect x="325.3" y="630.1" width="2.4" height="1.0" fill="#aaa" transform="rotate(-30 327.8 630.1)"/>
<line x1="366.3" y1="626.9" x2="366.3" y2="628.4" stroke="#777" stroke-width="0.5" />
<rect x="363.8" y="630.1" width="2.4" height="1.0" fill="#aaa" transform="rotate(-30 366.3 630.1)"/>
<line x1="404.8" y1="626.9" x2="404.8" y2="628.4" stroke="#777" stroke-width="0.5" />
<rect x="402.3" y="630.1" width="2.4" height="1.0" fill="#aaa" transform="rotate(-30 404.8 630.1)"/>
<line x1="443.3" y1="626.9" x2="443.3" y2="628.4" stroke="#777" stroke-width="0.5" />
<rect x="440.8" y="630.1" width="2.4" height="1.0" fill="#aaa" transform="rotate(-30 443.3 630.1)"/>
<line x1="481.8" y1="626.9" x2="481.8" y2="628.4" stroke="#777" stroke-width="0.5" />
<rect x="479.3" y="630.1" width="2.4" height="1.0" fill="#aaa" transform="rotate(-30 481.8 630.1)"/>
<line x1="327.8" y1="626.9" x2="327.8" y2="627.8" stroke="#aaa" stroke-width="0.4" />
<line x1="337.4" y1="626.9" x2="337.4" y2="627.8" stroke="#aaa" stroke-width="0.4" />
<line x1="347" y1="626.9" x2="347" y2="627.8" stroke="#aaa" stroke-width="0.4" />
<line x1="356.6" y1="626.9" x2="356.6" y2="627.8" stroke="#aaa" stroke-width="0.4" />
<line x1="366.2" y1="626.9" x2="366.2" y2="627.8" stroke="#aaa" stroke-width="0.4" />
<line x1="375.8" y1="626.9" x2="375.8" y2="627.8" stroke="#aaa" stroke-width="0.4" />
<line x1="385.4" y1="626.9" x2="385.4" y2="627.8" stroke="#aaa" stroke-width="0.4" />
<line x1="395" y1="626.9" x2="395" y2="627.8" stroke="#aaa" stroke-width="0.4" />
<line x1="404.6" y1="626.9" x2="404.6" y2="627.8" stroke="#aaa" stroke-width="0.4" />
<line x1="414.2" y1="626.9" x2="414.2" y2="627.8" stroke="#aaa" stroke-width="0.4" />
<line x1="423.8" y1="626.9" x2="423.8" y2="627.8" stroke="#aaa" stroke-width="0.4" />
<line x1="433.4" y1="626.9" x2="433.4" y2="627.8" stroke="#aaa" stroke-width="0.4" />
<line x1="443" y1="626.9" x2="443" y2="627.8" stroke="#aaa" stroke-width="0.4" />
<line x1="452.6" y1="626.9" x2="452.6" y2="627.8" stroke="#aaa" stroke-width="0.4" />
<line x1="462.2" y1="626.9" x2="462.2" y2="627.8" stroke="#aaa" stroke-width="0.4" />
<line x1="471.8" y1="626.9" x2="471.8" y2="627.8" stroke="#aaa" stroke-width="0.4" />
<rect x="341.8" y="627.2" width="3" height="1.2" fill="#333"/>
<line x1="305.4" y1="415.6" x2="305.4" y2="624.8" stroke="#111" stroke-width="1.3" />
<text transform="translate(301,535.4) rotate(-90)" font-size="9.2" font-weight="normal" fill="#111" textLength="29.7" lengthAdjust="spacingAndGlyphs">TMD-8</text>
<text transform="translate(320.3,460.9) rotate(-90)" font-size="9.8" font-weight="normal" fill="#111" textLength="28" lengthAdjust="spacingAndGlyphs">Vector</text>
<text transform="translate(320.5,533.8) rotate(-90)" font-size="9.5" font-weight="normal" fill="#111" textLength="16.6" lengthAdjust="spacingAndGlyphs">BTK</text>
<text transform="translate(315.9,516.5) rotate(-90)" font-size="7.4" font-weight="normal" fill="#111" textLength="10.8" lengthAdjust="spacingAndGlyphs">WT</text>
<text transform="translate(320.3,620.1) rotate(-90)" font-size="9.5" font-weight="normal" fill="#111" textLength="16.2" lengthAdjust="spacingAndGlyphs">BTK</text>
<text transform="translate(316.3,605) rotate(-90)" font-size="7.7" font-weight="normal" fill="#111" textLength="36.7" lengthAdjust="spacingAndGlyphs">Cys481Ser</text>
<line x1="324.1" y1="634.9" x2="483.8" y2="634.9" stroke="#111" stroke-width="1.3" />
<path d="M486.8 634.9 l-5.6 -2.5 v5 z" fill="#111"/>
<text x="393.1" y="647.3" font-size="11" text-anchor="start" font-weight="normal" fill="#111" textLength="25.2" lengthAdjust="spacingAndGlyphs" >p-HCK</text>
<rect x="101.95" y="700.95" width="54.5" height="10.7" rx="0.5" fill="#e7e7e7" stroke="#1a1a1a" stroke-width="1.5"/>
<rect x="102.7" y="701.7" width="53" height="0.9" fill="#f4f4f4"/>
<rect x="102.7" y="710" width="53" height="0.9" fill="#f0f0f0"/>
<rect x="159.45" y="700.95" width="54.1" height="10.7" rx="0.5" fill="#e7e7e7" stroke="#1a1a1a" stroke-width="1.5"/>
<rect x="160.2" y="701.7" width="52.6" height="0.9" fill="#f4f4f4"/>
<rect x="160.2" y="710" width="52.6" height="0.9" fill="#f0f0f0"/>
<rect x="101.95" y="714.55" width="54.5" height="10.2" rx="0.5" fill="#e7e7e7" stroke="#1a1a1a" stroke-width="1.5"/>
<rect x="102.7" y="715.3" width="53" height="0.9" fill="#f4f4f4"/>
<rect x="102.7" y="723.1" width="53" height="0.9" fill="#f0f0f0"/>
<rect x="159.45" y="714.55" width="54.1" height="10.2" rx="0.5" fill="#e7e7e7" stroke="#1a1a1a" stroke-width="1.5"/>
<rect x="160.2" y="715.3" width="52.6" height="0.9" fill="#f4f4f4"/>
<rect x="160.2" y="723.1" width="52.6" height="0.9" fill="#f0f0f0"/>
<rect x="101.95" y="728.85" width="54.5" height="11.2" rx="0.5" fill="#e7e7e7" stroke="#1a1a1a" stroke-width="1.5"/>
<rect x="102.7" y="729.6" width="53" height="0.9" fill="#f4f4f4"/>
<rect x="102.7" y="738.4" width="53" height="0.9" fill="#f0f0f0"/>
<rect x="159.45" y="728.85" width="54.1" height="11.2" rx="0.5" fill="#e7e7e7" stroke="#1a1a1a" stroke-width="1.5"/>
<rect x="160.2" y="729.6" width="52.6" height="0.9" fill="#f4f4f4"/>
<rect x="160.2" y="738.4" width="52.6" height="0.9" fill="#f0f0f0"/>
<rect x="101.95" y="742.55" width="54.5" height="10.4" rx="0.5" fill="#e7e7e7" stroke="#1a1a1a" stroke-width="1.5"/>
<rect x="102.7" y="743.3" width="53" height="0.9" fill="#f4f4f4"/>
<rect x="102.7" y="751.3" width="53" height="0.9" fill="#f0f0f0"/>
<rect x="159.45" y="742.55" width="54.1" height="10.4" rx="0.5" fill="#e7e7e7" stroke="#1a1a1a" stroke-width="1.5"/>
<rect x="160.2" y="743.3" width="52.6" height="0.9" fill="#f4f4f4"/>
<rect x="160.2" y="751.3" width="52.6" height="0.9" fill="#f0f0f0"/>
<rect x="101.95" y="757.25" width="54.5" height="10.7" rx="0.5" fill="#e7e7e7" stroke="#1a1a1a" stroke-width="1.5"/>
<rect x="102.7" y="758" width="53" height="0.9" fill="#f4f4f4"/>
<rect x="102.7" y="766.3" width="53" height="0.9" fill="#f0f0f0"/>
<rect x="159.45" y="757.25" width="54.1" height="10.7" rx="0.5" fill="#e7e7e7" stroke="#1a1a1a" stroke-width="1.5"/>
<rect x="160.2" y="758" width="52.6" height="0.9" fill="#f4f4f4"/>
<rect x="160.2" y="766.3" width="52.6" height="0.9" fill="#f0f0f0"/>
<rect x="101.95" y="779.05" width="54.5" height="9.7" rx="0.5" fill="#e7e7e7" stroke="#1a1a1a" stroke-width="1.5"/>
<rect x="102.7" y="779.8" width="53" height="0.9" fill="#f4f4f4"/>
<rect x="102.7" y="787.1" width="53" height="0.9" fill="#f0f0f0"/>
<rect x="159.45" y="779.05" width="54.1" height="9.7" rx="0.5" fill="#e7e7e7" stroke="#1a1a1a" stroke-width="1.5"/>
<rect x="160.2" y="779.8" width="52.6" height="0.9" fill="#f4f4f4"/>
<rect x="160.2" y="787.1" width="52.6" height="0.9" fill="#f0f0f0"/>
<rect x="101.95" y="791.95" width="54.5" height="10.4" rx="0.5" fill="#e7e7e7" stroke="#1a1a1a" stroke-width="1.5"/>
<rect x="102.7" y="792.7" width="53" height="0.9" fill="#f4f4f4"/>
<rect x="102.7" y="800.7" width="53" height="0.9" fill="#f0f0f0"/>
<rect x="159.45" y="791.95" width="54.1" height="10.4" rx="0.5" fill="#e7e7e7" stroke="#1a1a1a" stroke-width="1.5"/>
<rect x="160.2" y="792.7" width="52.6" height="0.9" fill="#f4f4f4"/>
<rect x="160.2" y="800.7" width="52.6" height="0.9" fill="#f0f0f0"/>
<rect x="101.95" y="806.55" width="54.5" height="10.6" rx="0.5" fill="#e7e7e7" stroke="#1a1a1a" stroke-width="1.5"/>
<rect x="102.7" y="807.3" width="53" height="0.9" fill="#f4f4f4"/>
<rect x="102.7" y="815.5" width="53" height="0.9" fill="#f0f0f0"/>
<rect x="159.45" y="806.55" width="54.1" height="10.6" rx="0.5" fill="#e7e7e7" stroke="#1a1a1a" stroke-width="1.5"/>
<rect x="160.2" y="807.3" width="52.6" height="0.9" fill="#f4f4f4"/>
<rect x="160.2" y="815.5" width="52.6" height="0.9" fill="#f0f0f0"/>
<rect x="101.95" y="819.65" width="54.5" height="10.4" rx="0.5" fill="#e7e7e7" stroke="#1a1a1a" stroke-width="1.5"/>
<rect x="102.7" y="820.4" width="53" height="0.9" fill="#f4f4f4"/>
<rect x="102.7" y="828.4" width="53" height="0.9" fill="#f0f0f0"/>
<rect x="159.45" y="819.65" width="54.1" height="10.4" rx="0.5" fill="#e7e7e7" stroke="#1a1a1a" stroke-width="1.5"/>
<rect x="160.2" y="820.4" width="52.6" height="0.9" fill="#f4f4f4"/>
<rect x="160.2" y="828.4" width="52.6" height="0.9" fill="#f0f0f0"/>
<rect x="101.95" y="834.95" width="54.5" height="10.7" rx="0.5" fill="#e7e7e7" stroke="#1a1a1a" stroke-width="1.5"/>
<rect x="102.7" y="835.7" width="53" height="0.9" fill="#f4f4f4"/>
<rect x="102.7" y="844" width="53" height="0.9" fill="#f0f0f0"/>
<rect x="159.45" y="834.95" width="54.1" height="10.7" rx="0.5" fill="#e7e7e7" stroke="#1a1a1a" stroke-width="1.5"/>
<rect x="160.2" y="835.7" width="52.6" height="0.9" fill="#f4f4f4"/>
<rect x="160.2" y="844" width="52.6" height="0.9" fill="#f0f0f0"/>
<rect x="227.25" y="700.95" width="54.5" height="10.7" rx="0.5" fill="#e7e7e7" stroke="#1a1a1a" stroke-width="1.5"/>
<rect x="228" y="701.7" width="53" height="0.9" fill="#f4f4f4"/>
<rect x="228" y="710" width="53" height="0.9" fill="#f0f0f0"/>
<rect x="284.75" y="700.95" width="54.1" height="10.7" rx="0.5" fill="#e7e7e7" stroke="#1a1a1a" stroke-width="1.5"/>
<rect x="285.5" y="701.7" width="52.6" height="0.9" fill="#f4f4f4"/>
<rect x="285.5" y="710" width="52.6" height="0.9" fill="#f0f0f0"/>
<rect x="227.25" y="714.55" width="54.5" height="10.2" rx="0.5" fill="#e7e7e7" stroke="#1a1a1a" stroke-width="1.5"/>
<rect x="228" y="715.3" width="53" height="0.9" fill="#f4f4f4"/>
<rect x="228" y="723.1" width="53" height="0.9" fill="#f0f0f0"/>
<rect x="284.75" y="714.55" width="54.1" height="10.2" rx="0.5" fill="#e7e7e7" stroke="#1a1a1a" stroke-width="1.5"/>
<rect x="285.5" y="715.3" width="52.6" height="0.9" fill="#f4f4f4"/>
<rect x="285.5" y="723.1" width="52.6" height="0.9" fill="#f0f0f0"/>
<rect x="227.25" y="728.85" width="54.5" height="11.2" rx="0.5" fill="#e7e7e7" stroke="#1a1a1a" stroke-width="1.5"/>
<rect x="228" y="729.6" width="53" height="0.9" fill="#f4f4f4"/>
<rect x="228" y="738.4" width="53" height="0.9" fill="#f0f0f0"/>
<rect x="284.75" y="728.85" width="54.1" height="11.2" rx="0.5" fill="#e7e7e7" stroke="#1a1a1a" stroke-width="1.5"/>
<rect x="285.5" y="729.6" width="52.6" height="0.9" fill="#f4f4f4"/>
<rect x="285.5" y="738.4" width="52.6" height="0.9" fill="#f0f0f0"/>
<rect x="227.25" y="742.55" width="54.5" height="10.4" rx="0.5" fill="#e7e7e7" stroke="#1a1a1a" stroke-width="1.5"/>
<rect x="228" y="743.3" width="53" height="0.9" fill="#f4f4f4"/>
<rect x="228" y="751.3" width="53" height="0.9" fill="#f0f0f0"/>
<rect x="284.75" y="742.55" width="54.1" height="10.4" rx="0.5" fill="#e7e7e7" stroke="#1a1a1a" stroke-width="1.5"/>
<rect x="285.5" y="743.3" width="52.6" height="0.9" fill="#f4f4f4"/>
<rect x="285.5" y="751.3" width="52.6" height="0.9" fill="#f0f0f0"/>
<rect x="227.25" y="757.25" width="54.5" height="10.7" rx="0.5" fill="#e7e7e7" stroke="#1a1a1a" stroke-width="1.5"/>
<rect x="228" y="758" width="53" height="0.9" fill="#f4f4f4"/>
<rect x="228" y="766.3" width="53" height="0.9" fill="#f0f0f0"/>
<rect x="284.75" y="757.25" width="54.1" height="10.7" rx="0.5" fill="#e7e7e7" stroke="#1a1a1a" stroke-width="1.5"/>
<rect x="285.5" y="758" width="52.6" height="0.9" fill="#f4f4f4"/>
<rect x="285.5" y="766.3" width="52.6" height="0.9" fill="#f0f0f0"/>
<rect x="227.25" y="779.05" width="54.5" height="9.7" rx="0.5" fill="#e7e7e7" stroke="#1a1a1a" stroke-width="1.5"/>
<rect x="228" y="779.8" width="53" height="0.9" fill="#f4f4f4"/>
<rect x="228" y="787.1" width="53" height="0.9" fill="#f0f0f0"/>
<rect x="284.75" y="779.05" width="54.1" height="9.7" rx="0.5" fill="#e7e7e7" stroke="#1a1a1a" stroke-width="1.5"/>
<rect x="285.5" y="779.8" width="52.6" height="0.9" fill="#f4f4f4"/>
<rect x="285.5" y="787.1" width="52.6" height="0.9" fill="#f0f0f0"/>
<rect x="227.25" y="791.95" width="54.5" height="10.4" rx="0.5" fill="#e7e7e7" stroke="#1a1a1a" stroke-width="1.5"/>
<rect x="228" y="792.7" width="53" height="0.9" fill="#f4f4f4"/>
<rect x="228" y="800.7" width="53" height="0.9" fill="#f0f0f0"/>
<rect x="284.75" y="791.95" width="54.1" height="10.4" rx="0.5" fill="#e7e7e7" stroke="#1a1a1a" stroke-width="1.5"/>
<rect x="285.5" y="792.7" width="52.6" height="0.9" fill="#f4f4f4"/>
<rect x="285.5" y="800.7" width="52.6" height="0.9" fill="#f0f0f0"/>
<rect x="227.25" y="806.55" width="54.5" height="10.6" rx="0.5" fill="#e7e7e7" stroke="#1a1a1a" stroke-width="1.5"/>
<rect x="228" y="807.3" width="53" height="0.9" fill="#f4f4f4"/>
<rect x="228" y="815.5" width="53" height="0.9" fill="#f0f0f0"/>
<rect x="284.75" y="806.55" width="54.1" height="10.6" rx="0.5" fill="#e7e7e7" stroke="#1a1a1a" stroke-width="1.5"/>
<rect x="285.5" y="807.3" width="52.6" height="0.9" fill="#f4f4f4"/>
<rect x="285.5" y="815.5" width="52.6" height="0.9" fill="#f0f0f0"/>
<rect x="227.25" y="819.65" width="54.5" height="10.4" rx="0.5" fill="#e7e7e7" stroke="#1a1a1a" stroke-width="1.5"/>
<rect x="228" y="820.4" width="53" height="0.9" fill="#f4f4f4"/>
<rect x="228" y="828.4" width="53" height="0.9" fill="#f0f0f0"/>
<rect x="284.75" y="819.65" width="54.1" height="10.4" rx="0.5" fill="#e7e7e7" stroke="#1a1a1a" stroke-width="1.5"/>
<rect x="285.5" y="820.4" width="52.6" height="0.9" fill="#f4f4f4"/>
<rect x="285.5" y="828.4" width="52.6" height="0.9" fill="#f0f0f0"/>
<rect x="227.25" y="834.95" width="54.5" height="10.7" rx="0.5" fill="#e7e7e7" stroke="#1a1a1a" stroke-width="1.5"/>
<rect x="228" y="835.7" width="53" height="0.9" fill="#f4f4f4"/>
<rect x="228" y="844" width="53" height="0.9" fill="#f0f0f0"/>
<rect x="284.75" y="834.95" width="54.1" height="10.7" rx="0.5" fill="#e7e7e7" stroke="#1a1a1a" stroke-width="1.5"/>
<rect x="285.5" y="835.7" width="52.6" height="0.9" fill="#f4f4f4"/>
<rect x="285.5" y="844" width="52.6" height="0.9" fill="#f0f0f0"/>
<rect x="352.05" y="700.95" width="54.5" height="10.7" rx="0.5" fill="#e7e7e7" stroke="#1a1a1a" stroke-width="1.5"/>
<rect x="352.8" y="701.7" width="53" height="0.9" fill="#f4f4f4"/>
<rect x="352.8" y="710" width="53" height="0.9" fill="#f0f0f0"/>
<rect x="409.55" y="700.95" width="54.1" height="10.7" rx="0.5" fill="#e7e7e7" stroke="#1a1a1a" stroke-width="1.5"/>
<rect x="410.3" y="701.7" width="52.6" height="0.9" fill="#f4f4f4"/>
<rect x="410.3" y="710" width="52.6" height="0.9" fill="#f0f0f0"/>
<rect x="352.05" y="714.55" width="54.5" height="10.2" rx="0.5" fill="#e7e7e7" stroke="#1a1a1a" stroke-width="1.5"/>
<rect x="352.8" y="715.3" width="53" height="0.9" fill="#f4f4f4"/>
<rect x="352.8" y="723.1" width="53" height="0.9" fill="#f0f0f0"/>
<rect x="409.55" y="714.55" width="54.1" height="10.2" rx="0.5" fill="#e7e7e7" stroke="#1a1a1a" stroke-width="1.5"/>
<rect x="410.3" y="715.3" width="52.6" height="0.9" fill="#f4f4f4"/>
<rect x="410.3" y="723.1" width="52.6" height="0.9" fill="#f0f0f0"/>
<rect x="352.05" y="728.85" width="54.5" height="11.2" rx="0.5" fill="#e7e7e7" stroke="#1a1a1a" stroke-width="1.5"/>
<rect x="352.8" y="729.6" width="53" height="0.9" fill="#f4f4f4"/>
<rect x="352.8" y="738.4" width="53" height="0.9" fill="#f0f0f0"/>
<rect x="409.55" y="728.85" width="54.1" height="11.2" rx="0.5" fill="#e7e7e7" stroke="#1a1a1a" stroke-width="1.5"/>
<rect x="410.3" y="729.6" width="52.6" height="0.9" fill="#f4f4f4"/>
<rect x="410.3" y="738.4" width="52.6" height="0.9" fill="#f0f0f0"/>
<rect x="352.05" y="742.55" width="54.5" height="10.4" rx="0.5" fill="#e7e7e7" stroke="#1a1a1a" stroke-width="1.5"/>
<rect x="352.8" y="743.3" width="53" height="0.9" fill="#f4f4f4"/>
<rect x="352.8" y="751.3" width="53" height="0.9" fill="#f0f0f0"/>
<rect x="409.55" y="742.55" width="54.1" height="10.4" rx="0.5" fill="#e7e7e7" stroke="#1a1a1a" stroke-width="1.5"/>
<rect x="410.3" y="743.3" width="52.6" height="0.9" fill="#f4f4f4"/>
<rect x="410.3" y="751.3" width="52.6" height="0.9" fill="#f0f0f0"/>
<rect x="352.05" y="757.25" width="54.5" height="10.7" rx="0.5" fill="#e7e7e7" stroke="#1a1a1a" stroke-width="1.5"/>
<rect x="352.8" y="758" width="53" height="0.9" fill="#f4f4f4"/>
<rect x="352.8" y="766.3" width="53" height="0.9" fill="#f0f0f0"/>
<rect x="409.55" y="757.25" width="54.1" height="10.7" rx="0.5" fill="#e7e7e7" stroke="#1a1a1a" stroke-width="1.5"/>
<rect x="410.3" y="758" width="52.6" height="0.9" fill="#f4f4f4"/>
<rect x="410.3" y="766.3" width="52.6" height="0.9" fill="#f0f0f0"/>
<rect x="352.05" y="779.05" width="54.5" height="9.7" rx="0.5" fill="#e7e7e7" stroke="#1a1a1a" stroke-width="1.5"/>
<rect x="352.8" y="779.8" width="53" height="0.9" fill="#f4f4f4"/>
<rect x="352.8" y="787.1" width="53" height="0.9" fill="#f0f0f0"/>
<rect x="409.55" y="779.05" width="54.1" height="9.7" rx="0.5" fill="#e7e7e7" stroke="#1a1a1a" stroke-width="1.5"/>
<rect x="410.3" y="779.8" width="52.6" height="0.9" fill="#f4f4f4"/>
<rect x="410.3" y="787.1" width="52.6" height="0.9" fill="#f0f0f0"/>
<rect x="352.05" y="791.95" width="54.5" height="10.4" rx="0.5" fill="#e7e7e7" stroke="#1a1a1a" stroke-width="1.5"/>
<rect x="352.8" y="792.7" width="53" height="0.9" fill="#f4f4f4"/>
<rect x="352.8" y="800.7" width="53" height="0.9" fill="#f0f0f0"/>
<rect x="409.55" y="791.95" width="54.1" height="10.4" rx="0.5" fill="#e7e7e7" stroke="#1a1a1a" stroke-width="1.5"/>
<rect x="410.3" y="792.7" width="52.6" height="0.9" fill="#f4f4f4"/>
<rect x="410.3" y="800.7" width="52.6" height="0.9" fill="#f0f0f0"/>
<rect x="352.05" y="806.55" width="54.5" height="10.6" rx="0.5" fill="#e7e7e7" stroke="#1a1a1a" stroke-width="1.5"/>
<rect x="352.8" y="807.3" width="53" height="0.9" fill="#f4f4f4"/>
<rect x="352.8" y="815.5" width="53" height="0.9" fill="#f0f0f0"/>
<rect x="409.55" y="806.55" width="54.1" height="10.6" rx="0.5" fill="#e7e7e7" stroke="#1a1a1a" stroke-width="1.5"/>
<rect x="410.3" y="807.3" width="52.6" height="0.9" fill="#f4f4f4"/>
<rect x="410.3" y="815.5" width="52.6" height="0.9" fill="#f0f0f0"/>
<rect x="352.05" y="819.65" width="54.5" height="10.4" rx="0.5" fill="#e7e7e7" stroke="#1a1a1a" stroke-width="1.5"/>
<rect x="352.8" y="820.4" width="53" height="0.9" fill="#f4f4f4"/>
<rect x="352.8" y="828.4" width="53" height="0.9" fill="#f0f0f0"/>
<rect x="409.55" y="819.65" width="54.1" height="10.4" rx="0.5" fill="#e7e7e7" stroke="#1a1a1a" stroke-width="1.5"/>
<rect x="410.3" y="820.4" width="52.6" height="0.9" fill="#f4f4f4"/>
<rect x="410.3" y="828.4" width="52.6" height="0.9" fill="#f0f0f0"/>
<rect x="352.05" y="834.95" width="54.5" height="10.7" rx="0.5" fill="#e7e7e7" stroke="#1a1a1a" stroke-width="1.5"/>
<rect x="352.8" y="835.7" width="53" height="0.9" fill="#f4f4f4"/>
<rect x="352.8" y="844" width="53" height="0.9" fill="#f0f0f0"/>
<rect x="409.55" y="834.95" width="54.1" height="10.7" rx="0.5" fill="#e7e7e7" stroke="#1a1a1a" stroke-width="1.5"/>
<rect x="410.3" y="835.7" width="52.6" height="0.9" fill="#f4f4f4"/>
<rect x="410.3" y="844" width="52.6" height="0.9" fill="#f0f0f0"/>
<g filter="url(#bb)">
<path d="M105.8 706.8 Q112.5 706.2 119.2 706.8" fill="none" stroke="#000" stroke-width="4.4" stroke-linecap="round" opacity="1"/>
<path d="M177.08 706.8 Q184.7 706.2 192.32 706.8" fill="none" stroke="#000" stroke-width="2.55" stroke-linecap="round" opacity="0.33"/>
<path d="M196.2 706.8 Q202.9 706.2 209.6 706.8" fill="none" stroke="#000" stroke-width="4.4" stroke-linecap="round" opacity="1"/>
<path d="M105.1 720.15 Q112.5 719.55 119.9 720.15" fill="none" stroke="#000" stroke-width="3.01" stroke-linecap="round" opacity="0.99"/>
<path d="M122.8 720.15 Q130.2 719.55 137.6 720.15" fill="none" stroke="#000" stroke-width="3.01" stroke-linecap="round" opacity="0.99"/>
<path d="M140.4 720.15 Q147.8 719.55 155.2 720.15" fill="none" stroke="#000" stroke-width="3.01" stroke-linecap="round" opacity="0.99"/>
<path d="M160.1 720.15 Q167.5 719.55 174.9 720.15" fill="none" stroke="#000" stroke-width="3.01" stroke-linecap="round" opacity="0.99"/>
<path d="M177.3 720.15 Q184.7 719.55 192.1 720.15" fill="none" stroke="#000" stroke-width="3.01" stroke-linecap="round" opacity="0.99"/>
<path d="M195.5 720.15 Q202.9 719.55 210.3 720.15" fill="none" stroke="#000" stroke-width="3.01" stroke-linecap="round" opacity="0.99"/>
<path d="M105.9 734.95 Q112.5 734.35 119.1 734.95" fill="none" stroke="#000" stroke-width="4.6" stroke-linecap="round" opacity="1"/>
<path d="M123.25 734.95 Q130.2 734.35 137.14 734.95" fill="none" stroke="#000" stroke-width="3.91" stroke-linecap="round" opacity="0.83"/>
<path d="M140.72 734.95 Q147.8 734.35 154.88 734.95" fill="none" stroke="#000" stroke-width="3.63" stroke-linecap="round" opacity="0.72"/>
<path d="M159.66 734.95 Q167.5 734.35 175.34 734.95" fill="none" stroke="#000" stroke-width="2.12" stroke-linecap="round" opacity="0.11"/>
<path d="M176.93 734.95 Q184.7 734.35 192.47 734.95" fill="none" stroke="#000" stroke-width="2.25" stroke-linecap="round" opacity="0.17"/>
<path d="M196.3 734.95 Q202.9 734.35 209.5 734.95" fill="none" stroke="#000" stroke-width="4.6" stroke-linecap="round" opacity="1"/>
<path d="M104.97 747.25 Q112.5 746.65 120.03 747.25" fill="none" stroke="#000" stroke-width="2.73" stroke-linecap="round" opacity="0.94"/>
<path d="M122.66 747.25 Q130.2 746.65 137.73 747.25" fill="none" stroke="#000" stroke-width="2.73" stroke-linecap="round" opacity="0.94"/>
<path d="M140.27 747.25 Q147.8 746.65 155.34 747.25" fill="none" stroke="#000" stroke-width="2.73" stroke-linecap="round" opacity="0.94"/>
<path d="M159.97 747.25 Q167.5 746.65 175.03 747.25" fill="none" stroke="#000" stroke-width="2.73" stroke-linecap="round" opacity="0.94"/>
<path d="M177.16 747.25 Q184.7 746.65 192.23 747.25" fill="none" stroke="#000" stroke-width="2.73" stroke-linecap="round" opacity="0.94"/>
<path d="M195.36 747.25 Q202.9 746.65 210.43 747.25" fill="none" stroke="#000" stroke-width="2.73" stroke-linecap="round" opacity="0.94"/>
<path d="M105.06 763.1 Q112.5 762.5 119.94 763.1" fill="none" stroke="#000" stroke-width="2.91" stroke-linecap="round" opacity="0.94"/>
<path d="M122.76 763.1 Q130.2 762.5 137.64 763.1" fill="none" stroke="#000" stroke-width="2.91" stroke-linecap="round" opacity="0.94"/>
<path d="M140.36 763.1 Q147.8 762.5 155.24 763.1" fill="none" stroke="#000" stroke-width="2.91" stroke-linecap="round" opacity="0.94"/>
<path d="M160.06 763.1 Q167.5 762.5 174.94 763.1" fill="none" stroke="#000" stroke-width="2.91" stroke-linecap="round" opacity="0.94"/>
<path d="M177.26 763.1 Q184.7 762.5 192.14 763.1" fill="none" stroke="#000" stroke-width="2.91" stroke-linecap="round" opacity="0.94"/>
<path d="M195.46 763.1 Q202.9 762.5 210.34 763.1" fill="none" stroke="#000" stroke-width="2.91" stroke-linecap="round" opacity="0.94"/>
<path d="M105.22 784.4 Q112.5 783.8 119.78 784.4" fill="none" stroke="#000" stroke-width="3.23" stroke-linecap="round" opacity="0.83"/>
<path d="M176.62 784.4 Q184.7 783.8 192.78 784.4" fill="none" stroke="#000" stroke-width="1.63" stroke-linecap="round" opacity="0.06"/>
<path d="M195.67 784.4 Q202.9 783.8 210.13 784.4" fill="none" stroke="#000" stroke-width="3.34" stroke-linecap="round" opacity="0.88"/>
<path d="M106.2 797.65 Q112.5 797.05 118.8 797.65" fill="none" stroke="#000" stroke-width="5.2" stroke-linecap="round" opacity="1"/>
<path d="M123.9 797.65 Q130.2 797.05 136.5 797.65" fill="none" stroke="#000" stroke-width="5.2" stroke-linecap="round" opacity="1"/>
<path d="M141.5 797.65 Q147.8 797.05 154.1 797.65" fill="none" stroke="#000" stroke-width="5.2" stroke-linecap="round" opacity="1"/>
<path d="M161.2 797.65 Q167.5 797.05 173.8 797.65" fill="none" stroke="#000" stroke-width="5.2" stroke-linecap="round" opacity="1"/>
<path d="M178.4 797.65 Q184.7 797.05 191 797.65" fill="none" stroke="#000" stroke-width="5.2" stroke-linecap="round" opacity="1"/>
<path d="M196.6 797.65 Q202.9 797.05 209.2 797.65" fill="none" stroke="#000" stroke-width="5.2" stroke-linecap="round" opacity="1"/>
<path d="M106.1 812.35 Q112.5 811.75 118.9 812.35" fill="none" stroke="#000" stroke-width="5" stroke-linecap="round" opacity="1"/>
<path d="M122.35 810.75 Q130.2 810.35 138.05 810.75" fill="none" stroke="#000" stroke-width="2.1" stroke-linecap="round" opacity="0.99"/>
<path d="M122.35 813.85 Q130.2 813.45 138.05 813.85" fill="none" stroke="#000" stroke-width="2.1" stroke-linecap="round" opacity="0.99"/>
<path d="M139.95 810.75 Q147.8 810.35 155.65 810.75" fill="none" stroke="#000" stroke-width="2.1" stroke-linecap="round" opacity="0.99"/>
<path d="M139.95 813.85 Q147.8 813.45 155.65 813.85" fill="none" stroke="#000" stroke-width="2.1" stroke-linecap="round" opacity="0.99"/>
<path d="M159.65 810.75 Q167.5 810.35 175.35 810.75" fill="none" stroke="#000" stroke-width="2.1" stroke-linecap="round" opacity="1"/>
<path d="M159.65 813.85 Q167.5 813.45 175.35 813.85" fill="none" stroke="#000" stroke-width="2.1" stroke-linecap="round" opacity="1"/>
<path d="M176.85 810.75 Q184.7 810.35 192.55 810.75" fill="none" stroke="#000" stroke-width="2.1" stroke-linecap="round" opacity="1"/>
<path d="M176.85 813.85 Q184.7 813.45 192.55 813.85" fill="none" stroke="#000" stroke-width="2.1" stroke-linecap="round" opacity="1"/>
<path d="M196.5 812.35 Q202.9 811.75 209.3 812.35" fill="none" stroke="#000" stroke-width="5" stroke-linecap="round" opacity="1"/>
<path d="M105.93 824.35 Q112.5 823.75 119.07 824.35" fill="none" stroke="#000" stroke-width="4.66" stroke-linecap="round" opacity="1"/>
<path d="M123.63 824.35 Q130.2 823.75 136.77 824.35" fill="none" stroke="#000" stroke-width="4.66" stroke-linecap="round" opacity="1"/>
<path d="M141.23 824.35 Q147.8 823.75 154.37 824.35" fill="none" stroke="#000" stroke-width="4.66" stroke-linecap="round" opacity="1"/>
<path d="M160.93 824.35 Q167.5 823.75 174.07 824.35" fill="none" stroke="#000" stroke-width="4.66" stroke-linecap="round" opacity="1"/>
<path d="M178.13 824.35 Q184.7 823.75 191.27 824.35" fill="none" stroke="#000" stroke-width="4.66" stroke-linecap="round" opacity="1"/>
<path d="M196.33 824.35 Q202.9 823.75 209.47 824.35" fill="none" stroke="#000" stroke-width="4.66" stroke-linecap="round" opacity="1"/>
<path d="M105.48 840.8 Q112.5 840.2 119.52 840.8" fill="none" stroke="#000" stroke-width="3.76" stroke-linecap="round" opacity="0.99"/>
<path d="M123.18 840.8 Q130.2 840.2 137.22 840.8" fill="none" stroke="#000" stroke-width="3.76" stroke-linecap="round" opacity="0.99"/>
<path d="M140.78 840.8 Q147.8 840.2 154.82 840.8" fill="none" stroke="#000" stroke-width="3.76" stroke-linecap="round" opacity="0.99"/>
<path d="M160.48 840.8 Q167.5 840.2 174.52 840.8" fill="none" stroke="#000" stroke-width="3.76" stroke-linecap="round" opacity="0.99"/>
<path d="M177.68 840.8 Q184.7 840.2 191.72 840.8" fill="none" stroke="#000" stroke-width="3.76" stroke-linecap="round" opacity="0.99"/>
<path d="M195.88 840.8 Q202.9 840.2 209.92 840.8" fill="none" stroke="#000" stroke-width="3.76" stroke-linecap="round" opacity="0.99"/>
<path d="M231.1 706.8 Q237.8 706.2 244.5 706.8" fill="none" stroke="#000" stroke-width="4.4" stroke-linecap="round" opacity="1"/>
<path d="M284.89 706.8 Q292.8 706.2 300.71 706.8" fill="none" stroke="#000" stroke-width="1.97" stroke-linecap="round" opacity="0.09"/>
<path d="M302.71 706.8 Q310 706.2 317.29 706.8" fill="none" stroke="#000" stroke-width="3.21" stroke-linecap="round" opacity="0.61"/>
<path d="M321.5 706.8 Q328.2 706.2 334.9 706.8" fill="none" stroke="#000" stroke-width="4.4" stroke-linecap="round" opacity="1"/>
<path d="M230.36 720.15 Q237.8 719.55 245.24 720.15" fill="none" stroke="#000" stroke-width="2.91" stroke-linecap="round" opacity="0.94"/>
<path d="M248.06 720.15 Q255.5 719.55 262.94 720.15" fill="none" stroke="#000" stroke-width="2.91" stroke-linecap="round" opacity="0.94"/>
<path d="M265.66 720.15 Q273.1 719.55 280.54 720.15" fill="none" stroke="#000" stroke-width="2.91" stroke-linecap="round" opacity="0.94"/>
<path d="M285.36 720.15 Q292.8 719.55 300.24 720.15" fill="none" stroke="#000" stroke-width="2.91" stroke-linecap="round" opacity="0.94"/>
<path d="M302.56 720.15 Q310 719.55 317.44 720.15" fill="none" stroke="#000" stroke-width="2.91" stroke-linecap="round" opacity="0.94"/>
<path d="M320.76 720.15 Q328.2 719.55 335.64 720.15" fill="none" stroke="#000" stroke-width="2.91" stroke-linecap="round" opacity="0.94"/>
<path d="M231.2 734.95 Q237.8 734.35 244.4 734.95" fill="none" stroke="#000" stroke-width="4.6" stroke-linecap="round" opacity="1"/>
<path d="M247.57 733.47 Q255.5 733.07 263.43 733.47" fill="none" stroke="#000" stroke-width="1.93" stroke-linecap="round" opacity="0.9"/>
<path d="M247.57 736.32 Q255.5 735.92 263.43 736.32" fill="none" stroke="#000" stroke-width="1.93" stroke-linecap="round" opacity="0.9"/>
<path d="M265.17 733.47 Q273.1 733.07 281.03 733.47" fill="none" stroke="#000" stroke-width="1.93" stroke-linecap="round" opacity="0.9"/>
<path d="M265.17 736.32 Q273.1 735.92 281.03 736.32" fill="none" stroke="#000" stroke-width="1.93" stroke-linecap="round" opacity="0.9"/>
<path d="M284.87 733.47 Q292.8 733.07 300.73 733.47" fill="none" stroke="#000" stroke-width="1.93" stroke-linecap="round" opacity="0.18"/>
<path d="M284.87 736.32 Q292.8 735.92 300.73 736.32" fill="none" stroke="#000" stroke-width="1.93" stroke-linecap="round" opacity="0.18"/>
<path d="M302.07 733.47 Q310 733.07 317.93 733.47" fill="none" stroke="#000" stroke-width="1.93" stroke-linecap="round" opacity="0.27"/>
<path d="M302.07 736.32 Q310 735.92 317.93 736.32" fill="none" stroke="#000" stroke-width="1.93" stroke-linecap="round" opacity="0.27"/>
<path d="M321.6 734.95 Q328.2 734.35 334.8 734.95" fill="none" stroke="#000" stroke-width="4.6" stroke-linecap="round" opacity="1"/>
<path d="M230.27 747.25 Q237.8 746.65 245.34 747.25" fill="none" stroke="#000" stroke-width="2.73" stroke-linecap="round" opacity="0.94"/>
<path d="M247.97 747.25 Q255.5 746.65 263.04 747.25" fill="none" stroke="#000" stroke-width="2.73" stroke-linecap="round" opacity="0.94"/>
<path d="M265.56 747.25 Q273.1 746.65 280.64 747.25" fill="none" stroke="#000" stroke-width="2.73" stroke-linecap="round" opacity="0.94"/>
<path d="M285.26 747.25 Q292.8 746.65 300.34 747.25" fill="none" stroke="#000" stroke-width="2.73" stroke-linecap="round" opacity="0.94"/>
<path d="M302.46 747.25 Q310 746.65 317.54 747.25" fill="none" stroke="#000" stroke-width="2.73" stroke-linecap="round" opacity="0.94"/>
<path d="M320.66 747.25 Q328.2 746.65 335.74 747.25" fill="none" stroke="#000" stroke-width="2.73" stroke-linecap="round" opacity="0.94"/>
<path d="M230.36 763.1 Q237.8 762.5 245.24 763.1" fill="none" stroke="#000" stroke-width="2.91" stroke-linecap="round" opacity="0.94"/>
<path d="M248.06 763.1 Q255.5 762.5 262.94 763.1" fill="none" stroke="#000" stroke-width="2.91" stroke-linecap="round" opacity="0.94"/>
<path d="M265.66 763.1 Q273.1 762.5 280.54 763.1" fill="none" stroke="#000" stroke-width="2.91" stroke-linecap="round" opacity="0.94"/>
<path d="M285.36 763.1 Q292.8 762.5 300.24 763.1" fill="none" stroke="#000" stroke-width="2.91" stroke-linecap="round" opacity="0.94"/>
<path d="M302.56 763.1 Q310 762.5 317.44 763.1" fill="none" stroke="#000" stroke-width="2.91" stroke-linecap="round" opacity="0.94"/>
<path d="M320.76 763.1 Q328.2 762.5 335.64 763.1" fill="none" stroke="#000" stroke-width="2.91" stroke-linecap="round" opacity="0.94"/>
<path d="M230.63 784.4 Q237.8 783.8 244.97 784.4" fill="none" stroke="#000" stroke-width="3.46" stroke-linecap="round" opacity="0.94"/>
<path d="M302.2 784.4 Q310 783.8 317.8 784.4" fill="none" stroke="#000" stroke-width="2.2" stroke-linecap="round" opacity="0.33"/>
<path d="M321.14 784.4 Q328.2 783.8 335.26 784.4" fill="none" stroke="#000" stroke-width="3.69" stroke-linecap="round" opacity="1"/>
<path d="M231.42 797.65 Q237.8 797.05 244.18 797.65" fill="none" stroke="#000" stroke-width="5.04" stroke-linecap="round" opacity="1"/>
<path d="M249.12 797.65 Q255.5 797.05 261.88 797.65" fill="none" stroke="#000" stroke-width="5.04" stroke-linecap="round" opacity="1"/>
<path d="M266.72 797.65 Q273.1 797.05 279.48 797.65" fill="none" stroke="#000" stroke-width="5.04" stroke-linecap="round" opacity="1"/>
<path d="M286.42 797.65 Q292.8 797.05 299.18 797.65" fill="none" stroke="#000" stroke-width="5.04" stroke-linecap="round" opacity="1"/>
<path d="M303.62 797.65 Q310 797.05 316.38 797.65" fill="none" stroke="#000" stroke-width="5.04" stroke-linecap="round" opacity="1"/>
<path d="M321.82 797.65 Q328.2 797.05 334.58 797.65" fill="none" stroke="#000" stroke-width="5.04" stroke-linecap="round" opacity="1"/>
<path d="M231.4 812.35 Q237.8 811.75 244.2 812.35" fill="none" stroke="#000" stroke-width="5" stroke-linecap="round" opacity="1"/>
<path d="M247.65 810.75 Q255.5 810.35 263.35 810.75" fill="none" stroke="#000" stroke-width="2.1" stroke-linecap="round" opacity="0.81"/>
<path d="M247.65 813.85 Q255.5 813.45 263.35 813.85" fill="none" stroke="#000" stroke-width="2.1" stroke-linecap="round" opacity="0.81"/>
<path d="M265.25 810.75 Q273.1 810.35 280.95 810.75" fill="none" stroke="#000" stroke-width="2.1" stroke-linecap="round" opacity="0.72"/>
<path d="M265.25 813.85 Q273.1 813.45 280.95 813.85" fill="none" stroke="#000" stroke-width="2.1" stroke-linecap="round" opacity="0.72"/>
<path d="M284.95 810.75 Q292.8 810.35 300.65 810.75" fill="none" stroke="#000" stroke-width="2.1" stroke-linecap="round" opacity="1"/>
<path d="M284.95 813.85 Q292.8 813.45 300.65 813.85" fill="none" stroke="#000" stroke-width="2.1" stroke-linecap="round" opacity="1"/>
<path d="M302.15 810.75 Q310 810.35 317.85 810.75" fill="none" stroke="#000" stroke-width="2.1" stroke-linecap="round" opacity="0.72"/>
<path d="M302.15 813.85 Q310 813.45 317.85 813.85" fill="none" stroke="#000" stroke-width="2.1" stroke-linecap="round" opacity="0.72"/>
<path d="M321.8 812.35 Q328.2 811.75 334.6 812.35" fill="none" stroke="#000" stroke-width="5" stroke-linecap="round" opacity="1"/>
<path d="M231.16 824.35 Q237.8 823.75 244.44 824.35" fill="none" stroke="#000" stroke-width="4.51" stroke-linecap="round" opacity="0.99"/>
<path d="M248.86 824.35 Q255.5 823.75 262.14 824.35" fill="none" stroke="#000" stroke-width="4.51" stroke-linecap="round" opacity="0.99"/>
<path d="M266.46 824.35 Q273.1 823.75 279.74 824.35" fill="none" stroke="#000" stroke-width="4.51" stroke-linecap="round" opacity="0.99"/>
<path d="M286.16 824.35 Q292.8 823.75 299.44 824.35" fill="none" stroke="#000" stroke-width="4.51" stroke-linecap="round" opacity="0.99"/>
<path d="M303.36 824.35 Q310 823.75 316.64 824.35" fill="none" stroke="#000" stroke-width="4.51" stroke-linecap="round" opacity="0.99"/>
<path d="M321.56 824.35 Q328.2 823.75 334.84 824.35" fill="none" stroke="#000" stroke-width="4.51" stroke-linecap="round" opacity="0.99"/>
<path d="M230.78 840.8 Q237.8 840.2 244.82 840.8" fill="none" stroke="#000" stroke-width="3.76" stroke-linecap="round" opacity="0.99"/>
<path d="M248.48 840.8 Q255.5 840.2 262.52 840.8" fill="none" stroke="#000" stroke-width="3.76" stroke-linecap="round" opacity="0.99"/>
<path d="M266.08 840.8 Q273.1 840.2 280.12 840.8" fill="none" stroke="#000" stroke-width="3.76" stroke-linecap="round" opacity="0.99"/>
<path d="M285.78 840.8 Q292.8 840.2 299.82 840.8" fill="none" stroke="#000" stroke-width="3.76" stroke-linecap="round" opacity="0.99"/>
<path d="M302.98 840.8 Q310 840.2 317.02 840.8" fill="none" stroke="#000" stroke-width="3.76" stroke-linecap="round" opacity="0.99"/>
<path d="M321.18 840.8 Q328.2 840.2 335.22 840.8" fill="none" stroke="#000" stroke-width="3.76" stroke-linecap="round" opacity="0.99"/>
<path d="M355.77 706.8 Q362.6 706.2 369.43 706.8" fill="none" stroke="#000" stroke-width="4.14" stroke-linecap="round" opacity="0.99"/>
<path d="M373.34 706.8 Q380.3 706.2 387.26 706.8" fill="none" stroke="#000" stroke-width="3.87" stroke-linecap="round" opacity="0.88"/>
<path d="M391 706.8 Q397.9 706.2 404.8 706.8" fill="none" stroke="#000" stroke-width="4" stroke-linecap="round" opacity="0.94"/>
<path d="M409.62 706.8 Q417.6 706.2 425.58 706.8" fill="none" stroke="#000" stroke-width="1.84" stroke-linecap="round" opacity="0.03"/>
<path d="M427.37 706.8 Q434.8 706.2 442.23 706.8" fill="none" stroke="#000" stroke-width="2.95" stroke-linecap="round" opacity="0.5"/>
<path d="M446.3 706.8 Q453 706.2 459.7 706.8" fill="none" stroke="#000" stroke-width="4.4" stroke-linecap="round" opacity="1"/>
<path d="M355.2 720.15 Q362.6 719.55 370 720.15" fill="none" stroke="#000" stroke-width="3.01" stroke-linecap="round" opacity="0.99"/>
<path d="M372.9 720.15 Q380.3 719.55 387.7 720.15" fill="none" stroke="#000" stroke-width="3.01" stroke-linecap="round" opacity="0.99"/>
<path d="M390.5 720.15 Q397.9 719.55 405.3 720.15" fill="none" stroke="#000" stroke-width="3.01" stroke-linecap="round" opacity="0.99"/>
<path d="M410.2 720.15 Q417.6 719.55 425 720.15" fill="none" stroke="#000" stroke-width="3.01" stroke-linecap="round" opacity="0.99"/>
<path d="M427.4 720.15 Q434.8 719.55 442.2 720.15" fill="none" stroke="#000" stroke-width="3.01" stroke-linecap="round" opacity="0.99"/>
<path d="M445.6 720.15 Q453 719.55 460.4 720.15" fill="none" stroke="#000" stroke-width="3.01" stroke-linecap="round" opacity="0.99"/>
<path d="M356 734.95 Q362.6 734.35 369.2 734.95" fill="none" stroke="#000" stroke-width="4.6" stroke-linecap="round" opacity="1"/>
<path d="M373.63 734.95 Q380.3 734.35 386.97 734.95" fill="none" stroke="#000" stroke-width="4.46" stroke-linecap="round" opacity="1"/>
<path d="M391.23 734.95 Q397.9 734.35 404.57 734.95" fill="none" stroke="#000" stroke-width="4.46" stroke-linecap="round" opacity="1"/>
<path d="M409.73 734.95 Q417.6 734.35 425.47 734.95" fill="none" stroke="#000" stroke-width="2.06" stroke-linecap="round" opacity="0.09"/>
<path d="M426.96 734.95 Q434.8 734.35 442.64 734.95" fill="none" stroke="#000" stroke-width="2.12" stroke-linecap="round" opacity="0.11"/>
<path d="M446.4 734.95 Q453 734.35 459.6 734.95" fill="none" stroke="#000" stroke-width="4.6" stroke-linecap="round" opacity="1"/>
<path d="M355.02 747.25 Q362.6 746.65 370.18 747.25" fill="none" stroke="#000" stroke-width="2.64" stroke-linecap="round" opacity="0.88"/>
<path d="M372.72 747.25 Q380.3 746.65 387.88 747.25" fill="none" stroke="#000" stroke-width="2.64" stroke-linecap="round" opacity="0.88"/>
<path d="M390.32 747.25 Q397.9 746.65 405.48 747.25" fill="none" stroke="#000" stroke-width="2.64" stroke-linecap="round" opacity="0.88"/>
<path d="M410.02 747.25 Q417.6 746.65 425.18 747.25" fill="none" stroke="#000" stroke-width="2.64" stroke-linecap="round" opacity="0.88"/>
<path d="M427.22 747.25 Q434.8 746.65 442.38 747.25" fill="none" stroke="#000" stroke-width="2.64" stroke-linecap="round" opacity="0.88"/>
<path d="M445.42 747.25 Q453 746.65 460.58 747.25" fill="none" stroke="#000" stroke-width="2.64" stroke-linecap="round" opacity="0.88"/>
<path d="M355.16 763.1 Q362.6 762.5 370.04 763.1" fill="none" stroke="#000" stroke-width="2.91" stroke-linecap="round" opacity="0.94"/>
<path d="M372.86 763.1 Q380.3 762.5 387.74 763.1" fill="none" stroke="#000" stroke-width="2.91" stroke-linecap="round" opacity="0.94"/>
<path d="M390.46 763.1 Q397.9 762.5 405.34 763.1" fill="none" stroke="#000" stroke-width="2.91" stroke-linecap="round" opacity="0.94"/>
<path d="M410.16 763.1 Q417.6 762.5 425.04 763.1" fill="none" stroke="#000" stroke-width="2.91" stroke-linecap="round" opacity="0.94"/>
<path d="M427.36 763.1 Q434.8 762.5 442.24 763.1" fill="none" stroke="#000" stroke-width="2.91" stroke-linecap="round" opacity="0.94"/>
<path d="M445.56 763.1 Q453 762.5 460.44 763.1" fill="none" stroke="#000" stroke-width="2.91" stroke-linecap="round" opacity="0.94"/>
<path d="M355.37 784.4 Q362.6 783.8 369.83 784.4" fill="none" stroke="#000" stroke-width="3.34" stroke-linecap="round" opacity="0.88"/>
<path d="M372.96 784.4 Q380.3 783.8 387.64 784.4" fill="none" stroke="#000" stroke-width="3.12" stroke-linecap="round" opacity="0.77"/>
<path d="M390.67 784.4 Q397.9 783.8 405.13 784.4" fill="none" stroke="#000" stroke-width="3.34" stroke-linecap="round" opacity="0.88"/>
<path d="M409.52 784.4 Q417.6 783.8 425.68 784.4" fill="none" stroke="#000" stroke-width="1.63" stroke-linecap="round" opacity="0.06"/>
<path d="M427 784.4 Q434.8 783.8 442.6 784.4" fill="none" stroke="#000" stroke-width="2.2" stroke-linecap="round" opacity="0.33"/>
<path d="M445.94 784.4 Q453 783.8 460.06 784.4" fill="none" stroke="#000" stroke-width="3.69" stroke-linecap="round" opacity="1"/>
<path d="M356.14 797.65 Q362.6 797.05 369.06 797.65" fill="none" stroke="#000" stroke-width="4.89" stroke-linecap="round" opacity="0.99"/>
<path d="M373.84 797.65 Q380.3 797.05 386.76 797.65" fill="none" stroke="#000" stroke-width="4.89" stroke-linecap="round" opacity="0.99"/>
<path d="M391.44 797.65 Q397.9 797.05 404.36 797.65" fill="none" stroke="#000" stroke-width="4.89" stroke-linecap="round" opacity="0.99"/>
<path d="M411.14 797.65 Q417.6 797.05 424.06 797.65" fill="none" stroke="#000" stroke-width="4.89" stroke-linecap="round" opacity="0.99"/>
<path d="M428.34 797.65 Q434.8 797.05 441.26 797.65" fill="none" stroke="#000" stroke-width="4.89" stroke-linecap="round" opacity="0.99"/>
<path d="M446.54 797.65 Q453 797.05 459.46 797.65" fill="none" stroke="#000" stroke-width="4.89" stroke-linecap="round" opacity="0.99"/>
<path d="M356.2 812.35 Q362.6 811.75 369 812.35" fill="none" stroke="#000" stroke-width="5" stroke-linecap="round" opacity="1"/>
<path d="M372.45 810.75 Q380.3 810.35 388.15 810.75" fill="none" stroke="#000" stroke-width="2.1" stroke-linecap="round" opacity="1"/>
<path d="M372.45 813.85 Q380.3 813.45 388.15 813.85" fill="none" stroke="#000" stroke-width="2.1" stroke-linecap="round" opacity="1"/>
<path d="M391.5 812.35 Q397.9 811.75 404.3 812.35" fill="none" stroke="#000" stroke-width="5" stroke-linecap="round" opacity="1"/>
<path d="M409.75 810.75 Q417.6 810.35 425.45 810.75" fill="none" stroke="#000" stroke-width="2.1" stroke-linecap="round" opacity="0.9"/>
<path d="M409.75 813.85 Q417.6 813.45 425.45 813.85" fill="none" stroke="#000" stroke-width="2.1" stroke-linecap="round" opacity="0.9"/>
<path d="M426.95 810.75 Q434.8 810.35 442.65 810.75" fill="none" stroke="#000" stroke-width="2.1" stroke-linecap="round" opacity="0.99"/>
<path d="M426.95 813.85 Q434.8 813.45 442.65 813.85" fill="none" stroke="#000" stroke-width="2.1" stroke-linecap="round" opacity="0.99"/>
<path d="M446.6 812.35 Q453 811.75 459.4 812.35" fill="none" stroke="#000" stroke-width="5" stroke-linecap="round" opacity="1"/>
<path d="M355.88 824.35 Q362.6 823.75 369.32 824.35" fill="none" stroke="#000" stroke-width="4.37" stroke-linecap="round" opacity="0.94"/>
<path d="M373.58 824.35 Q380.3 823.75 387.02 824.35" fill="none" stroke="#000" stroke-width="4.37" stroke-linecap="round" opacity="0.94"/>
<path d="M391.18 824.35 Q397.9 823.75 404.62 824.35" fill="none" stroke="#000" stroke-width="4.37" stroke-linecap="round" opacity="0.94"/>
<path d="M410.88 824.35 Q417.6 823.75 424.32 824.35" fill="none" stroke="#000" stroke-width="4.37" stroke-linecap="round" opacity="0.94"/>
<path d="M428.08 824.35 Q434.8 823.75 441.52 824.35" fill="none" stroke="#000" stroke-width="4.37" stroke-linecap="round" opacity="0.94"/>
<path d="M446.28 824.35 Q453 823.75 459.72 824.35" fill="none" stroke="#000" stroke-width="4.37" stroke-linecap="round" opacity="0.94"/>
<path d="M355.52 840.8 Q362.6 840.2 369.68 840.8" fill="none" stroke="#000" stroke-width="3.64" stroke-linecap="round" opacity="0.94"/>
<path d="M373.22 840.8 Q380.3 840.2 387.38 840.8" fill="none" stroke="#000" stroke-width="3.64" stroke-linecap="round" opacity="0.94"/>
<path d="M390.82 840.8 Q397.9 840.2 404.98 840.8" fill="none" stroke="#000" stroke-width="3.64" stroke-linecap="round" opacity="0.94"/>
<path d="M410.52 840.8 Q417.6 840.2 424.68 840.8" fill="none" stroke="#000" stroke-width="3.64" stroke-linecap="round" opacity="0.94"/>
<path d="M427.72 840.8 Q434.8 840.2 441.88 840.8" fill="none" stroke="#000" stroke-width="3.64" stroke-linecap="round" opacity="0.94"/>
<path d="M445.92 840.8 Q453 840.2 460.08 840.8" fill="none" stroke="#000" stroke-width="3.64" stroke-linecap="round" opacity="0.94"/>
</g>
<text x="90.2" y="708.8" font-size="9" text-anchor="end" font-weight="normal" fill="#111" textLength="22.3" lengthAdjust="spacingAndGlyphs" >77kD</text>
<line x1="93.3" y1="706.3" x2="97.6" y2="706.3" stroke="#222" stroke-width="0.8" />
<text x="90.2" y="722.15" font-size="9" text-anchor="end" font-weight="normal" fill="#111" textLength="22.3" lengthAdjust="spacingAndGlyphs" >77kD</text>
<line x1="93.3" y1="719.65" x2="97.6" y2="719.65" stroke="#222" stroke-width="0.8" />
<text x="90.2" y="736.95" font-size="9" text-anchor="end" font-weight="normal" fill="#111" textLength="36" lengthAdjust="spacingAndGlyphs" >42/44kD</text>
<line x1="93.3" y1="734.45" x2="97.6" y2="734.45" stroke="#222" stroke-width="0.8" />
<text x="90.2" y="750.25" font-size="9" text-anchor="end" font-weight="normal" fill="#111" textLength="36" lengthAdjust="spacingAndGlyphs" >42/44kD</text>
<line x1="93.3" y1="747.75" x2="97.6" y2="747.75" stroke="#222" stroke-width="0.8" />
<text x="90.2" y="765.1" font-size="9" text-anchor="end" font-weight="normal" fill="#111" textLength="22.3" lengthAdjust="spacingAndGlyphs" >37kD</text>
<line x1="93.3" y1="762.6" x2="97.6" y2="762.6" stroke="#222" stroke-width="0.8" />
<text x="90.2" y="786.4" font-size="9" text-anchor="end" font-weight="normal" fill="#111" textLength="22.3" lengthAdjust="spacingAndGlyphs" >77kD</text>
<line x1="93.3" y1="783.9" x2="97.6" y2="783.9" stroke="#222" stroke-width="0.8" />
<text x="90.2" y="799.65" font-size="9" text-anchor="end" font-weight="normal" fill="#111" textLength="22.3" lengthAdjust="spacingAndGlyphs" >77kD</text>
<line x1="93.3" y1="797.15" x2="97.6" y2="797.15" stroke="#222" stroke-width="0.8" />
<text x="90.2" y="814.35" font-size="9" text-anchor="end" font-weight="normal" fill="#111" textLength="36" lengthAdjust="spacingAndGlyphs" >42/44kD</text>
<line x1="93.3" y1="811.85" x2="97.6" y2="811.85" stroke="#222" stroke-width="0.8" />
<text x="90.2" y="827.35" font-size="9" text-anchor="end" font-weight="normal" fill="#111" textLength="36" lengthAdjust="spacingAndGlyphs" >42/44kD</text>
<line x1="93.3" y1="824.85" x2="97.6" y2="824.85" stroke="#222" stroke-width="0.8" />
<text x="90.2" y="842.8" font-size="9" text-anchor="end" font-weight="normal" fill="#111" textLength="22.3" lengthAdjust="spacingAndGlyphs" >37kD</text>
<line x1="93.3" y1="840.3" x2="97.6" y2="840.3" stroke="#222" stroke-width="0.8" />
<text x="468.6" y="709.1" font-size="9.5" text-anchor="start" font-weight="normal" fill="#111" textLength="23.5" lengthAdjust="spacingAndGlyphs" >pBTK</text>
<text x="468.6" y="722.45" font-size="9.5" text-anchor="start" font-weight="normal" fill="#111" textLength="18.5" lengthAdjust="spacingAndGlyphs" >BTK</text>
<text x="468.6" y="737.25" font-size="9.5" text-anchor="start" font-weight="normal" fill="#111" textLength="35.3" lengthAdjust="spacingAndGlyphs" >pERK1/2</text>
<text x="468.6" y="750.55" font-size="9.5" text-anchor="start" font-weight="normal" fill="#111" textLength="30.1" lengthAdjust="spacingAndGlyphs" >ERK1/2</text>
<text x="468.6" y="765.4" font-size="9.5" text-anchor="start" font-weight="normal" fill="#111" textLength="33.2" lengthAdjust="spacingAndGlyphs" >GAPDH</text>
<text x="468.6" y="786.7" font-size="9.5" text-anchor="start" font-weight="normal" fill="#111" textLength="23.5" lengthAdjust="spacingAndGlyphs" >pBTK</text>
<text x="468.6" y="799.95" font-size="9.5" text-anchor="start" font-weight="normal" fill="#111" textLength="18.5" lengthAdjust="spacingAndGlyphs" >BTK</text>
<text x="468.6" y="814.65" font-size="9.5" text-anchor="start" font-weight="normal" fill="#111" textLength="35.3" lengthAdjust="spacingAndGlyphs" >pERK1/2</text>
<text x="468.6" y="827.65" font-size="9.5" text-anchor="start" font-weight="normal" fill="#111" textLength="30.1" lengthAdjust="spacingAndGlyphs" >ERK1/2</text>
<text x="468.6" y="843.1" font-size="9.5" text-anchor="start" font-weight="normal" fill="#111" textLength="33.2" lengthAdjust="spacingAndGlyphs" >GAPDH</text>
<path d="M51.4 702.4 H46.6 V734.6 M46.6 734.6 H42.1 M46.6 734.6 V766.9 H51.4" fill="none" stroke="#111" stroke-width="1.0"/>
<text transform="translate(34.4,752.2) rotate(-90)" font-size="12" font-weight="normal" fill="#111" textLength="33.5" lengthAdjust="spacingAndGlyphs">BCWM.1</text>
<path d="M51.4 779 H46.6 V811.7 M46.6 811.7 H42.1 M46.6 811.7 V843.6 H51.4" fill="none" stroke="#111" stroke-width="1.0"/>
<text transform="translate(34.4,824.8) rotate(-90)" font-size="12" font-weight="normal" fill="#111" textLength="25.4" lengthAdjust="spacingAndGlyphs">TMD-8</text>
<text x="144.2" y="666.5" font-size="9.3" text-anchor="start" font-weight="normal" fill="#111" textLength="27.3" lengthAdjust="spacingAndGlyphs" >Vector</text>
<line x1="103" y1="670.5" x2="212.7" y2="670.5" stroke="#111" stroke-width="1.3" />
<text x="136.85" y="683.4" font-size="9" text-anchor="middle" font-weight="normal" fill="#111" textLength="8.3" lengthAdjust="spacingAndGlyphs" >IB</text>
<line x1="121.9" y1="687.4" x2="152.2" y2="687.4" stroke="#111" stroke-width="1.2" />
<text x="175.8" y="683.4" font-size="9" text-anchor="middle" font-weight="normal" fill="#111" textLength="14.5" lengthAdjust="spacingAndGlyphs" >KIN</text>
<line x1="164.2" y1="687.4" x2="193.1" y2="687.4" stroke="#111" stroke-width="1.2" />
<text x="126.5" y="695.5" font-size="8.8" text-anchor="middle" font-weight="normal" fill="#111" textLength="13.2" lengthAdjust="spacingAndGlyphs" >0.5</text>
<text x="147" y="695.5" font-size="8.8" text-anchor="middle" font-weight="normal" fill="#111" textLength="13.2" lengthAdjust="spacingAndGlyphs" >0.1</text>
<text x="167.7" y="695.5" font-size="8.8" text-anchor="middle" font-weight="normal" fill="#111" textLength="13.2" lengthAdjust="spacingAndGlyphs" >0.5</text>
<text x="188.8" y="695.5" font-size="8.8" text-anchor="middle" font-weight="normal" fill="#111" textLength="13.2" lengthAdjust="spacingAndGlyphs" >0.1</text>
<text transform="translate(104.4,697.1) rotate(-45)" font-size="9.3" fill="#111" textLength="28.5" lengthAdjust="spacingAndGlyphs">DMSO</text>
<text transform="translate(203.5,697.1) rotate(-45)" font-size="9.3" fill="#111" textLength="28.5" lengthAdjust="spacingAndGlyphs">DMSO</text>
<text x="268.1" y="666.5" font-size="9.5" text-anchor="start" font-weight="normal" fill="#111" textLength="17.3" lengthAdjust="spacingAndGlyphs" >BTK</text>
<text x="285.6" y="662.3" font-size="6.9" text-anchor="start" font-weight="normal" fill="#111" textLength="10.6" lengthAdjust="spacingAndGlyphs" >WT</text>
<line x1="229.5" y1="670.5" x2="338.7" y2="670.5" stroke="#111" stroke-width="1.3" />
<text x="262.15" y="683.4" font-size="9" text-anchor="middle" font-weight="normal" fill="#111" textLength="8.3" lengthAdjust="spacingAndGlyphs" >IB</text>
<line x1="247.2" y1="687.4" x2="277.5" y2="687.4" stroke="#111" stroke-width="1.2" />
<text x="301.1" y="683.4" font-size="9" text-anchor="middle" font-weight="normal" fill="#111" textLength="14.5" lengthAdjust="spacingAndGlyphs" >KIN</text>
<line x1="289.5" y1="687.4" x2="318.4" y2="687.4" stroke="#111" stroke-width="1.2" />
<text x="251.8" y="695.5" font-size="8.8" text-anchor="middle" font-weight="normal" fill="#111" textLength="13.2" lengthAdjust="spacingAndGlyphs" >0.5</text>
<text x="272.3" y="695.5" font-size="8.8" text-anchor="middle" font-weight="normal" fill="#111" textLength="13.2" lengthAdjust="spacingAndGlyphs" >0.1</text>
<text x="293" y="695.5" font-size="8.8" text-anchor="middle" font-weight="normal" fill="#111" textLength="13.2" lengthAdjust="spacingAndGlyphs" >0.5</text>
<text x="314.1" y="695.5" font-size="8.8" text-anchor="middle" font-weight="normal" fill="#111" textLength="13.2" lengthAdjust="spacingAndGlyphs" >0.1</text>
<text transform="translate(229.7,697.1) rotate(-45)" font-size="9.3" fill="#111" textLength="28.5" lengthAdjust="spacingAndGlyphs">DMSO</text>
<text transform="translate(328.8,697.1) rotate(-45)" font-size="9.3" fill="#111" textLength="28.5" lengthAdjust="spacingAndGlyphs">DMSO</text>
<text x="376.7" y="666.5" font-size="9.5" text-anchor="start" font-weight="normal" fill="#111" textLength="17.5" lengthAdjust="spacingAndGlyphs" >BTK</text>
<text x="394.4" y="662.3" font-size="6.9" text-anchor="start" font-weight="normal" fill="#111" textLength="34.8" lengthAdjust="spacingAndGlyphs" >Cys481Ser</text>
<line x1="353" y1="670.5" x2="463" y2="670.5" stroke="#111" stroke-width="1.3" />
<text x="386.95" y="683.4" font-size="9" text-anchor="middle" font-weight="normal" fill="#111" textLength="8.3" lengthAdjust="spacingAndGlyphs" >IB</text>
<line x1="372" y1="687.4" x2="402.3" y2="687.4" stroke="#111" stroke-width="1.2" />
<text x="425.9" y="683.4" font-size="9" text-anchor="middle" font-weight="normal" fill="#111" textLength="14.5" lengthAdjust="spacingAndGlyphs" >KIN</text>
<line x1="414.3" y1="687.4" x2="443.2" y2="687.4" stroke="#111" stroke-width="1.2" />
<text x="376.6" y="695.5" font-size="8.8" text-anchor="middle" font-weight="normal" fill="#111" textLength="13.2" lengthAdjust="spacingAndGlyphs" >0.5</text>
<text x="397.1" y="695.5" font-size="8.8" text-anchor="middle" font-weight="normal" fill="#111" textLength="13.2" lengthAdjust="spacingAndGlyphs" >0.1</text>
<text x="417.8" y="695.5" font-size="8.8" text-anchor="middle" font-weight="normal" fill="#111" textLength="13.2" lengthAdjust="spacingAndGlyphs" >0.5</text>
<text x="438.9" y="695.5" font-size="8.8" text-anchor="middle" font-weight="normal" fill="#111" textLength="13.2" lengthAdjust="spacingAndGlyphs" >0.1</text>
<text transform="translate(354.5,697.1) rotate(-45)" font-size="9.3" fill="#111" textLength="28.5" lengthAdjust="spacingAndGlyphs">DMSO</text>
<text transform="translate(453.6,697.1) rotate(-45)" font-size="9.3" fill="#111" textLength="28.5" lengthAdjust="spacingAndGlyphs">DMSO</text>
<text x="470.5" y="695.2" font-size="8.6" text-anchor="start" font-weight="normal" fill="#111" textLength="19.5" lengthAdjust="spacingAndGlyphs" >(μM)</text>
</svg>
</body></html>
